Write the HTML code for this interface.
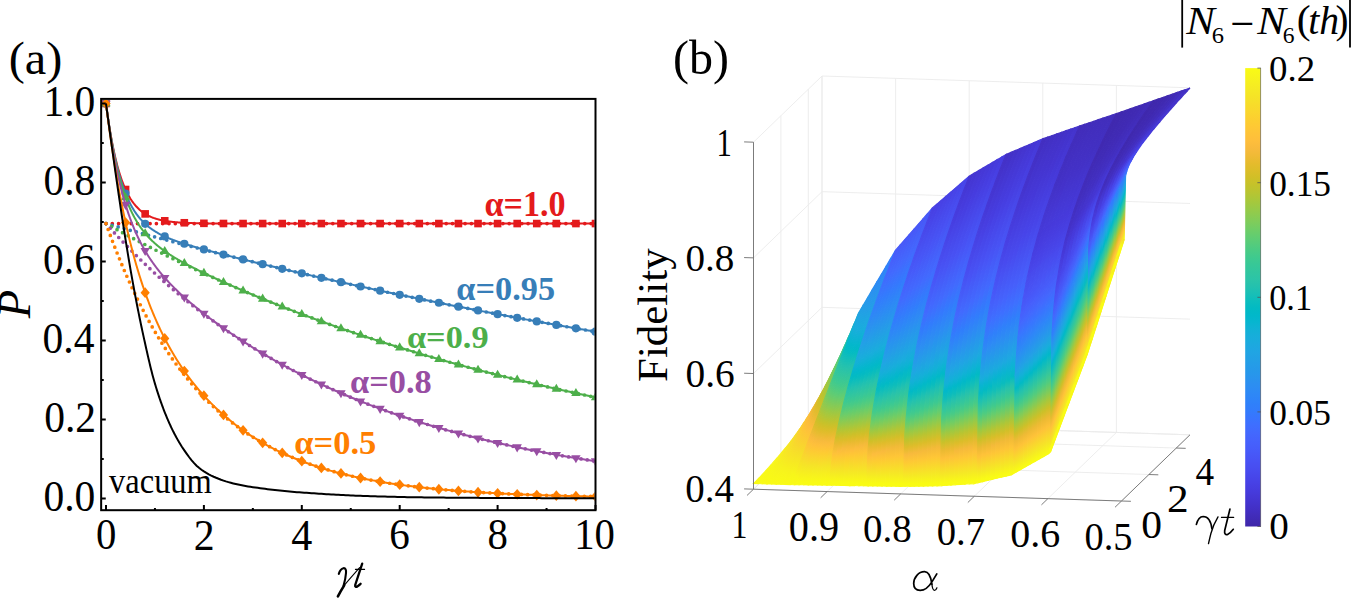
<!DOCTYPE html>
<html><head><meta charset="utf-8"><style>html,body{margin:0;padding:0;background:#fff;overflow:hidden}svg{display:block}</style></head>
<body><svg width="1351" height="599" viewBox="0 0 1351 599">
<rect width="1351" height="599" fill="#fff"/>
<defs><clipPath id='clipA'><rect x='102' y='99.9' width='492.6' height='409.3'/></clipPath></defs>
<g clip-path='url(#clipA)'>
<path d='M106.00,103.50 L106.49,107.22 L106.98,110.83 L107.47,114.33 L107.96,117.71 L108.45,120.99 L108.94,124.17 L109.43,127.26 L109.92,130.24 L110.41,133.14 L110.89,135.94 L111.38,138.66 L111.87,141.29 L112.36,143.84 L112.85,146.31 L113.34,148.71 L113.83,151.03 L114.32,153.28 L114.81,155.45 L115.30,157.57 L115.79,159.61 L116.28,161.59 L116.77,163.52 L117.26,165.38 L117.75,167.18 L118.24,168.93 L118.73,170.62 L119.22,172.26 L119.71,173.85 L120.20,175.40 L120.69,176.89 L121.17,178.34 L121.66,179.74 L122.15,181.10 L122.64,182.41 L123.13,183.69 L123.62,184.92 L124.11,186.12 L124.60,187.28 L125.09,188.41 L125.58,189.50 L126.07,190.55 L126.56,191.58 L127.05,192.57 L127.54,193.53 L128.03,194.46 L128.52,195.36 L129.01,196.24 L129.50,197.08 L129.99,197.90 L130.47,198.70 L130.96,199.47 L131.45,200.22 L131.94,200.94 L132.43,201.64 L132.92,202.32 L133.41,202.98 L133.90,203.62 L134.39,204.23 L134.88,204.83 L135.37,205.41 L135.86,205.98 L136.35,206.52 L136.84,207.05 L137.33,207.56 L137.82,208.06 L138.31,208.54 L138.80,209.00 L139.29,209.45 L139.78,209.89 L140.27,210.31 L140.75,210.72 L141.24,211.12 L141.73,211.51 L142.22,211.88 L142.71,212.24 L143.20,212.59 L143.69,212.93 L144.18,213.26 L144.67,213.58 L145.16,213.89 L145.65,214.19 L146.14,214.48 L146.63,214.76 L147.12,215.03 L147.61,215.30 L148.10,215.55 L148.59,215.80 L149.08,216.04 L149.57,216.27 L150.06,216.50 L150.54,216.72 L151.03,216.93 L151.52,217.14 L152.01,217.33 L152.50,217.53 L152.99,217.71 L153.48,217.90 L153.97,218.07 L154.46,218.24 L154.95,218.41 L155.44,218.56 L155.93,218.72 L156.42,218.87 L156.91,219.01 L157.40,219.15 L157.89,219.29 L158.38,219.42 L158.87,219.55 L159.36,219.68 L159.84,219.80 L160.33,219.91 L160.82,220.02 L161.31,220.13 L161.80,220.24 L162.29,220.34 L162.78,220.44 L163.27,220.54 L163.76,220.63 L164.25,220.72 L164.74,220.81 L165.23,220.89 L165.72,220.98 L166.21,221.06 L166.70,221.13 L167.19,221.21 L167.68,221.28 L168.17,221.35 L168.66,221.42 L169.15,221.49 L169.63,221.55 L170.12,221.61 L170.61,221.67 L171.10,221.73 L171.59,221.79 L172.08,221.84 L172.57,221.89 L173.06,221.95 L173.55,222.00 L174.04,222.04 L174.53,222.09 L175.02,222.14 L175.51,222.18 L176.00,222.22 L176.49,222.26 L176.98,222.30 L177.47,222.34 L177.96,222.38 L178.45,222.42 L178.94,222.45 L179.43,222.48 L181.87,222.64 L184.32,222.77 L186.77,222.89 L189.22,222.98 L191.66,223.07 L194.11,223.14 L196.56,223.20 L199.00,223.25 L201.45,223.29 L203.90,223.33 L206.35,223.36 L208.80,223.39 L211.24,223.41 L213.69,223.43 L216.14,223.45 L218.58,223.46 L221.03,223.48 L223.48,223.49 L225.93,223.50 L228.38,223.50 L230.82,223.51 L233.27,223.52 L235.72,223.52 L238.17,223.53 L240.61,223.53 L243.06,223.53 L245.51,223.53 L247.96,223.54 L250.40,223.54 L252.85,223.54 L255.30,223.54 L257.75,223.54 L260.19,223.54 L262.64,223.54 L265.09,223.55 L267.53,223.55 L269.98,223.55 L272.43,223.55 L274.88,223.55 L277.33,223.55 L279.77,223.55 L282.22,223.55 L284.67,223.55 L287.12,223.55 L289.56,223.55 L292.01,223.55 L294.46,223.55 L296.91,223.55 L299.35,223.55 L301.80,223.55 L304.25,223.55 L306.69,223.55 L309.14,223.55 L311.59,223.55 L314.04,223.55 L316.49,223.55 L318.93,223.55 L321.38,223.55 L323.83,223.55 L326.27,223.55 L328.72,223.55 L331.17,223.55 L333.62,223.55 L336.07,223.55 L338.51,223.55 L340.96,223.55 L343.41,223.55 L345.86,223.55 L348.30,223.55 L350.75,223.55 L353.20,223.55 L355.64,223.55 L358.09,223.55 L360.54,223.55 L362.99,223.55 L365.44,223.55 L367.88,223.55 L370.33,223.55 L372.78,223.55 L375.23,223.55 L377.67,223.55 L380.12,223.55 L382.57,223.55 L385.02,223.55 L387.46,223.55 L389.91,223.55 L392.36,223.55 L394.81,223.55 L397.25,223.55 L399.70,223.55 L402.15,223.55 L404.60,223.55 L407.04,223.55 L409.49,223.55 L411.94,223.55 L414.39,223.55 L416.83,223.55 L419.28,223.55 L421.73,223.55 L424.18,223.55 L426.62,223.55 L429.07,223.55 L431.52,223.55 L433.97,223.55 L436.41,223.55 L438.86,223.55 L441.31,223.55 L443.76,223.55 L446.20,223.55 L448.65,223.55 L451.10,223.55 L453.55,223.55 L455.99,223.55 L458.44,223.55 L460.89,223.55 L463.34,223.55 L465.78,223.55 L468.23,223.55 L470.68,223.55 L473.12,223.55 L475.57,223.55 L478.02,223.55 L480.47,223.55 L482.92,223.55 L485.36,223.55 L487.81,223.55 L490.26,223.55 L492.71,223.55 L495.15,223.55 L497.60,223.55 L500.05,223.55 L502.50,223.55 L504.94,223.55 L507.39,223.55 L509.84,223.55 L512.29,223.55 L514.73,223.55 L517.18,223.55 L519.63,223.55 L522.08,223.55 L524.52,223.55 L526.97,223.55 L529.42,223.55 L531.87,223.55 L534.31,223.55 L536.76,223.55 L539.21,223.55 L541.65,223.55 L544.10,223.55 L546.55,223.55 L549.00,223.55 L551.45,223.55 L553.89,223.55 L556.34,223.55 L558.79,223.55 L561.24,223.55 L563.68,223.55 L566.13,223.55 L568.58,223.55 L571.03,223.55 L573.47,223.55 L575.92,223.55 L578.37,223.55 L580.82,223.55 L583.26,223.55 L585.71,223.55 L588.16,223.55 L590.61,223.55 L593.05,223.55 L595.50,223.55' fill='none' stroke='#E41A1C' stroke-width='2' stroke-linejoin='round'/>
<path d='M106.00,223.55 L106.49,223.55 L106.98,223.55 L107.47,223.55 L107.96,223.55 L108.45,223.55 L108.94,223.55 L109.43,223.55 L109.92,223.55 L110.41,223.55 L110.89,223.55 L111.38,223.55 L111.87,223.55 L112.36,223.55 L112.85,223.55 L113.34,223.55 L113.83,223.55 L114.32,223.55 L114.81,223.55 L115.30,223.55 L115.79,223.55 L116.28,223.55 L116.77,223.55 L117.26,223.55 L117.75,223.55 L118.24,223.55 L118.73,223.55 L119.22,223.55 L119.71,223.55 L120.20,223.55 L120.69,223.55 L121.17,223.55 L121.66,223.55 L122.15,223.55 L122.64,223.55 L123.13,223.55 L123.62,223.55 L124.11,223.55 L124.60,223.55 L125.09,223.55 L125.58,223.55 L126.07,223.55 L126.56,223.55 L127.05,223.55 L127.54,223.55 L128.03,223.55 L128.52,223.55 L129.01,223.55 L129.50,223.55 L129.99,223.55 L130.47,223.55 L130.96,223.55 L131.45,223.55 L131.94,223.55 L132.43,223.55 L132.92,223.55 L133.41,223.55 L133.90,223.55 L134.39,223.55 L134.88,223.55 L135.37,223.55 L135.86,223.55 L136.35,223.55 L136.84,223.55 L137.33,223.55 L137.82,223.55 L138.31,223.55 L138.80,223.55 L139.29,223.55 L139.78,223.55 L140.27,223.55 L140.75,223.55 L141.24,223.55 L141.73,223.55 L142.22,223.55 L142.71,223.55 L143.20,223.55 L143.69,223.55 L144.18,223.55 L144.67,223.55 L145.16,223.55 L145.65,223.55 L146.14,223.55 L146.63,223.55 L147.12,223.55 L147.61,223.55 L148.10,223.55 L148.59,223.55 L149.08,223.55 L149.57,223.55 L150.06,223.55 L150.54,223.55 L151.03,223.55 L151.52,223.55 L152.01,223.55 L152.50,223.55 L152.99,223.55 L153.48,223.55 L153.97,223.55 L154.46,223.55 L154.95,223.55 L155.44,223.55 L155.93,223.55 L156.42,223.55 L156.91,223.55 L157.40,223.55 L157.89,223.55 L158.38,223.55 L158.87,223.55 L159.36,223.55 L159.84,223.55 L160.33,223.55 L160.82,223.55 L161.31,223.55 L161.80,223.55 L162.29,223.55 L162.78,223.55 L163.27,223.55 L163.76,223.55 L164.25,223.55 L164.74,223.55 L165.23,223.55 L165.72,223.55 L166.21,223.55 L166.70,223.55 L167.19,223.55 L167.68,223.55 L168.17,223.55 L168.66,223.55 L169.15,223.55 L169.63,223.55 L170.12,223.55 L170.61,223.55 L171.10,223.55 L171.59,223.55 L172.08,223.55 L172.57,223.55 L173.06,223.55 L173.55,223.55 L174.04,223.55 L174.53,223.55 L175.02,223.55 L175.51,223.55 L176.00,223.55 L176.49,223.55 L176.98,223.55 L177.47,223.55 L177.96,223.55 L178.45,223.55 L178.94,223.55 L179.43,223.55 L181.87,223.55 L184.32,223.55 L186.77,223.55 L189.22,223.55 L191.66,223.55 L194.11,223.55 L196.56,223.55 L199.00,223.55 L201.45,223.55 L203.90,223.55 L206.35,223.55 L208.80,223.55 L211.24,223.55 L213.69,223.55 L216.14,223.55 L218.58,223.55 L221.03,223.55 L223.48,223.55 L225.93,223.55 L228.38,223.55 L230.82,223.55 L233.27,223.55 L235.72,223.55 L238.17,223.55 L240.61,223.55 L243.06,223.55 L245.51,223.55 L247.96,223.55 L250.40,223.55 L252.85,223.55 L255.30,223.55 L257.75,223.55 L260.19,223.55 L262.64,223.55 L265.09,223.55 L267.53,223.55 L269.98,223.55 L272.43,223.55 L274.88,223.55 L277.33,223.55 L279.77,223.55 L282.22,223.55 L284.67,223.55 L287.12,223.55 L289.56,223.55 L292.01,223.55 L294.46,223.55 L296.91,223.55 L299.35,223.55 L301.80,223.55 L304.25,223.55 L306.69,223.55 L309.14,223.55 L311.59,223.55 L314.04,223.55 L316.49,223.55 L318.93,223.55 L321.38,223.55 L323.83,223.55 L326.27,223.55 L328.72,223.55 L331.17,223.55 L333.62,223.55 L336.07,223.55 L338.51,223.55 L340.96,223.55 L343.41,223.55 L345.86,223.55 L348.30,223.55 L350.75,223.55 L353.20,223.55 L355.64,223.55 L358.09,223.55 L360.54,223.55 L362.99,223.55 L365.44,223.55 L367.88,223.55 L370.33,223.55 L372.78,223.55 L375.23,223.55 L377.67,223.55 L380.12,223.55 L382.57,223.55 L385.02,223.55 L387.46,223.55 L389.91,223.55 L392.36,223.55 L394.81,223.55 L397.25,223.55 L399.70,223.55 L402.15,223.55 L404.60,223.55 L407.04,223.55 L409.49,223.55 L411.94,223.55 L414.39,223.55 L416.83,223.55 L419.28,223.55 L421.73,223.55 L424.18,223.55 L426.62,223.55 L429.07,223.55 L431.52,223.55 L433.97,223.55 L436.41,223.55 L438.86,223.55 L441.31,223.55 L443.76,223.55 L446.20,223.55 L448.65,223.55 L451.10,223.55 L453.55,223.55 L455.99,223.55 L458.44,223.55 L460.89,223.55 L463.34,223.55 L465.78,223.55 L468.23,223.55 L470.68,223.55 L473.12,223.55 L475.57,223.55 L478.02,223.55 L480.47,223.55 L482.92,223.55 L485.36,223.55 L487.81,223.55 L490.26,223.55 L492.71,223.55 L495.15,223.55 L497.60,223.55 L500.05,223.55 L502.50,223.55 L504.94,223.55 L507.39,223.55 L509.84,223.55 L512.29,223.55 L514.73,223.55 L517.18,223.55 L519.63,223.55 L522.08,223.55 L524.52,223.55 L526.97,223.55 L529.42,223.55 L531.87,223.55 L534.31,223.55 L536.76,223.55 L539.21,223.55 L541.65,223.55 L544.10,223.55 L546.55,223.55 L549.00,223.55 L551.45,223.55 L553.89,223.55 L556.34,223.55 L558.79,223.55 L561.24,223.55 L563.68,223.55 L566.13,223.55 L568.58,223.55 L571.03,223.55 L573.47,223.55 L575.92,223.55 L578.37,223.55 L580.82,223.55 L583.26,223.55 L585.71,223.55 L588.16,223.55 L590.61,223.55 L593.05,223.55 L595.50,223.55' fill='none' stroke='#E41A1C' stroke-width='3.7' stroke-linecap='round' stroke-dasharray='0 6.3'/>
<rect x='102.20' y='99.70' width='7.60' height='7.60' fill='#E41A1C'/>
<rect x='121.78' y='185.70' width='7.60' height='7.60' fill='#E41A1C'/>
<rect x='141.36' y='210.09' width='7.60' height='7.60' fill='#E41A1C'/>
<rect x='160.94' y='217.01' width='7.60' height='7.60' fill='#E41A1C'/>
<rect x='180.52' y='218.97' width='7.60' height='7.60' fill='#E41A1C'/>
<rect x='200.10' y='219.53' width='7.60' height='7.60' fill='#E41A1C'/>
<rect x='219.68' y='219.69' width='7.60' height='7.60' fill='#E41A1C'/>
<rect x='239.26' y='219.73' width='7.60' height='7.60' fill='#E41A1C'/>
<rect x='258.84' y='219.74' width='7.60' height='7.60' fill='#E41A1C'/>
<rect x='278.42' y='219.75' width='7.60' height='7.60' fill='#E41A1C'/>
<rect x='298.00' y='219.75' width='7.60' height='7.60' fill='#E41A1C'/>
<rect x='317.58' y='219.75' width='7.60' height='7.60' fill='#E41A1C'/>
<rect x='337.16' y='219.75' width='7.60' height='7.60' fill='#E41A1C'/>
<rect x='356.74' y='219.75' width='7.60' height='7.60' fill='#E41A1C'/>
<rect x='376.32' y='219.75' width='7.60' height='7.60' fill='#E41A1C'/>
<rect x='395.90' y='219.75' width='7.60' height='7.60' fill='#E41A1C'/>
<rect x='415.48' y='219.75' width='7.60' height='7.60' fill='#E41A1C'/>
<rect x='435.06' y='219.75' width='7.60' height='7.60' fill='#E41A1C'/>
<rect x='454.64' y='219.75' width='7.60' height='7.60' fill='#E41A1C'/>
<rect x='474.22' y='219.75' width='7.60' height='7.60' fill='#E41A1C'/>
<rect x='493.80' y='219.75' width='7.60' height='7.60' fill='#E41A1C'/>
<rect x='513.38' y='219.75' width='7.60' height='7.60' fill='#E41A1C'/>
<rect x='532.96' y='219.75' width='7.60' height='7.60' fill='#E41A1C'/>
<rect x='552.54' y='219.75' width='7.60' height='7.60' fill='#E41A1C'/>
<rect x='572.12' y='219.75' width='7.60' height='7.60' fill='#E41A1C'/>
<rect x='591.70' y='219.75' width='7.60' height='7.60' fill='#E41A1C'/>
<path d='M106.00,103.50 L106.49,107.24 L106.98,110.88 L107.47,114.41 L107.96,117.84 L108.45,121.17 L108.94,124.40 L109.43,127.54 L109.92,130.59 L110.41,133.55 L110.89,136.43 L111.38,139.22 L111.87,141.94 L112.36,144.58 L112.85,147.14 L113.34,149.63 L113.83,152.05 L114.32,154.40 L114.81,156.68 L115.30,158.90 L115.79,161.06 L116.28,163.15 L116.77,165.19 L117.26,167.17 L117.75,169.09 L118.24,170.96 L118.73,172.78 L119.22,174.55 L119.71,176.26 L120.20,177.94 L120.69,179.56 L121.17,181.14 L121.66,182.68 L122.15,184.17 L122.64,185.62 L123.13,187.04 L123.62,188.41 L124.11,189.75 L124.60,191.05 L125.09,192.32 L125.58,193.55 L126.07,194.75 L126.56,195.92 L127.05,197.05 L127.54,198.16 L128.03,199.24 L128.52,200.28 L129.01,201.30 L129.50,202.30 L129.99,203.27 L130.47,204.21 L130.96,205.13 L131.45,206.02 L131.94,206.90 L132.43,207.75 L132.92,208.57 L133.41,209.38 L133.90,210.17 L134.39,210.94 L134.88,211.69 L135.37,212.42 L135.86,213.13 L136.35,213.82 L136.84,214.50 L137.33,215.16 L137.82,215.80 L138.31,216.43 L138.80,217.05 L139.29,217.65 L139.78,218.24 L140.27,218.81 L140.75,219.37 L141.24,219.91 L141.73,220.45 L142.22,220.97 L142.71,221.48 L143.20,221.98 L143.69,222.46 L144.18,222.94 L144.67,223.41 L145.16,223.86 L145.65,224.31 L146.14,224.75 L146.63,225.17 L147.12,225.59 L147.61,226.00 L148.10,226.40 L148.59,226.80 L149.08,227.18 L149.57,227.56 L150.06,227.93 L150.54,228.29 L151.03,228.65 L151.52,229.00 L152.01,229.34 L152.50,229.68 L152.99,230.01 L153.48,230.33 L153.97,230.65 L154.46,230.96 L154.95,231.27 L155.44,231.57 L155.93,231.87 L156.42,232.16 L156.91,232.44 L157.40,232.73 L157.89,233.00 L158.38,233.28 L158.87,233.54 L159.36,233.81 L159.84,234.07 L160.33,234.32 L160.82,234.58 L161.31,234.82 L161.80,235.07 L162.29,235.31 L162.78,235.55 L163.27,235.78 L163.76,236.01 L164.25,236.24 L164.74,236.47 L165.23,236.69 L165.72,236.91 L166.21,237.12 L166.70,237.34 L167.19,237.55 L167.68,237.76 L168.17,237.96 L168.66,238.17 L169.15,238.37 L169.63,238.57 L170.12,238.77 L170.61,238.96 L171.10,239.15 L171.59,239.35 L172.08,239.53 L172.57,239.72 L173.06,239.91 L173.55,240.09 L174.04,240.27 L174.53,240.45 L175.02,240.63 L175.51,240.81 L176.00,240.98 L176.49,241.16 L176.98,241.33 L177.47,241.50 L177.96,241.67 L178.45,241.84 L178.94,242.01 L179.43,242.17 L181.87,242.98 L184.32,243.77 L186.77,244.53 L189.22,245.27 L191.66,246.00 L194.11,246.71 L196.56,247.41 L199.00,248.09 L201.45,248.77 L203.90,249.44 L206.35,250.09 L208.80,250.75 L211.24,251.39 L213.69,252.03 L216.14,252.67 L218.58,253.30 L221.03,253.93 L223.48,254.55 L225.93,255.17 L228.38,255.79 L230.82,256.40 L233.27,257.01 L235.72,257.62 L238.17,258.23 L240.61,258.83 L243.06,259.43 L245.51,260.03 L247.96,260.63 L250.40,261.23 L252.85,261.82 L255.30,262.41 L257.75,263.00 L260.19,263.59 L262.64,264.18 L265.09,264.77 L267.53,265.35 L269.98,265.93 L272.43,266.51 L274.88,267.09 L277.33,267.67 L279.77,268.25 L282.22,268.82 L284.67,269.40 L287.12,269.97 L289.56,270.54 L292.01,271.11 L294.46,271.68 L296.91,272.24 L299.35,272.81 L301.80,273.37 L304.25,273.93 L306.69,274.49 L309.14,275.05 L311.59,275.61 L314.04,276.17 L316.49,276.72 L318.93,277.28 L321.38,277.83 L323.83,278.38 L326.27,278.93 L328.72,279.48 L331.17,280.02 L333.62,280.57 L336.07,281.11 L338.51,281.65 L340.96,282.19 L343.41,282.73 L345.86,283.27 L348.30,283.81 L350.75,284.35 L353.20,284.88 L355.64,285.41 L358.09,285.95 L360.54,286.48 L362.99,287.01 L365.44,287.53 L367.88,288.06 L370.33,288.58 L372.78,289.11 L375.23,289.63 L377.67,290.15 L380.12,290.67 L382.57,291.19 L385.02,291.71 L387.46,292.22 L389.91,292.74 L392.36,293.25 L394.81,293.77 L397.25,294.28 L399.70,294.79 L402.15,295.29 L404.60,295.80 L407.04,296.31 L409.49,296.81 L411.94,297.32 L414.39,297.82 L416.83,298.32 L419.28,298.82 L421.73,299.32 L424.18,299.81 L426.62,300.31 L429.07,300.80 L431.52,301.30 L433.97,301.79 L436.41,302.28 L438.86,302.77 L441.31,303.26 L443.76,303.75 L446.20,304.23 L448.65,304.72 L451.10,305.20 L453.55,305.68 L455.99,306.16 L458.44,306.64 L460.89,307.12 L463.34,307.60 L465.78,308.08 L468.23,308.55 L470.68,309.03 L473.12,309.50 L475.57,309.97 L478.02,310.44 L480.47,310.91 L482.92,311.38 L485.36,311.84 L487.81,312.31 L490.26,312.78 L492.71,313.24 L495.15,313.70 L497.60,314.16 L500.05,314.62 L502.50,315.08 L504.94,315.54 L507.39,316.00 L509.84,316.45 L512.29,316.91 L514.73,317.36 L517.18,317.81 L519.63,318.26 L522.08,318.71 L524.52,319.16 L526.97,319.61 L529.42,320.05 L531.87,320.50 L534.31,320.94 L536.76,321.39 L539.21,321.83 L541.65,322.27 L544.10,322.71 L546.55,323.15 L549.00,323.59 L551.45,324.02 L553.89,324.46 L556.34,324.89 L558.79,325.32 L561.24,325.76 L563.68,326.19 L566.13,326.62 L568.58,327.05 L571.03,327.47 L573.47,327.90 L575.92,328.33 L578.37,328.75 L580.82,329.18 L583.26,329.60 L585.71,330.02 L588.16,330.44 L590.61,330.86 L593.05,331.28 L595.50,331.69' fill='none' stroke='#377EB8' stroke-width='2' stroke-linejoin='round'/>
<path d='M106.00,223.55 L106.49,223.69 L106.98,223.82 L107.47,223.96 L107.96,224.10 L108.45,224.24 L108.94,224.37 L109.43,224.51 L109.92,224.65 L110.41,224.78 L110.89,224.92 L111.38,225.06 L111.87,225.19 L112.36,225.33 L112.85,225.47 L113.34,225.60 L113.83,225.74 L114.32,225.88 L114.81,226.01 L115.30,226.15 L115.79,226.28 L116.28,226.42 L116.77,226.56 L117.26,226.69 L117.75,226.83 L118.24,226.96 L118.73,227.10 L119.22,227.24 L119.71,227.37 L120.20,227.51 L120.69,227.64 L121.17,227.78 L121.66,227.91 L122.15,228.05 L122.64,228.18 L123.13,228.32 L123.62,228.45 L124.11,228.59 L124.60,228.72 L125.09,228.86 L125.58,228.99 L126.07,229.13 L126.56,229.26 L127.05,229.40 L127.54,229.53 L128.03,229.66 L128.52,229.80 L129.01,229.93 L129.50,230.07 L129.99,230.20 L130.47,230.34 L130.96,230.47 L131.45,230.60 L131.94,230.74 L132.43,230.87 L132.92,231.01 L133.41,231.14 L133.90,231.27 L134.39,231.41 L134.88,231.54 L135.37,231.67 L135.86,231.81 L136.35,231.94 L136.84,232.07 L137.33,232.21 L137.82,232.34 L138.31,232.47 L138.80,232.60 L139.29,232.74 L139.78,232.87 L140.27,233.00 L140.75,233.14 L141.24,233.27 L141.73,233.40 L142.22,233.53 L142.71,233.67 L143.20,233.80 L143.69,233.93 L144.18,234.06 L144.67,234.19 L145.16,234.33 L145.65,234.46 L146.14,234.59 L146.63,234.72 L147.12,234.85 L147.61,234.99 L148.10,235.12 L148.59,235.25 L149.08,235.38 L149.57,235.51 L150.06,235.64 L150.54,235.78 L151.03,235.91 L151.52,236.04 L152.01,236.17 L152.50,236.30 L152.99,236.43 L153.48,236.56 L153.97,236.69 L154.46,236.82 L154.95,236.95 L155.44,237.08 L155.93,237.22 L156.42,237.35 L156.91,237.48 L157.40,237.61 L157.89,237.74 L158.38,237.87 L158.87,238.00 L159.36,238.13 L159.84,238.26 L160.33,238.39 L160.82,238.52 L161.31,238.65 L161.80,238.78 L162.29,238.91 L162.78,239.04 L163.27,239.17 L163.76,239.30 L164.25,239.43 L164.74,239.56 L165.23,239.69 L165.72,239.81 L166.21,239.94 L166.70,240.07 L167.19,240.20 L167.68,240.33 L168.17,240.46 L168.66,240.59 L169.15,240.72 L169.63,240.85 L170.12,240.98 L170.61,241.10 L171.10,241.23 L171.59,241.36 L172.08,241.49 L172.57,241.62 L173.06,241.75 L173.55,241.87 L174.04,242.00 L174.53,242.13 L175.02,242.26 L175.51,242.39 L176.00,242.52 L176.49,242.64 L176.98,242.77 L177.47,242.90 L177.96,243.03 L178.45,243.15 L178.94,243.28 L179.43,243.41 L181.87,244.05 L184.32,244.68 L186.77,245.31 L189.22,245.95 L191.66,246.58 L194.11,247.21 L196.56,247.83 L199.00,248.46 L201.45,249.08 L203.90,249.71 L206.35,250.33 L208.80,250.95 L211.24,251.56 L213.69,252.18 L216.14,252.79 L218.58,253.41 L221.03,254.02 L223.48,254.63 L225.93,255.24 L228.38,255.85 L230.82,256.45 L233.27,257.06 L235.72,257.66 L238.17,258.26 L240.61,258.86 L243.06,259.46 L245.51,260.05 L247.96,260.65 L250.40,261.24 L252.85,261.83 L255.30,262.42 L257.75,263.01 L260.19,263.60 L262.64,264.19 L265.09,264.77 L267.53,265.36 L269.98,265.94 L272.43,266.52 L274.88,267.10 L277.33,267.67 L279.77,268.25 L282.22,268.83 L284.67,269.40 L287.12,269.97 L289.56,270.54 L292.01,271.11 L294.46,271.68 L296.91,272.24 L299.35,272.81 L301.80,273.37 L304.25,273.93 L306.69,274.49 L309.14,275.05 L311.59,275.61 L314.04,276.17 L316.49,276.72 L318.93,277.28 L321.38,277.83 L323.83,278.38 L326.27,278.93 L328.72,279.48 L331.17,280.02 L333.62,280.57 L336.07,281.11 L338.51,281.65 L340.96,282.20 L343.41,282.73 L345.86,283.27 L348.30,283.81 L350.75,284.35 L353.20,284.88 L355.64,285.41 L358.09,285.95 L360.54,286.48 L362.99,287.01 L365.44,287.53 L367.88,288.06 L370.33,288.58 L372.78,289.11 L375.23,289.63 L377.67,290.15 L380.12,290.67 L382.57,291.19 L385.02,291.71 L387.46,292.22 L389.91,292.74 L392.36,293.25 L394.81,293.77 L397.25,294.28 L399.70,294.79 L402.15,295.29 L404.60,295.80 L407.04,296.31 L409.49,296.81 L411.94,297.32 L414.39,297.82 L416.83,298.32 L419.28,298.82 L421.73,299.32 L424.18,299.81 L426.62,300.31 L429.07,300.80 L431.52,301.30 L433.97,301.79 L436.41,302.28 L438.86,302.77 L441.31,303.26 L443.76,303.75 L446.20,304.23 L448.65,304.72 L451.10,305.20 L453.55,305.68 L455.99,306.16 L458.44,306.64 L460.89,307.12 L463.34,307.60 L465.78,308.08 L468.23,308.55 L470.68,309.03 L473.12,309.50 L475.57,309.97 L478.02,310.44 L480.47,310.91 L482.92,311.38 L485.36,311.84 L487.81,312.31 L490.26,312.78 L492.71,313.24 L495.15,313.70 L497.60,314.16 L500.05,314.62 L502.50,315.08 L504.94,315.54 L507.39,316.00 L509.84,316.45 L512.29,316.91 L514.73,317.36 L517.18,317.81 L519.63,318.26 L522.08,318.71 L524.52,319.16 L526.97,319.61 L529.42,320.05 L531.87,320.50 L534.31,320.94 L536.76,321.39 L539.21,321.83 L541.65,322.27 L544.10,322.71 L546.55,323.15 L549.00,323.59 L551.45,324.02 L553.89,324.46 L556.34,324.89 L558.79,325.32 L561.24,325.76 L563.68,326.19 L566.13,326.62 L568.58,327.05 L571.03,327.47 L573.47,327.90 L575.92,328.33 L578.37,328.75 L580.82,329.18 L583.26,329.60 L585.71,330.02 L588.16,330.44 L590.61,330.86 L593.05,331.28 L595.50,331.69' fill='none' stroke='#377EB8' stroke-width='3.7' stroke-linecap='round' stroke-dasharray='0 6.3'/>
<circle cx='106.00' cy='103.50' r='4.1' fill='#377EB8'/>
<circle cx='125.58' cy='193.55' r='4.1' fill='#377EB8'/>
<circle cx='145.16' cy='223.86' r='4.1' fill='#377EB8'/>
<circle cx='164.74' cy='236.47' r='4.1' fill='#377EB8'/>
<circle cx='184.32' cy='243.77' r='4.1' fill='#377EB8'/>
<circle cx='203.90' cy='249.44' r='4.1' fill='#377EB8'/>
<circle cx='223.48' cy='254.55' r='4.1' fill='#377EB8'/>
<circle cx='243.06' cy='259.43' r='4.1' fill='#377EB8'/>
<circle cx='262.64' cy='264.18' r='4.1' fill='#377EB8'/>
<circle cx='282.22' cy='268.82' r='4.1' fill='#377EB8'/>
<circle cx='301.80' cy='273.37' r='4.1' fill='#377EB8'/>
<circle cx='321.38' cy='277.83' r='4.1' fill='#377EB8'/>
<circle cx='340.96' cy='282.19' r='4.1' fill='#377EB8'/>
<circle cx='360.54' cy='286.48' r='4.1' fill='#377EB8'/>
<circle cx='380.12' cy='290.67' r='4.1' fill='#377EB8'/>
<circle cx='399.70' cy='294.79' r='4.1' fill='#377EB8'/>
<circle cx='419.28' cy='298.82' r='4.1' fill='#377EB8'/>
<circle cx='438.86' cy='302.77' r='4.1' fill='#377EB8'/>
<circle cx='458.44' cy='306.64' r='4.1' fill='#377EB8'/>
<circle cx='478.02' cy='310.44' r='4.1' fill='#377EB8'/>
<circle cx='497.60' cy='314.16' r='4.1' fill='#377EB8'/>
<circle cx='517.18' cy='317.81' r='4.1' fill='#377EB8'/>
<circle cx='536.76' cy='321.39' r='4.1' fill='#377EB8'/>
<circle cx='556.34' cy='324.89' r='4.1' fill='#377EB8'/>
<circle cx='575.92' cy='328.33' r='4.1' fill='#377EB8'/>
<circle cx='595.50' cy='331.69' r='4.1' fill='#377EB8'/>
<path d='M106.00,103.50 L106.49,107.26 L106.98,110.93 L107.47,114.49 L107.96,117.96 L108.45,121.33 L108.94,124.62 L109.43,127.82 L109.92,130.93 L110.41,133.96 L110.89,136.90 L111.38,139.77 L111.87,142.57 L112.36,145.29 L112.85,147.94 L113.34,150.52 L113.83,153.03 L114.32,155.48 L114.81,157.86 L115.30,160.18 L115.79,162.45 L116.28,164.65 L116.77,166.80 L117.26,168.89 L117.75,170.93 L118.24,172.91 L118.73,174.85 L119.22,176.74 L119.71,178.58 L120.20,180.38 L120.69,182.13 L121.17,183.83 L121.66,185.50 L122.15,187.12 L122.64,188.71 L123.13,190.25 L123.62,191.76 L124.11,193.23 L124.60,194.67 L125.09,196.07 L125.58,197.44 L126.07,198.77 L126.56,200.08 L127.05,201.35 L127.54,202.60 L128.03,203.81 L128.52,205.00 L129.01,206.16 L129.50,207.30 L129.99,208.41 L130.47,209.49 L130.96,210.55 L131.45,211.59 L131.94,212.60 L132.43,213.59 L132.92,214.56 L133.41,215.51 L133.90,216.44 L134.39,217.35 L134.88,218.24 L135.37,219.11 L135.86,219.96 L136.35,220.80 L136.84,221.61 L137.33,222.42 L137.82,223.20 L138.31,223.97 L138.80,224.73 L139.29,225.47 L139.78,226.19 L140.27,226.91 L140.75,227.61 L141.24,228.29 L141.73,228.96 L142.22,229.62 L142.71,230.27 L143.20,230.91 L143.69,231.53 L144.18,232.15 L144.67,232.75 L145.16,233.35 L145.65,233.93 L146.14,234.50 L146.63,235.07 L147.12,235.62 L147.61,236.17 L148.10,236.70 L148.59,237.23 L149.08,237.75 L149.57,238.26 L150.06,238.77 L150.54,239.26 L151.03,239.75 L151.52,240.23 L152.01,240.71 L152.50,241.18 L152.99,241.64 L153.48,242.09 L153.97,242.54 L154.46,242.98 L154.95,243.42 L155.44,243.85 L155.93,244.28 L156.42,244.70 L156.91,245.11 L157.40,245.52 L157.89,245.93 L158.38,246.33 L158.87,246.72 L159.36,247.12 L159.84,247.50 L160.33,247.88 L160.82,248.26 L161.31,248.64 L161.80,249.01 L162.29,249.37 L162.78,249.73 L163.27,250.09 L163.76,250.45 L164.25,250.80 L164.74,251.15 L165.23,251.49 L165.72,251.83 L166.21,252.17 L166.70,252.51 L167.19,252.84 L167.68,253.17 L168.17,253.50 L168.66,253.82 L169.15,254.14 L169.63,254.46 L170.12,254.78 L170.61,255.09 L171.10,255.40 L171.59,255.71 L172.08,256.02 L172.57,256.33 L173.06,256.63 L173.55,256.93 L174.04,257.23 L174.53,257.53 L175.02,257.82 L175.51,258.11 L176.00,258.41 L176.49,258.69 L176.98,258.98 L177.47,259.27 L177.96,259.55 L178.45,259.84 L178.94,260.12 L179.43,260.40 L181.87,261.77 L184.32,263.12 L186.77,264.43 L189.22,265.72 L191.66,266.99 L194.11,268.23 L196.56,269.46 L199.00,270.67 L201.45,271.86 L203.90,273.04 L206.35,274.21 L208.80,275.37 L211.24,276.51 L213.69,277.65 L216.14,278.77 L218.58,279.89 L221.03,280.99 L223.48,282.09 L225.93,283.19 L228.38,284.27 L230.82,285.35 L233.27,286.42 L235.72,287.48 L238.17,288.54 L240.61,289.60 L243.06,290.64 L245.51,291.68 L247.96,292.72 L250.40,293.75 L252.85,294.77 L255.30,295.79 L257.75,296.80 L260.19,297.81 L262.64,298.81 L265.09,299.80 L267.53,300.80 L269.98,301.78 L272.43,302.76 L274.88,303.74 L277.33,304.71 L279.77,305.68 L282.22,306.64 L284.67,307.60 L287.12,308.55 L289.56,309.50 L292.01,310.44 L294.46,311.38 L296.91,312.31 L299.35,313.24 L301.80,314.16 L304.25,315.08 L306.69,315.99 L309.14,316.90 L311.59,317.81 L314.04,318.71 L316.49,319.61 L318.93,320.50 L321.38,321.39 L323.83,322.27 L326.27,323.15 L328.72,324.02 L331.17,324.89 L333.62,325.76 L336.07,326.62 L338.51,327.47 L340.96,328.33 L343.41,329.18 L345.86,330.02 L348.30,330.86 L350.75,331.69 L353.20,332.53 L355.64,333.35 L358.09,334.18 L360.54,335.00 L362.99,335.81 L365.44,336.62 L367.88,337.43 L370.33,338.23 L372.78,339.03 L375.23,339.83 L377.67,340.62 L380.12,341.40 L382.57,342.19 L385.02,342.97 L387.46,343.74 L389.91,344.51 L392.36,345.28 L394.81,346.04 L397.25,346.80 L399.70,347.56 L402.15,348.31 L404.60,349.06 L407.04,349.80 L409.49,350.55 L411.94,351.28 L414.39,352.02 L416.83,352.75 L419.28,353.47 L421.73,354.20 L424.18,354.92 L426.62,355.63 L429.07,356.34 L431.52,357.05 L433.97,357.76 L436.41,358.46 L438.86,359.16 L441.31,359.85 L443.76,360.54 L446.20,361.23 L448.65,361.91 L451.10,362.59 L453.55,363.27 L455.99,363.95 L458.44,364.62 L460.89,365.28 L463.34,365.95 L465.78,366.61 L468.23,367.27 L470.68,367.92 L473.12,368.57 L475.57,369.22 L478.02,369.86 L480.47,370.50 L482.92,371.14 L485.36,371.78 L487.81,372.41 L490.26,373.04 L492.71,373.66 L495.15,374.28 L497.60,374.90 L500.05,375.52 L502.50,376.13 L504.94,376.74 L507.39,377.35 L509.84,377.95 L512.29,378.55 L514.73,379.15 L517.18,379.74 L519.63,380.34 L522.08,380.92 L524.52,381.51 L526.97,382.09 L529.42,382.67 L531.87,383.25 L534.31,383.83 L536.76,384.40 L539.21,384.97 L541.65,385.53 L544.10,386.09 L546.55,386.65 L549.00,387.21 L551.45,387.77 L553.89,388.32 L556.34,388.87 L558.79,389.41 L561.24,389.96 L563.68,390.50 L566.13,391.04 L568.58,391.57 L571.03,392.10 L573.47,392.63 L575.92,393.16 L578.37,393.69 L580.82,394.21 L583.26,394.73 L585.71,395.25 L588.16,395.76 L590.61,396.27 L593.05,396.78 L595.50,397.29' fill='none' stroke='#4DAF4A' stroke-width='2' stroke-linejoin='round'/>
<path d='M106.00,223.55 L106.49,223.82 L106.98,224.10 L107.47,224.37 L107.96,224.65 L108.45,224.92 L108.94,225.19 L109.43,225.47 L109.92,225.74 L110.41,226.01 L110.89,226.28 L111.38,226.56 L111.87,226.83 L112.36,227.10 L112.85,227.37 L113.34,227.64 L113.83,227.91 L114.32,228.18 L114.81,228.45 L115.30,228.72 L115.79,228.99 L116.28,229.26 L116.77,229.53 L117.26,229.80 L117.75,230.07 L118.24,230.34 L118.73,230.60 L119.22,230.87 L119.71,231.14 L120.20,231.41 L120.69,231.67 L121.17,231.94 L121.66,232.21 L122.15,232.47 L122.64,232.74 L123.13,233.00 L123.62,233.27 L124.11,233.53 L124.60,233.80 L125.09,234.06 L125.58,234.33 L126.07,234.59 L126.56,234.85 L127.05,235.12 L127.54,235.38 L128.03,235.64 L128.52,235.91 L129.01,236.17 L129.50,236.43 L129.99,236.69 L130.47,236.95 L130.96,237.22 L131.45,237.48 L131.94,237.74 L132.43,238.00 L132.92,238.26 L133.41,238.52 L133.90,238.78 L134.39,239.04 L134.88,239.30 L135.37,239.56 L135.86,239.81 L136.35,240.07 L136.84,240.33 L137.33,240.59 L137.82,240.85 L138.31,241.10 L138.80,241.36 L139.29,241.62 L139.78,241.87 L140.27,242.13 L140.75,242.39 L141.24,242.64 L141.73,242.90 L142.22,243.15 L142.71,243.41 L143.20,243.66 L143.69,243.92 L144.18,244.17 L144.67,244.43 L145.16,244.68 L145.65,244.93 L146.14,245.19 L146.63,245.44 L147.12,245.69 L147.61,245.95 L148.10,246.20 L148.59,246.45 L149.08,246.70 L149.57,246.95 L150.06,247.21 L150.54,247.46 L151.03,247.71 L151.52,247.96 L152.01,248.21 L152.50,248.46 L152.99,248.71 L153.48,248.96 L153.97,249.21 L154.46,249.46 L154.95,249.71 L155.44,249.95 L155.93,250.20 L156.42,250.45 L156.91,250.70 L157.40,250.95 L157.89,251.19 L158.38,251.44 L158.87,251.69 L159.36,251.93 L159.84,252.18 L160.33,252.43 L160.82,252.67 L161.31,252.92 L161.80,253.16 L162.29,253.41 L162.78,253.65 L163.27,253.90 L163.76,254.14 L164.25,254.39 L164.74,254.63 L165.23,254.87 L165.72,255.12 L166.21,255.36 L166.70,255.60 L167.19,255.85 L167.68,256.09 L168.17,256.33 L168.66,256.57 L169.15,256.81 L169.63,257.06 L170.12,257.30 L170.61,257.54 L171.10,257.78 L171.59,258.02 L172.08,258.26 L172.57,258.50 L173.06,258.74 L173.55,258.98 L174.04,259.22 L174.53,259.46 L175.02,259.70 L175.51,259.93 L176.00,260.17 L176.49,260.41 L176.98,260.65 L177.47,260.89 L177.96,261.12 L178.45,261.36 L178.94,261.60 L179.43,261.83 L181.87,263.01 L184.32,264.19 L186.77,265.36 L189.22,266.52 L191.66,267.67 L194.11,268.83 L196.56,269.97 L199.00,271.11 L201.45,272.24 L203.90,273.37 L206.35,274.49 L208.80,275.61 L211.24,276.72 L213.69,277.83 L216.14,278.93 L218.58,280.02 L221.03,281.11 L223.48,282.20 L225.93,283.27 L228.38,284.35 L230.82,285.41 L233.27,286.48 L235.72,287.53 L238.17,288.58 L240.61,289.63 L243.06,290.67 L245.51,291.71 L247.96,292.74 L250.40,293.77 L252.85,294.79 L255.30,295.80 L257.75,296.81 L260.19,297.82 L262.64,298.82 L265.09,299.81 L267.53,300.80 L269.98,301.79 L272.43,302.77 L274.88,303.75 L277.33,304.72 L279.77,305.68 L282.22,306.64 L284.67,307.60 L287.12,308.55 L289.56,309.50 L292.01,310.44 L294.46,311.38 L296.91,312.31 L299.35,313.24 L301.80,314.16 L304.25,315.08 L306.69,316.00 L309.14,316.91 L311.59,317.81 L314.04,318.71 L316.49,319.61 L318.93,320.50 L321.38,321.39 L323.83,322.27 L326.27,323.15 L328.72,324.02 L331.17,324.89 L333.62,325.76 L336.07,326.62 L338.51,327.47 L340.96,328.33 L343.41,329.18 L345.86,330.02 L348.30,330.86 L350.75,331.69 L353.20,332.53 L355.64,333.35 L358.09,334.18 L360.54,335.00 L362.99,335.81 L365.44,336.62 L367.88,337.43 L370.33,338.23 L372.78,339.03 L375.23,339.83 L377.67,340.62 L380.12,341.40 L382.57,342.19 L385.02,342.97 L387.46,343.74 L389.91,344.51 L392.36,345.28 L394.81,346.04 L397.25,346.80 L399.70,347.56 L402.15,348.31 L404.60,349.06 L407.04,349.80 L409.49,350.55 L411.94,351.28 L414.39,352.02 L416.83,352.75 L419.28,353.47 L421.73,354.20 L424.18,354.92 L426.62,355.63 L429.07,356.34 L431.52,357.05 L433.97,357.76 L436.41,358.46 L438.86,359.16 L441.31,359.85 L443.76,360.54 L446.20,361.23 L448.65,361.91 L451.10,362.59 L453.55,363.27 L455.99,363.95 L458.44,364.62 L460.89,365.28 L463.34,365.95 L465.78,366.61 L468.23,367.27 L470.68,367.92 L473.12,368.57 L475.57,369.22 L478.02,369.86 L480.47,370.50 L482.92,371.14 L485.36,371.78 L487.81,372.41 L490.26,373.04 L492.71,373.66 L495.15,374.28 L497.60,374.90 L500.05,375.52 L502.50,376.13 L504.94,376.74 L507.39,377.35 L509.84,377.95 L512.29,378.55 L514.73,379.15 L517.18,379.74 L519.63,380.34 L522.08,380.92 L524.52,381.51 L526.97,382.09 L529.42,382.67 L531.87,383.25 L534.31,383.83 L536.76,384.40 L539.21,384.97 L541.65,385.53 L544.10,386.09 L546.55,386.65 L549.00,387.21 L551.45,387.77 L553.89,388.32 L556.34,388.87 L558.79,389.41 L561.24,389.96 L563.68,390.50 L566.13,391.04 L568.58,391.57 L571.03,392.10 L573.47,392.63 L575.92,393.16 L578.37,393.69 L580.82,394.21 L583.26,394.73 L585.71,395.25 L588.16,395.76 L590.61,396.27 L593.05,396.78 L595.50,397.29' fill='none' stroke='#4DAF4A' stroke-width='3.7' stroke-linecap='round' stroke-dasharray='0 6.3'/>
<polygon points='106.00,98.30 110.68,106.36 101.32,106.36' fill='#4DAF4A'/>
<polygon points='125.58,192.24 130.26,200.30 120.90,200.30' fill='#4DAF4A'/>
<polygon points='145.16,228.15 149.84,236.21 140.48,236.21' fill='#4DAF4A'/>
<polygon points='164.74,245.95 169.42,254.01 160.06,254.01' fill='#4DAF4A'/>
<polygon points='184.32,257.92 189.00,265.98 179.64,265.98' fill='#4DAF4A'/>
<polygon points='203.90,267.84 208.58,275.90 199.22,275.90' fill='#4DAF4A'/>
<polygon points='223.48,276.89 228.16,284.95 218.80,284.95' fill='#4DAF4A'/>
<polygon points='243.06,285.44 247.74,293.50 238.38,293.50' fill='#4DAF4A'/>
<polygon points='262.64,293.61 267.32,301.67 257.96,301.67' fill='#4DAF4A'/>
<polygon points='282.22,301.44 286.90,309.50 277.54,309.50' fill='#4DAF4A'/>
<polygon points='301.80,308.96 306.48,317.02 297.12,317.02' fill='#4DAF4A'/>
<polygon points='321.38,316.19 326.06,324.25 316.70,324.25' fill='#4DAF4A'/>
<polygon points='340.96,323.13 345.64,331.19 336.28,331.19' fill='#4DAF4A'/>
<polygon points='360.54,329.80 365.22,337.86 355.86,337.86' fill='#4DAF4A'/>
<polygon points='380.12,336.20 384.80,344.26 375.44,344.26' fill='#4DAF4A'/>
<polygon points='399.70,342.36 404.38,350.42 395.02,350.42' fill='#4DAF4A'/>
<polygon points='419.28,348.27 423.96,356.33 414.60,356.33' fill='#4DAF4A'/>
<polygon points='438.86,353.96 443.54,362.02 434.18,362.02' fill='#4DAF4A'/>
<polygon points='458.44,359.42 463.12,367.48 453.76,367.48' fill='#4DAF4A'/>
<polygon points='478.02,364.66 482.70,372.72 473.34,372.72' fill='#4DAF4A'/>
<polygon points='497.60,369.70 502.28,377.76 492.92,377.76' fill='#4DAF4A'/>
<polygon points='517.18,374.54 521.86,382.60 512.50,382.60' fill='#4DAF4A'/>
<polygon points='536.76,379.20 541.44,387.26 532.08,387.26' fill='#4DAF4A'/>
<polygon points='556.34,383.67 561.02,391.73 551.66,391.73' fill='#4DAF4A'/>
<polygon points='575.92,387.96 580.60,396.02 571.24,396.02' fill='#4DAF4A'/>
<polygon points='595.50,392.09 600.18,400.15 590.82,400.15' fill='#4DAF4A'/>
<path d='M106.00,103.50 L106.49,107.31 L106.98,111.02 L107.47,114.65 L107.96,118.20 L108.45,121.66 L108.94,125.04 L109.43,128.34 L109.92,131.57 L110.41,134.72 L110.89,137.81 L111.38,140.82 L111.87,143.76 L112.36,146.64 L112.85,149.45 L113.34,152.20 L113.83,154.89 L114.32,157.52 L114.81,160.09 L115.30,162.60 L115.79,165.06 L116.28,167.47 L116.77,169.82 L117.26,172.13 L117.75,174.38 L118.24,176.59 L118.73,178.75 L119.22,180.86 L119.71,182.93 L120.20,184.96 L120.69,186.95 L121.17,188.89 L121.66,190.79 L122.15,192.66 L122.64,194.49 L123.13,196.28 L123.62,198.04 L124.11,199.76 L124.60,201.44 L125.09,203.10 L125.58,204.72 L126.07,206.31 L126.56,207.87 L127.05,209.40 L127.54,210.90 L128.03,212.38 L128.52,213.82 L129.01,215.24 L129.50,216.64 L129.99,218.01 L130.47,219.35 L130.96,220.67 L131.45,221.97 L131.94,223.24 L132.43,224.50 L132.92,225.73 L133.41,226.94 L133.90,228.12 L134.39,229.29 L134.88,230.44 L135.37,231.57 L135.86,232.69 L136.35,233.78 L136.84,234.86 L137.33,235.92 L137.82,236.96 L138.31,237.99 L138.80,239.00 L139.29,240.00 L139.78,240.98 L140.27,241.94 L140.75,242.90 L141.24,243.84 L141.73,244.76 L142.22,245.67 L142.71,246.57 L143.20,247.46 L143.69,248.33 L144.18,249.20 L144.67,250.05 L145.16,250.89 L145.65,251.71 L146.14,252.53 L146.63,253.34 L147.12,254.14 L147.61,254.93 L148.10,255.70 L148.59,256.47 L149.08,257.23 L149.57,257.98 L150.06,258.72 L150.54,259.45 L151.03,260.18 L151.52,260.90 L152.01,261.60 L152.50,262.30 L152.99,263.00 L153.48,263.68 L153.97,264.36 L154.46,265.03 L154.95,265.70 L155.44,266.35 L155.93,267.01 L156.42,267.65 L156.91,268.29 L157.40,268.92 L157.89,269.55 L158.38,270.17 L158.87,270.78 L159.36,271.39 L159.84,272.00 L160.33,272.60 L160.82,273.19 L161.31,273.78 L161.80,274.36 L162.29,274.94 L162.78,275.52 L163.27,276.09 L163.76,276.65 L164.25,277.21 L164.74,277.77 L165.23,278.32 L165.72,278.87 L166.21,279.41 L166.70,279.95 L167.19,280.49 L167.68,281.02 L168.17,281.55 L168.66,282.07 L169.15,282.59 L169.63,283.11 L170.12,283.63 L170.61,284.14 L171.10,284.65 L171.59,285.15 L172.08,285.65 L172.57,286.15 L173.06,286.65 L173.55,287.14 L174.04,287.63 L174.53,288.12 L175.02,288.60 L175.51,289.08 L176.00,289.56 L176.49,290.04 L176.98,290.51 L177.47,290.98 L177.96,291.45 L178.45,291.92 L178.94,292.38 L179.43,292.85 L181.87,295.12 L184.32,297.34 L186.77,299.52 L189.22,301.65 L191.66,303.74 L194.11,305.79 L196.56,307.81 L199.00,309.79 L201.45,311.75 L203.90,313.67 L206.35,315.57 L208.80,317.44 L211.24,319.28 L213.69,321.10 L216.14,322.90 L218.58,324.68 L221.03,326.43 L223.48,328.16 L225.93,329.88 L228.38,331.57 L230.82,333.25 L233.27,334.90 L235.72,336.54 L238.17,338.16 L240.61,339.76 L243.06,341.35 L245.51,342.92 L247.96,344.47 L250.40,346.01 L252.85,347.53 L255.30,349.03 L257.75,350.52 L260.19,352.00 L262.64,353.46 L265.09,354.90 L267.53,356.33 L269.98,357.74 L272.43,359.15 L274.88,360.53 L277.33,361.91 L279.77,363.26 L282.22,364.61 L284.67,365.94 L287.12,367.26 L289.56,368.57 L292.01,369.86 L294.46,371.14 L296.91,372.40 L299.35,373.66 L301.80,374.90 L304.25,376.13 L306.69,377.35 L309.14,378.55 L311.59,379.74 L314.04,380.92 L316.49,382.09 L318.93,383.25 L321.38,384.40 L323.83,385.53 L326.27,386.65 L328.72,387.77 L331.17,388.87 L333.62,389.96 L336.07,391.04 L338.51,392.10 L340.96,393.16 L343.41,394.21 L345.86,395.25 L348.30,396.27 L350.75,397.29 L353.20,398.29 L355.64,399.29 L358.09,400.28 L360.54,401.25 L362.99,402.22 L365.44,403.18 L367.88,404.12 L370.33,405.06 L372.78,405.99 L375.23,406.91 L377.67,407.82 L380.12,408.72 L382.57,409.61 L385.02,410.50 L387.46,411.37 L389.91,412.24 L392.36,413.10 L394.81,413.94 L397.25,414.78 L399.70,415.62 L402.15,416.44 L404.60,417.26 L407.04,418.06 L409.49,418.86 L411.94,419.65 L414.39,420.44 L416.83,421.21 L419.28,421.98 L421.73,422.74 L424.18,423.49 L426.62,424.24 L429.07,424.98 L431.52,425.71 L433.97,426.43 L436.41,427.15 L438.86,427.86 L441.31,428.56 L443.76,429.25 L446.20,429.94 L448.65,430.62 L451.10,431.30 L453.55,431.96 L455.99,432.63 L458.44,433.28 L460.89,433.93 L463.34,434.57 L465.78,435.20 L468.23,435.83 L470.68,436.46 L473.12,437.07 L475.57,437.68 L478.02,438.29 L480.47,438.89 L482.92,439.48 L485.36,440.06 L487.81,440.64 L490.26,441.22 L492.71,441.79 L495.15,442.35 L497.60,442.91 L500.05,443.46 L502.50,444.01 L504.94,444.55 L507.39,445.08 L509.84,445.62 L512.29,446.14 L514.73,446.66 L517.18,447.18 L519.63,447.68 L522.08,448.19 L524.52,448.69 L526.97,449.18 L529.42,449.67 L531.87,450.16 L534.31,450.64 L536.76,451.11 L539.21,451.58 L541.65,452.05 L544.10,452.51 L546.55,452.97 L549.00,453.42 L551.45,453.87 L553.89,454.31 L556.34,454.75 L558.79,455.18 L561.24,455.61 L563.68,456.04 L566.13,456.46 L568.58,456.88 L571.03,457.29 L573.47,457.70 L575.92,458.11 L578.37,458.51 L580.82,458.90 L583.26,459.30 L585.71,459.69 L588.16,460.07 L590.61,460.45 L593.05,460.83 L595.50,461.20' fill='none' stroke='#984EA3' stroke-width='2' stroke-linejoin='round'/>
<path d='M106.00,223.55 L106.49,224.10 L106.98,224.65 L107.47,225.19 L107.96,225.74 L108.45,226.28 L108.94,226.83 L109.43,227.37 L109.92,227.91 L110.41,228.45 L110.89,228.99 L111.38,229.53 L111.87,230.07 L112.36,230.60 L112.85,231.14 L113.34,231.67 L113.83,232.21 L114.32,232.74 L114.81,233.27 L115.30,233.80 L115.79,234.33 L116.28,234.85 L116.77,235.38 L117.26,235.91 L117.75,236.43 L118.24,236.95 L118.73,237.48 L119.22,238.00 L119.71,238.52 L120.20,239.04 L120.69,239.56 L121.17,240.07 L121.66,240.59 L122.15,241.10 L122.64,241.62 L123.13,242.13 L123.62,242.64 L124.11,243.15 L124.60,243.66 L125.09,244.17 L125.58,244.68 L126.07,245.19 L126.56,245.69 L127.05,246.20 L127.54,246.70 L128.03,247.21 L128.52,247.71 L129.01,248.21 L129.50,248.71 L129.99,249.21 L130.47,249.71 L130.96,250.20 L131.45,250.70 L131.94,251.19 L132.43,251.69 L132.92,252.18 L133.41,252.67 L133.90,253.16 L134.39,253.65 L134.88,254.14 L135.37,254.63 L135.86,255.12 L136.35,255.60 L136.84,256.09 L137.33,256.57 L137.82,257.06 L138.31,257.54 L138.80,258.02 L139.29,258.50 L139.78,258.98 L140.27,259.46 L140.75,259.93 L141.24,260.41 L141.73,260.89 L142.22,261.36 L142.71,261.83 L143.20,262.31 L143.69,262.78 L144.18,263.25 L144.67,263.72 L145.16,264.19 L145.65,264.66 L146.14,265.12 L146.63,265.59 L147.12,266.05 L147.61,266.52 L148.10,266.98 L148.59,267.44 L149.08,267.91 L149.57,268.37 L150.06,268.83 L150.54,269.28 L151.03,269.74 L151.52,270.20 L152.01,270.65 L152.50,271.11 L152.99,271.56 L153.48,272.02 L153.97,272.47 L154.46,272.92 L154.95,273.37 L155.44,273.82 L155.93,274.27 L156.42,274.72 L156.91,275.16 L157.40,275.61 L157.89,276.06 L158.38,276.50 L158.87,276.94 L159.36,277.39 L159.84,277.83 L160.33,278.27 L160.82,278.71 L161.31,279.15 L161.80,279.58 L162.29,280.02 L162.78,280.46 L163.27,280.89 L163.76,281.33 L164.25,281.76 L164.74,282.20 L165.23,282.63 L165.72,283.06 L166.21,283.49 L166.70,283.92 L167.19,284.35 L167.68,284.77 L168.17,285.20 L168.66,285.63 L169.15,286.05 L169.63,286.48 L170.12,286.90 L170.61,287.32 L171.10,287.74 L171.59,288.16 L172.08,288.58 L172.57,289.00 L173.06,289.42 L173.55,289.84 L174.04,290.26 L174.53,290.67 L175.02,291.09 L175.51,291.50 L176.00,291.92 L176.49,292.33 L176.98,292.74 L177.47,293.15 L177.96,293.56 L178.45,293.97 L178.94,294.38 L179.43,294.79 L181.87,296.81 L184.32,298.82 L186.77,300.80 L189.22,302.77 L191.66,304.72 L194.11,306.64 L196.56,308.55 L199.00,310.44 L201.45,312.31 L203.90,314.16 L206.35,316.00 L208.80,317.81 L211.24,319.61 L213.69,321.39 L216.14,323.15 L218.58,324.89 L221.03,326.62 L223.48,328.33 L225.93,330.02 L228.38,331.69 L230.82,333.35 L233.27,335.00 L235.72,336.62 L238.17,338.23 L240.61,339.83 L243.06,341.40 L245.51,342.97 L247.96,344.51 L250.40,346.04 L252.85,347.56 L255.30,349.06 L257.75,350.55 L260.19,352.02 L262.64,353.47 L265.09,354.92 L267.53,356.34 L269.98,357.76 L272.43,359.16 L274.88,360.54 L277.33,361.91 L279.77,363.27 L282.22,364.62 L284.67,365.95 L287.12,367.27 L289.56,368.57 L292.01,369.86 L294.46,371.14 L296.91,372.41 L299.35,373.66 L301.80,374.90 L304.25,376.13 L306.69,377.35 L309.14,378.55 L311.59,379.74 L314.04,380.92 L316.49,382.09 L318.93,383.25 L321.38,384.40 L323.83,385.53 L326.27,386.65 L328.72,387.77 L331.17,388.87 L333.62,389.96 L336.07,391.04 L338.51,392.10 L340.96,393.16 L343.41,394.21 L345.86,395.25 L348.30,396.27 L350.75,397.29 L353.20,398.29 L355.64,399.29 L358.09,400.28 L360.54,401.25 L362.99,402.22 L365.44,403.18 L367.88,404.12 L370.33,405.06 L372.78,405.99 L375.23,406.91 L377.67,407.82 L380.12,408.72 L382.57,409.61 L385.02,410.50 L387.46,411.37 L389.91,412.24 L392.36,413.10 L394.81,413.94 L397.25,414.78 L399.70,415.62 L402.15,416.44 L404.60,417.26 L407.04,418.06 L409.49,418.86 L411.94,419.65 L414.39,420.44 L416.83,421.21 L419.28,421.98 L421.73,422.74 L424.18,423.49 L426.62,424.24 L429.07,424.98 L431.52,425.71 L433.97,426.43 L436.41,427.15 L438.86,427.86 L441.31,428.56 L443.76,429.25 L446.20,429.94 L448.65,430.62 L451.10,431.30 L453.55,431.96 L455.99,432.63 L458.44,433.28 L460.89,433.93 L463.34,434.57 L465.78,435.20 L468.23,435.83 L470.68,436.46 L473.12,437.07 L475.57,437.68 L478.02,438.29 L480.47,438.89 L482.92,439.48 L485.36,440.06 L487.81,440.64 L490.26,441.22 L492.71,441.79 L495.15,442.35 L497.60,442.91 L500.05,443.46 L502.50,444.01 L504.94,444.55 L507.39,445.08 L509.84,445.62 L512.29,446.14 L514.73,446.66 L517.18,447.18 L519.63,447.68 L522.08,448.19 L524.52,448.69 L526.97,449.18 L529.42,449.67 L531.87,450.16 L534.31,450.64 L536.76,451.11 L539.21,451.58 L541.65,452.05 L544.10,452.51 L546.55,452.97 L549.00,453.42 L551.45,453.87 L553.89,454.31 L556.34,454.75 L558.79,455.18 L561.24,455.61 L563.68,456.04 L566.13,456.46 L568.58,456.88 L571.03,457.29 L573.47,457.70 L575.92,458.11 L578.37,458.51 L580.82,458.90 L583.26,459.30 L585.71,459.69 L588.16,460.07 L590.61,460.45 L593.05,460.83 L595.50,461.20' fill='none' stroke='#984EA3' stroke-width='3.7' stroke-linecap='round' stroke-dasharray='0 6.3'/>
<polygon points='106.00,108.70 110.68,100.64 101.32,100.64' fill='#984EA3'/>
<polygon points='125.58,209.92 130.26,201.86 120.90,201.86' fill='#984EA3'/>
<polygon points='145.16,256.09 149.84,248.03 140.48,248.03' fill='#984EA3'/>
<polygon points='164.74,282.97 169.42,274.91 160.06,274.91' fill='#984EA3'/>
<polygon points='184.32,302.54 189.00,294.48 179.64,294.48' fill='#984EA3'/>
<polygon points='203.90,318.87 208.58,310.81 199.22,310.81' fill='#984EA3'/>
<polygon points='223.48,333.36 228.16,325.30 218.80,325.30' fill='#984EA3'/>
<polygon points='243.06,346.55 247.74,338.49 238.38,338.49' fill='#984EA3'/>
<polygon points='262.64,358.66 267.32,350.60 257.96,350.60' fill='#984EA3'/>
<polygon points='282.22,369.81 286.90,361.75 277.54,361.75' fill='#984EA3'/>
<polygon points='301.80,380.10 306.48,372.04 297.12,372.04' fill='#984EA3'/>
<polygon points='321.38,389.60 326.06,381.54 316.70,381.54' fill='#984EA3'/>
<polygon points='340.96,398.36 345.64,390.30 336.28,390.30' fill='#984EA3'/>
<polygon points='360.54,406.45 365.22,398.39 355.86,398.39' fill='#984EA3'/>
<polygon points='380.12,413.92 384.80,405.86 375.44,405.86' fill='#984EA3'/>
<polygon points='399.70,420.82 404.38,412.76 395.02,412.76' fill='#984EA3'/>
<polygon points='419.28,427.18 423.96,419.12 414.60,419.12' fill='#984EA3'/>
<polygon points='438.86,433.06 443.54,425.00 434.18,425.00' fill='#984EA3'/>
<polygon points='458.44,438.48 463.12,430.42 453.76,430.42' fill='#984EA3'/>
<polygon points='478.02,443.49 482.70,435.43 473.34,435.43' fill='#984EA3'/>
<polygon points='497.60,448.11 502.28,440.05 492.92,440.05' fill='#984EA3'/>
<polygon points='517.18,452.38 521.86,444.32 512.50,444.32' fill='#984EA3'/>
<polygon points='536.76,456.31 541.44,448.25 532.08,448.25' fill='#984EA3'/>
<polygon points='556.34,459.95 561.02,451.89 551.66,451.89' fill='#984EA3'/>
<polygon points='575.92,463.31 580.60,455.25 571.24,455.25' fill='#984EA3'/>
<polygon points='595.50,466.40 600.18,458.34 590.82,458.34' fill='#984EA3'/>
<path d='M106.00,103.50 L106.49,107.42 L106.98,111.29 L107.47,115.09 L107.96,118.84 L108.45,122.52 L108.94,126.15 L109.43,129.73 L109.92,133.25 L110.41,136.71 L110.89,140.13 L111.38,143.49 L111.87,146.81 L112.36,150.07 L112.85,153.29 L113.34,156.45 L113.83,159.57 L114.32,162.65 L114.81,165.68 L115.30,168.67 L115.79,171.61 L116.28,174.51 L116.77,177.37 L117.26,180.19 L117.75,182.97 L118.24,185.71 L118.73,188.41 L119.22,191.08 L119.71,193.70 L120.20,196.29 L120.69,198.85 L121.17,201.37 L121.66,203.85 L122.15,206.30 L122.64,208.72 L123.13,211.11 L123.62,213.46 L124.11,215.79 L124.60,218.08 L125.09,220.34 L125.58,222.57 L126.07,224.77 L126.56,226.95 L127.05,229.09 L127.54,231.21 L128.03,233.30 L128.52,235.37 L129.01,237.41 L129.50,239.42 L129.99,241.41 L130.47,243.37 L130.96,245.31 L131.45,247.23 L131.94,249.12 L132.43,250.99 L132.92,252.83 L133.41,254.66 L133.90,256.46 L134.39,258.24 L134.88,260.00 L135.37,261.74 L135.86,263.46 L136.35,265.16 L136.84,266.84 L137.33,268.49 L137.82,270.14 L138.31,271.76 L138.80,273.36 L139.29,274.95 L139.78,276.51 L140.27,278.06 L140.75,279.60 L141.24,281.11 L141.73,282.61 L142.22,284.09 L142.71,285.56 L143.20,287.01 L143.69,288.45 L144.18,289.87 L144.67,291.27 L145.16,292.67 L145.65,294.04 L146.14,295.40 L146.63,296.75 L147.12,298.09 L147.61,299.41 L148.10,300.71 L148.59,302.01 L149.08,303.29 L149.57,304.55 L150.06,305.81 L150.54,307.05 L151.03,308.28 L151.52,309.50 L152.01,310.71 L152.50,311.90 L152.99,313.09 L153.48,314.26 L153.97,315.42 L154.46,316.57 L154.95,317.71 L155.44,318.84 L155.93,319.96 L156.42,321.07 L156.91,322.16 L157.40,323.25 L157.89,324.33 L158.38,325.40 L158.87,326.46 L159.36,327.51 L159.84,328.55 L160.33,329.58 L160.82,330.60 L161.31,331.61 L161.80,332.62 L162.29,333.61 L162.78,334.60 L163.27,335.58 L163.76,336.55 L164.25,337.51 L164.74,338.46 L165.23,339.41 L165.72,340.35 L166.21,341.28 L166.70,342.20 L167.19,343.11 L167.68,344.02 L168.17,344.92 L168.66,345.81 L169.15,346.70 L169.63,347.58 L170.12,348.45 L170.61,349.32 L171.10,350.17 L171.59,351.02 L172.08,351.87 L172.57,352.71 L173.06,353.54 L173.55,354.36 L174.04,355.18 L174.53,356.00 L175.02,356.80 L175.51,357.60 L176.00,358.40 L176.49,359.19 L176.98,359.97 L177.47,360.75 L177.96,361.52 L178.45,362.28 L178.94,363.04 L179.43,363.80 L181.87,367.49 L184.32,371.05 L186.77,374.49 L189.22,377.82 L191.66,381.04 L194.11,384.15 L196.56,387.16 L199.00,390.08 L201.45,392.91 L203.90,395.66 L206.35,398.32 L208.80,400.91 L211.24,403.41 L213.69,405.85 L216.14,408.22 L218.58,410.52 L221.03,412.75 L223.48,414.93 L225.93,417.04 L228.38,419.10 L230.82,421.10 L233.27,423.05 L235.72,424.94 L238.17,426.79 L240.61,428.58 L243.06,430.33 L245.51,432.03 L247.96,433.69 L250.40,435.31 L252.85,436.88 L255.30,438.42 L257.75,439.91 L260.19,441.37 L262.64,442.79 L265.09,444.17 L267.53,445.52 L269.98,446.83 L272.43,448.11 L274.88,449.36 L277.33,450.57 L279.77,451.76 L282.22,452.92 L284.67,454.04 L287.12,455.14 L289.56,456.21 L292.01,457.26 L294.46,458.28 L296.91,459.27 L299.35,460.24 L301.80,461.18 L304.25,462.10 L306.69,463.00 L309.14,463.87 L311.59,464.73 L314.04,465.56 L316.49,466.37 L318.93,467.16 L321.38,467.94 L323.83,468.69 L326.27,469.42 L328.72,470.14 L331.17,470.84 L333.62,471.52 L336.07,472.18 L338.51,472.83 L340.96,473.46 L343.41,474.08 L345.86,474.68 L348.30,475.26 L350.75,475.84 L353.20,476.39 L355.64,476.94 L358.09,477.47 L360.54,477.98 L362.99,478.49 L365.44,478.98 L367.88,479.46 L370.33,479.93 L372.78,480.38 L375.23,480.83 L377.67,481.26 L380.12,481.69 L382.57,482.10 L385.02,482.50 L387.46,482.89 L389.91,483.28 L392.36,483.65 L394.81,484.01 L397.25,484.37 L399.70,484.72 L402.15,485.05 L404.60,485.38 L407.04,485.70 L409.49,486.02 L411.94,486.32 L414.39,486.62 L416.83,486.91 L419.28,487.20 L421.73,487.47 L424.18,487.74 L426.62,488.01 L429.07,488.26 L431.52,488.51 L433.97,488.76 L436.41,489.00 L438.86,489.23 L441.31,489.45 L443.76,489.67 L446.20,489.89 L448.65,490.10 L451.10,490.31 L453.55,490.50 L455.99,490.70 L458.44,490.89 L460.89,491.08 L463.34,491.26 L465.78,491.43 L468.23,491.60 L470.68,491.77 L473.12,491.94 L475.57,492.10 L478.02,492.25 L480.47,492.40 L482.92,492.55 L485.36,492.70 L487.81,492.84 L490.26,492.97 L492.71,493.11 L495.15,493.24 L497.60,493.37 L500.05,493.49 L502.50,493.61 L504.94,493.73 L507.39,493.84 L509.84,493.96 L512.29,494.07 L514.73,494.17 L517.18,494.28 L519.63,494.38 L522.08,494.48 L524.52,494.58 L526.97,494.67 L529.42,494.76 L531.87,494.85 L534.31,494.94 L536.76,495.03 L539.21,495.11 L541.65,495.19 L544.10,495.27 L546.55,495.35 L549.00,495.42 L551.45,495.50 L553.89,495.57 L556.34,495.64 L558.79,495.71 L561.24,495.77 L563.68,495.84 L566.13,495.90 L568.58,495.96 L571.03,496.02 L573.47,496.08 L575.92,496.14 L578.37,496.19 L580.82,496.25 L583.26,496.30 L585.71,496.35 L588.16,496.40 L590.61,496.45 L593.05,496.50 L595.50,496.55' fill='none' stroke='#FF7F00' stroke-width='2' stroke-linejoin='round'/>
<path d='M106.00,223.55 L106.49,224.92 L106.98,226.28 L107.47,227.64 L107.96,228.99 L108.45,230.34 L108.94,231.67 L109.43,233.00 L109.92,234.33 L110.41,235.64 L110.89,236.95 L111.38,238.26 L111.87,239.56 L112.36,240.85 L112.85,242.13 L113.34,243.41 L113.83,244.68 L114.32,245.95 L114.81,247.21 L115.30,248.46 L115.79,249.71 L116.28,250.95 L116.77,252.18 L117.26,253.41 L117.75,254.63 L118.24,255.85 L118.73,257.06 L119.22,258.26 L119.71,259.46 L120.20,260.65 L120.69,261.83 L121.17,263.01 L121.66,264.19 L122.15,265.36 L122.64,266.52 L123.13,267.67 L123.62,268.83 L124.11,269.97 L124.60,271.11 L125.09,272.24 L125.58,273.37 L126.07,274.49 L126.56,275.61 L127.05,276.72 L127.54,277.83 L128.03,278.93 L128.52,280.02 L129.01,281.11 L129.50,282.20 L129.99,283.27 L130.47,284.35 L130.96,285.41 L131.45,286.48 L131.94,287.53 L132.43,288.58 L132.92,289.63 L133.41,290.67 L133.90,291.71 L134.39,292.74 L134.88,293.77 L135.37,294.79 L135.86,295.80 L136.35,296.81 L136.84,297.82 L137.33,298.82 L137.82,299.81 L138.31,300.80 L138.80,301.79 L139.29,302.77 L139.78,303.75 L140.27,304.72 L140.75,305.68 L141.24,306.64 L141.73,307.60 L142.22,308.55 L142.71,309.50 L143.20,310.44 L143.69,311.38 L144.18,312.31 L144.67,313.24 L145.16,314.16 L145.65,315.08 L146.14,316.00 L146.63,316.91 L147.12,317.81 L147.61,318.71 L148.10,319.61 L148.59,320.50 L149.08,321.39 L149.57,322.27 L150.06,323.15 L150.54,324.02 L151.03,324.89 L151.52,325.76 L152.01,326.62 L152.50,327.47 L152.99,328.33 L153.48,329.18 L153.97,330.02 L154.46,330.86 L154.95,331.69 L155.44,332.53 L155.93,333.35 L156.42,334.18 L156.91,335.00 L157.40,335.81 L157.89,336.62 L158.38,337.43 L158.87,338.23 L159.36,339.03 L159.84,339.83 L160.33,340.62 L160.82,341.40 L161.31,342.19 L161.80,342.97 L162.29,343.74 L162.78,344.51 L163.27,345.28 L163.76,346.04 L164.25,346.80 L164.74,347.56 L165.23,348.31 L165.72,349.06 L166.21,349.80 L166.70,350.55 L167.19,351.28 L167.68,352.02 L168.17,352.75 L168.66,353.47 L169.15,354.20 L169.63,354.92 L170.12,355.63 L170.61,356.34 L171.10,357.05 L171.59,357.76 L172.08,358.46 L172.57,359.16 L173.06,359.85 L173.55,360.54 L174.04,361.23 L174.53,361.91 L175.02,362.59 L175.51,363.27 L176.00,363.95 L176.49,364.62 L176.98,365.28 L177.47,365.95 L177.96,366.61 L178.45,367.27 L178.94,367.92 L179.43,368.57 L181.87,371.78 L184.32,374.90 L186.77,377.95 L189.22,380.92 L191.66,383.83 L194.11,386.65 L196.56,389.41 L199.00,392.10 L201.45,394.73 L203.90,397.29 L206.35,399.78 L208.80,402.22 L211.24,404.59 L213.69,406.91 L216.14,409.17 L218.58,411.37 L221.03,413.52 L223.48,415.62 L225.93,417.66 L228.38,419.65 L230.82,421.60 L233.27,423.49 L235.72,425.34 L238.17,427.15 L240.61,428.91 L243.06,430.62 L245.51,432.30 L247.96,433.93 L250.40,435.52 L252.85,437.07 L255.30,438.59 L257.75,440.06 L260.19,441.50 L262.64,442.91 L265.09,444.28 L267.53,445.62 L269.98,446.92 L272.43,448.19 L274.88,449.43 L277.33,450.64 L279.77,451.82 L282.22,452.97 L284.67,454.09 L287.12,455.18 L289.56,456.25 L292.01,457.29 L294.46,458.31 L296.91,459.30 L299.35,460.26 L301.80,461.20 L304.25,462.12 L306.69,463.02 L309.14,463.89 L311.59,464.74 L314.04,465.57 L316.49,466.38 L318.93,467.17 L321.38,467.95 L323.83,468.70 L326.27,469.43 L328.72,470.15 L331.17,470.84 L333.62,471.52 L336.07,472.19 L338.51,472.83 L340.96,473.47 L343.41,474.08 L345.86,474.68 L348.30,475.27 L350.75,475.84 L353.20,476.40 L355.64,476.94 L358.09,477.47 L360.54,477.99 L362.99,478.49 L365.44,478.98 L367.88,479.46 L370.33,479.93 L372.78,480.38 L375.23,480.83 L377.67,481.26 L380.12,481.69 L382.57,482.10 L385.02,482.50 L387.46,482.89 L389.91,483.28 L392.36,483.65 L394.81,484.01 L397.25,484.37 L399.70,484.72 L402.15,485.05 L404.60,485.38 L407.04,485.70 L409.49,486.02 L411.94,486.32 L414.39,486.62 L416.83,486.91 L419.28,487.20 L421.73,487.47 L424.18,487.74 L426.62,488.01 L429.07,488.26 L431.52,488.51 L433.97,488.76 L436.41,489.00 L438.86,489.23 L441.31,489.45 L443.76,489.67 L446.20,489.89 L448.65,490.10 L451.10,490.31 L453.55,490.51 L455.99,490.70 L458.44,490.89 L460.89,491.08 L463.34,491.26 L465.78,491.43 L468.23,491.60 L470.68,491.77 L473.12,491.94 L475.57,492.10 L478.02,492.25 L480.47,492.40 L482.92,492.55 L485.36,492.70 L487.81,492.84 L490.26,492.97 L492.71,493.11 L495.15,493.24 L497.60,493.37 L500.05,493.49 L502.50,493.61 L504.94,493.73 L507.39,493.84 L509.84,493.96 L512.29,494.07 L514.73,494.17 L517.18,494.28 L519.63,494.38 L522.08,494.48 L524.52,494.58 L526.97,494.67 L529.42,494.76 L531.87,494.85 L534.31,494.94 L536.76,495.03 L539.21,495.11 L541.65,495.19 L544.10,495.27 L546.55,495.35 L549.00,495.42 L551.45,495.50 L553.89,495.57 L556.34,495.64 L558.79,495.71 L561.24,495.77 L563.68,495.84 L566.13,495.90 L568.58,495.96 L571.03,496.02 L573.47,496.08 L575.92,496.14 L578.37,496.19 L580.82,496.25 L583.26,496.30 L585.71,496.35 L588.16,496.40 L590.61,496.45 L593.05,496.50 L595.50,496.55' fill='none' stroke='#FF7F00' stroke-width='3.7' stroke-linecap='round' stroke-dasharray='0 6.3'/>
<polygon points='106.00,98.10 110.60,103.50 106.00,108.90 101.40,103.50' fill='#FF7F00'/>
<polygon points='125.58,217.17 130.18,222.57 125.58,227.97 120.98,222.57' fill='#FF7F00'/>
<polygon points='145.16,287.27 149.76,292.67 145.16,298.07 140.56,292.67' fill='#FF7F00'/>
<polygon points='164.74,333.06 169.34,338.46 164.74,343.86 160.14,338.46' fill='#FF7F00'/>
<polygon points='184.32,365.65 188.92,371.05 184.32,376.45 179.72,371.05' fill='#FF7F00'/>
<polygon points='203.90,390.26 208.50,395.66 203.90,401.06 199.30,395.66' fill='#FF7F00'/>
<polygon points='223.48,409.53 228.08,414.93 223.48,420.33 218.88,414.93' fill='#FF7F00'/>
<polygon points='243.06,424.93 247.66,430.33 243.06,435.73 238.46,430.33' fill='#FF7F00'/>
<polygon points='262.64,437.39 267.24,442.79 262.64,448.19 258.04,442.79' fill='#FF7F00'/>
<polygon points='282.22,447.52 286.82,452.92 282.22,458.32 277.62,452.92' fill='#FF7F00'/>
<polygon points='301.80,455.78 306.40,461.18 301.80,466.58 297.20,461.18' fill='#FF7F00'/>
<polygon points='321.38,462.54 325.98,467.94 321.38,473.34 316.78,467.94' fill='#FF7F00'/>
<polygon points='340.96,468.06 345.56,473.46 340.96,478.86 336.36,473.46' fill='#FF7F00'/>
<polygon points='360.54,472.58 365.14,477.98 360.54,483.38 355.94,477.98' fill='#FF7F00'/>
<polygon points='380.12,476.29 384.72,481.69 380.12,487.09 375.52,481.69' fill='#FF7F00'/>
<polygon points='399.70,479.32 404.30,484.72 399.70,490.12 395.10,484.72' fill='#FF7F00'/>
<polygon points='419.28,481.80 423.88,487.20 419.28,492.60 414.68,487.20' fill='#FF7F00'/>
<polygon points='438.86,483.83 443.46,489.23 438.86,494.63 434.26,489.23' fill='#FF7F00'/>
<polygon points='458.44,485.49 463.04,490.89 458.44,496.29 453.84,490.89' fill='#FF7F00'/>
<polygon points='478.02,486.85 482.62,492.25 478.02,497.65 473.42,492.25' fill='#FF7F00'/>
<polygon points='497.60,487.97 502.20,493.37 497.60,498.77 493.00,493.37' fill='#FF7F00'/>
<polygon points='517.18,488.88 521.78,494.28 517.18,499.68 512.58,494.28' fill='#FF7F00'/>
<polygon points='536.76,489.63 541.36,495.03 536.76,500.43 532.16,495.03' fill='#FF7F00'/>
<polygon points='556.34,490.24 560.94,495.64 556.34,501.04 551.74,495.64' fill='#FF7F00'/>
<polygon points='575.92,490.74 580.52,496.14 575.92,501.54 571.32,496.14' fill='#FF7F00'/>
<polygon points='595.50,491.15 600.10,496.55 595.50,501.95 590.90,496.55' fill='#FF7F00'/>
<path d='M106.00,103.50 L106.49,107.14 L106.98,110.78 L107.47,114.41 L107.96,118.03 L108.45,121.65 L108.94,125.25 L109.43,128.85 L109.92,132.44 L110.41,136.02 L110.89,139.58 L111.38,143.14 L111.87,146.68 L112.36,150.21 L112.85,153.72 L113.34,157.22 L113.83,160.71 L114.32,164.18 L114.81,167.64 L115.30,171.08 L115.79,174.50 L116.28,177.91 L116.77,181.29 L117.26,184.67 L117.75,188.04 L118.24,191.40 L118.73,194.74 L119.22,198.08 L119.71,201.40 L120.20,204.70 L120.69,207.99 L121.17,211.26 L121.66,214.52 L122.15,217.75 L122.64,220.97 L123.13,224.17 L123.62,227.35 L124.11,230.50 L124.60,233.64 L125.09,236.75 L125.58,239.84 L126.07,242.90 L126.56,245.94 L127.05,248.96 L127.54,251.94 L128.03,254.91 L128.52,257.84 L129.01,260.75 L129.50,263.63 L129.99,266.49 L130.47,269.32 L130.96,272.13 L131.45,274.91 L131.94,277.67 L132.43,280.40 L132.92,283.11 L133.41,285.80 L133.90,288.46 L134.39,291.10 L134.88,293.72 L135.37,296.32 L135.86,298.89 L136.35,301.44 L136.84,303.97 L137.33,306.47 L137.82,308.96 L138.31,311.42 L138.80,313.86 L139.29,316.28 L139.78,318.68 L140.27,321.06 L140.75,323.41 L141.24,325.75 L141.73,328.07 L142.22,330.36 L142.71,332.64 L143.20,334.90 L143.69,337.13 L144.18,339.35 L144.67,341.57 L145.16,343.78 L145.65,345.99 L146.14,348.19 L146.63,350.38 L147.12,352.56 L147.61,354.72 L148.10,356.86 L148.59,358.98 L149.08,361.07 L149.57,363.14 L150.06,365.17 L150.54,367.18 L151.03,369.16 L151.52,371.10 L152.01,373.01 L152.50,374.88 L152.99,376.71 L153.48,378.50 L153.97,380.25 L154.46,381.97 L154.95,383.65 L155.44,385.30 L155.93,386.92 L156.42,388.52 L156.91,390.09 L157.40,391.63 L157.89,393.15 L158.38,394.65 L158.87,396.12 L159.36,397.57 L159.84,399.00 L160.33,400.41 L160.82,401.80 L161.31,403.18 L161.80,404.53 L162.29,405.87 L162.78,407.19 L163.27,408.49 L163.76,409.78 L164.25,411.05 L164.74,412.30 L165.23,413.53 L165.72,414.74 L166.21,415.94 L166.70,417.12 L167.19,418.29 L167.68,419.44 L168.17,420.57 L168.66,421.69 L169.15,422.79 L169.63,423.87 L170.12,424.95 L170.61,426.00 L171.10,427.05 L171.59,428.08 L172.08,429.09 L172.57,430.09 L173.06,431.08 L173.55,432.05 L174.04,433.01 L174.53,433.96 L175.02,434.89 L175.51,435.81 L176.00,436.72 L176.49,437.61 L176.98,438.50 L177.47,439.37 L177.96,440.22 L178.45,441.07 L178.94,441.90 L179.43,442.73 L181.87,446.68 L184.32,450.37 L186.77,453.89 L189.22,457.25 L191.66,460.36 L194.11,463.19 L196.56,465.68 L199.00,467.84 L201.45,469.70 L203.90,471.38 L206.35,472.90 L208.80,474.29 L211.24,475.56 L213.69,476.72 L216.14,477.79 L218.58,478.79 L221.03,479.72 L223.48,480.58 L225.93,481.38 L228.38,482.12 L230.82,482.80 L233.27,483.44 L235.72,484.03 L238.17,484.58 L240.61,485.08 L243.06,485.55 L245.51,485.98 L247.96,486.39 L250.40,486.78 L252.85,487.15 L255.30,487.51 L257.75,487.86 L260.19,488.20 L262.64,488.54 L265.09,488.86 L267.53,489.17 L269.98,489.48 L272.43,489.77 L274.88,490.05 L277.33,490.32 L279.77,490.58 L282.22,490.84 L284.67,491.08 L287.12,491.31 L289.56,491.53 L292.01,491.75 L294.46,491.95 L296.91,492.14 L299.35,492.33 L301.80,492.51 L304.25,492.68 L306.69,492.85 L309.14,493.02 L311.59,493.18 L314.04,493.34 L316.49,493.50 L318.93,493.66 L321.38,493.82 L323.83,493.97 L326.27,494.13 L328.72,494.27 L331.17,494.42 L333.62,494.56 L336.07,494.70 L338.51,494.83 L340.96,494.96 L343.41,495.09 L345.86,495.21 L348.30,495.32 L350.75,495.43 L353.20,495.53 L355.64,495.64 L358.09,495.74 L360.54,495.83 L362.99,495.92 L365.44,496.01 L367.88,496.10 L370.33,496.18 L372.78,496.26 L375.23,496.34 L377.67,496.41 L380.12,496.48 L382.57,496.55 L385.02,496.62 L387.46,496.69 L389.91,496.75 L392.36,496.82 L394.81,496.87 L397.25,496.93 L399.70,496.98 L402.15,497.03 L404.60,497.08 L407.04,497.13 L409.49,497.17 L411.94,497.21 L414.39,497.25 L416.83,497.29 L419.28,497.32 L421.73,497.35 L424.18,497.39 L426.62,497.42 L429.07,497.45 L431.52,497.48 L433.97,497.50 L436.41,497.53 L438.86,497.56 L441.31,497.58 L443.76,497.60 L446.20,497.63 L448.65,497.65 L451.10,497.67 L453.55,497.69 L455.99,497.71 L458.44,497.73 L460.89,497.75 L463.34,497.77 L465.78,497.78 L468.23,497.80 L470.68,497.82 L473.12,497.83 L475.57,497.85 L478.02,497.86 L480.47,497.88 L482.92,497.89 L485.36,497.90 L487.81,497.92 L490.26,497.93 L492.71,497.94 L495.15,497.95 L497.60,497.97 L500.05,497.98 L502.50,497.99 L504.94,498.00 L507.39,498.01 L509.84,498.02 L512.29,498.03 L514.73,498.04 L517.18,498.05 L519.63,498.06 L522.08,498.07 L524.52,498.07 L526.97,498.08 L529.42,498.09 L531.87,498.10 L534.31,498.11 L536.76,498.11 L539.21,498.12 L541.65,498.13 L544.10,498.13 L546.55,498.14 L549.00,498.15 L551.45,498.15 L553.89,498.16 L556.34,498.17 L558.79,498.17 L561.24,498.18 L563.68,498.18 L566.13,498.19 L568.58,498.19 L571.03,498.20 L573.47,498.20 L575.92,498.21 L578.37,498.21 L580.82,498.22 L583.26,498.22 L585.71,498.23 L588.16,498.23 L590.61,498.23 L593.05,498.24 L595.50,498.24' fill='none' stroke='#000' stroke-width='2'/>
</g>
<rect x='101.15' y='98.9' width='494.35' height='411.3' fill='none' stroke='#000' stroke-width='2'/>
<path d='M101.15,498.40H105.75 M101.15,458.91H103.75 M101.15,419.42H105.75 M101.15,379.93H103.75 M101.15,340.44H105.75 M101.15,300.95H103.75 M101.15,261.46H105.75 M101.15,221.97H103.75 M101.15,182.48H105.75 M101.15,142.99H103.75 M101.15,103.50H105.75 M106.00,510.2V505.00 M154.95,510.2V508.00 M203.90,510.2V505.00 M252.85,510.2V508.00 M301.80,510.2V505.00 M350.75,510.2V508.00 M399.70,510.2V505.00 M448.65,510.2V508.00 M497.60,510.2V505.00 M546.55,510.2V508.00 M595.50,510.2V505.00' stroke='#000' stroke-width='2' fill='none'/>
<line x1='822.00' y1='423.00' x2='822.00' y2='76.00' stroke='#ebebeb' stroke-width='0.9'/>
<line x1='895.60' y1='425.36' x2='895.60' y2='78.36' stroke='#ebebeb' stroke-width='0.9'/>
<line x1='969.20' y1='427.72' x2='969.20' y2='80.72' stroke='#ebebeb' stroke-width='0.9'/>
<line x1='1042.80' y1='430.08' x2='1042.80' y2='83.08' stroke='#ebebeb' stroke-width='0.9'/>
<line x1='1116.40' y1='432.44' x2='1116.40' y2='85.44' stroke='#ebebeb' stroke-width='0.9'/>
<line x1='822.00' y1='423.00' x2='1190.00' y2='434.80' stroke='#ebebeb' stroke-width='0.9'/>
<line x1='822.00' y1='307.33' x2='1190.00' y2='319.13' stroke='#ebebeb' stroke-width='0.9'/>
<line x1='822.00' y1='191.67' x2='1190.00' y2='203.47' stroke='#ebebeb' stroke-width='0.9'/>
<line x1='822.00' y1='76.00' x2='1190.00' y2='87.80' stroke='#ebebeb' stroke-width='0.9'/>
<line x1='753.50' y1='489.20' x2='753.50' y2='142.20' stroke='#ebebeb' stroke-width='0.9'/>
<line x1='780.90' y1='462.72' x2='780.90' y2='115.72' stroke='#ebebeb' stroke-width='0.9'/>
<line x1='808.30' y1='436.24' x2='808.30' y2='89.24' stroke='#ebebeb' stroke-width='0.9'/>
<line x1='822.00' y1='423.00' x2='822.00' y2='76.00' stroke='#ebebeb' stroke-width='0.9'/>
<line x1='753.50' y1='489.20' x2='822.00' y2='423.00' stroke='#ebebeb' stroke-width='0.9'/>
<line x1='753.50' y1='373.53' x2='822.00' y2='307.33' stroke='#ebebeb' stroke-width='0.9'/>
<line x1='753.50' y1='257.87' x2='822.00' y2='191.67' stroke='#ebebeb' stroke-width='0.9'/>
<line x1='753.50' y1='142.20' x2='822.00' y2='76.00' stroke='#ebebeb' stroke-width='0.9'/>
<line x1='753.50' y1='489.20' x2='822.00' y2='423.00' stroke='#ebebeb' stroke-width='0.9'/>
<line x1='827.10' y1='491.56' x2='895.60' y2='425.36' stroke='#ebebeb' stroke-width='0.9'/>
<line x1='900.70' y1='493.92' x2='969.20' y2='427.72' stroke='#ebebeb' stroke-width='0.9'/>
<line x1='974.30' y1='496.28' x2='1042.80' y2='430.08' stroke='#ebebeb' stroke-width='0.9'/>
<line x1='1047.90' y1='498.64' x2='1116.40' y2='432.44' stroke='#ebebeb' stroke-width='0.9'/>
<line x1='1121.50' y1='501.00' x2='1190.00' y2='434.80' stroke='#ebebeb' stroke-width='0.9'/>
<line x1='753.50' y1='489.20' x2='1121.50' y2='501.00' stroke='#ebebeb' stroke-width='0.9'/>
<line x1='780.90' y1='462.72' x2='1148.90' y2='474.52' stroke='#ebebeb' stroke-width='0.9'/>
<line x1='808.30' y1='436.24' x2='1176.30' y2='448.04' stroke='#ebebeb' stroke-width='0.9'/>
<line x1='822.00' y1='423.00' x2='1190.00' y2='434.80' stroke='#ebebeb' stroke-width='0.9'/>
<defs><linearGradient id='s0' gradientUnits='userSpaceOnUse' x1='755.8' y1='483.5' x2='755.8' y2='396.0'><stop offset='0.0000' stop-color='#f9fb15'/><stop offset='0.2338' stop-color='#f8f719'/><stop offset='0.6573' stop-color='#f5e526'/><stop offset='1.0000' stop-color='#fdce31'/></linearGradient><linearGradient id='s1' gradientUnits='userSpaceOnUse' x1='760.4' y1='483.6' x2='760.4' y2='384.9'><stop offset='0.0000' stop-color='#f9fb15'/><stop offset='0.1989' stop-color='#f7f41c'/><stop offset='0.5595' stop-color='#f7db2b'/><stop offset='0.8089' stop-color='#fec537'/><stop offset='0.9147' stop-color='#fcbc3d'/><stop offset='0.9786' stop-color='#f6ba3b'/><stop offset='1.0000' stop-color='#f3ba38'/></linearGradient><linearGradient id='s2' gradientUnits='userSpaceOnUse' x1='765.0' y1='483.8' x2='765.0' y2='373.8'><stop offset='0.0000' stop-color='#f9fb15'/><stop offset='0.1226' stop-color='#f7f61a'/><stop offset='0.4219' stop-color='#f7db2b'/><stop offset='0.6257' stop-color='#fec437'/><stop offset='0.7081' stop-color='#fcbc3d'/><stop offset='0.7702' stop-color='#f3ba39'/><stop offset='0.8951' stop-color='#ddbd29'/><stop offset='0.9790' stop-color='#cbc129'/><stop offset='1.0000' stop-color='#c6c22a'/></linearGradient><linearGradient id='s3' gradientUnits='userSpaceOnUse' x1='769.6' y1='483.9' x2='769.6' y2='362.6'><stop offset='0.0000' stop-color='#f9fb15'/><stop offset='0.1435' stop-color='#f6f21e'/><stop offset='0.3247' stop-color='#f7dd2a'/><stop offset='0.5070' stop-color='#fec437'/><stop offset='0.5885' stop-color='#fabb3d'/><stop offset='0.7113' stop-color='#e2bc2b'/><stop offset='0.7934' stop-color='#cec028'/><stop offset='0.8759' stop-color='#b7c532'/><stop offset='1.0000' stop-color='#90ca4d'/></linearGradient><linearGradient id='s4' gradientUnits='userSpaceOnUse' x1='774.2' y1='484.1' x2='774.2' y2='351.5'><stop offset='0.0000' stop-color='#f9fb15'/><stop offset='0.1035' stop-color='#f7f41c'/><stop offset='0.2869' stop-color='#f7db2b'/><stop offset='0.4088' stop-color='#fec735'/><stop offset='0.4900' stop-color='#fcbc3d'/><stop offset='0.5307' stop-color='#f4ba3a'/><stop offset='0.6121' stop-color='#e0bc2a'/><stop offset='0.6935' stop-color='#c8c129'/><stop offset='0.7955' stop-color='#a6c83d'/><stop offset='0.9795' stop-color='#63cd70'/><stop offset='1.0000' stop-color='#5ccc75'/></linearGradient><linearGradient id='s5' gradientUnits='userSpaceOnUse' x1='778.8' y1='484.2' x2='778.8' y2='340.4'><stop offset='0.0000' stop-color='#f9fb15'/><stop offset='0.0829' stop-color='#f7f51b'/><stop offset='0.2482' stop-color='#f7db2b'/><stop offset='0.3911' stop-color='#fec239'/><stop offset='0.4318' stop-color='#fbbc3d'/><stop offset='0.4725' stop-color='#f2ba38'/><stop offset='0.5538' stop-color='#dabd28'/><stop offset='0.6147' stop-color='#c6c22a'/><stop offset='0.7161' stop-color='#9ec942'/><stop offset='0.8581' stop-color='#64cd6f'/><stop offset='0.9594' stop-color='#41ca8c'/><stop offset='1.0000' stop-color='#38c896'/></linearGradient><linearGradient id='s6' gradientUnits='userSpaceOnUse' x1='783.4' y1='484.4' x2='783.4' y2='329.3'><stop offset='0.0000' stop-color='#f9fb15'/><stop offset='0.0828' stop-color='#f7f31c'/><stop offset='0.2084' stop-color='#f6de29'/><stop offset='0.3320' stop-color='#fec537'/><stop offset='0.3729' stop-color='#fdbd3d'/><stop offset='0.4138' stop-color='#f4ba3a'/><stop offset='0.4952' stop-color='#dabd28'/><stop offset='0.5358' stop-color='#cbc029'/><stop offset='0.5764' stop-color='#bbc430'/><stop offset='0.6372' stop-color='#a0c841'/><stop offset='0.7786' stop-color='#60cd72'/><stop offset='0.8592' stop-color='#42ca8c'/><stop offset='1.0000' stop-color='#25c2ad'/></linearGradient><linearGradient id='s7' gradientUnits='userSpaceOnUse' x1='788.0' y1='484.5' x2='788.0' y2='318.1'><stop offset='0.0000' stop-color='#f9fb15'/><stop offset='0.0610' stop-color='#f7f61a'/><stop offset='0.1887' stop-color='#f6de29'/><stop offset='0.3132' stop-color='#fec239'/><stop offset='0.3338' stop-color='#febe3c'/><stop offset='0.3543' stop-color='#fabb3d'/><stop offset='0.3953' stop-color='#eeba34'/><stop offset='0.4566' stop-color='#d8be28'/><stop offset='0.4770' stop-color='#d0c027'/><stop offset='0.5379' stop-color='#b4c533'/><stop offset='0.6794' stop-color='#6ecd67'/><stop offset='0.7799' stop-color='#43ca8b'/><stop offset='0.8401' stop-color='#34c79c'/><stop offset='0.9201' stop-color='#23c1af'/><stop offset='1.0000' stop-color='#07bcbf'/></linearGradient><linearGradient id='s8' gradientUnits='userSpaceOnUse' x1='792.6' y1='484.6' x2='792.6' y2='308.7'><stop offset='0.0000' stop-color='#f9fb15'/><stop offset='0.0427' stop-color='#f8f719'/><stop offset='0.1339' stop-color='#f6e028'/><stop offset='0.2197' stop-color='#fec735'/><stop offset='0.2617' stop-color='#fcbc3d'/><stop offset='0.2825' stop-color='#f5ba3a'/><stop offset='0.3445' stop-color='#d8be28'/><stop offset='0.3650' stop-color='#cdc028'/><stop offset='0.4058' stop-color='#b5c533'/><stop offset='0.4667' stop-color='#8ecb4e'/><stop offset='0.5471' stop-color='#5bcc77'/><stop offset='0.6070' stop-color='#3dc990'/><stop offset='0.6864' stop-color='#28c3ab'/><stop offset='0.7654' stop-color='#06bcc0'/><stop offset='0.8047' stop-color='#01b8ca'/><stop offset='0.8831' stop-color='#16afd9'/><stop offset='1.0000' stop-color='#249ee6'/></linearGradient><linearGradient id='s9' gradientUnits='userSpaceOnUse' x1='797.2' y1='484.7' x2='797.2' y2='300.9'><stop offset='0.0000' stop-color='#f9fb15'/><stop offset='0.0144' stop-color='#f9fb15'/><stop offset='0.1022' stop-color='#f5e626'/><stop offset='0.2160' stop-color='#fec339'/><stop offset='0.2376' stop-color='#fdbd3d'/><stop offset='0.2590' stop-color='#f6ba3b'/><stop offset='0.3011' stop-color='#e2bc2b'/><stop offset='0.3425' stop-color='#cbc029'/><stop offset='0.3834' stop-color='#b2c635'/><stop offset='0.5036' stop-color='#61cd72'/><stop offset='0.5626' stop-color='#40ca8d'/><stop offset='0.6596' stop-color='#24c1ae'/><stop offset='0.7363' stop-color='#02bbc3'/><stop offset='0.7744' stop-color='#03b7cc'/><stop offset='0.8502' stop-color='#18addb'/><stop offset='1.0000' stop-color='#2798ea'/></linearGradient><linearGradient id='s10' gradientUnits='userSpaceOnUse' x1='801.8' y1='484.8' x2='801.8' y2='293.1'><stop offset='0.0000' stop-color='#f9fb15'/><stop offset='0.0138' stop-color='#f9fb15'/><stop offset='0.0870' stop-color='#f5e825'/><stop offset='0.1869' stop-color='#fec735'/><stop offset='0.2098' stop-color='#fec03b'/><stop offset='0.2322' stop-color='#f9bb3d'/><stop offset='0.2971' stop-color='#d9bd28'/><stop offset='0.3182' stop-color='#cdc028'/><stop offset='0.3596' stop-color='#b2c635'/><stop offset='0.4799' stop-color='#5ecc74'/><stop offset='0.5383' stop-color='#3eca8f'/><stop offset='0.6338' stop-color='#21c1b1'/><stop offset='0.6901' stop-color='#06bcc0'/><stop offset='0.7088' stop-color='#01bac5'/><stop offset='0.7273' stop-color='#01b8ca'/><stop offset='0.8194' stop-color='#1aacdd'/><stop offset='1.0000' stop-color='#2b92ee'/></linearGradient><linearGradient id='s11' gradientUnits='userSpaceOnUse' x1='806.4' y1='484.9' x2='806.4' y2='285.2'><stop offset='0.0000' stop-color='#f9fb15'/><stop offset='0.0133' stop-color='#f9fb15'/><stop offset='0.0961' stop-color='#f5e427'/><stop offset='0.1765' stop-color='#fec735'/><stop offset='0.2007' stop-color='#febf3b'/><stop offset='0.2242' stop-color='#f7ba3c'/><stop offset='0.2693' stop-color='#e0bc2a'/><stop offset='0.2912' stop-color='#d3bf27'/><stop offset='0.3127' stop-color='#c5c22a'/><stop offset='0.3754' stop-color='#98ca47'/><stop offset='0.4556' stop-color='#5ecc74'/><stop offset='0.5139' stop-color='#3dc990'/><stop offset='0.5898' stop-color='#26c2ac'/><stop offset='0.6640' stop-color='#04bbc2'/><stop offset='0.7005' stop-color='#02b7cb'/><stop offset='0.7726' stop-color='#18aedb'/><stop offset='0.8962' stop-color='#259be8'/><stop offset='1.0000' stop-color='#2d8cf3'/></linearGradient><linearGradient id='s12' gradientUnits='userSpaceOnUse' x1='811.0' y1='484.9' x2='811.0' y2='277.4'><stop offset='0.0000' stop-color='#f9fb15'/><stop offset='0.0128' stop-color='#f9fb15'/><stop offset='0.0697' stop-color='#f5eb23'/><stop offset='0.1044' stop-color='#f6df29'/><stop offset='0.1624' stop-color='#fec934'/><stop offset='0.1885' stop-color='#fec03b'/><stop offset='0.2135' stop-color='#f7ba3c'/><stop offset='0.2607' stop-color='#ddbd29'/><stop offset='0.2834' stop-color='#cfc028'/><stop offset='0.3055' stop-color='#bfc32d'/><stop offset='0.3484' stop-color='#9fc941'/><stop offset='0.4303' stop-color='#61cd72'/><stop offset='0.4891' stop-color='#3eca8f'/><stop offset='0.5649' stop-color='#26c2ac'/><stop offset='0.6384' stop-color='#03bbc2'/><stop offset='0.6744' stop-color='#03b7cc'/><stop offset='0.7453' stop-color='#18addb'/><stop offset='0.8830' stop-color='#2798ea'/><stop offset='1.0000' stop-color='#2e87f7'/></linearGradient><linearGradient id='s13' gradientUnits='userSpaceOnUse' x1='815.6' y1='485.0' x2='815.6' y2='269.6'><stop offset='0.0000' stop-color='#f9fb15'/><stop offset='0.0123' stop-color='#f9fb15'/><stop offset='0.0752' stop-color='#f5e825'/><stop offset='0.1439' stop-color='#fdce31'/><stop offset='0.1728' stop-color='#fec339'/><stop offset='0.1997' stop-color='#f9bb3d'/><stop offset='0.2253' stop-color='#ecba32'/><stop offset='0.2498' stop-color='#ddbd29'/><stop offset='0.2734' stop-color='#cdc028'/><stop offset='0.3187' stop-color='#abc739'/><stop offset='0.4236' stop-color='#59cc78'/><stop offset='0.4633' stop-color='#41ca8c'/><stop offset='0.5397' stop-color='#28c2ab'/><stop offset='0.6131' stop-color='#04bbc2'/><stop offset='0.6310' stop-color='#01b9c7'/><stop offset='0.6666' stop-color='#08b5d0'/><stop offset='0.7189' stop-color='#18addb'/><stop offset='0.8540' stop-color='#2798ea'/><stop offset='1.0000' stop-color='#2f82f9'/></linearGradient><linearGradient id='s14' gradientUnits='userSpaceOnUse' x1='820.2' y1='485.1' x2='820.2' y2='261.8'><stop offset='0.0000' stop-color='#f9fb15'/><stop offset='0.0119' stop-color='#f9fb15'/><stop offset='0.0803' stop-color='#f5e626'/><stop offset='0.1525' stop-color='#fec834'/><stop offset='0.1824' stop-color='#fdbd3d'/><stop offset='0.2101' stop-color='#f0ba36'/><stop offset='0.2363' stop-color='#e0bc2b'/><stop offset='0.2612' stop-color='#cfc028'/><stop offset='0.2853' stop-color='#bdc32e'/><stop offset='0.3310' stop-color='#98c947'/><stop offset='0.3953' stop-color='#63cd70'/><stop offset='0.4361' stop-color='#47cb87'/><stop offset='0.4755' stop-color='#35c799'/><stop offset='0.5326' stop-color='#23c1af'/><stop offset='0.5877' stop-color='#06bcc0'/><stop offset='0.6057' stop-color='#01b9c6'/><stop offset='0.6235' stop-color='#02b7cb'/><stop offset='0.7102' stop-color='#1babde'/><stop offset='0.9065' stop-color='#2d8cf3'/><stop offset='1.0000' stop-color='#317efb'/></linearGradient><linearGradient id='s15' gradientUnits='userSpaceOnUse' x1='824.8' y1='485.2' x2='824.8' y2='254.0'><stop offset='0.0000' stop-color='#f9fb15'/><stop offset='0.0115' stop-color='#f9fb15'/><stop offset='0.0850' stop-color='#f5e327'/><stop offset='0.1605' stop-color='#fec338'/><stop offset='0.1913' stop-color='#f8ba3d'/><stop offset='0.2198' stop-color='#e7bb2e'/><stop offset='0.2465' stop-color='#d5be28'/><stop offset='0.2719' stop-color='#c1c32c'/><stop offset='0.3197' stop-color='#99c946'/><stop offset='0.3860' stop-color='#61cd71'/><stop offset='0.4477' stop-color='#3ac993'/><stop offset='0.5250' stop-color='#1fc0b2'/><stop offset='0.5619' stop-color='#09bdbe'/><stop offset='0.5800' stop-color='#02bac3'/><stop offset='0.5980' stop-color='#01b8c9'/><stop offset='0.6847' stop-color='#1aacdd'/><stop offset='0.7838' stop-color='#259ce7'/><stop offset='0.9248' stop-color='#2e86f8'/><stop offset='1.0000' stop-color='#337bfd'/></linearGradient><linearGradient id='s16' gradientUnits='userSpaceOnUse' x1='829.4' y1='485.2' x2='829.4' y2='247.5'><stop offset='0.0000' stop-color='#f9fb15'/><stop offset='0.0111' stop-color='#f9fb15'/><stop offset='0.0508' stop-color='#f5ea24'/><stop offset='0.1117' stop-color='#fdcc32'/><stop offset='0.1330' stop-color='#fec239'/><stop offset='0.1684' stop-color='#ecba33'/><stop offset='0.2000' stop-color='#d1bf27'/><stop offset='0.2289' stop-color='#b4c533'/><stop offset='0.2817' stop-color='#7acc5e'/><stop offset='0.3298' stop-color='#4acb84'/><stop offset='0.3526' stop-color='#3bc993'/><stop offset='0.3962' stop-color='#28c3aa'/><stop offset='0.4376' stop-color='#0bbdbc'/><stop offset='0.4576' stop-color='#02bac4'/><stop offset='0.4773' stop-color='#03b7cc'/><stop offset='0.5156' stop-color='#14b0d8'/><stop offset='0.5887' stop-color='#23a1e5'/><stop offset='0.7083' stop-color='#2d88f6'/><stop offset='0.7890' stop-color='#3579fd'/><stop offset='0.9118' stop-color='#4564fd'/><stop offset='1.0000' stop-color='#4759f8'/></linearGradient><linearGradient id='s17' gradientUnits='userSpaceOnUse' x1='834.0' y1='485.3' x2='834.0' y2='242.2'><stop offset='0.0000' stop-color='#f9fb15'/><stop offset='0.0109' stop-color='#f9fb15'/><stop offset='0.0537' stop-color='#f5e825'/><stop offset='0.1184' stop-color='#fec834'/><stop offset='0.1404' stop-color='#fdbd3d'/><stop offset='0.1765' stop-color='#e4bb2c'/><stop offset='0.2085' stop-color='#c7c12a'/><stop offset='0.2377' stop-color='#a7c73c'/><stop offset='0.2908' stop-color='#6ccd69'/><stop offset='0.3389' stop-color='#40ca8d'/><stop offset='0.4051' stop-color='#20c1b1'/><stop offset='0.4463' stop-color='#03bbc2'/><stop offset='0.4662' stop-color='#01b8ca'/><stop offset='0.5236' stop-color='#19addc'/><stop offset='0.6643' stop-color='#2c8ff0'/><stop offset='0.7617' stop-color='#327cfc'/><stop offset='0.8692' stop-color='#4269fe'/><stop offset='1.0000' stop-color='#4758f8'/></linearGradient><linearGradient id='s18' gradientUnits='userSpaceOnUse' x1='838.6' y1='485.4' x2='838.6' y2='236.9'><stop offset='0.0000' stop-color='#f9fb15'/><stop offset='0.0107' stop-color='#f9fb15'/><stop offset='0.0412' stop-color='#f5ed21'/><stop offset='0.0717' stop-color='#f6df29'/><stop offset='0.1248' stop-color='#fec437'/><stop offset='0.1474' stop-color='#f9bb3d'/><stop offset='0.1842' stop-color='#dcbd29'/><stop offset='0.2166' stop-color='#bcc42f'/><stop offset='0.2995' stop-color='#60cd72'/><stop offset='0.3241' stop-color='#49cb85'/><stop offset='0.3477' stop-color='#39c895'/><stop offset='0.3923' stop-color='#26c2ad'/><stop offset='0.4343' stop-color='#07bcbf'/><stop offset='0.4545' stop-color='#01b9c7'/><stop offset='0.4743' stop-color='#06b6ce'/><stop offset='0.5126' stop-color='#17aeda'/><stop offset='0.5852' stop-color='#249fe6'/><stop offset='0.7029' stop-color='#2e86f7'/><stop offset='0.7661' stop-color='#337afd'/><stop offset='0.8570' stop-color='#426afe'/><stop offset='1.0000' stop-color='#4757f7'/></linearGradient><linearGradient id='s19' gradientUnits='userSpaceOnUse' x1='843.2' y1='485.5' x2='843.2' y2='231.7'><stop offset='0.0000' stop-color='#f9fb15'/><stop offset='0.0104' stop-color='#f9fb15'/><stop offset='0.0429' stop-color='#f5ec22'/><stop offset='0.1078' stop-color='#fdcd31'/><stop offset='0.1310' stop-color='#fec13a'/><stop offset='0.1542' stop-color='#f4ba39'/><stop offset='0.1729' stop-color='#e5bb2d'/><stop offset='0.1916' stop-color='#d4bf27'/><stop offset='0.2244' stop-color='#b1c635'/><stop offset='0.2818' stop-color='#6fcd65'/><stop offset='0.3325' stop-color='#40ca8d'/><stop offset='0.3787' stop-color='#2bc3a8'/><stop offset='0.4006' stop-color='#1ec0b2'/><stop offset='0.4218' stop-color='#0dbdbb'/><stop offset='0.4424' stop-color='#02bac4'/><stop offset='0.4625' stop-color='#03b7cb'/><stop offset='0.5201' stop-color='#1aacdd'/><stop offset='0.6595' stop-color='#2c8ef1'/><stop offset='0.7550' stop-color='#327bfc'/><stop offset='0.8597' stop-color='#4369fe'/><stop offset='1.0000' stop-color='#4756f7'/></linearGradient><linearGradient id='s20' gradientUnits='userSpaceOnUse' x1='847.8' y1='485.5' x2='847.8' y2='226.4'><stop offset='0.0000' stop-color='#f9fb15'/><stop offset='0.0102' stop-color='#f9fb15'/><stop offset='0.0445' stop-color='#f5eb23'/><stop offset='0.0788' stop-color='#f7db2b'/><stop offset='0.1131' stop-color='#feca33'/><stop offset='0.1369' stop-color='#febd3c'/><stop offset='0.1606' stop-color='#eeba34'/><stop offset='0.1797' stop-color='#debc2a'/><stop offset='0.1987' stop-color='#ccc028'/><stop offset='0.2319' stop-color='#a7c73c'/><stop offset='0.2897' stop-color='#65cd6e'/><stop offset='0.3158' stop-color='#4ccb83'/><stop offset='0.3405' stop-color='#3ac994'/><stop offset='0.3867' stop-color='#26c2ad'/><stop offset='0.4296' stop-color='#07bcc0'/><stop offset='0.4501' stop-color='#01b9c8'/><stop offset='0.4701' stop-color='#07b5cf'/><stop offset='0.5086' stop-color='#18aedb'/><stop offset='0.5984' stop-color='#269ae8'/><stop offset='0.6973' stop-color='#2e86f7'/><stop offset='0.7593' stop-color='#347afd'/><stop offset='0.8479' stop-color='#426afe'/><stop offset='1.0000' stop-color='#4756f7'/></linearGradient><linearGradient id='s21' gradientUnits='userSpaceOnUse' x1='852.4' y1='485.6' x2='852.4' y2='221.1'><stop offset='0.0000' stop-color='#f9fb15'/><stop offset='0.0100' stop-color='#f9fb15'/><stop offset='0.0461' stop-color='#f5ea23'/><stop offset='0.1182' stop-color='#fec735'/><stop offset='0.1425' stop-color='#fbbc3d'/><stop offset='0.1668' stop-color='#e9bb2f'/><stop offset='0.1862' stop-color='#d8be28'/><stop offset='0.2055' stop-color='#c4c22b'/><stop offset='0.2391' stop-color='#9ec942'/><stop offset='0.2973' stop-color='#5dcc75'/><stop offset='0.3235' stop-color='#45cb89'/><stop offset='0.3482' stop-color='#36c799'/><stop offset='0.3943' stop-color='#20c1b1'/><stop offset='0.4161' stop-color='#0ebebb'/><stop offset='0.4371' stop-color='#02bac4'/><stop offset='0.4576' stop-color='#03b7cb'/><stop offset='0.5156' stop-color='#1aacdd'/><stop offset='0.5874' stop-color='#259ce7'/><stop offset='0.6865' stop-color='#2d87f6'/><stop offset='0.7634' stop-color='#3578fd'/><stop offset='0.8647' stop-color='#4367fd'/><stop offset='1.0000' stop-color='#4756f6'/></linearGradient><linearGradient id='s22' gradientUnits='userSpaceOnUse' x1='857.0' y1='485.7' x2='857.0' y2='215.8'><stop offset='0.0000' stop-color='#f9fb15'/><stop offset='0.0098' stop-color='#f9fb15'/><stop offset='0.0476' stop-color='#f5e924'/><stop offset='0.1231' stop-color='#fec437'/><stop offset='0.1479' stop-color='#f8ba3d'/><stop offset='0.1728' stop-color='#e4bb2c'/><stop offset='0.1924' stop-color='#d1bf27'/><stop offset='0.2121' stop-color='#bcc42f'/><stop offset='0.2765' stop-color='#72cd64'/><stop offset='0.3046' stop-color='#55cc7c'/><stop offset='0.3308' stop-color='#3eca8f'/><stop offset='0.3791' stop-color='#28c3aa'/><stop offset='0.4234' stop-color='#09bcbe'/><stop offset='0.4444' stop-color='#01b9c7'/><stop offset='0.4647' stop-color='#06b5ce'/><stop offset='0.5036' stop-color='#17aeda'/><stop offset='0.5763' stop-color='#249ee6'/><stop offset='0.6758' stop-color='#2d89f5'/><stop offset='0.7525' stop-color='#337afd'/><stop offset='0.8532' stop-color='#4369fe'/><stop offset='1.0000' stop-color='#4756f6'/></linearGradient><linearGradient id='s23' gradientUnits='userSpaceOnUse' x1='861.6' y1='485.8' x2='861.6' y2='210.6'><stop offset='0.0000' stop-color='#f9fb15'/><stop offset='0.0096' stop-color='#f9fb15'/><stop offset='0.0490' stop-color='#f5e825'/><stop offset='0.1278' stop-color='#fec239'/><stop offset='0.1531' stop-color='#f4ba39'/><stop offset='0.1785' stop-color='#dfbc2a'/><stop offset='0.1984' stop-color='#cbc029'/><stop offset='0.2184' stop-color='#b6c533'/><stop offset='0.2834' stop-color='#6acd6a'/><stop offset='0.3116' stop-color='#4ecc81'/><stop offset='0.3379' stop-color='#3ac993'/><stop offset='0.3862' stop-color='#25c2ae'/><stop offset='0.4304' stop-color='#04bbc1'/><stop offset='0.4513' stop-color='#01b8ca'/><stop offset='0.5103' stop-color='#19addc'/><stop offset='0.5823' stop-color='#259de7'/><stop offset='0.6808' stop-color='#2d88f6'/><stop offset='0.7565' stop-color='#347afd'/><stop offset='0.8694' stop-color='#4466fd'/><stop offset='1.0000' stop-color='#4756f6'/></linearGradient><linearGradient id='s24' gradientUnits='userSpaceOnUse' x1='866.2' y1='485.8' x2='866.2' y2='205.9'><stop offset='0.0000' stop-color='#f9fb15'/><stop offset='0.0095' stop-color='#f9fb15'/><stop offset='0.0403' stop-color='#f5e924'/><stop offset='0.1019' stop-color='#fec239'/><stop offset='0.1327' stop-color='#eeba34'/><stop offset='0.1584' stop-color='#d1bf27'/><stop offset='0.1842' stop-color='#aec637'/><stop offset='0.2246' stop-color='#72cd63'/><stop offset='0.2591' stop-color='#47cb87'/><stop offset='0.2900' stop-color='#31c6a0'/><stop offset='0.3183' stop-color='#1fc0b2'/><stop offset='0.3446' stop-color='#06bcc0'/><stop offset='0.3694' stop-color='#04b6cd'/><stop offset='0.3929' stop-color='#12b1d7'/><stop offset='0.4370' stop-color='#20a5e3'/><stop offset='0.5349' stop-color='#2d8af4'/><stop offset='0.5879' stop-color='#317dfc'/><stop offset='0.6697' stop-color='#4269fe'/><stop offset='0.8169' stop-color='#4852f4'/><stop offset='1.0000' stop-color='#473fe2'/></linearGradient><linearGradient id='s25' gradientUnits='userSpaceOnUse' x1='870.8' y1='485.9' x2='870.8' y2='202.0'><stop offset='0.0000' stop-color='#f9fb15'/><stop offset='0.0093' stop-color='#f9fb15'/><stop offset='0.0350' stop-color='#f5ec22'/><stop offset='0.0607' stop-color='#f7dc2a'/><stop offset='0.0864' stop-color='#fdcc32'/><stop offset='0.1121' stop-color='#fdbd3d'/><stop offset='0.1377' stop-color='#e9bb30'/><stop offset='0.1639' stop-color='#cbc129'/><stop offset='0.1901' stop-color='#a6c73c'/><stop offset='0.2307' stop-color='#6bcd69'/><stop offset='0.2655' stop-color='#41ca8c'/><stop offset='0.2964' stop-color='#2ec5a4'/><stop offset='0.3248' stop-color='#1abfb5'/><stop offset='0.3511' stop-color='#02bbc3'/><stop offset='0.3758' stop-color='#06b5cf'/><stop offset='0.3993' stop-color='#15afd8'/><stop offset='0.4431' stop-color='#21a3e3'/><stop offset='0.5404' stop-color='#2d89f5'/><stop offset='0.5929' stop-color='#327cfc'/><stop offset='0.6583' stop-color='#406cfe'/><stop offset='0.7634' stop-color='#475af9'/><stop offset='0.9630' stop-color='#4742e6'/><stop offset='1.0000' stop-color='#473fe3'/></linearGradient><linearGradient id='s26' gradientUnits='userSpaceOnUse' x1='875.4' y1='486.0' x2='875.4' y2='198.0'><stop offset='0.0000' stop-color='#f9fb15'/><stop offset='0.0092' stop-color='#f9fb15'/><stop offset='0.0359' stop-color='#f5eb23'/><stop offset='0.0893' stop-color='#feca33'/><stop offset='0.1160' stop-color='#fbbc3d'/><stop offset='0.1427' stop-color='#e5bb2c'/><stop offset='0.1692' stop-color='#c5c22a'/><stop offset='0.1957' stop-color='#a0c941'/><stop offset='0.2367' stop-color='#64cd6f'/><stop offset='0.2716' stop-color='#3dc990'/><stop offset='0.3027' stop-color='#2cc4a7'/><stop offset='0.3573' stop-color='#01bac6'/><stop offset='0.3820' stop-color='#09b4d1'/><stop offset='0.4054' stop-color='#17aeda'/><stop offset='0.4697' stop-color='#259ce7'/><stop offset='0.5457' stop-color='#2d88f6'/><stop offset='0.6145' stop-color='#3677fe'/><stop offset='0.6781' stop-color='#4269fe'/><stop offset='0.7806' stop-color='#4758f8'/><stop offset='0.9758' stop-color='#4742e6'/><stop offset='1.0000' stop-color='#4740e3'/></linearGradient><linearGradient id='s27' gradientUnits='userSpaceOnUse' x1='880.0' y1='486.1' x2='880.0' y2='194.0'><stop offset='0.0000' stop-color='#f9fb15'/><stop offset='0.0091' stop-color='#f9fb15'/><stop offset='0.0368' stop-color='#f5eb23'/><stop offset='0.0921' stop-color='#fec834'/><stop offset='0.1198' stop-color='#f9ba3d'/><stop offset='0.1475' stop-color='#e0bc2a'/><stop offset='0.1743' stop-color='#c0c32d'/><stop offset='0.2219' stop-color='#7ccc5c'/><stop offset='0.2601' stop-color='#4acb84'/><stop offset='0.2776' stop-color='#3ac994'/><stop offset='0.3087' stop-color='#29c3a9'/><stop offset='0.3371' stop-color='#10beba'/><stop offset='0.3634' stop-color='#01b9c8'/><stop offset='0.4114' stop-color='#18addb'/><stop offset='0.4754' stop-color='#259ce7'/><stop offset='0.5509' stop-color='#2d88f6'/><stop offset='0.6026' stop-color='#337bfc'/><stop offset='0.6821' stop-color='#4269fe'/><stop offset='0.8242' stop-color='#4853f4'/><stop offset='1.0000' stop-color='#4740e4'/></linearGradient><linearGradient id='s28' gradientUnits='userSpaceOnUse' x1='884.6' y1='486.1' x2='884.6' y2='190.1'><stop offset='0.0000' stop-color='#f9fb15'/><stop offset='0.0089' stop-color='#f9fb15'/><stop offset='0.0376' stop-color='#f5ea23'/><stop offset='0.0949' stop-color='#fec735'/><stop offset='0.1235' stop-color='#f6ba3c'/><stop offset='0.1522' stop-color='#dcbd29'/><stop offset='0.1793' stop-color='#bbc430'/><stop offset='0.2274' stop-color='#76cc61'/><stop offset='0.2658' stop-color='#46cb88'/><stop offset='0.2834' stop-color='#37c897'/><stop offset='0.3147' stop-color='#27c2ac'/><stop offset='0.3431' stop-color='#0cbdbc'/><stop offset='0.3693' stop-color='#01b8c9'/><stop offset='0.4172' stop-color='#19addc'/><stop offset='0.4809' stop-color='#259be8'/><stop offset='0.5560' stop-color='#2d88f6'/><stop offset='0.6073' stop-color='#337bfc'/><stop offset='0.6860' stop-color='#4269fe'/><stop offset='0.7998' stop-color='#4757f7'/><stop offset='1.0000' stop-color='#4741e5'/></linearGradient><linearGradient id='s29' gradientUnits='userSpaceOnUse' x1='889.2' y1='486.2' x2='889.2' y2='186.1'><stop offset='0.0000' stop-color='#f9fb15'/><stop offset='0.0088' stop-color='#f9fb15'/><stop offset='0.0384' stop-color='#f5ea24'/><stop offset='0.0976' stop-color='#fec636'/><stop offset='0.1271' stop-color='#f4ba39'/><stop offset='0.1567' stop-color='#d8be28'/><stop offset='0.1842' stop-color='#b6c532'/><stop offset='0.2327' stop-color='#71cd64'/><stop offset='0.2537' stop-color='#56cc7b'/><stop offset='0.2714' stop-color='#43ca8b'/><stop offset='0.2891' stop-color='#36c799'/><stop offset='0.3204' stop-color='#25c2ae'/><stop offset='0.3488' stop-color='#0abdbe'/><stop offset='0.3751' stop-color='#02b7ca'/><stop offset='0.4229' stop-color='#1aacdd'/><stop offset='0.5248' stop-color='#2b91ef'/><stop offset='0.5952' stop-color='#307ffb'/><stop offset='0.6898' stop-color='#426afe'/><stop offset='0.8418' stop-color='#4852f4'/><stop offset='1.0000' stop-color='#4742e6'/></linearGradient><linearGradient id='s30' gradientUnits='userSpaceOnUse' x1='893.8' y1='486.3' x2='893.8' y2='182.1'><stop offset='0.0000' stop-color='#f9fb15'/><stop offset='0.0087' stop-color='#f9fb15'/><stop offset='0.0392' stop-color='#f5e924'/><stop offset='0.1002' stop-color='#fec537'/><stop offset='0.1306' stop-color='#f2ba38'/><stop offset='0.1611' stop-color='#d5be28'/><stop offset='0.1890' stop-color='#b2c535'/><stop offset='0.2379' stop-color='#6dcd68'/><stop offset='0.2591' stop-color='#52cc7e'/><stop offset='0.2768' stop-color='#40ca8d'/><stop offset='0.3260' stop-color='#23c1af'/><stop offset='0.3544' stop-color='#08bcbf'/><stop offset='0.3807' stop-color='#03b7cb'/><stop offset='0.4052' stop-color='#11b1d6'/><stop offset='0.4504' stop-color='#1fa6e2'/><stop offset='0.5480' stop-color='#2d8cf3'/><stop offset='0.6162' stop-color='#327cfc'/><stop offset='0.6935' stop-color='#426afe'/><stop offset='0.8565' stop-color='#4852f4'/><stop offset='1.0000' stop-color='#4743e7'/></linearGradient><linearGradient id='s31' gradientUnits='userSpaceOnUse' x1='898.4' y1='486.4' x2='898.4' y2='178.1'><stop offset='0.0000' stop-color='#f9fb15'/><stop offset='0.0086' stop-color='#f9fb15'/><stop offset='0.0400' stop-color='#f5e924'/><stop offset='0.1027' stop-color='#fec438'/><stop offset='0.1341' stop-color='#f0ba36'/><stop offset='0.1654' stop-color='#d2bf27'/><stop offset='0.1936' stop-color='#afc637'/><stop offset='0.2430' stop-color='#6acd6a'/><stop offset='0.2643' stop-color='#50cc80'/><stop offset='0.3000' stop-color='#33c69d'/><stop offset='0.3314' stop-color='#21c1b0'/><stop offset='0.3599' stop-color='#07bcc0'/><stop offset='0.3862' stop-color='#03b7cc'/><stop offset='0.4107' stop-color='#12b1d6'/><stop offset='0.4557' stop-color='#1fa5e2'/><stop offset='0.5528' stop-color='#2d8cf3'/><stop offset='0.6205' stop-color='#327cfc'/><stop offset='0.7116' stop-color='#4368fe'/><stop offset='0.9073' stop-color='#484df0'/><stop offset='1.0000' stop-color='#4744e8'/></linearGradient><linearGradient id='s32' gradientUnits='userSpaceOnUse' x1='903.0' y1='486.4' x2='903.0' y2='174.8'><stop offset='0.0000' stop-color='#f9fb15'/><stop offset='0.0085' stop-color='#f9fb15'/><stop offset='0.0315' stop-color='#f5eb23'/><stop offset='0.0776' stop-color='#fec934'/><stop offset='0.1007' stop-color='#f9bb3d'/><stop offset='0.1237' stop-color='#e1bc2b'/><stop offset='0.1468' stop-color='#c2c22c'/><stop offset='0.1698' stop-color='#9ec942'/><stop offset='0.2077' stop-color='#5fcd73'/><stop offset='0.2266' stop-color='#44cb8a'/><stop offset='0.2694' stop-color='#23c1af'/><stop offset='0.2873' stop-color='#0fbebb'/><stop offset='0.3052' stop-color='#01b9c6'/><stop offset='0.3367' stop-color='#13b0d7'/><stop offset='0.3651' stop-color='#1ea7e1'/><stop offset='0.4388' stop-color='#2c8ff1'/><stop offset='0.5015' stop-color='#327bfc'/><stop offset='0.5573' stop-color='#416bfe'/><stop offset='0.6709' stop-color='#4854f6'/><stop offset='0.8600' stop-color='#463de0'/><stop offset='1.0000' stop-color='#4434cf'/></linearGradient><linearGradient id='s33' gradientUnits='userSpaceOnUse' x1='907.6' y1='486.3' x2='907.6' y2='172.1'><stop offset='0.0000' stop-color='#f9fb15'/><stop offset='0.0084' stop-color='#f9fb15'/><stop offset='0.0321' stop-color='#f5ea23'/><stop offset='0.0795' stop-color='#fec835'/><stop offset='0.1032' stop-color='#f8ba3d'/><stop offset='0.1269' stop-color='#dfbc2a'/><stop offset='0.1505' stop-color='#bfc32d'/><stop offset='0.1742' stop-color='#9ac945'/><stop offset='0.2124' stop-color='#5ccc76'/><stop offset='0.2314' stop-color='#42ca8c'/><stop offset='0.2744' stop-color='#22c1b0'/><stop offset='0.2923' stop-color='#0dbdbc'/><stop offset='0.3103' stop-color='#01b9c7'/><stop offset='0.3417' stop-color='#13b0d7'/><stop offset='0.3702' stop-color='#1ea7e1'/><stop offset='0.4436' stop-color='#2c8ff1'/><stop offset='0.5060' stop-color='#327cfc'/><stop offset='0.5788' stop-color='#4368fe'/><stop offset='0.7177' stop-color='#484ff2'/><stop offset='0.8976' stop-color='#463bdd'/><stop offset='1.0000' stop-color='#4435d1'/></linearGradient><linearGradient id='s34' gradientUnits='userSpaceOnUse' x1='912.2' y1='486.2' x2='912.2' y2='169.4'><stop offset='0.0000' stop-color='#f9fb15'/><stop offset='0.0084' stop-color='#f9fb15'/><stop offset='0.0327' stop-color='#f5ea23'/><stop offset='0.0813' stop-color='#fec735'/><stop offset='0.1056' stop-color='#f7ba3c'/><stop offset='0.1299' stop-color='#ddbd29'/><stop offset='0.1543' stop-color='#bdc32f'/><stop offset='0.1786' stop-color='#97ca48'/><stop offset='0.2170' stop-color='#5acc78'/><stop offset='0.2362' stop-color='#3fca8e'/><stop offset='0.2793' stop-color='#20c1b1'/><stop offset='0.2973' stop-color='#0bbdbc'/><stop offset='0.3152' stop-color='#01b9c8'/><stop offset='0.3467' stop-color='#14b0d8'/><stop offset='0.4012' stop-color='#249ee6'/><stop offset='0.4700' stop-color='#2d89f5'/><stop offset='0.5104' stop-color='#317dfc'/><stop offset='0.5655' stop-color='#406dfe'/><stop offset='0.6921' stop-color='#4854f5'/><stop offset='0.8750' stop-color='#463ee1'/><stop offset='1.0000' stop-color='#4536d3'/></linearGradient><linearGradient id='s35' gradientUnits='userSpaceOnUse' x1='916.8' y1='486.2' x2='916.8' y2='166.7'><stop offset='0.0000' stop-color='#f9fb15'/><stop offset='0.0083' stop-color='#f9fb15'/><stop offset='0.0332' stop-color='#f5ea24'/><stop offset='0.0831' stop-color='#fec736'/><stop offset='0.1080' stop-color='#f6ba3b'/><stop offset='0.1330' stop-color='#dcbd29'/><stop offset='0.1579' stop-color='#bac430'/><stop offset='0.1829' stop-color='#94ca4a'/><stop offset='0.2215' stop-color='#57cc7a'/><stop offset='0.2409' stop-color='#3eca8f'/><stop offset='0.2841' stop-color='#1fc1b1'/><stop offset='0.3021' stop-color='#0bbdbd'/><stop offset='0.3201' stop-color='#01b9c8'/><stop offset='0.3516' stop-color='#13b0d8'/><stop offset='0.3800' stop-color='#1ea7e1'/><stop offset='0.4530' stop-color='#2c90f0'/><stop offset='0.5148' stop-color='#317efb'/><stop offset='0.5867' stop-color='#426afe'/><stop offset='0.7234' stop-color='#4851f3'/><stop offset='0.9228' stop-color='#463bde'/><stop offset='1.0000' stop-color='#4537d5'/></linearGradient><linearGradient id='s36' gradientUnits='userSpaceOnUse' x1='921.4' y1='486.1' x2='921.4' y2='164.0'><stop offset='0.0000' stop-color='#f9fb15'/><stop offset='0.0082' stop-color='#f9fb15'/><stop offset='0.0338' stop-color='#f5ea24'/><stop offset='0.0849' stop-color='#fec636'/><stop offset='0.1104' stop-color='#f5ba3a'/><stop offset='0.1360' stop-color='#dabd28'/><stop offset='0.1615' stop-color='#b9c431'/><stop offset='0.2065' stop-color='#72cd63'/><stop offset='0.2455' stop-color='#3dca90'/><stop offset='0.2672' stop-color='#30c5a2'/><stop offset='0.2889' stop-color='#1fc0b2'/><stop offset='0.3069' stop-color='#0abdbd'/><stop offset='0.3249' stop-color='#01b9c8'/><stop offset='0.3564' stop-color='#13b0d7'/><stop offset='0.3847' stop-color='#1ea7e1'/><stop offset='0.4790' stop-color='#2d8af4'/><stop offset='0.5378' stop-color='#3479fd'/><stop offset='0.5905' stop-color='#416cfe'/><stop offset='0.7262' stop-color='#4852f4'/><stop offset='0.9236' stop-color='#463ddf'/><stop offset='1.0000' stop-color='#4538d7'/></linearGradient><linearGradient id='s37' gradientUnits='userSpaceOnUse' x1='926.0' y1='486.0' x2='926.0' y2='161.3'><stop offset='0.0000' stop-color='#f9fb15'/><stop offset='0.0082' stop-color='#f9fb15'/><stop offset='0.0343' stop-color='#f5ea24'/><stop offset='0.0866' stop-color='#fec636'/><stop offset='0.1128' stop-color='#f4ba3a'/><stop offset='0.1389' stop-color='#d9bd28'/><stop offset='0.1651' stop-color='#b7c532'/><stop offset='0.1912' stop-color='#8fca4d'/><stop offset='0.2206' stop-color='#62cd70'/><stop offset='0.2500' stop-color='#3dc990'/><stop offset='0.2936' stop-color='#1fc0b2'/><stop offset='0.3116' stop-color='#0abdbd'/><stop offset='0.3297' stop-color='#01b9c8'/><stop offset='0.3612' stop-color='#13b0d7'/><stop offset='0.4154' stop-color='#23a0e5'/><stop offset='0.4834' stop-color='#2d8bf4'/><stop offset='0.5419' stop-color='#337bfd'/><stop offset='0.6107' stop-color='#4269fe'/><stop offset='0.7424' stop-color='#4852f4'/><stop offset='0.9465' stop-color='#463cdf'/><stop offset='1.0000' stop-color='#4539d9'/></linearGradient><linearGradient id='s38' gradientUnits='userSpaceOnUse' x1='930.6' y1='486.0' x2='930.6' y2='158.5'><stop offset='0.0000' stop-color='#f9fb15'/><stop offset='0.0081' stop-color='#f9fb15'/><stop offset='0.0348' stop-color='#f5ea24'/><stop offset='0.0883' stop-color='#fec636'/><stop offset='0.1151' stop-color='#f4ba39'/><stop offset='0.1418' stop-color='#d8be28'/><stop offset='0.1686' stop-color='#b6c532'/><stop offset='0.1953' stop-color='#8ecb4f'/><stop offset='0.2249' stop-color='#61cd71'/><stop offset='0.2545' stop-color='#3dc991'/><stop offset='0.2982' stop-color='#1fc0b2'/><stop offset='0.3343' stop-color='#01b9c7'/><stop offset='0.3658' stop-color='#12b1d6'/><stop offset='0.3941' stop-color='#1da9e0'/><stop offset='0.4878' stop-color='#2d8cf3'/><stop offset='0.5460' stop-color='#327cfc'/><stop offset='0.6143' stop-color='#416bfe'/><stop offset='0.7179' stop-color='#4758f8'/><stop offset='0.9142' stop-color='#4740e4'/><stop offset='1.0000' stop-color='#463adb'/></linearGradient><linearGradient id='s39' gradientUnits='userSpaceOnUse' x1='935.2' y1='485.9' x2='935.2' y2='155.8'><stop offset='0.0000' stop-color='#f9fb15'/><stop offset='0.0080' stop-color='#f9fb15'/><stop offset='0.0353' stop-color='#f5ea24'/><stop offset='0.0900' stop-color='#fec536'/><stop offset='0.1173' stop-color='#f4ba39'/><stop offset='0.1447' stop-color='#d8be28'/><stop offset='0.1720' stop-color='#b5c533'/><stop offset='0.1993' stop-color='#8dcb4f'/><stop offset='0.2291' stop-color='#61cd72'/><stop offset='0.2589' stop-color='#3dc991'/><stop offset='0.3027' stop-color='#20c1b1'/><stop offset='0.3389' stop-color='#01b9c6'/><stop offset='0.3704' stop-color='#11b1d6'/><stop offset='0.3986' stop-color='#1ca9df'/><stop offset='0.4920' stop-color='#2c8ef2'/><stop offset='0.5500' stop-color='#317efb'/><stop offset='0.6178' stop-color='#406dfe'/><stop offset='0.7207' stop-color='#4759f9'/><stop offset='0.9476' stop-color='#473fe3'/><stop offset='1.0000' stop-color='#463bde'/></linearGradient><linearGradient id='s40' gradientUnits='userSpaceOnUse' x1='939.8' y1='485.7' x2='939.8' y2='153.5'><stop offset='0.0000' stop-color='#f9fb15'/><stop offset='0.0080' stop-color='#f9fb15'/><stop offset='0.0324' stop-color='#f5e825'/><stop offset='0.0813' stop-color='#fec13a'/><stop offset='0.1058' stop-color='#ebba32'/><stop offset='0.1302' stop-color='#cac129'/><stop offset='0.1547' stop-color='#a2c840'/><stop offset='0.1791' stop-color='#75cc61'/><stop offset='0.2036' stop-color='#4bcb83'/><stop offset='0.2235' stop-color='#36c899'/><stop offset='0.2435' stop-color='#28c3ab'/><stop offset='0.2635' stop-color='#0ebdbb'/><stop offset='0.2854' stop-color='#01b8ca'/><stop offset='0.3074' stop-color='#13b1d7'/><stop offset='0.3436' stop-color='#21a3e3'/><stop offset='0.4033' stop-color='#2d8df2'/><stop offset='0.4529' stop-color='#327cfc'/><stop offset='0.5164' stop-color='#4368fe'/><stop offset='0.6522' stop-color='#484cf0'/><stop offset='0.8367' stop-color='#4538d7'/><stop offset='1.0000' stop-color='#4330c5'/></linearGradient><linearGradient id='s41' gradientUnits='userSpaceOnUse' x1='944.4' y1='485.4' x2='944.4' y2='151.5'><stop offset='0.0000' stop-color='#f9fb15'/><stop offset='0.0079' stop-color='#f9fb15'/><stop offset='0.0330' stop-color='#f5e825'/><stop offset='0.0830' stop-color='#fec13a'/><stop offset='0.1080' stop-color='#ebba31'/><stop offset='0.1331' stop-color='#c9c129'/><stop offset='0.1581' stop-color='#a0c841'/><stop offset='0.1831' stop-color='#73cd63'/><stop offset='0.2082' stop-color='#49cb85'/><stop offset='0.2282' stop-color='#35c79a'/><stop offset='0.2482' stop-color='#27c2ab'/><stop offset='0.2683' stop-color='#0ebdbb'/><stop offset='0.2903' stop-color='#01b8ca'/><stop offset='0.3123' stop-color='#12b1d7'/><stop offset='0.3485' stop-color='#21a4e3'/><stop offset='0.4336' stop-color='#2e85f8'/><stop offset='0.4574' stop-color='#317dfc'/><stop offset='0.5206' stop-color='#426afe'/><stop offset='0.6248' stop-color='#4853f5'/><stop offset='0.7779' stop-color='#473ee1'/><stop offset='0.9695' stop-color='#4332ca'/><stop offset='1.0000' stop-color='#4331c7'/></linearGradient><linearGradient id='s42' gradientUnits='userSpaceOnUse' x1='949.0' y1='485.1' x2='949.0' y2='149.6'><stop offset='0.0000' stop-color='#f9fb15'/><stop offset='0.0079' stop-color='#f9fb15'/><stop offset='0.0335' stop-color='#f5e825'/><stop offset='0.0847' stop-color='#fec13a'/><stop offset='0.1103' stop-color='#eaba31'/><stop offset='0.1359' stop-color='#c9c129'/><stop offset='0.1615' stop-color='#9fc941'/><stop offset='0.1871' stop-color='#71cd64'/><stop offset='0.2127' stop-color='#48cb86'/><stop offset='0.2328' stop-color='#35c79a'/><stop offset='0.2529' stop-color='#27c2ac'/><stop offset='0.2730' stop-color='#0dbdbb'/><stop offset='0.2951' stop-color='#01b8c9'/><stop offset='0.3171' stop-color='#12b1d6'/><stop offset='0.3533' stop-color='#20a4e3'/><stop offset='0.4126' stop-color='#2c8ff1'/><stop offset='0.4619' stop-color='#307efb'/><stop offset='0.5247' stop-color='#416bfe'/><stop offset='0.6437' stop-color='#4852f4'/><stop offset='0.8045' stop-color='#463de0'/><stop offset='1.0000' stop-color='#4332c9'/></linearGradient><linearGradient id='s43' gradientUnits='userSpaceOnUse' x1='953.6' y1='484.8' x2='953.6' y2='147.6'><stop offset='0.0000' stop-color='#f9fb15'/><stop offset='0.0079' stop-color='#f9fb15'/><stop offset='0.0311' stop-color='#f5ea23'/><stop offset='0.0776' stop-color='#fec736'/><stop offset='0.1009' stop-color='#f6ba3b'/><stop offset='0.1241' stop-color='#dcbd29'/><stop offset='0.1474' stop-color='#bbc430'/><stop offset='0.1706' stop-color='#95ca4a'/><stop offset='0.1939' stop-color='#6ccd69'/><stop offset='0.2171' stop-color='#48cb87'/><stop offset='0.2374' stop-color='#35c79b'/><stop offset='0.2576' stop-color='#27c2ac'/><stop offset='0.2778' stop-color='#0ebdbb'/><stop offset='0.2998' stop-color='#01b8c9'/><stop offset='0.3219' stop-color='#11b1d6'/><stop offset='0.3581' stop-color='#20a5e3'/><stop offset='0.4173' stop-color='#2c90f0'/><stop offset='0.4663' stop-color='#3080fa'/><stop offset='0.5476' stop-color='#4368fe'/><stop offset='0.6763' stop-color='#484ff2'/><stop offset='0.8182' stop-color='#463ee1'/><stop offset='1.0000' stop-color='#4433cc'/></linearGradient><linearGradient id='s44' gradientUnits='userSpaceOnUse' x1='958.2' y1='484.6' x2='958.2' y2='145.6'><stop offset='0.0000' stop-color='#f9fb15'/><stop offset='0.0078' stop-color='#f9fb15'/><stop offset='0.0316' stop-color='#f5ea24'/><stop offset='0.0791' stop-color='#fec736'/><stop offset='0.1028' stop-color='#f6ba3b'/><stop offset='0.1266' stop-color='#dcbd29'/><stop offset='0.1503' stop-color='#bbc430'/><stop offset='0.1741' stop-color='#94ca4a'/><stop offset='0.1978' stop-color='#6bcd69'/><stop offset='0.2216' stop-color='#47cb87'/><stop offset='0.2419' stop-color='#35c79b'/><stop offset='0.2622' stop-color='#27c2ab'/><stop offset='0.2824' stop-color='#0fbebb'/><stop offset='0.3045' stop-color='#01b8c8'/><stop offset='0.3266' stop-color='#10b2d5'/><stop offset='0.3628' stop-color='#1fa5e2'/><stop offset='0.4218' stop-color='#2b91ef'/><stop offset='0.4926' stop-color='#337bfd'/><stop offset='0.5516' stop-color='#426afe'/><stop offset='0.6650' stop-color='#4853f5'/><stop offset='0.8430' stop-color='#463de0'/><stop offset='1.0000' stop-color='#4434ce'/></linearGradient><linearGradient id='s45' gradientUnits='userSpaceOnUse' x1='962.8' y1='484.3' x2='962.8' y2='143.7'><stop offset='0.0000' stop-color='#f9fb15'/><stop offset='0.0078' stop-color='#f9fb15'/><stop offset='0.0320' stop-color='#f5ea24'/><stop offset='0.0805' stop-color='#fec736'/><stop offset='0.1047' stop-color='#f6ba3b'/><stop offset='0.1290' stop-color='#dcbd29'/><stop offset='0.1532' stop-color='#bbc430'/><stop offset='0.1775' stop-color='#94ca4a'/><stop offset='0.2017' stop-color='#6bcd69'/><stop offset='0.2260' stop-color='#47cb87'/><stop offset='0.2463' stop-color='#35c79a'/><stop offset='0.2667' stop-color='#28c2ab'/><stop offset='0.2871' stop-color='#10beba'/><stop offset='0.3092' stop-color='#01b9c8'/><stop offset='0.3313' stop-color='#0eb2d4'/><stop offset='0.3674' stop-color='#1fa6e1'/><stop offset='0.4517' stop-color='#2d8af4'/><stop offset='0.4969' stop-color='#327cfc'/><stop offset='0.5555' stop-color='#416cfe'/><stop offset='0.6534' stop-color='#4757f7'/><stop offset='0.8218' stop-color='#4741e5'/><stop offset='1.0000' stop-color='#4435d1'/></linearGradient><linearGradient id='s46' gradientUnits='userSpaceOnUse' x1='967.4' y1='484.0' x2='967.4' y2='141.7'><stop offset='0.0000' stop-color='#f9fb15'/><stop offset='0.0077' stop-color='#f9fb15'/><stop offset='0.0325' stop-color='#f5ea24'/><stop offset='0.0819' stop-color='#fec736'/><stop offset='0.1067' stop-color='#f6ba3b'/><stop offset='0.1314' stop-color='#dcbd29'/><stop offset='0.1561' stop-color='#bbc430'/><stop offset='0.1808' stop-color='#94ca4a'/><stop offset='0.2056' stop-color='#6bcd69'/><stop offset='0.2303' stop-color='#47cb87'/><stop offset='0.2610' stop-color='#2fc5a2'/><stop offset='0.2917' stop-color='#12beb9'/><stop offset='0.3138' stop-color='#01b9c7'/><stop offset='0.3360' stop-color='#0cb3d3'/><stop offset='0.3721' stop-color='#1ea7e1'/><stop offset='0.4561' stop-color='#2d8cf3'/><stop offset='0.5011' stop-color='#307efb'/><stop offset='0.5771' stop-color='#4269fe'/><stop offset='0.6992' stop-color='#4852f4'/><stop offset='0.9106' stop-color='#463bdd'/><stop offset='1.0000' stop-color='#4536d4'/></linearGradient><linearGradient id='s47' gradientUnits='userSpaceOnUse' x1='972.0' y1='483.7' x2='972.0' y2='139.8'><stop offset='0.0000' stop-color='#f9fb15'/><stop offset='0.0077' stop-color='#f9fb15'/><stop offset='0.0361' stop-color='#f5e825'/><stop offset='0.0928' stop-color='#fec13a'/><stop offset='0.1212' stop-color='#eaba31'/><stop offset='0.1495' stop-color='#c8c129'/><stop offset='0.1779' stop-color='#9fc942'/><stop offset='0.2062' stop-color='#71cd64'/><stop offset='0.2346' stop-color='#48cb86'/><stop offset='0.2654' stop-color='#30c5a2'/><stop offset='0.3184' stop-color='#01bac5'/><stop offset='0.3406' stop-color='#0ab4d2'/><stop offset='0.3766' stop-color='#1da9e0'/><stop offset='0.4604' stop-color='#2c8ef2'/><stop offset='0.5256' stop-color='#337bfd'/><stop offset='0.5977' stop-color='#4368fd'/><stop offset='0.7154' stop-color='#4853f4'/><stop offset='0.8801' stop-color='#4740e3'/><stop offset='1.0000' stop-color='#4538d7'/></linearGradient><linearGradient id='s48' gradientUnits='userSpaceOnUse' x1='976.6' y1='483.0' x2='976.6' y2='138.0'><stop offset='0.0000' stop-color='#f9fb15'/><stop offset='0.0077' stop-color='#f9fb15'/><stop offset='0.0309' stop-color='#f5e924'/><stop offset='0.0774' stop-color='#fec239'/><stop offset='0.1006' stop-color='#edba34'/><stop offset='0.1238' stop-color='#cec028'/><stop offset='0.1470' stop-color='#a6c73c'/><stop offset='0.1703' stop-color='#7acc5d'/><stop offset='0.1935' stop-color='#51cc7f'/><stop offset='0.2167' stop-color='#34c79b'/><stop offset='0.2399' stop-color='#1dc0b3'/><stop offset='0.2605' stop-color='#04bbc2'/><stop offset='0.2811' stop-color='#07b5d0'/><stop offset='0.3017' stop-color='#19addc'/><stop offset='0.3820' stop-color='#2d8cf3'/><stop offset='0.4130' stop-color='#2f81fa'/><stop offset='0.4655' stop-color='#3f6eff'/><stop offset='0.5494' stop-color='#4758f8'/><stop offset='0.6916' stop-color='#4741e5'/><stop offset='0.8602' stop-color='#4433cd'/><stop offset='1.0000' stop-color='#422ec0'/></linearGradient><linearGradient id='s49' gradientUnits='userSpaceOnUse' x1='981.2' y1='481.9' x2='981.2' y2='136.4'><stop offset='0.0000' stop-color='#f9fb15'/><stop offset='0.0077' stop-color='#f9fb15'/><stop offset='0.0315' stop-color='#f5e825'/><stop offset='0.0793' stop-color='#fec239'/><stop offset='0.1031' stop-color='#ecba33'/><stop offset='0.1270' stop-color='#ccc028'/><stop offset='0.1509' stop-color='#a4c83e'/><stop offset='0.1986' stop-color='#4ecc81'/><stop offset='0.2225' stop-color='#33c69e'/><stop offset='0.2463' stop-color='#1ac0b5'/><stop offset='0.2669' stop-color='#02bac3'/><stop offset='0.2876' stop-color='#09b4d1'/><stop offset='0.3082' stop-color='#1aacdd'/><stop offset='0.3883' stop-color='#2d8df3'/><stop offset='0.4191' stop-color='#2f81fa'/><stop offset='0.4713' stop-color='#3e6fff'/><stop offset='0.5154' stop-color='#4562fc'/><stop offset='0.6378' stop-color='#484aee'/><stop offset='0.7953' stop-color='#4538d8'/><stop offset='1.0000' stop-color='#422fc2'/></linearGradient><linearGradient id='s50' gradientUnits='userSpaceOnUse' x1='985.8' y1='480.9' x2='985.8' y2='134.8'><stop offset='0.0000' stop-color='#f9fb15'/><stop offset='0.0077' stop-color='#f9fb15'/><stop offset='0.0322' stop-color='#f5e825'/><stop offset='0.0812' stop-color='#fec13a'/><stop offset='0.1057' stop-color='#ebba32'/><stop offset='0.1302' stop-color='#cac129'/><stop offset='0.1547' stop-color='#a1c840'/><stop offset='0.1792' stop-color='#74cc62'/><stop offset='0.2037' stop-color='#4bcb84'/><stop offset='0.2282' stop-color='#31c6a0'/><stop offset='0.2527' stop-color='#16bfb7'/><stop offset='0.2733' stop-color='#01bac5'/><stop offset='0.3146' stop-color='#1aabdd'/><stop offset='0.3946' stop-color='#2d8cf3'/><stop offset='0.4252' stop-color='#2f81fa'/><stop offset='0.4770' stop-color='#3e6fff'/><stop offset='0.5208' stop-color='#4563fc'/><stop offset='0.6420' stop-color='#484bee'/><stop offset='0.7978' stop-color='#4639da'/><stop offset='1.0000' stop-color='#4230c3'/></linearGradient><linearGradient id='s51' gradientUnits='userSpaceOnUse' x1='990.4' y1='479.8' x2='990.4' y2='133.2'><stop offset='0.0000' stop-color='#f9fb15'/><stop offset='0.0076' stop-color='#f9fb15'/><stop offset='0.0305' stop-color='#f5ea24'/><stop offset='0.0762' stop-color='#fec636'/><stop offset='0.0991' stop-color='#f4ba3a'/><stop offset='0.1219' stop-color='#d9be28'/><stop offset='0.1448' stop-color='#b6c532'/><stop offset='0.1905' stop-color='#65cd6e'/><stop offset='0.2133' stop-color='#41ca8c'/><stop offset='0.2362' stop-color='#2ec4a5'/><stop offset='0.2590' stop-color='#11beb9'/><stop offset='0.2901' stop-color='#05b6ce'/><stop offset='0.3211' stop-color='#1baade'/><stop offset='0.3652' stop-color='#2699e9'/><stop offset='0.4008' stop-color='#2d8cf3'/><stop offset='0.4313' stop-color='#2f81fa'/><stop offset='0.4828' stop-color='#3e6fff'/><stop offset='0.5262' stop-color='#4563fd'/><stop offset='0.6609' stop-color='#4849ed'/><stop offset='0.8225' stop-color='#4538d8'/><stop offset='1.0000' stop-color='#4330c5'/></linearGradient><linearGradient id='s52' gradientUnits='userSpaceOnUse' x1='995.0' y1='478.7' x2='995.0' y2='131.6'><stop offset='0.0000' stop-color='#f9fb15'/><stop offset='0.0076' stop-color='#f9fb15'/><stop offset='0.0311' stop-color='#f5ea24'/><stop offset='0.0779' stop-color='#fec537'/><stop offset='0.1013' stop-color='#f3ba39'/><stop offset='0.1248' stop-color='#d7be28'/><stop offset='0.1482' stop-color='#b4c534'/><stop offset='0.1951' stop-color='#61cd71'/><stop offset='0.2185' stop-color='#3eca8f'/><stop offset='0.2419' stop-color='#2cc4a7'/><stop offset='0.2654' stop-color='#0dbdbc'/><stop offset='0.2964' stop-color='#07b5d0'/><stop offset='0.3275' stop-color='#1ca9df'/><stop offset='0.4070' stop-color='#2d8bf3'/><stop offset='0.4373' stop-color='#2f81fa'/><stop offset='0.4885' stop-color='#3e6fff'/><stop offset='0.5511' stop-color='#465ffb'/><stop offset='0.7060' stop-color='#4744e9'/><stop offset='0.9070' stop-color='#4434cf'/><stop offset='1.0000' stop-color='#4331c6'/></linearGradient><linearGradient id='s53' gradientUnits='userSpaceOnUse' x1='999.6' y1='477.6' x2='999.6' y2='130.0'><stop offset='0.0000' stop-color='#f9fb15'/><stop offset='0.0076' stop-color='#f9fb15'/><stop offset='0.0316' stop-color='#f5e924'/><stop offset='0.0796' stop-color='#fec537'/><stop offset='0.1036' stop-color='#f2ba38'/><stop offset='0.1276' stop-color='#d5be28'/><stop offset='0.1516' stop-color='#b1c635'/><stop offset='0.1996' stop-color='#5ecd74'/><stop offset='0.2237' stop-color='#3cc991'/><stop offset='0.2477' stop-color='#2ac3a9'/><stop offset='0.2717' stop-color='#09bcbe'/><stop offset='0.3028' stop-color='#0ab4d1'/><stop offset='0.3339' stop-color='#1da8e0'/><stop offset='0.4132' stop-color='#2d8bf4'/><stop offset='0.4434' stop-color='#2f80fa'/><stop offset='0.4942' stop-color='#3e6fff'/><stop offset='0.5563' stop-color='#465ffb'/><stop offset='0.7096' stop-color='#4745e9'/><stop offset='0.8984' stop-color='#4535d2'/><stop offset='1.0000' stop-color='#4331c8'/></linearGradient><linearGradient id='s54' gradientUnits='userSpaceOnUse' x1='1004.2' y1='476.5' x2='1004.2' y2='128.4'><stop offset='0.0000' stop-color='#f9fb15'/><stop offset='0.0076' stop-color='#f9fb15'/><stop offset='0.0322' stop-color='#f5e924'/><stop offset='0.0813' stop-color='#fec437'/><stop offset='0.1059' stop-color='#f1ba37'/><stop offset='0.1305' stop-color='#d4bf28'/><stop offset='0.1551' stop-color='#afc637'/><stop offset='0.2042' stop-color='#5ccc76'/><stop offset='0.2288' stop-color='#3ac993'/><stop offset='0.2534' stop-color='#28c2ab'/><stop offset='0.2779' stop-color='#06bcc0'/><stop offset='0.3091' stop-color='#0cb3d3'/><stop offset='0.3403' stop-color='#1ea8e1'/><stop offset='0.4194' stop-color='#2d8bf4'/><stop offset='0.4494' stop-color='#2f80fa'/><stop offset='0.4999' stop-color='#3e70ff'/><stop offset='0.5796' stop-color='#475cfa'/><stop offset='0.7383' stop-color='#4743e7'/><stop offset='0.9188' stop-color='#4435d2'/><stop offset='1.0000' stop-color='#4332ca'/></linearGradient><linearGradient id='s55' gradientUnits='userSpaceOnUse' x1='1008.8' y1='475.4' x2='1008.8' y2='126.8'><stop offset='0.0000' stop-color='#f9fb15'/><stop offset='0.0076' stop-color='#f9fb15'/><stop offset='0.0327' stop-color='#f5e924'/><stop offset='0.0830' stop-color='#fec438'/><stop offset='0.1082' stop-color='#f0ba36'/><stop offset='0.1333' stop-color='#d3bf27'/><stop offset='0.1585' stop-color='#aec637'/><stop offset='0.1836' stop-color='#83cc57'/><stop offset='0.2088' stop-color='#5acc78'/><stop offset='0.2339' stop-color='#39c895'/><stop offset='0.2591' stop-color='#26c2ac'/><stop offset='0.2842' stop-color='#04bbc1'/><stop offset='0.3154' stop-color='#0db3d4'/><stop offset='0.3467' stop-color='#1ea7e1'/><stop offset='0.4255' stop-color='#2d8bf4'/><stop offset='0.4554' stop-color='#2f81fa'/><stop offset='0.5055' stop-color='#3d70ff'/><stop offset='0.5667' stop-color='#4661fc'/><stop offset='0.6907' stop-color='#484bee'/><stop offset='0.8519' stop-color='#463adb'/><stop offset='1.0000' stop-color='#4433cc'/></linearGradient><linearGradient id='s56' gradientUnits='userSpaceOnUse' x1='1013.4' y1='473.6' x2='1013.4' y2='125.2'><stop offset='0.0000' stop-color='#f9fb15'/><stop offset='0.0076' stop-color='#f9fb15'/><stop offset='0.0294' stop-color='#f5e924'/><stop offset='0.0731' stop-color='#fec338'/><stop offset='0.0950' stop-color='#f0ba36'/><stop offset='0.1168' stop-color='#d2bf27'/><stop offset='0.1386' stop-color='#acc738'/><stop offset='0.1605' stop-color='#82cc58'/><stop offset='0.1823' stop-color='#58cc79'/><stop offset='0.2041' stop-color='#38c896'/><stop offset='0.2260' stop-color='#25c2ae'/><stop offset='0.2478' stop-color='#03bbc3'/><stop offset='0.2697' stop-color='#10b2d5'/><stop offset='0.2915' stop-color='#1fa5e2'/><stop offset='0.3539' stop-color='#2d89f5'/><stop offset='0.3757' stop-color='#2f80fa'/><stop offset='0.3975' stop-color='#3777fe'/><stop offset='0.4323' stop-color='#4269fe'/><stop offset='0.5117' stop-color='#4854f5'/><stop offset='0.6531' stop-color='#463cde'/><stop offset='0.8437' stop-color='#4230c4'/><stop offset='1.0000' stop-color='#412cb9'/></linearGradient><linearGradient id='c56_2' gradientUnits='userSpaceOnUse' x1='1016.1' y1='471.0' x2='974.1' y2='396.6'><stop offset='0.000' stop-color='#f9fb15'/><stop offset='0.077' stop-color='#f5e924'/><stop offset='0.231' stop-color='#fec338'/><stop offset='0.308' stop-color='#f0ba36'/><stop offset='0.385' stop-color='#d2bf27'/><stop offset='0.462' stop-color='#acc738'/><stop offset='0.538' stop-color='#82cc58'/><stop offset='0.615' stop-color='#58cc79'/><stop offset='0.692' stop-color='#38c896'/><stop offset='0.769' stop-color='#25c2ae'/><stop offset='0.846' stop-color='#03bbc3'/><stop offset='0.923' stop-color='#10b2d5'/><stop offset='1.000' stop-color='#1fa5e2'/></linearGradient><linearGradient id='c56_3' gradientUnits='userSpaceOnUse' x1='1017.5' y1='372.1' x2='1007.5' y2='363.2'><stop offset='0.000' stop-color='#1fa5e2'/><stop offset='1.000' stop-color='#2d89f5'/></linearGradient><linearGradient id='c56_4' gradientUnits='userSpaceOnUse' x1='1018.9' y1='350.3' x2='1012.1' y2='344.1'><stop offset='0.000' stop-color='#2d89f5'/><stop offset='0.500' stop-color='#2f80fa'/><stop offset='1.000' stop-color='#3777fe'/></linearGradient><linearGradient id='c56_5' gradientUnits='userSpaceOnUse' x1='1020.2' y1='335.1' x2='1014.9' y2='330.1'><stop offset='0.000' stop-color='#3777fe'/><stop offset='1.000' stop-color='#4269fe'/></linearGradient><linearGradient id='c56_6' gradientUnits='userSpaceOnUse' x1='1021.6' y1='323.0' x2='1017.2' y2='318.7'><stop offset='0.000' stop-color='#4269fe'/><stop offset='1.000' stop-color='#4660fc'/></linearGradient><linearGradient id='c56_7' gradientUnits='userSpaceOnUse' x1='1023.0' y1='312.7' x2='1019.1' y2='308.8'><stop offset='0.000' stop-color='#4660fc'/><stop offset='1.000' stop-color='#4759f8'/></linearGradient><linearGradient id='c56_8' gradientUnits='userSpaceOnUse' x1='1024.4' y1='303.6' x2='1020.9' y2='300.0'><stop offset='0.000' stop-color='#4759f8'/><stop offset='1.000' stop-color='#4854f5'/></linearGradient><linearGradient id='c56_12' gradientUnits='userSpaceOnUse' x1='1029.8' y1='274.3' x2='1020.8' y2='264.0'><stop offset='0.000' stop-color='#4848ec'/><stop offset='1.000' stop-color='#463ee1'/></linearGradient><linearGradient id='c56_16' gradientUnits='userSpaceOnUse' x1='1035.3' y1='251.2' x2='1027.9' y2='241.9'><stop offset='0.000' stop-color='#463ee1'/><stop offset='1.000' stop-color='#4538d8'/></linearGradient><linearGradient id='s57' gradientUnits='userSpaceOnUse' x1='1018.0' y1='471.0' x2='1018.0' y2='123.7'><stop offset='0.0000' stop-color='#f9fb15'/><stop offset='0.0076' stop-color='#f9fb15'/><stop offset='0.0301' stop-color='#f5e924'/><stop offset='0.0751' stop-color='#fec338'/><stop offset='0.0975' stop-color='#efba35'/><stop offset='0.1200' stop-color='#d0bf27'/><stop offset='0.1425' stop-color='#aac73a'/><stop offset='0.1650' stop-color='#7fcc5a'/><stop offset='0.1875' stop-color='#56cc7b'/><stop offset='0.2099' stop-color='#36c898'/><stop offset='0.2324' stop-color='#23c1af'/><stop offset='0.2549' stop-color='#02bac4'/><stop offset='0.2774' stop-color='#13b1d7'/><stop offset='0.2999' stop-color='#20a4e3'/><stop offset='0.3620' stop-color='#2d88f6'/><stop offset='0.4053' stop-color='#3776fe'/><stop offset='0.4398' stop-color='#4269fe'/><stop offset='0.5183' stop-color='#4854f5'/><stop offset='0.6433' stop-color='#473ee2'/><stop offset='0.8255' stop-color='#4331c7'/><stop offset='1.0000' stop-color='#412cba'/></linearGradient><linearGradient id='c57_2' gradientUnits='userSpaceOnUse' x1='1020.7' y1='468.4' x2='977.6' y2='392.0'><stop offset='0.000' stop-color='#f9fb15'/><stop offset='0.077' stop-color='#f5e924'/><stop offset='0.231' stop-color='#fec338'/><stop offset='0.308' stop-color='#efba35'/><stop offset='0.385' stop-color='#d0bf27'/><stop offset='0.462' stop-color='#aac73a'/><stop offset='0.538' stop-color='#7fcc5a'/><stop offset='0.615' stop-color='#56cc7b'/><stop offset='0.692' stop-color='#36c898'/><stop offset='0.769' stop-color='#23c1af'/><stop offset='0.846' stop-color='#02bac4'/><stop offset='0.923' stop-color='#13b1d7'/><stop offset='1.000' stop-color='#20a4e3'/></linearGradient><linearGradient id='c57_3' gradientUnits='userSpaceOnUse' x1='1022.1' y1='366.9' x2='1012.2' y2='358.1'><stop offset='0.000' stop-color='#20a4e3'/><stop offset='1.000' stop-color='#2d88f6'/></linearGradient><linearGradient id='c57_4' gradientUnits='userSpaceOnUse' x1='1023.5' y1='345.3' x2='1016.7' y2='339.1'><stop offset='0.000' stop-color='#2d88f6'/><stop offset='1.000' stop-color='#3776fe'/></linearGradient><linearGradient id='c57_5' gradientUnits='userSpaceOnUse' x1='1024.8' y1='330.2' x2='1019.6' y2='325.3'><stop offset='0.000' stop-color='#3776fe'/><stop offset='1.000' stop-color='#4269fe'/></linearGradient><linearGradient id='c57_6' gradientUnits='userSpaceOnUse' x1='1026.2' y1='318.2' x2='1021.8' y2='314.0'><stop offset='0.000' stop-color='#4269fe'/><stop offset='1.000' stop-color='#4660fc'/></linearGradient><linearGradient id='c57_7' gradientUnits='userSpaceOnUse' x1='1027.6' y1='308.1' x2='1023.8' y2='304.3'><stop offset='0.000' stop-color='#4660fc'/><stop offset='1.000' stop-color='#4759f9'/></linearGradient><linearGradient id='c57_8' gradientUnits='userSpaceOnUse' x1='1029.0' y1='299.1' x2='1025.6' y2='295.6'><stop offset='0.000' stop-color='#4759f9'/><stop offset='1.000' stop-color='#4854f5'/></linearGradient><linearGradient id='c57_12' gradientUnits='userSpaceOnUse' x1='1034.4' y1='270.2' x2='1025.6' y2='260.2'><stop offset='0.000' stop-color='#4848ec'/><stop offset='1.000' stop-color='#473ee2'/></linearGradient><linearGradient id='c57_16' gradientUnits='userSpaceOnUse' x1='1039.9' y1='247.6' x2='1032.6' y2='238.4'><stop offset='0.000' stop-color='#473ee2'/><stop offset='1.000' stop-color='#4539d9'/></linearGradient><linearGradient id='s58' gradientUnits='userSpaceOnUse' x1='1022.6' y1='468.4' x2='1022.6' y2='122.1'><stop offset='0.0000' stop-color='#f9fb15'/><stop offset='0.0076' stop-color='#f9fb15'/><stop offset='0.0308' stop-color='#f5e924'/><stop offset='0.0770' stop-color='#fec338'/><stop offset='0.1001' stop-color='#eeba35'/><stop offset='0.1233' stop-color='#cfc028'/><stop offset='0.1464' stop-color='#a9c73b'/><stop offset='0.1695' stop-color='#7ecc5b'/><stop offset='0.1926' stop-color='#54cc7d'/><stop offset='0.2158' stop-color='#36c799'/><stop offset='0.2389' stop-color='#21c1b1'/><stop offset='0.2620' stop-color='#01bac5'/><stop offset='0.2851' stop-color='#14b0d8'/><stop offset='0.3083' stop-color='#21a3e3'/><stop offset='0.3701' stop-color='#2d88f6'/><stop offset='0.4131' stop-color='#3876fe'/><stop offset='0.4474' stop-color='#4269fe'/><stop offset='0.5250' stop-color='#4854f5'/><stop offset='0.6483' stop-color='#473fe2'/><stop offset='0.8072' stop-color='#4432cb'/><stop offset='0.9834' stop-color='#412dbb'/><stop offset='1.0000' stop-color='#412cba'/></linearGradient><linearGradient id='c58_2' gradientUnits='userSpaceOnUse' x1='1025.3' y1='465.8' x2='981.1' y2='387.4'><stop offset='0.000' stop-color='#f9fb15'/><stop offset='0.077' stop-color='#f5e924'/><stop offset='0.231' stop-color='#fec338'/><stop offset='0.308' stop-color='#eeba35'/><stop offset='0.385' stop-color='#cfc028'/><stop offset='0.462' stop-color='#a9c73b'/><stop offset='0.538' stop-color='#7ecc5b'/><stop offset='0.615' stop-color='#54cc7d'/><stop offset='0.692' stop-color='#36c799'/><stop offset='0.769' stop-color='#21c1b1'/><stop offset='0.846' stop-color='#01bac5'/><stop offset='0.923' stop-color='#14b0d8'/><stop offset='1.000' stop-color='#21a3e3'/></linearGradient><linearGradient id='c58_3' gradientUnits='userSpaceOnUse' x1='1026.7' y1='361.7' x2='1016.8' y2='352.9'><stop offset='0.000' stop-color='#21a3e3'/><stop offset='1.000' stop-color='#2d88f6'/></linearGradient><linearGradient id='c58_4' gradientUnits='userSpaceOnUse' x1='1028.1' y1='340.2' x2='1021.4' y2='334.2'><stop offset='0.000' stop-color='#2d88f6'/><stop offset='1.000' stop-color='#3876fe'/></linearGradient><linearGradient id='c58_5' gradientUnits='userSpaceOnUse' x1='1029.5' y1='325.4' x2='1024.3' y2='320.5'><stop offset='0.000' stop-color='#3876fe'/><stop offset='1.000' stop-color='#4269fe'/></linearGradient><linearGradient id='c58_6' gradientUnits='userSpaceOnUse' x1='1030.8' y1='313.5' x2='1026.5' y2='309.3'><stop offset='0.000' stop-color='#4269fe'/><stop offset='1.000' stop-color='#4660fc'/></linearGradient><linearGradient id='c58_7' gradientUnits='userSpaceOnUse' x1='1032.2' y1='303.4' x2='1028.5' y2='299.7'><stop offset='0.000' stop-color='#4660fc'/><stop offset='1.000' stop-color='#4759f9'/></linearGradient><linearGradient id='c58_8' gradientUnits='userSpaceOnUse' x1='1033.6' y1='294.6' x2='1030.2' y2='291.2'><stop offset='0.000' stop-color='#4759f9'/><stop offset='1.000' stop-color='#4854f5'/></linearGradient><linearGradient id='c58_12' gradientUnits='userSpaceOnUse' x1='1039.0' y1='266.2' x2='1030.4' y2='256.3'><stop offset='0.000' stop-color='#4848ec'/><stop offset='1.000' stop-color='#473fe2'/></linearGradient><linearGradient id='c58_16' gradientUnits='userSpaceOnUse' x1='1044.5' y1='243.9' x2='1037.4' y2='235.0'><stop offset='0.000' stop-color='#473fe2'/><stop offset='1.000' stop-color='#4639d9'/></linearGradient><linearGradient id='s59' gradientUnits='userSpaceOnUse' x1='1027.2' y1='465.8' x2='1027.2' y2='120.6'><stop offset='0.0000' stop-color='#f9fb15'/><stop offset='0.0077' stop-color='#f9fb15'/><stop offset='0.0314' stop-color='#f5e924'/><stop offset='0.0790' stop-color='#fec339'/><stop offset='0.1028' stop-color='#eeba34'/><stop offset='0.1265' stop-color='#cfc028'/><stop offset='0.1503' stop-color='#a8c73b'/><stop offset='0.1741' stop-color='#7ccc5c'/><stop offset='0.1979' stop-color='#52cc7e'/><stop offset='0.2216' stop-color='#35c79a'/><stop offset='0.2454' stop-color='#1fc0b2'/><stop offset='0.2692' stop-color='#01b9c6'/><stop offset='0.2929' stop-color='#15afd9'/><stop offset='0.3167' stop-color='#22a2e4'/><stop offset='0.3784' stop-color='#2e87f7'/><stop offset='0.4210' stop-color='#3875fe'/><stop offset='0.4550' stop-color='#4269fe'/><stop offset='0.5317' stop-color='#4854f5'/><stop offset='0.6676' stop-color='#463de0'/><stop offset='0.8502' stop-color='#4331c7'/><stop offset='1.0000' stop-color='#412dbb'/></linearGradient><linearGradient id='c59_2' gradientUnits='userSpaceOnUse' x1='1029.9' y1='463.2' x2='984.6' y2='382.9'><stop offset='0.000' stop-color='#f9fb15'/><stop offset='0.077' stop-color='#f5e924'/><stop offset='0.231' stop-color='#fec339'/><stop offset='0.308' stop-color='#eeba34'/><stop offset='0.385' stop-color='#cfc028'/><stop offset='0.462' stop-color='#a8c73b'/><stop offset='0.538' stop-color='#7ccc5c'/><stop offset='0.615' stop-color='#52cc7e'/><stop offset='0.692' stop-color='#35c79a'/><stop offset='0.769' stop-color='#1fc0b2'/><stop offset='0.846' stop-color='#01b9c6'/><stop offset='0.923' stop-color='#15afd9'/><stop offset='1.000' stop-color='#22a2e4'/></linearGradient><linearGradient id='c59_3' gradientUnits='userSpaceOnUse' x1='1031.3' y1='356.5' x2='1021.5' y2='347.8'><stop offset='0.000' stop-color='#22a2e4'/><stop offset='1.000' stop-color='#2e87f7'/></linearGradient><linearGradient id='c59_4' gradientUnits='userSpaceOnUse' x1='1032.7' y1='335.2' x2='1026.1' y2='329.2'><stop offset='0.000' stop-color='#2e87f7'/><stop offset='1.000' stop-color='#3875fe'/></linearGradient><linearGradient id='c59_5' gradientUnits='userSpaceOnUse' x1='1034.1' y1='320.5' x2='1028.9' y2='315.6'><stop offset='0.000' stop-color='#3875fe'/><stop offset='1.000' stop-color='#4269fe'/></linearGradient><linearGradient id='c59_6' gradientUnits='userSpaceOnUse' x1='1035.4' y1='308.7' x2='1031.2' y2='304.6'><stop offset='0.000' stop-color='#4269fe'/><stop offset='1.000' stop-color='#4660fc'/></linearGradient><linearGradient id='c59_7' gradientUnits='userSpaceOnUse' x1='1036.8' y1='298.8' x2='1033.1' y2='295.2'><stop offset='0.000' stop-color='#4660fc'/><stop offset='1.000' stop-color='#4759f9'/></linearGradient><linearGradient id='c59_8' gradientUnits='userSpaceOnUse' x1='1038.2' y1='290.1' x2='1034.9' y2='286.8'><stop offset='0.000' stop-color='#4759f9'/><stop offset='1.000' stop-color='#4854f5'/></linearGradient><linearGradient id='c59_12' gradientUnits='userSpaceOnUse' x1='1043.6' y1='262.2' x2='1035.2' y2='252.5'><stop offset='0.000' stop-color='#4849ed'/><stop offset='1.000' stop-color='#473fe2'/></linearGradient><linearGradient id='c59_16' gradientUnits='userSpaceOnUse' x1='1049.1' y1='240.2' x2='1042.1' y2='231.5'><stop offset='0.000' stop-color='#473fe2'/><stop offset='1.000' stop-color='#4639da'/></linearGradient><linearGradient id='s60' gradientUnits='userSpaceOnUse' x1='1031.8' y1='463.2' x2='1031.8' y2='119.0'><stop offset='0.0000' stop-color='#f9fb15'/><stop offset='0.0077' stop-color='#f9fb15'/><stop offset='0.0321' stop-color='#f5e924'/><stop offset='0.0810' stop-color='#fec239'/><stop offset='0.1054' stop-color='#edba34'/><stop offset='0.1298' stop-color='#cec028'/><stop offset='0.1542' stop-color='#a7c73c'/><stop offset='0.1787' stop-color='#7bcc5d'/><stop offset='0.2031' stop-color='#51cc7f'/><stop offset='0.2275' stop-color='#34c79b'/><stop offset='0.2519' stop-color='#1ec0b2'/><stop offset='0.2764' stop-color='#01b9c7'/><stop offset='0.3008' stop-color='#16afda'/><stop offset='0.3252' stop-color='#22a1e4'/><stop offset='0.3866' stop-color='#2e87f7'/><stop offset='0.4290' stop-color='#3975fe'/><stop offset='0.4626' stop-color='#4369fe'/><stop offset='0.5384' stop-color='#4854f5'/><stop offset='0.6725' stop-color='#463de0'/><stop offset='0.8523' stop-color='#4331c7'/><stop offset='1.0000' stop-color='#412dbb'/></linearGradient><linearGradient id='c60_2' gradientUnits='userSpaceOnUse' x1='1034.5' y1='460.6' x2='988.1' y2='378.3'><stop offset='0.000' stop-color='#f9fb15'/><stop offset='0.077' stop-color='#f5e924'/><stop offset='0.231' stop-color='#fec239'/><stop offset='0.308' stop-color='#edba34'/><stop offset='0.385' stop-color='#cec028'/><stop offset='0.462' stop-color='#a7c73c'/><stop offset='0.538' stop-color='#7bcc5d'/><stop offset='0.615' stop-color='#51cc7f'/><stop offset='0.692' stop-color='#34c79b'/><stop offset='0.769' stop-color='#1ec0b2'/><stop offset='0.846' stop-color='#01b9c7'/><stop offset='0.923' stop-color='#16afda'/><stop offset='1.000' stop-color='#22a1e4'/></linearGradient><linearGradient id='c60_3' gradientUnits='userSpaceOnUse' x1='1035.9' y1='351.3' x2='1026.2' y2='342.7'><stop offset='0.000' stop-color='#22a1e4'/><stop offset='1.000' stop-color='#2e87f7'/></linearGradient><linearGradient id='c60_4' gradientUnits='userSpaceOnUse' x1='1037.3' y1='330.1' x2='1030.8' y2='324.2'><stop offset='0.000' stop-color='#2e87f7'/><stop offset='1.000' stop-color='#3975fe'/></linearGradient><linearGradient id='c60_5' gradientUnits='userSpaceOnUse' x1='1038.7' y1='315.6' x2='1033.6' y2='310.8'><stop offset='0.000' stop-color='#3975fe'/><stop offset='1.000' stop-color='#4369fe'/></linearGradient><linearGradient id='c60_6' gradientUnits='userSpaceOnUse' x1='1040.0' y1='304.0' x2='1035.8' y2='299.9'><stop offset='0.000' stop-color='#4369fe'/><stop offset='1.000' stop-color='#4660fb'/></linearGradient><linearGradient id='c60_7' gradientUnits='userSpaceOnUse' x1='1041.4' y1='294.2' x2='1037.8' y2='290.6'><stop offset='0.000' stop-color='#4660fb'/><stop offset='1.000' stop-color='#4759f8'/></linearGradient><linearGradient id='c60_12' gradientUnits='userSpaceOnUse' x1='1048.2' y1='258.1' x2='1039.9' y2='248.7'><stop offset='0.000' stop-color='#4849ec'/><stop offset='1.000' stop-color='#473fe2'/></linearGradient><linearGradient id='c60_16' gradientUnits='userSpaceOnUse' x1='1053.7' y1='236.6' x2='1046.9' y2='228.0'><stop offset='0.000' stop-color='#473fe2'/><stop offset='1.000' stop-color='#4639da'/></linearGradient><linearGradient id='s61' gradientUnits='userSpaceOnUse' x1='1036.4' y1='460.6' x2='1036.4' y2='117.5'><stop offset='0.0000' stop-color='#f9fb15'/><stop offset='0.0077' stop-color='#f9fb15'/><stop offset='0.0328' stop-color='#f5e924'/><stop offset='0.0830' stop-color='#fec239'/><stop offset='0.1080' stop-color='#edba33'/><stop offset='0.1331' stop-color='#cdc028'/><stop offset='0.1582' stop-color='#a6c83d'/><stop offset='0.2084' stop-color='#50cc80'/><stop offset='0.2335' stop-color='#34c79c'/><stop offset='0.2836' stop-color='#01b8c8'/><stop offset='0.3087' stop-color='#17aeda'/><stop offset='0.3338' stop-color='#23a1e4'/><stop offset='0.3949' stop-color='#2e86f7'/><stop offset='0.4370' stop-color='#3974fe'/><stop offset='0.4703' stop-color='#4368fe'/><stop offset='0.5655' stop-color='#484ff2'/><stop offset='0.6907' stop-color='#463cde'/><stop offset='0.8545' stop-color='#4331c7'/><stop offset='1.0000' stop-color='#412dbb'/></linearGradient><linearGradient id='c61_2' gradientUnits='userSpaceOnUse' x1='1039.1' y1='458.0' x2='991.5' y2='373.7'><stop offset='0.000' stop-color='#f9fb15'/><stop offset='0.077' stop-color='#f5e924'/><stop offset='0.231' stop-color='#fec239'/><stop offset='0.308' stop-color='#edba33'/><stop offset='0.385' stop-color='#cdc028'/><stop offset='0.462' stop-color='#a6c83d'/><stop offset='0.615' stop-color='#50cc80'/><stop offset='0.692' stop-color='#34c79c'/><stop offset='0.846' stop-color='#01b8c8'/><stop offset='0.923' stop-color='#17aeda'/><stop offset='1.000' stop-color='#23a1e4'/></linearGradient><linearGradient id='c61_3' gradientUnits='userSpaceOnUse' x1='1040.5' y1='346.1' x2='1030.9' y2='337.5'><stop offset='0.000' stop-color='#23a1e4'/><stop offset='1.000' stop-color='#2e86f7'/></linearGradient><linearGradient id='c61_4' gradientUnits='userSpaceOnUse' x1='1041.9' y1='325.1' x2='1035.4' y2='319.2'><stop offset='0.000' stop-color='#2e86f7'/><stop offset='1.000' stop-color='#3974fe'/></linearGradient><linearGradient id='c61_5' gradientUnits='userSpaceOnUse' x1='1043.2' y1='310.7' x2='1038.3' y2='306.0'><stop offset='0.000' stop-color='#3974fe'/><stop offset='1.000' stop-color='#4368fe'/></linearGradient><linearGradient id='c61_6' gradientUnits='userSpaceOnUse' x1='1044.6' y1='299.2' x2='1040.5' y2='295.3'><stop offset='0.000' stop-color='#4368fe'/><stop offset='1.000' stop-color='#4660fb'/></linearGradient><linearGradient id='c61_7' gradientUnits='userSpaceOnUse' x1='1046.0' y1='289.6' x2='1042.4' y2='286.1'><stop offset='0.000' stop-color='#4660fb'/><stop offset='1.000' stop-color='#4759f8'/></linearGradient><linearGradient id='c61_12' gradientUnits='userSpaceOnUse' x1='1052.8' y1='254.1' x2='1044.7' y2='244.9'><stop offset='0.000' stop-color='#4848ec'/><stop offset='1.000' stop-color='#473fe2'/></linearGradient><linearGradient id='c61_16' gradientUnits='userSpaceOnUse' x1='1058.3' y1='232.9' x2='1051.7' y2='224.6'><stop offset='0.000' stop-color='#473fe2'/><stop offset='1.000' stop-color='#4639da'/></linearGradient><linearGradient id='s62' gradientUnits='userSpaceOnUse' x1='1041.0' y1='458.0' x2='1041.0' y2='115.9'><stop offset='0.0000' stop-color='#f9fb15'/><stop offset='0.0077' stop-color='#f9fb15'/><stop offset='0.0335' stop-color='#f5e825'/><stop offset='0.0850' stop-color='#fec239'/><stop offset='0.1107' stop-color='#edba33'/><stop offset='0.1365' stop-color='#cdc028'/><stop offset='0.1622' stop-color='#a5c83d'/><stop offset='0.2137' stop-color='#4fcc80'/><stop offset='0.2394' stop-color='#33c69d'/><stop offset='0.2909' stop-color='#01b8c9'/><stop offset='0.3167' stop-color='#18aedb'/><stop offset='0.3424' stop-color='#23a0e5'/><stop offset='0.4033' stop-color='#2e85f8'/><stop offset='0.4450' stop-color='#3a74fe'/><stop offset='0.4780' stop-color='#4368fd'/><stop offset='0.5906' stop-color='#484bef'/><stop offset='0.7324' stop-color='#4538d8'/><stop offset='0.8929' stop-color='#4230c3'/><stop offset='1.0000' stop-color='#412dbb'/></linearGradient><linearGradient id='c62_2' gradientUnits='userSpaceOnUse' x1='1043.7' y1='455.4' x2='995.0' y2='369.2'><stop offset='0.000' stop-color='#f9fb15'/><stop offset='0.077' stop-color='#f5e825'/><stop offset='0.231' stop-color='#fec239'/><stop offset='0.308' stop-color='#edba33'/><stop offset='0.385' stop-color='#cdc028'/><stop offset='0.462' stop-color='#a5c83d'/><stop offset='0.615' stop-color='#4fcc80'/><stop offset='0.692' stop-color='#33c69d'/><stop offset='0.846' stop-color='#01b8c9'/><stop offset='0.923' stop-color='#18aedb'/><stop offset='1.000' stop-color='#23a0e5'/></linearGradient><linearGradient id='c62_3' gradientUnits='userSpaceOnUse' x1='1045.1' y1='340.9' x2='1035.5' y2='332.4'><stop offset='0.000' stop-color='#23a0e5'/><stop offset='1.000' stop-color='#2e85f8'/></linearGradient><linearGradient id='c62_4' gradientUnits='userSpaceOnUse' x1='1046.5' y1='320.1' x2='1040.1' y2='314.3'><stop offset='0.000' stop-color='#2e85f8'/><stop offset='1.000' stop-color='#3a74fe'/></linearGradient><linearGradient id='c62_5' gradientUnits='userSpaceOnUse' x1='1047.8' y1='305.8' x2='1042.9' y2='301.2'><stop offset='0.000' stop-color='#3a74fe'/><stop offset='1.000' stop-color='#4368fd'/></linearGradient><linearGradient id='c62_6' gradientUnits='userSpaceOnUse' x1='1049.2' y1='294.5' x2='1045.2' y2='290.6'><stop offset='0.000' stop-color='#4368fd'/><stop offset='1.000' stop-color='#465ffb'/></linearGradient><linearGradient id='c62_7' gradientUnits='userSpaceOnUse' x1='1050.6' y1='285.0' x2='1047.1' y2='281.5'><stop offset='0.000' stop-color='#465ffb'/><stop offset='1.000' stop-color='#4759f8'/></linearGradient><linearGradient id='c62_12' gradientUnits='userSpaceOnUse' x1='1057.4' y1='250.0' x2='1049.5' y2='241.0'><stop offset='0.000' stop-color='#4848ec'/><stop offset='1.000' stop-color='#473fe2'/></linearGradient><linearGradient id='c62_16' gradientUnits='userSpaceOnUse' x1='1062.9' y1='229.2' x2='1056.4' y2='221.1'><stop offset='0.000' stop-color='#473fe2'/><stop offset='1.000' stop-color='#4639da'/></linearGradient><linearGradient id='s63' gradientUnits='userSpaceOnUse' x1='1045.6' y1='455.4' x2='1045.6' y2='114.4'><stop offset='0.0000' stop-color='#f9fb15'/><stop offset='0.0078' stop-color='#f9fb15'/><stop offset='0.0342' stop-color='#f5e825'/><stop offset='0.0870' stop-color='#fec239'/><stop offset='0.1134' stop-color='#ecba33'/><stop offset='0.1398' stop-color='#ccc028'/><stop offset='0.1662' stop-color='#a4c83e'/><stop offset='0.1926' stop-color='#77cc60'/><stop offset='0.2190' stop-color='#4ecc81'/><stop offset='0.2454' stop-color='#33c69e'/><stop offset='0.2982' stop-color='#01b8ca'/><stop offset='0.3247' stop-color='#19addc'/><stop offset='0.3511' stop-color='#239fe5'/><stop offset='0.4117' stop-color='#2e85f8'/><stop offset='0.4531' stop-color='#3a73fe'/><stop offset='0.4858' stop-color='#4367fd'/><stop offset='0.5787' stop-color='#484ff2'/><stop offset='0.7127' stop-color='#463adc'/><stop offset='0.8946' stop-color='#4230c3'/><stop offset='1.0000' stop-color='#412dbb'/></linearGradient><linearGradient id='c63_2' gradientUnits='userSpaceOnUse' x1='1048.3' y1='452.8' x2='998.5' y2='364.6'><stop offset='0.000' stop-color='#f9fb15'/><stop offset='0.077' stop-color='#f5e825'/><stop offset='0.231' stop-color='#fec239'/><stop offset='0.308' stop-color='#ecba33'/><stop offset='0.385' stop-color='#ccc028'/><stop offset='0.462' stop-color='#a4c83e'/><stop offset='0.538' stop-color='#77cc60'/><stop offset='0.615' stop-color='#4ecc81'/><stop offset='0.692' stop-color='#33c69e'/><stop offset='0.846' stop-color='#01b8ca'/><stop offset='0.923' stop-color='#19addc'/><stop offset='1.000' stop-color='#239fe5'/></linearGradient><linearGradient id='c63_3' gradientUnits='userSpaceOnUse' x1='1049.7' y1='335.7' x2='1040.2' y2='327.3'><stop offset='0.000' stop-color='#239fe5'/><stop offset='1.000' stop-color='#2e85f8'/></linearGradient><linearGradient id='c63_4' gradientUnits='userSpaceOnUse' x1='1051.1' y1='315.0' x2='1044.8' y2='309.3'><stop offset='0.000' stop-color='#2e85f8'/><stop offset='1.000' stop-color='#3a73fe'/></linearGradient><linearGradient id='c63_5' gradientUnits='userSpaceOnUse' x1='1052.5' y1='300.9' x2='1047.6' y2='296.3'><stop offset='0.000' stop-color='#3a73fe'/><stop offset='1.000' stop-color='#4367fd'/></linearGradient><linearGradient id='c63_6' gradientUnits='userSpaceOnUse' x1='1053.8' y1='289.8' x2='1049.8' y2='285.9'><stop offset='0.000' stop-color='#4367fd'/><stop offset='1.000' stop-color='#465ffb'/></linearGradient><linearGradient id='c63_7' gradientUnits='userSpaceOnUse' x1='1055.2' y1='280.4' x2='1051.8' y2='277.0'><stop offset='0.000' stop-color='#465ffb'/><stop offset='1.000' stop-color='#4758f8'/></linearGradient><linearGradient id='c63_12' gradientUnits='userSpaceOnUse' x1='1062.0' y1='246.0' x2='1054.3' y2='237.2'><stop offset='0.000' stop-color='#4848ec'/><stop offset='1.000' stop-color='#473fe2'/></linearGradient><linearGradient id='c63_16' gradientUnits='userSpaceOnUse' x1='1067.5' y1='225.6' x2='1061.2' y2='217.6'><stop offset='0.000' stop-color='#473fe2'/><stop offset='1.000' stop-color='#4639da'/></linearGradient><linearGradient id='s64' gradientUnits='userSpaceOnUse' x1='1050.2' y1='448.0' x2='1050.2' y2='112.8'><stop offset='0.0000' stop-color='#f9fb15'/><stop offset='0.0079' stop-color='#f9fb15'/><stop offset='0.0313' stop-color='#f5e825'/><stop offset='0.0781' stop-color='#fec13a'/><stop offset='0.1015' stop-color='#ebba32'/><stop offset='0.1249' stop-color='#cac129'/><stop offset='0.1483' stop-color='#a1c840'/><stop offset='0.1717' stop-color='#74cc62'/><stop offset='0.1951' stop-color='#4bcb84'/><stop offset='0.2185' stop-color='#31c6a0'/><stop offset='0.2419' stop-color='#16bfb7'/><stop offset='0.2654' stop-color='#03b7cc'/><stop offset='0.2888' stop-color='#1aacdd'/><stop offset='0.3356' stop-color='#2c8ef1'/><stop offset='0.3590' stop-color='#317dfc'/><stop offset='0.3890' stop-color='#3f6eff'/><stop offset='0.4190' stop-color='#4660fc'/><stop offset='0.4921' stop-color='#4849ed'/><stop offset='0.5838' stop-color='#4538d8'/><stop offset='0.7035' stop-color='#422fc1'/><stop offset='0.8869' stop-color='#4029b2'/><stop offset='1.0000' stop-color='#3f28ae'/></linearGradient><linearGradient id='c64_2' gradientUnits='userSpaceOnUse' x1='1052.9' y1='445.4' x2='1015.3' y2='431.2'><stop offset='0.000' stop-color='#f9fb15'/><stop offset='0.067' stop-color='#f5e825'/><stop offset='0.200' stop-color='#fec13a'/><stop offset='0.267' stop-color='#ebba32'/><stop offset='0.333' stop-color='#cac129'/><stop offset='0.400' stop-color='#a1c840'/><stop offset='0.467' stop-color='#74cc62'/><stop offset='0.533' stop-color='#4bcb84'/><stop offset='0.600' stop-color='#31c6a0'/><stop offset='0.667' stop-color='#16bfb7'/><stop offset='0.733' stop-color='#03b7cc'/><stop offset='0.800' stop-color='#1aacdd'/><stop offset='0.933' stop-color='#2c8ef1'/><stop offset='1.000' stop-color='#317dfc'/></linearGradient><linearGradient id='c64_3' gradientUnits='userSpaceOnUse' x1='1054.3' y1='327.7' x2='1048.2' y2='325.1'><stop offset='0.000' stop-color='#317dfc'/><stop offset='0.500' stop-color='#3f6eff'/><stop offset='1.000' stop-color='#4660fc'/></linearGradient><linearGradient id='c64_4' gradientUnits='userSpaceOnUse' x1='1055.7' y1='307.5' x2='1051.6' y2='305.6'><stop offset='0.000' stop-color='#4660fc'/><stop offset='1.000' stop-color='#4852f4'/></linearGradient><linearGradient id='c64_5' gradientUnits='userSpaceOnUse' x1='1057.0' y1='293.8' x2='1053.8' y2='292.2'><stop offset='0.000' stop-color='#4852f4'/><stop offset='1.000' stop-color='#4849ed'/></linearGradient><linearGradient id='c64_6' gradientUnits='userSpaceOnUse' x1='1058.4' y1='283.0' x2='1055.7' y2='281.6'><stop offset='0.000' stop-color='#4849ed'/><stop offset='1.000' stop-color='#4743e7'/></linearGradient><linearGradient id='c64_12' gradientUnits='userSpaceOnUse' x1='1066.6' y1='240.6' x2='1061.1' y2='236.8'><stop offset='0.000' stop-color='#4435d0'/><stop offset='1.000' stop-color='#4330c5'/></linearGradient><linearGradient id='s65' gradientUnits='userSpaceOnUse' x1='1054.8' y1='435.8' x2='1054.8' y2='111.2'><stop offset='0.0000' stop-color='#f9fb15'/><stop offset='0.0082' stop-color='#f9fb15'/><stop offset='0.0320' stop-color='#f5e825'/><stop offset='0.0798' stop-color='#fec239'/><stop offset='0.1037' stop-color='#ecba33'/><stop offset='0.1276' stop-color='#ccc028'/><stop offset='0.1515' stop-color='#a4c83e'/><stop offset='0.1992' stop-color='#4ecc81'/><stop offset='0.2231' stop-color='#33c69d'/><stop offset='0.2709' stop-color='#01b8c9'/><stop offset='0.2948' stop-color='#18addb'/><stop offset='0.3426' stop-color='#2b91ef'/><stop offset='0.3664' stop-color='#3080fa'/><stop offset='0.3960' stop-color='#3c71ff'/><stop offset='0.4255' stop-color='#4563fd'/><stop offset='0.5240' stop-color='#4745e9'/><stop offset='0.6373' stop-color='#4434d0'/><stop offset='0.7520' stop-color='#412ebe'/><stop offset='0.9374' stop-color='#3f29b1'/><stop offset='1.0000' stop-color='#3f28af'/></linearGradient><linearGradient id='c65_2' gradientUnits='userSpaceOnUse' x1='1057.5' y1='433.1' x2='1020.4' y2='419.1'><stop offset='0.000' stop-color='#f9fb15'/><stop offset='0.067' stop-color='#f5e825'/><stop offset='0.200' stop-color='#fec239'/><stop offset='0.267' stop-color='#ecba33'/><stop offset='0.333' stop-color='#ccc028'/><stop offset='0.400' stop-color='#a4c83e'/><stop offset='0.533' stop-color='#4ecc81'/><stop offset='0.600' stop-color='#33c69d'/><stop offset='0.733' stop-color='#01b8c9'/><stop offset='0.800' stop-color='#18addb'/><stop offset='0.933' stop-color='#2b91ef'/><stop offset='1.000' stop-color='#3080fa'/></linearGradient><linearGradient id='c65_3' gradientUnits='userSpaceOnUse' x1='1058.9' y1='316.8' x2='1053.2' y2='314.4'><stop offset='0.000' stop-color='#3080fa'/><stop offset='0.500' stop-color='#3c71ff'/><stop offset='1.000' stop-color='#4563fd'/></linearGradient><linearGradient id='c65_4' gradientUnits='userSpaceOnUse' x1='1060.3' y1='297.7' x2='1056.4' y2='295.9'><stop offset='0.000' stop-color='#4563fd'/><stop offset='1.000' stop-color='#4755f6'/></linearGradient><linearGradient id='c65_5' gradientUnits='userSpaceOnUse' x1='1061.7' y1='284.6' x2='1058.6' y2='283.1'><stop offset='0.000' stop-color='#4755f6'/><stop offset='1.000' stop-color='#484cef'/></linearGradient><linearGradient id='c65_6' gradientUnits='userSpaceOnUse' x1='1063.0' y1='274.4' x2='1060.5' y2='273.0'><stop offset='0.000' stop-color='#484cef'/><stop offset='1.000' stop-color='#4745e9'/></linearGradient><linearGradient id='c65_12' gradientUnits='userSpaceOnUse' x1='1071.2' y1='234.0' x2='1066.1' y2='230.5'><stop offset='0.000' stop-color='#4536d3'/><stop offset='1.000' stop-color='#4331c8'/></linearGradient><linearGradient id='s66' gradientUnits='userSpaceOnUse' x1='1059.4' y1='423.6' x2='1059.4' y2='109.6'><stop offset='0.0000' stop-color='#f9fb15'/><stop offset='0.0084' stop-color='#f9fb15'/><stop offset='0.0328' stop-color='#f5e924'/><stop offset='0.0816' stop-color='#fec239'/><stop offset='0.1060' stop-color='#eeba34'/><stop offset='0.1304' stop-color='#cec028'/><stop offset='0.1548' stop-color='#a7c73c'/><stop offset='0.1792' stop-color='#7bcc5d'/><stop offset='0.2036' stop-color='#51cc7e'/><stop offset='0.2280' stop-color='#34c79b'/><stop offset='0.2524' stop-color='#1ec0b2'/><stop offset='0.2768' stop-color='#01b9c7'/><stop offset='0.3012' stop-color='#16afd9'/><stop offset='0.3500' stop-color='#2a93ee'/><stop offset='0.3744' stop-color='#2f83f9'/><stop offset='0.4034' stop-color='#3974fe'/><stop offset='0.4324' stop-color='#4466fd'/><stop offset='0.5029' stop-color='#484ef1'/><stop offset='0.5912' stop-color='#463bdd'/><stop offset='0.7195' stop-color='#4230c4'/><stop offset='0.8613' stop-color='#402bb6'/><stop offset='1.0000' stop-color='#3f29b0'/></linearGradient><linearGradient id='c66_2' gradientUnits='userSpaceOnUse' x1='1062.1' y1='420.9' x2='1025.4' y2='407.1'><stop offset='0.000' stop-color='#f9fb15'/><stop offset='0.067' stop-color='#f5e924'/><stop offset='0.200' stop-color='#fec239'/><stop offset='0.267' stop-color='#eeba34'/><stop offset='0.333' stop-color='#cec028'/><stop offset='0.400' stop-color='#a7c73c'/><stop offset='0.467' stop-color='#7bcc5d'/><stop offset='0.533' stop-color='#51cc7e'/><stop offset='0.600' stop-color='#34c79b'/><stop offset='0.667' stop-color='#1ec0b2'/><stop offset='0.733' stop-color='#01b9c7'/><stop offset='0.800' stop-color='#16afd9'/><stop offset='0.867' stop-color='#22a1e4'/><stop offset='1.000' stop-color='#2f83f9'/></linearGradient><linearGradient id='c66_3' gradientUnits='userSpaceOnUse' x1='1063.5' y1='306.0' x2='1058.1' y2='303.7'><stop offset='0.000' stop-color='#2f83f9'/><stop offset='0.500' stop-color='#3974fe'/><stop offset='1.000' stop-color='#4466fd'/></linearGradient><linearGradient id='c66_4' gradientUnits='userSpaceOnUse' x1='1064.9' y1='287.8' x2='1061.3' y2='286.1'><stop offset='0.000' stop-color='#4466fd'/><stop offset='1.000' stop-color='#4757f7'/></linearGradient><linearGradient id='c66_5' gradientUnits='userSpaceOnUse' x1='1066.2' y1='275.4' x2='1063.5' y2='274.0'><stop offset='0.000' stop-color='#4757f7'/><stop offset='1.000' stop-color='#484ef1'/></linearGradient><linearGradient id='c66_6' gradientUnits='userSpaceOnUse' x1='1067.6' y1='265.7' x2='1065.3' y2='264.5'><stop offset='0.000' stop-color='#484ef1'/><stop offset='1.000' stop-color='#4747eb'/></linearGradient><linearGradient id='c66_12' gradientUnits='userSpaceOnUse' x1='1075.8' y1='227.4' x2='1071.1' y2='224.1'><stop offset='0.000' stop-color='#4537d6'/><stop offset='1.000' stop-color='#4332ca'/></linearGradient><linearGradient id='s67' gradientUnits='userSpaceOnUse' x1='1064.0' y1='411.4' x2='1064.0' y2='108.0'><stop offset='0.0000' stop-color='#f9fb15'/><stop offset='0.0087' stop-color='#f9fb15'/><stop offset='0.0337' stop-color='#f5e924'/><stop offset='0.0836' stop-color='#fec338'/><stop offset='0.1085' stop-color='#efba35'/><stop offset='0.1335' stop-color='#d0c028'/><stop offset='0.1584' stop-color='#a9c73a'/><stop offset='0.1834' stop-color='#7ecc5b'/><stop offset='0.2083' stop-color='#54cc7c'/><stop offset='0.2333' stop-color='#36c799'/><stop offset='0.2582' stop-color='#21c1b0'/><stop offset='0.2832' stop-color='#01bac5'/><stop offset='0.3081' stop-color='#14b0d8'/><stop offset='0.3331' stop-color='#21a3e3'/><stop offset='0.3830' stop-color='#2e85f8'/><stop offset='0.4114' stop-color='#3777fe'/><stop offset='0.4398' stop-color='#4368fe'/><stop offset='0.5088' stop-color='#4850f2'/><stop offset='0.6124' stop-color='#463adb'/><stop offset='0.7442' stop-color='#422fc2'/><stop offset='0.9132' stop-color='#402ab4'/><stop offset='1.0000' stop-color='#3f29b1'/></linearGradient><linearGradient id='c67_2' gradientUnits='userSpaceOnUse' x1='1066.7' y1='408.7' x2='1030.5' y2='395.1'><stop offset='0.000' stop-color='#f9fb15'/><stop offset='0.067' stop-color='#f5e924'/><stop offset='0.200' stop-color='#fec338'/><stop offset='0.267' stop-color='#efba35'/><stop offset='0.333' stop-color='#d0c028'/><stop offset='0.400' stop-color='#a9c73a'/><stop offset='0.467' stop-color='#7ecc5b'/><stop offset='0.533' stop-color='#54cc7c'/><stop offset='0.600' stop-color='#36c799'/><stop offset='0.667' stop-color='#21c1b0'/><stop offset='0.733' stop-color='#01bac5'/><stop offset='0.800' stop-color='#14b0d8'/><stop offset='0.867' stop-color='#21a3e3'/><stop offset='1.000' stop-color='#2e85f8'/></linearGradient><linearGradient id='c67_3' gradientUnits='userSpaceOnUse' x1='1068.1' y1='295.2' x2='1063.1' y2='293.0'><stop offset='0.000' stop-color='#2e85f8'/><stop offset='0.500' stop-color='#3777fe'/><stop offset='1.000' stop-color='#4368fe'/></linearGradient><linearGradient id='c67_4' gradientUnits='userSpaceOnUse' x1='1069.5' y1='277.9' x2='1066.1' y2='276.4'><stop offset='0.000' stop-color='#4368fe'/><stop offset='1.000' stop-color='#4759f8'/></linearGradient><linearGradient id='c67_5' gradientUnits='userSpaceOnUse' x1='1070.8' y1='266.2' x2='1068.3' y2='264.9'><stop offset='0.000' stop-color='#4759f8'/><stop offset='1.000' stop-color='#4850f2'/></linearGradient><linearGradient id='c67_6' gradientUnits='userSpaceOnUse' x1='1072.2' y1='257.0' x2='1070.1' y2='255.9'><stop offset='0.000' stop-color='#4850f2'/><stop offset='1.000' stop-color='#4849ed'/></linearGradient><linearGradient id='c67_12' gradientUnits='userSpaceOnUse' x1='1080.4' y1='220.7' x2='1076.2' y2='217.7'><stop offset='0.000' stop-color='#4538d8'/><stop offset='1.000' stop-color='#4433cc'/></linearGradient><linearGradient id='s68' gradientUnits='userSpaceOnUse' x1='1068.6' y1='399.1' x2='1068.6' y2='106.4'><stop offset='0.0000' stop-color='#f9fb15'/><stop offset='0.0090' stop-color='#f9fb15'/><stop offset='0.0346' stop-color='#f5e924'/><stop offset='0.0857' stop-color='#fec338'/><stop offset='0.1112' stop-color='#efba35'/><stop offset='0.1367' stop-color='#d1bf27'/><stop offset='0.1623' stop-color='#abc739'/><stop offset='0.1878' stop-color='#80cc59'/><stop offset='0.2133' stop-color='#56cc7a'/><stop offset='0.2389' stop-color='#37c897'/><stop offset='0.2644' stop-color='#23c1af'/><stop offset='0.2900' stop-color='#02bac4'/><stop offset='0.3155' stop-color='#12b1d6'/><stop offset='0.3410' stop-color='#20a4e3'/><stop offset='0.3921' stop-color='#2e87f7'/><stop offset='0.4199' stop-color='#3579fd'/><stop offset='0.4478' stop-color='#426afe'/><stop offset='0.5151' stop-color='#4851f4'/><stop offset='0.6165' stop-color='#463bdd'/><stop offset='0.7460' stop-color='#4230c4'/><stop offset='0.9135' stop-color='#402ab5'/><stop offset='1.0000' stop-color='#3f29b2'/></linearGradient><linearGradient id='c68_2' gradientUnits='userSpaceOnUse' x1='1071.3' y1='396.5' x2='1035.6' y2='383.0'><stop offset='0.000' stop-color='#f9fb15'/><stop offset='0.067' stop-color='#f5e924'/><stop offset='0.200' stop-color='#fec338'/><stop offset='0.267' stop-color='#efba35'/><stop offset='0.333' stop-color='#d1bf27'/><stop offset='0.400' stop-color='#abc739'/><stop offset='0.467' stop-color='#80cc59'/><stop offset='0.533' stop-color='#56cc7a'/><stop offset='0.600' stop-color='#37c897'/><stop offset='0.667' stop-color='#23c1af'/><stop offset='0.733' stop-color='#02bac4'/><stop offset='0.800' stop-color='#12b1d6'/><stop offset='0.867' stop-color='#20a4e3'/><stop offset='1.000' stop-color='#2e87f7'/></linearGradient><linearGradient id='c68_3' gradientUnits='userSpaceOnUse' x1='1072.7' y1='284.4' x2='1068.0' y2='282.4'><stop offset='0.000' stop-color='#2e87f7'/><stop offset='0.500' stop-color='#3579fd'/><stop offset='1.000' stop-color='#426afe'/></linearGradient><linearGradient id='c68_4' gradientUnits='userSpaceOnUse' x1='1074.1' y1='268.1' x2='1071.0' y2='266.6'><stop offset='0.000' stop-color='#426afe'/><stop offset='1.000' stop-color='#475bf9'/></linearGradient><linearGradient id='c68_5' gradientUnits='userSpaceOnUse' x1='1075.4' y1='257.0' x2='1073.1' y2='255.8'><stop offset='0.000' stop-color='#475bf9'/><stop offset='1.000' stop-color='#4851f4'/></linearGradient><linearGradient id='c68_6' gradientUnits='userSpaceOnUse' x1='1076.8' y1='248.3' x2='1074.9' y2='247.3'><stop offset='0.000' stop-color='#4851f4'/><stop offset='1.000' stop-color='#484bee'/></linearGradient><linearGradient id='c68_12' gradientUnits='userSpaceOnUse' x1='1085.0' y1='214.1' x2='1081.2' y2='211.4'><stop offset='0.000' stop-color='#4639da'/><stop offset='1.000' stop-color='#4434ce'/></linearGradient><linearGradient id='s69' gradientUnits='userSpaceOnUse' x1='1073.2' y1='386.9' x2='1073.2' y2='104.8'><stop offset='0.0000' stop-color='#f9fb15'/><stop offset='0.0094' stop-color='#f9fb15'/><stop offset='0.0356' stop-color='#f5e924'/><stop offset='0.0879' stop-color='#fec438'/><stop offset='0.1141' stop-color='#f0ba36'/><stop offset='0.1402' stop-color='#d2bf27'/><stop offset='0.1664' stop-color='#adc638'/><stop offset='0.1926' stop-color='#82cc58'/><stop offset='0.2188' stop-color='#58cc79'/><stop offset='0.2449' stop-color='#38c896'/><stop offset='0.2711' stop-color='#25c2ad'/><stop offset='0.2973' stop-color='#03bbc2'/><stop offset='0.3234' stop-color='#10b2d5'/><stop offset='0.3496' stop-color='#1fa6e2'/><stop offset='0.4020' stop-color='#2d88f6'/><stop offset='0.4291' stop-color='#337bfd'/><stop offset='0.4563' stop-color='#416cfe'/><stop offset='0.4931' stop-color='#475dfa'/><stop offset='0.5677' stop-color='#4747eb'/><stop offset='0.6645' stop-color='#4537d6'/><stop offset='0.7891' stop-color='#422fc1'/><stop offset='0.9617' stop-color='#402ab4'/><stop offset='1.0000' stop-color='#402ab3'/></linearGradient><linearGradient id='c69_2' gradientUnits='userSpaceOnUse' x1='1075.9' y1='384.3' x2='1040.6' y2='371.0'><stop offset='0.000' stop-color='#f9fb15'/><stop offset='0.067' stop-color='#f5e924'/><stop offset='0.200' stop-color='#fec438'/><stop offset='0.267' stop-color='#f0ba36'/><stop offset='0.333' stop-color='#d2bf27'/><stop offset='0.400' stop-color='#adc638'/><stop offset='0.467' stop-color='#82cc58'/><stop offset='0.533' stop-color='#58cc79'/><stop offset='0.600' stop-color='#38c896'/><stop offset='0.667' stop-color='#25c2ad'/><stop offset='0.733' stop-color='#03bbc2'/><stop offset='0.800' stop-color='#10b2d5'/><stop offset='0.867' stop-color='#1fa6e2'/><stop offset='1.000' stop-color='#2d88f6'/></linearGradient><linearGradient id='c69_3' gradientUnits='userSpaceOnUse' x1='1077.3' y1='273.5' x2='1073.0' y2='271.7'><stop offset='0.000' stop-color='#2d88f6'/><stop offset='0.500' stop-color='#337bfd'/><stop offset='1.000' stop-color='#416cfe'/></linearGradient><linearGradient id='c69_4' gradientUnits='userSpaceOnUse' x1='1078.7' y1='258.2' x2='1075.8' y2='256.9'><stop offset='0.000' stop-color='#416cfe'/><stop offset='1.000' stop-color='#475dfa'/></linearGradient><linearGradient id='c69_5' gradientUnits='userSpaceOnUse' x1='1080.0' y1='247.8' x2='1077.9' y2='246.7'><stop offset='0.000' stop-color='#475dfa'/><stop offset='1.000' stop-color='#4853f5'/></linearGradient><linearGradient id='c69_6' gradientUnits='userSpaceOnUse' x1='1081.4' y1='239.7' x2='1079.6' y2='238.7'><stop offset='0.000' stop-color='#4853f5'/><stop offset='1.000' stop-color='#484cf0'/></linearGradient><linearGradient id='c69_12' gradientUnits='userSpaceOnUse' x1='1089.6' y1='207.4' x2='1086.2' y2='205.0'><stop offset='0.000' stop-color='#463adc'/><stop offset='1.000' stop-color='#4435d0'/></linearGradient><linearGradient id='s70' gradientUnits='userSpaceOnUse' x1='1077.8' y1='374.7' x2='1077.8' y2='103.2'><stop offset='0.0000' stop-color='#f9fb15'/><stop offset='0.0098' stop-color='#f9fb15'/><stop offset='0.0366' stop-color='#f5e924'/><stop offset='0.0903' stop-color='#fec438'/><stop offset='0.1172' stop-color='#f1ba37'/><stop offset='0.1440' stop-color='#d3bf27'/><stop offset='0.1709' stop-color='#aec637'/><stop offset='0.1977' stop-color='#84cc56'/><stop offset='0.2246' stop-color='#5acc77'/><stop offset='0.2514' stop-color='#39c994'/><stop offset='0.2783' stop-color='#27c2ac'/><stop offset='0.3052' stop-color='#05bbc1'/><stop offset='0.3320' stop-color='#0eb3d4'/><stop offset='0.3589' stop-color='#1ea7e1'/><stop offset='0.4390' stop-color='#327cfc'/><stop offset='0.4655' stop-color='#3f6efe'/><stop offset='0.5012' stop-color='#465ffb'/><stop offset='0.5738' stop-color='#4849ed'/><stop offset='0.6683' stop-color='#4538d8'/><stop offset='0.8190' stop-color='#422fc0'/><stop offset='1.0000' stop-color='#402ab4'/></linearGradient><linearGradient id='c70_2' gradientUnits='userSpaceOnUse' x1='1080.5' y1='372.1' x2='1045.7' y2='358.9'><stop offset='0.000' stop-color='#f9fb15'/><stop offset='0.067' stop-color='#f5e924'/><stop offset='0.200' stop-color='#fec438'/><stop offset='0.267' stop-color='#f1ba37'/><stop offset='0.333' stop-color='#d3bf27'/><stop offset='0.400' stop-color='#aec637'/><stop offset='0.467' stop-color='#84cc56'/><stop offset='0.533' stop-color='#5acc77'/><stop offset='0.600' stop-color='#39c994'/><stop offset='0.667' stop-color='#27c2ac'/><stop offset='0.733' stop-color='#05bbc1'/><stop offset='0.800' stop-color='#0eb3d4'/><stop offset='0.867' stop-color='#1ea7e1'/><stop offset='1.000' stop-color='#2d8af5'/></linearGradient><linearGradient id='c70_3' gradientUnits='userSpaceOnUse' x1='1081.9' y1='262.7' x2='1077.9' y2='261.0'><stop offset='0.000' stop-color='#2d8af5'/><stop offset='0.500' stop-color='#327cfc'/><stop offset='1.000' stop-color='#3f6efe'/></linearGradient><linearGradient id='c70_4' gradientUnits='userSpaceOnUse' x1='1083.3' y1='248.3' x2='1080.7' y2='247.1'><stop offset='0.000' stop-color='#3f6efe'/><stop offset='1.000' stop-color='#465ffb'/></linearGradient><linearGradient id='c70_5' gradientUnits='userSpaceOnUse' x1='1084.7' y1='238.6' x2='1082.7' y2='237.6'><stop offset='0.000' stop-color='#465ffb'/><stop offset='1.000' stop-color='#4755f6'/></linearGradient><linearGradient id='c70_6' gradientUnits='userSpaceOnUse' x1='1086.0' y1='231.0' x2='1084.4' y2='230.1'><stop offset='0.000' stop-color='#4755f6'/><stop offset='1.000' stop-color='#484ef1'/></linearGradient><linearGradient id='c70_12' gradientUnits='userSpaceOnUse' x1='1094.2' y1='200.8' x2='1091.2' y2='198.7'><stop offset='0.000' stop-color='#463cde'/><stop offset='1.000' stop-color='#4536d3'/></linearGradient><linearGradient id='s71' gradientUnits='userSpaceOnUse' x1='1082.4' y1='362.5' x2='1082.4' y2='101.6'><stop offset='0.0000' stop-color='#f9fb15'/><stop offset='0.0101' stop-color='#f9fb15'/><stop offset='0.0377' stop-color='#f5e924'/><stop offset='0.0929' stop-color='#fec437'/><stop offset='0.1205' stop-color='#f1ba37'/><stop offset='0.1481' stop-color='#d4bf28'/><stop offset='0.1757' stop-color='#afc636'/><stop offset='0.2309' stop-color='#5ccc76'/><stop offset='0.2585' stop-color='#3ac993'/><stop offset='0.2861' stop-color='#28c2ab'/><stop offset='0.3137' stop-color='#07bcc0'/><stop offset='0.3413' stop-color='#0cb3d3'/><stop offset='0.3689' stop-color='#1ea7e1'/><stop offset='0.4240' stop-color='#2d8bf4'/><stop offset='0.4498' stop-color='#317efb'/><stop offset='0.4755' stop-color='#3e70ff'/><stop offset='0.5101' stop-color='#4661fc'/><stop offset='0.5804' stop-color='#484bef'/><stop offset='0.6723' stop-color='#463adc'/><stop offset='0.7922' stop-color='#4331c7'/><stop offset='0.9463' stop-color='#412cb9'/><stop offset='1.0000' stop-color='#402bb7'/></linearGradient><linearGradient id='c71_2' gradientUnits='userSpaceOnUse' x1='1085.1' y1='359.9' x2='1050.7' y2='346.9'><stop offset='0.000' stop-color='#f9fb15'/><stop offset='0.067' stop-color='#f5e924'/><stop offset='0.200' stop-color='#fec437'/><stop offset='0.267' stop-color='#f1ba37'/><stop offset='0.333' stop-color='#d4bf28'/><stop offset='0.400' stop-color='#afc636'/><stop offset='0.533' stop-color='#5ccc76'/><stop offset='0.600' stop-color='#3ac993'/><stop offset='0.667' stop-color='#28c2ab'/><stop offset='0.733' stop-color='#07bcc0'/><stop offset='0.800' stop-color='#0cb3d3'/><stop offset='0.867' stop-color='#1ea7e1'/><stop offset='1.000' stop-color='#2d8bf4'/></linearGradient><linearGradient id='c71_3' gradientUnits='userSpaceOnUse' x1='1086.5' y1='251.9' x2='1082.8' y2='250.3'><stop offset='0.000' stop-color='#2d8bf4'/><stop offset='0.500' stop-color='#317efb'/><stop offset='1.000' stop-color='#3e70ff'/></linearGradient><linearGradient id='c71_4' gradientUnits='userSpaceOnUse' x1='1087.9' y1='238.4' x2='1085.5' y2='237.4'><stop offset='0.000' stop-color='#3e70ff'/><stop offset='1.000' stop-color='#4661fc'/></linearGradient><linearGradient id='c71_5' gradientUnits='userSpaceOnUse' x1='1089.2' y1='229.4' x2='1087.5' y2='228.5'><stop offset='0.000' stop-color='#4661fc'/><stop offset='1.000' stop-color='#4757f7'/></linearGradient><linearGradient id='c71_6' gradientUnits='userSpaceOnUse' x1='1090.6' y1='222.3' x2='1089.2' y2='221.6'><stop offset='0.000' stop-color='#4757f7'/><stop offset='1.000' stop-color='#4850f3'/></linearGradient><linearGradient id='c71_12' gradientUnits='userSpaceOnUse' x1='1098.8' y1='194.1' x2='1096.2' y2='192.3'><stop offset='0.000' stop-color='#463ee1'/><stop offset='1.000' stop-color='#4538d7'/></linearGradient><linearGradient id='s72' gradientUnits='userSpaceOnUse' x1='1087.0' y1='349.2' x2='1087.0' y2='100.0'><stop offset='0.0000' stop-color='#f9fb15'/><stop offset='0.0106' stop-color='#f9fb15'/><stop offset='0.0353' stop-color='#f5e924'/><stop offset='0.0846' stop-color='#fec239'/><stop offset='0.1093' stop-color='#edba33'/><stop offset='0.1340' stop-color='#cec028'/><stop offset='0.1587' stop-color='#a6c83c'/><stop offset='0.2080' stop-color='#51cc7f'/><stop offset='0.2327' stop-color='#34c79c'/><stop offset='0.2574' stop-color='#1dc0b3'/><stop offset='0.2820' stop-color='#01b9c8'/><stop offset='0.3067' stop-color='#17aeda'/><stop offset='0.3560' stop-color='#2b92ee'/><stop offset='0.3807' stop-color='#2f82fa'/><stop offset='0.4054' stop-color='#3e6fff'/><stop offset='0.4301' stop-color='#465dfa'/><stop offset='0.4801' stop-color='#4849ed'/><stop offset='0.5626' stop-color='#4535d2'/><stop offset='0.6595' stop-color='#412dbc'/><stop offset='0.8008' stop-color='#3f29b0'/><stop offset='1.0000' stop-color='#3e27ab'/></linearGradient><linearGradient id='c72_2' gradientUnits='userSpaceOnUse' x1='1089.7' y1='346.6' x2='1060.5' y2='337.2'><stop offset='0.000' stop-color='#f9fb15'/><stop offset='0.059' stop-color='#f5e924'/><stop offset='0.176' stop-color='#fec239'/><stop offset='0.235' stop-color='#edba33'/><stop offset='0.294' stop-color='#cec028'/><stop offset='0.353' stop-color='#a6c83c'/><stop offset='0.412' stop-color='#7acc5d'/><stop offset='0.471' stop-color='#51cc7f'/><stop offset='0.529' stop-color='#34c79c'/><stop offset='0.588' stop-color='#1dc0b3'/><stop offset='0.647' stop-color='#01b9c8'/><stop offset='0.706' stop-color='#17aeda'/><stop offset='0.765' stop-color='#23a1e4'/><stop offset='0.882' stop-color='#2f82fa'/><stop offset='0.941' stop-color='#3e6fff'/><stop offset='1.000' stop-color='#465dfa'/></linearGradient><linearGradient id='c72_3' gradientUnits='userSpaceOnUse' x1='1091.1' y1='242.0' x2='1087.1' y2='239.9'><stop offset='0.000' stop-color='#465dfa'/><stop offset='1.000' stop-color='#4849ed'/></linearGradient><linearGradient id='c72_4' gradientUnits='userSpaceOnUse' x1='1092.5' y1='229.6' x2='1089.8' y2='228.0'><stop offset='0.000' stop-color='#4849ed'/><stop offset='1.000' stop-color='#473fe2'/></linearGradient><linearGradient id='c72_5' gradientUnits='userSpaceOnUse' x1='1093.8' y1='221.2' x2='1091.8' y2='219.9'><stop offset='0.000' stop-color='#473fe2'/><stop offset='1.000' stop-color='#4639d9'/></linearGradient><linearGradient id='s73' gradientUnits='userSpaceOnUse' x1='1091.6' y1='334.9' x2='1091.6' y2='98.4'><stop offset='0.0000' stop-color='#f9fb15'/><stop offset='0.0112' stop-color='#f9fb15'/><stop offset='0.0358' stop-color='#f5e924'/><stop offset='0.0851' stop-color='#fec338'/><stop offset='0.1097' stop-color='#f0ba36'/><stop offset='0.1343' stop-color='#d2bf27'/><stop offset='0.1590' stop-color='#acc738'/><stop offset='0.1836' stop-color='#81cc58'/><stop offset='0.2082' stop-color='#58cc79'/><stop offset='0.2329' stop-color='#38c896'/><stop offset='0.2575' stop-color='#24c2ae'/><stop offset='0.2821' stop-color='#02bbc3'/><stop offset='0.3067' stop-color='#11b1d6'/><stop offset='0.3314' stop-color='#1fa5e2'/><stop offset='0.3806' stop-color='#2d87f6'/><stop offset='0.4053' stop-color='#3876fe'/><stop offset='0.4299' stop-color='#4564fd'/><stop offset='0.4785' stop-color='#484ef1'/><stop offset='0.5373' stop-color='#463ddf'/><stop offset='0.6417' stop-color='#4230c3'/><stop offset='0.7477' stop-color='#402bb6'/><stop offset='0.9765' stop-color='#3f28ad'/><stop offset='1.0000' stop-color='#3e28ac'/></linearGradient><linearGradient id='c73_2' gradientUnits='userSpaceOnUse' x1='1094.3' y1='332.3' x2='1066.7' y2='323.4'><stop offset='0.000' stop-color='#f9fb15'/><stop offset='0.059' stop-color='#f5e924'/><stop offset='0.176' stop-color='#fec338'/><stop offset='0.235' stop-color='#f0ba36'/><stop offset='0.294' stop-color='#d2bf27'/><stop offset='0.353' stop-color='#acc738'/><stop offset='0.412' stop-color='#81cc58'/><stop offset='0.471' stop-color='#58cc79'/><stop offset='0.529' stop-color='#38c896'/><stop offset='0.588' stop-color='#24c2ae'/><stop offset='0.647' stop-color='#02bbc3'/><stop offset='0.706' stop-color='#11b1d6'/><stop offset='0.765' stop-color='#1fa5e2'/><stop offset='0.882' stop-color='#2d87f6'/><stop offset='0.941' stop-color='#3876fe'/><stop offset='1.000' stop-color='#4564fd'/></linearGradient><linearGradient id='c73_3' gradientUnits='userSpaceOnUse' x1='1095.7' y1='233.2' x2='1092.1' y2='231.3'><stop offset='0.000' stop-color='#4564fd'/><stop offset='1.000' stop-color='#484ef1'/></linearGradient><linearGradient id='c73_4' gradientUnits='userSpaceOnUse' x1='1097.1' y1='221.7' x2='1094.7' y2='220.3'><stop offset='0.000' stop-color='#484ef1'/><stop offset='1.000' stop-color='#4743e8'/></linearGradient><linearGradient id='c73_5' gradientUnits='userSpaceOnUse' x1='1098.5' y1='214.0' x2='1096.6' y2='212.8'><stop offset='0.000' stop-color='#4743e8'/><stop offset='1.000' stop-color='#463ddf'/></linearGradient><linearGradient id='s74' gradientUnits='userSpaceOnUse' x1='1096.2' y1='320.6' x2='1096.2' y2='96.8'><stop offset='0.0000' stop-color='#f9fb15'/><stop offset='0.0118' stop-color='#f9fb15'/><stop offset='0.0379' stop-color='#f5e825'/><stop offset='0.0902' stop-color='#fec139'/><stop offset='0.1163' stop-color='#ecba32'/><stop offset='0.1424' stop-color='#cbc129'/><stop offset='0.1685' stop-color='#a2c83f'/><stop offset='0.1946' stop-color='#75cc61'/><stop offset='0.2208' stop-color='#4ccb83'/><stop offset='0.2469' stop-color='#32c69f'/><stop offset='0.2730' stop-color='#18bfb6'/><stop offset='0.2991' stop-color='#02b7cb'/><stop offset='0.3252' stop-color='#19acdc'/><stop offset='0.3775' stop-color='#2c8ff1'/><stop offset='0.4036' stop-color='#317efb'/><stop offset='0.4297' stop-color='#416bfe'/><stop offset='0.4768' stop-color='#4854f5'/><stop offset='0.5557' stop-color='#463cdf'/><stop offset='0.6506' stop-color='#4331c7'/><stop offset='0.7535' stop-color='#412cb9'/><stop offset='0.9433' stop-color='#3f28af'/><stop offset='1.0000' stop-color='#3f28ae'/></linearGradient><linearGradient id='c74_2' gradientUnits='userSpaceOnUse' x1='1098.9' y1='318.0' x2='1072.9' y2='309.6'><stop offset='0.000' stop-color='#f9fb15'/><stop offset='0.062' stop-color='#f5e825'/><stop offset='0.187' stop-color='#fec139'/><stop offset='0.250' stop-color='#ecba32'/><stop offset='0.313' stop-color='#cbc129'/><stop offset='0.375' stop-color='#a2c83f'/><stop offset='0.437' stop-color='#75cc61'/><stop offset='0.500' stop-color='#4ccb83'/><stop offset='0.563' stop-color='#32c69f'/><stop offset='0.687' stop-color='#02b7cb'/><stop offset='0.750' stop-color='#19acdc'/><stop offset='0.875' stop-color='#2c8ff1'/><stop offset='0.938' stop-color='#317efb'/><stop offset='1.000' stop-color='#416bfe'/></linearGradient><linearGradient id='c74_3' gradientUnits='userSpaceOnUse' x1='1100.3' y1='224.4' x2='1097.1' y2='222.7'><stop offset='0.000' stop-color='#416bfe'/><stop offset='1.000' stop-color='#4854f5'/></linearGradient><linearGradient id='c74_4' gradientUnits='userSpaceOnUse' x1='1101.7' y1='213.9' x2='1099.6' y2='212.7'><stop offset='0.000' stop-color='#4854f5'/><stop offset='1.000' stop-color='#4849ed'/></linearGradient><linearGradient id='c74_5' gradientUnits='userSpaceOnUse' x1='1103.0' y1='206.7' x2='1101.5' y2='205.7'><stop offset='0.000' stop-color='#4849ed'/><stop offset='1.000' stop-color='#4741e5'/></linearGradient><linearGradient id='s75' gradientUnits='userSpaceOnUse' x1='1100.8' y1='306.3' x2='1100.8' y2='95.2'><stop offset='0.0000' stop-color='#f9fb15'/><stop offset='0.0125' stop-color='#f9fb15'/><stop offset='0.0386' stop-color='#f5e924'/><stop offset='0.0907' stop-color='#fec339'/><stop offset='0.1168' stop-color='#eeba34'/><stop offset='0.1428' stop-color='#cfc028'/><stop offset='0.1689' stop-color='#a8c73b'/><stop offset='0.1950' stop-color='#7dcc5c'/><stop offset='0.2210' stop-color='#53cc7d'/><stop offset='0.2471' stop-color='#35c79a'/><stop offset='0.2731' stop-color='#20c1b1'/><stop offset='0.2992' stop-color='#01b9c6'/><stop offset='0.3252' stop-color='#15afd8'/><stop offset='0.3513' stop-color='#22a2e4'/><stop offset='0.4034' stop-color='#2e84f9'/><stop offset='0.4295' stop-color='#3c71ff'/><stop offset='0.4522' stop-color='#4465fd'/><stop offset='0.5059' stop-color='#484ef1'/><stop offset='0.5874' stop-color='#463adb'/><stop offset='0.6942' stop-color='#4230c4'/><stop offset='0.8360' stop-color='#402bb6'/><stop offset='1.0000' stop-color='#3f29b0'/></linearGradient><linearGradient id='c75_2' gradientUnits='userSpaceOnUse' x1='1103.5' y1='303.7' x2='1079.1' y2='295.8'><stop offset='0.000' stop-color='#f9fb15'/><stop offset='0.063' stop-color='#f5e924'/><stop offset='0.187' stop-color='#fec339'/><stop offset='0.250' stop-color='#eeba34'/><stop offset='0.313' stop-color='#cfc028'/><stop offset='0.375' stop-color='#a8c73b'/><stop offset='0.437' stop-color='#7dcc5c'/><stop offset='0.500' stop-color='#53cc7d'/><stop offset='0.563' stop-color='#35c79a'/><stop offset='0.625' stop-color='#20c1b1'/><stop offset='0.687' stop-color='#01b9c6'/><stop offset='0.750' stop-color='#15afd8'/><stop offset='0.813' stop-color='#22a2e4'/><stop offset='0.937' stop-color='#2e84f9'/><stop offset='1.000' stop-color='#3c71ff'/></linearGradient><linearGradient id='c75_3' gradientUnits='userSpaceOnUse' x1='1104.9' y1='215.6' x2='1102.0' y2='214.1'><stop offset='0.000' stop-color='#3c71ff'/><stop offset='0.500' stop-color='#4465fd'/><stop offset='1.000' stop-color='#475af9'/></linearGradient><linearGradient id='c75_4' gradientUnits='userSpaceOnUse' x1='1106.3' y1='206.0' x2='1104.4' y2='205.0'><stop offset='0.000' stop-color='#475af9'/><stop offset='1.000' stop-color='#484ef1'/></linearGradient><linearGradient id='c75_5' gradientUnits='userSpaceOnUse' x1='1107.6' y1='199.5' x2='1106.3' y2='198.6'><stop offset='0.000' stop-color='#484ef1'/><stop offset='1.000' stop-color='#4746ea'/></linearGradient><linearGradient id='c75_6' gradientUnits='userSpaceOnUse' x1='1109.0' y1='194.3' x2='1107.9' y2='193.5'><stop offset='0.000' stop-color='#4746ea'/><stop offset='1.000' stop-color='#4741e5'/></linearGradient><linearGradient id='s76' gradientUnits='userSpaceOnUse' x1='1105.4' y1='292.0' x2='1105.4' y2='93.6'><stop offset='0.0000' stop-color='#f9fb15'/><stop offset='0.0133' stop-color='#f9fb15'/><stop offset='0.0393' stop-color='#f5e924'/><stop offset='0.0913' stop-color='#fec438'/><stop offset='0.1173' stop-color='#f0ba36'/><stop offset='0.1433' stop-color='#d2bf27'/><stop offset='0.1693' stop-color='#adc638'/><stop offset='0.1953' stop-color='#83cc57'/><stop offset='0.2213' stop-color='#59cc78'/><stop offset='0.2473' stop-color='#39c895'/><stop offset='0.2733' stop-color='#26c2ad'/><stop offset='0.2993' stop-color='#04bbc2'/><stop offset='0.3253' stop-color='#0fb2d4'/><stop offset='0.3513' stop-color='#1fa6e2'/><stop offset='0.4292' stop-color='#3678fe'/><stop offset='0.4510' stop-color='#416bfe'/><stop offset='0.4728' stop-color='#465ffb'/><stop offset='0.5471' stop-color='#4746ea'/><stop offset='0.6261' stop-color='#4537d7'/><stop offset='0.7217' stop-color='#4330c5'/><stop offset='0.8688' stop-color='#412cb8'/><stop offset='1.0000' stop-color='#402ab3'/></linearGradient><linearGradient id='c76_2' gradientUnits='userSpaceOnUse' x1='1108.1' y1='289.3' x2='1085.3' y2='282.0'><stop offset='0.000' stop-color='#f9fb15'/><stop offset='0.063' stop-color='#f5e924'/><stop offset='0.187' stop-color='#fec438'/><stop offset='0.250' stop-color='#f0ba36'/><stop offset='0.312' stop-color='#d2bf27'/><stop offset='0.375' stop-color='#adc638'/><stop offset='0.438' stop-color='#83cc57'/><stop offset='0.500' stop-color='#59cc78'/><stop offset='0.562' stop-color='#39c895'/><stop offset='0.625' stop-color='#26c2ad'/><stop offset='0.688' stop-color='#04bbc2'/><stop offset='0.750' stop-color='#0fb2d4'/><stop offset='0.813' stop-color='#1fa6e2'/><stop offset='1.000' stop-color='#3678fe'/></linearGradient><linearGradient id='c76_3' gradientUnits='userSpaceOnUse' x1='1109.5' y1='206.8' x2='1107.0' y2='205.5'><stop offset='0.000' stop-color='#3678fe'/><stop offset='0.500' stop-color='#416bfe'/><stop offset='1.000' stop-color='#465ffb'/></linearGradient><linearGradient id='c76_4' gradientUnits='userSpaceOnUse' x1='1110.9' y1='198.2' x2='1109.3' y2='197.3'><stop offset='0.000' stop-color='#465ffb'/><stop offset='1.000' stop-color='#4853f5'/></linearGradient><linearGradient id='c76_5' gradientUnits='userSpaceOnUse' x1='1112.2' y1='192.3' x2='1111.1' y2='191.5'><stop offset='0.000' stop-color='#4853f5'/><stop offset='1.000' stop-color='#484bef'/></linearGradient><linearGradient id='c76_6' gradientUnits='userSpaceOnUse' x1='1113.6' y1='187.5' x2='1112.7' y2='186.9'><stop offset='0.000' stop-color='#484bef'/><stop offset='1.000' stop-color='#4746ea'/></linearGradient><linearGradient id='c76_12' gradientUnits='userSpaceOnUse' x1='1121.8' y1='167.8' x2='1119.9' y2='166.0'><stop offset='0.000' stop-color='#4537d7'/><stop offset='1.000' stop-color='#4433cc'/></linearGradient><linearGradient id='s77' gradientUnits='userSpaceOnUse' x1='1110.0' y1='277.7' x2='1110.0' y2='92.0'><stop offset='0.0000' stop-color='#f9fb15'/><stop offset='0.0143' stop-color='#f9fb15'/><stop offset='0.0419' stop-color='#f5e825'/><stop offset='0.0972' stop-color='#fec13a'/><stop offset='0.1248' stop-color='#ebba32'/><stop offset='0.1525' stop-color='#cac129'/><stop offset='0.1801' stop-color='#a2c840'/><stop offset='0.2078' stop-color='#74cc62'/><stop offset='0.2354' stop-color='#4bcb84'/><stop offset='0.2631' stop-color='#31c6a0'/><stop offset='0.2907' stop-color='#16bfb7'/><stop offset='0.3184' stop-color='#03b7cc'/><stop offset='0.3460' stop-color='#1aacdd'/><stop offset='0.4013' stop-color='#2c8ef1'/><stop offset='0.4290' stop-color='#317dfc'/><stop offset='0.4497' stop-color='#3d71ff'/><stop offset='0.4704' stop-color='#4465fd'/><stop offset='0.5220' stop-color='#4851f3'/><stop offset='0.6057' stop-color='#463de0'/><stop offset='0.7365' stop-color='#4332c9'/><stop offset='0.8835' stop-color='#412dbc'/><stop offset='1.0000' stop-color='#402bb7'/></linearGradient><linearGradient id='c77_2' gradientUnits='userSpaceOnUse' x1='1112.7' y1='275.0' x2='1091.5' y2='268.2'><stop offset='0.000' stop-color='#f9fb15'/><stop offset='0.067' stop-color='#f5e825'/><stop offset='0.200' stop-color='#fec13a'/><stop offset='0.267' stop-color='#ebba32'/><stop offset='0.333' stop-color='#cac129'/><stop offset='0.400' stop-color='#a2c840'/><stop offset='0.467' stop-color='#74cc62'/><stop offset='0.533' stop-color='#4bcb84'/><stop offset='0.600' stop-color='#31c6a0'/><stop offset='0.667' stop-color='#16bfb7'/><stop offset='0.733' stop-color='#03b7cc'/><stop offset='0.800' stop-color='#1aacdd'/><stop offset='0.933' stop-color='#2c8ef1'/><stop offset='1.000' stop-color='#317dfc'/></linearGradient><linearGradient id='c77_3' gradientUnits='userSpaceOnUse' x1='1114.1' y1='198.0' x2='1112.0' y2='196.9'><stop offset='0.000' stop-color='#317dfc'/><stop offset='0.500' stop-color='#3d71ff'/><stop offset='1.000' stop-color='#4465fd'/></linearGradient><linearGradient id='c77_4' gradientUnits='userSpaceOnUse' x1='1115.5' y1='190.3' x2='1114.2' y2='189.6'><stop offset='0.000' stop-color='#4465fd'/><stop offset='1.000' stop-color='#4758f8'/></linearGradient><linearGradient id='c77_5' gradientUnits='userSpaceOnUse' x1='1116.8' y1='185.0' x2='1115.9' y2='184.4'><stop offset='0.000' stop-color='#4758f8'/><stop offset='1.000' stop-color='#4851f3'/></linearGradient><linearGradient id='c77_6' gradientUnits='userSpaceOnUse' x1='1118.2' y1='180.7' x2='1117.4' y2='180.2'><stop offset='0.000' stop-color='#4851f3'/><stop offset='1.000' stop-color='#484bee'/></linearGradient><linearGradient id='c77_12' gradientUnits='userSpaceOnUse' x1='1126.4' y1='162.6' x2='1124.8' y2='161.2'><stop offset='0.000' stop-color='#463bdd'/><stop offset='1.000' stop-color='#4536d3'/></linearGradient><linearGradient id='s78' gradientUnits='userSpaceOnUse' x1='1114.6' y1='263.4' x2='1114.6' y2='90.4'><stop offset='0.0000' stop-color='#f9fb15'/><stop offset='0.0153' stop-color='#f9fb15'/><stop offset='0.0429' stop-color='#f5e825'/><stop offset='0.0980' stop-color='#fec239'/><stop offset='0.1255' stop-color='#edba33'/><stop offset='0.1531' stop-color='#cdc028'/><stop offset='0.1806' stop-color='#a5c83d'/><stop offset='0.2358' stop-color='#4fcc80'/><stop offset='0.2633' stop-color='#33c79d'/><stop offset='0.3184' stop-color='#01b8c9'/><stop offset='0.3460' stop-color='#18aedb'/><stop offset='0.4011' stop-color='#2b91ef'/><stop offset='0.4286' stop-color='#2f81fa'/><stop offset='0.4676' stop-color='#4269fe'/><stop offset='0.5168' stop-color='#4756f6'/><stop offset='0.5841' stop-color='#4745e9'/><stop offset='0.6736' stop-color='#4539d9'/><stop offset='0.8214' stop-color='#4331c7'/><stop offset='1.0000' stop-color='#412dbc'/></linearGradient><linearGradient id='c78_2' gradientUnits='userSpaceOnUse' x1='1117.3' y1='260.7' x2='1097.7' y2='254.4'><stop offset='0.000' stop-color='#f9fb15'/><stop offset='0.067' stop-color='#f5e825'/><stop offset='0.200' stop-color='#fec239'/><stop offset='0.267' stop-color='#edba33'/><stop offset='0.333' stop-color='#cdc028'/><stop offset='0.400' stop-color='#a5c83d'/><stop offset='0.533' stop-color='#4fcc80'/><stop offset='0.600' stop-color='#33c79d'/><stop offset='0.733' stop-color='#01b8c9'/><stop offset='0.800' stop-color='#18aedb'/><stop offset='0.933' stop-color='#2b91ef'/><stop offset='1.000' stop-color='#2f81fa'/></linearGradient><linearGradient id='c78_3' gradientUnits='userSpaceOnUse' x1='1118.7' y1='189.2' x2='1117.0' y2='188.3'><stop offset='0.000' stop-color='#2f81fa'/><stop offset='0.500' stop-color='#3875fe'/><stop offset='1.000' stop-color='#4269fe'/></linearGradient><linearGradient id='c78_4' gradientUnits='userSpaceOnUse' x1='1120.1' y1='182.5' x2='1119.1' y2='181.9'><stop offset='0.000' stop-color='#4269fe'/><stop offset='1.000' stop-color='#465dfb'/></linearGradient><linearGradient id='c78_5' gradientUnits='userSpaceOnUse' x1='1121.4' y1='177.8' x2='1120.7' y2='177.3'><stop offset='0.000' stop-color='#465dfb'/><stop offset='1.000' stop-color='#4756f6'/></linearGradient><linearGradient id='c78_6' gradientUnits='userSpaceOnUse' x1='1122.8' y1='174.0' x2='1122.2' y2='173.6'><stop offset='0.000' stop-color='#4756f6'/><stop offset='1.000' stop-color='#4850f2'/></linearGradient><linearGradient id='c78_12' gradientUnits='userSpaceOnUse' x1='1131.0' y1='157.5' x2='1129.8' y2='156.4'><stop offset='0.000' stop-color='#4740e4'/><stop offset='1.000' stop-color='#463adb'/></linearGradient><linearGradient id='s79' gradientUnits='userSpaceOnUse' x1='1119.2' y1='249.1' x2='1119.2' y2='88.8'><stop offset='0.0000' stop-color='#f9fb15'/><stop offset='0.0165' stop-color='#f9fb15'/><stop offset='0.0440' stop-color='#f5e924'/><stop offset='0.0989' stop-color='#fec239'/><stop offset='0.1263' stop-color='#eeba34'/><stop offset='0.1538' stop-color='#cec028'/><stop offset='0.1812' stop-color='#a7c73c'/><stop offset='0.2087' stop-color='#7ccc5c'/><stop offset='0.2361' stop-color='#52cc7e'/><stop offset='0.2636' stop-color='#35c79b'/><stop offset='0.2910' stop-color='#1ec0b2'/><stop offset='0.3185' stop-color='#01b9c7'/><stop offset='0.3459' stop-color='#15afd9'/><stop offset='0.3734' stop-color='#22a2e4'/><stop offset='0.4283' stop-color='#2e83f9'/><stop offset='0.4644' stop-color='#3f6dfe'/><stop offset='0.5107' stop-color='#475af9'/><stop offset='0.5897' stop-color='#4747ec'/><stop offset='0.7316' stop-color='#4538d8'/><stop offset='0.9428' stop-color='#4331c7'/><stop offset='1.0000' stop-color='#4230c4'/></linearGradient><linearGradient id='c79_2' gradientUnits='userSpaceOnUse' x1='1121.9' y1='246.4' x2='1104.0' y2='240.6'><stop offset='0.000' stop-color='#f9fb15'/><stop offset='0.067' stop-color='#f5e924'/><stop offset='0.200' stop-color='#fec239'/><stop offset='0.267' stop-color='#eeba34'/><stop offset='0.333' stop-color='#cec028'/><stop offset='0.400' stop-color='#a7c73c'/><stop offset='0.467' stop-color='#7ccc5c'/><stop offset='0.533' stop-color='#52cc7e'/><stop offset='0.600' stop-color='#35c79b'/><stop offset='0.667' stop-color='#1ec0b2'/><stop offset='0.733' stop-color='#01b9c7'/><stop offset='0.800' stop-color='#15afd9'/><stop offset='0.867' stop-color='#22a2e4'/><stop offset='1.000' stop-color='#2e83f9'/></linearGradient><linearGradient id='c79_3' gradientUnits='userSpaceOnUse' x1='1123.3' y1='180.4' x2='1122.0' y2='179.7'><stop offset='0.000' stop-color='#2e83f9'/><stop offset='1.000' stop-color='#3f6dfe'/></linearGradient><linearGradient id='c79_4' gradientUnits='userSpaceOnUse' x1='1124.7' y1='174.6' x2='1123.9' y2='174.2'><stop offset='0.000' stop-color='#3f6dfe'/><stop offset='1.000' stop-color='#4562fc'/></linearGradient><linearGradient id='c79_5' gradientUnits='userSpaceOnUse' x1='1126.0' y1='170.5' x2='1125.5' y2='170.2'><stop offset='0.000' stop-color='#4562fc'/><stop offset='1.000' stop-color='#475af9'/></linearGradient><linearGradient id='c79_6' gradientUnits='userSpaceOnUse' x1='1127.4' y1='167.2' x2='1127.0' y2='166.9'><stop offset='0.000' stop-color='#475af9'/><stop offset='1.000' stop-color='#4755f6'/></linearGradient><linearGradient id='c79_12' gradientUnits='userSpaceOnUse' x1='1135.6' y1='152.4' x2='1134.7' y2='151.6'><stop offset='0.000' stop-color='#4745e9'/><stop offset='1.000' stop-color='#473fe2'/></linearGradient></defs>
<g stroke-width='1.1'>
<path fill='url(#s0)' stroke='url(#s0)' d='M753.5 483.4 754.9 482.1 756.2 480.8 757.6 479.4 759.0 478.0 760.4 476.6 761.7 475.1 763.1 473.6 764.5 472.1 765.8 470.6 767.2 469.1 768.6 467.6 769.9 466.0 771.3 464.5 772.7 462.9 774.0 461.4 775.4 459.8 776.8 458.2 778.2 456.6 779.5 455.0 780.9 453.4 782.3 451.7 783.6 450.1 785.0 448.4 786.4 446.8 787.8 445.1 789.1 443.5 790.5 441.8 791.9 440.1 793.2 438.4 794.6 436.7 796.0 435.0 797.3 433.3 798.7 431.6 800.1 429.9 801.5 428.2 802.8 426.4 804.2 424.7 805.6 423.0 806.9 421.2 808.3 419.5 809.7 417.7 811.0 415.9 812.4 414.2 813.8 412.4 815.1 410.6 816.5 408.8 817.9 407.0 819.3 405.2 820.6 403.4 822.0 401.6 826.6 390.5 825.2 392.5 823.9 394.5 822.5 396.5 821.1 398.5 819.8 400.5 818.4 402.5 817.0 404.5 815.6 406.4 814.3 408.4 812.9 410.4 811.5 412.4 810.2 414.3 808.8 416.3 807.4 418.2 806.1 420.2 804.7 422.1 803.3 424.0 801.9 426.0 800.6 427.9 799.2 429.8 797.8 431.7 796.5 433.7 795.1 435.6 793.7 437.5 792.4 439.4 791.0 441.2 789.6 443.1 788.2 445.0 786.9 446.9 785.5 448.7 784.1 450.6 782.8 452.4 781.4 454.3 780.0 456.1 778.6 458.0 777.3 459.8 775.9 461.6 774.5 463.4 773.2 465.2 771.8 467.0 770.4 468.8 769.1 470.5 767.7 472.3 766.3 474.0 764.9 475.8 763.6 477.5 762.2 479.2 760.8 480.9 759.5 482.2 758.1 483.6Z'/>
<path fill='url(#s1)' stroke='url(#s1)' d='M758.1 483.6 759.5 482.2 760.8 480.9 762.2 479.2 763.6 477.5 764.9 475.8 766.3 474.0 767.7 472.3 769.1 470.5 770.4 468.8 771.8 467.0 773.2 465.2 774.5 463.4 775.9 461.6 777.3 459.8 778.6 458.0 780.0 456.1 781.4 454.3 782.8 452.4 784.1 450.6 785.5 448.7 786.9 446.9 788.2 445.0 789.6 443.1 791.0 441.2 792.4 439.4 793.7 437.5 795.1 435.6 796.5 433.7 797.8 431.7 799.2 429.8 800.6 427.9 801.9 426.0 803.3 424.0 804.7 422.1 806.1 420.2 807.4 418.2 808.8 416.3 810.2 414.3 811.5 412.4 812.9 410.4 814.3 408.4 815.6 406.4 817.0 404.5 818.4 402.5 819.8 400.5 821.1 398.5 822.5 396.5 823.9 394.5 825.2 392.5 826.6 390.5 831.2 379.3 829.8 381.6 828.5 383.8 827.1 386.0 825.7 388.2 824.3 390.4 823.0 392.6 821.6 394.8 820.2 396.9 818.9 399.1 817.5 401.3 816.1 403.5 814.8 405.7 813.4 407.8 812.0 410.0 810.7 412.2 809.3 414.3 807.9 416.5 806.5 418.6 805.2 420.8 803.8 422.9 802.4 425.1 801.1 427.2 799.7 429.3 798.3 431.5 797.0 433.6 795.6 435.7 794.2 437.8 792.8 439.9 791.5 442.0 790.1 444.1 788.7 446.2 787.4 448.3 786.0 450.4 784.6 452.5 783.2 454.6 781.9 456.6 780.5 458.7 779.1 460.7 777.8 462.8 776.4 464.9 775.0 466.9 773.7 468.9 772.3 471.0 770.9 473.0 769.6 475.0 768.2 477.0 766.8 479.0 765.4 481.1 764.1 482.4 762.7 483.7Z'/>
<path fill='url(#s2)' stroke='url(#s2)' d='M762.7 483.7 764.1 482.4 765.4 481.1 766.8 479.0 768.2 477.0 769.6 475.0 770.9 473.0 772.3 471.0 773.7 468.9 775.0 466.9 776.4 464.9 777.8 462.8 779.1 460.7 780.5 458.7 781.9 456.6 783.2 454.6 784.6 452.5 786.0 450.4 787.4 448.3 788.7 446.2 790.1 444.1 791.5 442.0 792.8 439.9 794.2 437.8 795.6 435.7 797.0 433.6 798.3 431.5 799.7 429.3 801.1 427.2 802.4 425.1 803.8 422.9 805.2 420.8 806.5 418.6 807.9 416.5 809.3 414.3 810.7 412.2 812.0 410.0 813.4 407.8 814.8 405.7 816.1 403.5 817.5 401.3 818.9 399.1 820.2 396.9 821.6 394.8 823.0 392.6 824.3 390.4 825.7 388.2 827.1 386.0 828.5 383.8 829.8 381.6 831.2 379.3 835.8 368.2 834.4 370.6 833.1 373.0 831.7 375.4 830.3 377.9 829.0 380.3 827.6 382.7 826.2 385.1 824.8 387.5 823.5 389.8 822.1 392.2 820.7 394.6 819.4 397.0 818.0 399.4 816.6 401.8 815.2 404.2 813.9 406.5 812.5 408.9 811.1 411.3 809.8 413.6 808.4 416.0 807.0 418.4 805.7 420.7 804.3 423.1 802.9 425.4 801.5 427.8 800.2 430.1 798.8 432.5 797.4 434.8 796.1 437.2 794.7 439.5 793.3 441.8 792.0 444.2 790.6 446.5 789.2 448.8 787.8 451.1 786.5 453.5 785.1 455.8 783.7 458.1 782.4 460.4 781.0 462.7 779.6 465.0 778.3 467.3 776.9 469.6 775.5 471.9 774.1 474.2 772.8 476.5 771.4 478.9 770.0 481.2 768.7 482.5 767.3 483.9Z'/>
<path fill='url(#s3)' stroke='url(#s3)' d='M767.3 483.9 768.7 482.5 770.0 481.2 771.4 478.9 772.8 476.5 774.1 474.2 775.5 471.9 776.9 469.6 778.3 467.3 779.6 465.0 781.0 462.7 782.4 460.4 783.7 458.1 785.1 455.8 786.5 453.5 787.8 451.1 789.2 448.8 790.6 446.5 792.0 444.2 793.3 441.8 794.7 439.5 796.1 437.2 797.4 434.8 798.8 432.5 800.2 430.1 801.5 427.8 802.9 425.4 804.3 423.1 805.7 420.7 807.0 418.4 808.4 416.0 809.8 413.6 811.1 411.3 812.5 408.9 813.9 406.5 815.2 404.2 816.6 401.8 818.0 399.4 819.4 397.0 820.7 394.6 822.1 392.2 823.5 389.8 824.8 387.5 826.2 385.1 827.6 382.7 829.0 380.3 830.3 377.9 831.7 375.4 833.1 373.0 834.4 370.6 835.8 368.2 840.4 357.1 839.0 359.7 837.7 362.3 836.3 364.9 834.9 367.5 833.5 370.1 832.2 372.7 830.8 375.4 829.4 378.0 828.1 380.6 826.7 383.2 825.3 385.8 824.0 388.4 822.6 391.0 821.2 393.6 819.9 396.1 818.5 398.7 817.1 401.3 815.7 403.9 814.4 406.5 813.0 409.1 811.6 411.7 810.3 414.3 808.9 416.8 807.5 419.4 806.1 422.0 804.8 424.6 803.4 427.2 802.0 429.7 800.7 432.3 799.3 434.9 797.9 437.5 796.6 440.0 795.2 442.6 793.8 445.2 792.4 447.7 791.1 450.3 789.7 452.9 788.3 455.5 787.0 458.0 785.6 460.6 784.2 463.2 782.9 465.7 781.5 468.3 780.1 470.9 778.8 473.5 777.4 476.1 776.0 478.7 774.6 481.4 773.3 482.7 771.9 484.0Z'/>
<path fill='url(#s4)' stroke='url(#s4)' d='M771.9 484.0 773.3 482.7 774.6 481.4 776.0 478.7 777.4 476.1 778.8 473.5 780.1 470.9 781.5 468.3 782.9 465.7 784.2 463.2 785.6 460.6 787.0 458.0 788.3 455.5 789.7 452.9 791.1 450.3 792.4 447.7 793.8 445.2 795.2 442.6 796.6 440.0 797.9 437.5 799.3 434.9 800.7 432.3 802.0 429.7 803.4 427.2 804.8 424.6 806.1 422.0 807.5 419.4 808.9 416.8 810.3 414.3 811.6 411.7 813.0 409.1 814.4 406.5 815.7 403.9 817.1 401.3 818.5 398.7 819.9 396.1 821.2 393.6 822.6 391.0 824.0 388.4 825.3 385.8 826.7 383.2 828.1 380.6 829.4 378.0 830.8 375.4 832.2 372.7 833.5 370.1 834.9 367.5 836.3 364.9 837.7 362.3 839.0 359.7 840.4 357.1 845.0 346.0 843.6 348.8 842.3 351.6 840.9 354.4 839.5 357.2 838.1 360.0 836.8 362.8 835.4 365.7 834.0 368.5 832.7 371.3 831.3 374.1 829.9 376.9 828.6 379.7 827.2 382.5 825.8 385.3 824.5 388.1 823.1 390.9 821.7 393.8 820.3 396.6 819.0 399.4 817.6 402.2 816.2 405.0 814.9 407.8 813.5 410.6 812.1 413.4 810.8 416.2 809.4 419.0 808.0 421.8 806.6 424.7 805.3 427.5 803.9 430.3 802.5 433.1 801.2 435.9 799.8 438.7 798.4 441.5 797.0 444.3 795.7 447.2 794.3 450.0 792.9 452.8 791.6 455.6 790.2 458.5 788.8 461.3 787.5 464.1 786.1 467.0 784.7 469.8 783.4 472.7 782.0 475.6 780.6 478.5 779.2 481.5 777.9 482.8 776.5 484.2Z'/>
<path fill='url(#s5)' stroke='url(#s5)' d='M776.5 484.2 777.9 482.8 779.2 481.5 780.6 478.5 782.0 475.6 783.4 472.7 784.7 469.8 786.1 467.0 787.5 464.1 788.8 461.3 790.2 458.5 791.6 455.6 792.9 452.8 794.3 450.0 795.7 447.2 797.0 444.3 798.4 441.5 799.8 438.7 801.2 435.9 802.5 433.1 803.9 430.3 805.3 427.5 806.6 424.7 808.0 421.8 809.4 419.0 810.8 416.2 812.1 413.4 813.5 410.6 814.9 407.8 816.2 405.0 817.6 402.2 819.0 399.4 820.3 396.6 821.7 393.8 823.1 390.9 824.5 388.1 825.8 385.3 827.2 382.5 828.6 379.7 829.9 376.9 831.3 374.1 832.7 371.3 834.0 368.5 835.4 365.7 836.8 362.8 838.1 360.0 839.5 357.2 840.9 354.4 842.3 351.6 843.6 348.8 845.0 346.0 849.6 334.8 848.2 337.8 846.9 340.9 845.5 343.9 844.1 346.9 842.8 349.9 841.4 352.9 840.0 356.0 838.6 359.0 837.3 362.0 835.9 365.0 834.5 368.0 833.2 371.1 831.8 374.1 830.4 377.1 829.0 380.1 827.7 383.2 826.3 386.2 824.9 389.2 823.6 392.2 822.2 395.3 820.8 398.3 819.5 401.3 818.1 404.4 816.7 407.4 815.3 410.4 814.0 413.5 812.6 416.5 811.2 419.6 809.9 422.6 808.5 425.7 807.1 428.7 805.8 431.8 804.4 434.8 803.0 437.9 801.6 440.9 800.3 444.0 798.9 447.1 797.5 450.2 796.2 453.2 794.8 456.3 793.4 459.4 792.1 462.5 790.7 465.6 789.3 468.8 787.9 471.9 786.6 475.1 785.2 478.3 783.8 481.7 782.5 483.0 781.1 484.3Z'/>
<path fill='url(#s6)' stroke='url(#s6)' d='M781.1 484.3 782.5 483.0 783.8 481.7 785.2 478.3 786.6 475.1 787.9 471.9 789.3 468.8 790.7 465.6 792.1 462.5 793.4 459.4 794.8 456.3 796.2 453.2 797.5 450.2 798.9 447.1 800.3 444.0 801.6 440.9 803.0 437.9 804.4 434.8 805.8 431.8 807.1 428.7 808.5 425.7 809.9 422.6 811.2 419.6 812.6 416.5 814.0 413.5 815.3 410.4 816.7 407.4 818.1 404.4 819.5 401.3 820.8 398.3 822.2 395.3 823.6 392.2 824.9 389.2 826.3 386.2 827.7 383.2 829.0 380.1 830.4 377.1 831.8 374.1 833.2 371.1 834.5 368.0 835.9 365.0 837.3 362.0 838.6 359.0 840.0 356.0 841.4 352.9 842.8 349.9 844.1 346.9 845.5 343.9 846.9 340.9 848.2 337.8 849.6 334.8 854.2 323.7 852.8 326.9 851.5 330.1 850.1 333.4 848.7 336.6 847.3 339.8 846.0 343.0 844.6 346.2 843.2 349.5 841.9 352.7 840.5 355.9 839.1 359.2 837.8 362.4 836.4 365.6 835.0 368.9 833.6 372.1 832.3 375.4 830.9 378.6 829.5 381.9 828.2 385.1 826.8 388.4 825.4 391.6 824.1 394.9 822.7 398.1 821.3 401.4 819.9 404.7 818.6 407.9 817.2 411.2 815.8 414.5 814.5 417.8 813.1 421.0 811.7 424.3 810.4 427.6 809.0 430.9 807.6 434.2 806.2 437.5 804.9 440.9 803.5 444.2 802.1 447.5 800.8 450.8 799.4 454.2 798.0 457.6 796.7 460.9 795.3 464.3 793.9 467.7 792.6 471.2 791.2 474.6 789.8 478.1 788.4 481.8 787.1 483.1 785.7 484.4Z'/>
<path fill='url(#s7)' stroke='url(#s7)' d='M785.7 484.4 787.1 483.1 788.4 481.8 789.8 478.1 791.2 474.6 792.6 471.2 793.9 467.7 795.3 464.3 796.7 460.9 798.0 457.6 799.4 454.2 800.8 450.8 802.1 447.5 803.5 444.2 804.9 440.9 806.2 437.5 807.6 434.2 809.0 430.9 810.4 427.6 811.7 424.3 813.1 421.0 814.5 417.8 815.8 414.5 817.2 411.2 818.6 407.9 819.9 404.7 821.3 401.4 822.7 398.1 824.1 394.9 825.4 391.6 826.8 388.4 828.2 385.1 829.5 381.9 830.9 378.6 832.3 375.4 833.6 372.1 835.0 368.9 836.4 365.6 837.8 362.4 839.1 359.2 840.5 355.9 841.9 352.7 843.2 349.5 844.6 346.2 846.0 343.0 847.3 339.8 848.7 336.6 850.1 333.4 851.5 330.1 852.8 326.9 854.2 323.7 858.8 312.6 857.4 316.0 856.1 319.4 854.7 322.8 853.3 326.3 851.9 329.7 850.6 333.1 849.2 336.5 847.8 340.0 846.5 343.4 845.1 346.9 843.7 350.3 842.4 353.8 841.0 357.2 839.6 360.7 838.2 364.1 836.9 367.6 835.5 371.0 834.1 374.5 832.8 378.0 831.4 381.5 830.0 384.9 828.7 388.4 827.3 391.9 825.9 395.4 824.5 398.9 823.2 402.4 821.8 405.9 820.4 409.4 819.1 412.9 817.7 416.4 816.3 420.0 815.0 423.5 813.6 427.0 812.2 430.6 810.8 434.1 809.5 437.7 808.1 441.3 806.7 444.9 805.4 448.5 804.0 452.1 802.6 455.7 801.3 459.3 799.9 463.0 798.5 466.7 797.1 470.4 795.8 474.1 794.4 477.9 793.0 481.9 791.7 483.3 790.3 484.6Z'/>
<path fill='url(#s8)' stroke='url(#s8)' d='M790.3 484.6 791.7 483.3 793.0 481.9 794.4 477.9 795.8 474.1 797.1 470.4 798.5 466.7 799.9 463.0 801.3 459.3 802.6 455.7 804.0 452.1 805.4 448.5 806.7 444.9 808.1 441.3 809.5 437.7 810.8 434.1 812.2 430.6 813.6 427.0 815.0 423.5 816.3 420.0 817.7 416.4 819.1 412.9 820.4 409.4 821.8 405.9 823.2 402.4 824.5 398.9 825.9 395.4 827.3 391.9 828.7 388.4 830.0 384.9 831.4 381.5 832.8 378.0 834.1 374.5 835.5 371.0 836.9 367.6 838.2 364.1 839.6 360.7 841.0 357.2 842.4 353.8 843.7 350.3 845.1 346.9 846.5 343.4 847.8 340.0 849.2 336.5 850.6 333.1 851.9 329.7 853.3 326.3 854.7 322.8 856.1 319.4 857.4 316.0 858.8 312.6 863.4 304.8 862.0 308.2 860.7 311.6 859.3 315.0 857.9 318.5 856.5 321.9 855.2 325.4 853.8 328.8 852.4 332.3 851.1 335.7 849.7 339.2 848.3 342.7 847.0 346.1 845.6 349.6 844.2 353.1 842.9 356.6 841.5 360.1 840.1 363.6 838.7 367.1 837.4 370.6 836.0 374.2 834.6 377.7 833.3 381.3 831.9 384.8 830.5 388.4 829.1 392.0 827.8 395.5 826.4 399.1 825.0 402.7 823.7 406.4 822.3 410.0 820.9 413.6 819.6 417.3 818.2 421.0 816.8 424.7 815.4 428.4 814.1 432.1 812.7 435.9 811.3 439.7 810.0 443.5 808.6 447.3 807.2 451.2 805.9 455.2 804.5 459.2 803.1 463.2 801.8 467.4 800.4 471.7 799.0 476.3 797.6 482.0 796.3 483.3 794.9 484.7Z'/>
<path fill='url(#s9)' stroke='url(#s9)' d='M794.9 484.7 796.3 483.3 797.6 482.0 799.0 476.3 800.4 471.7 801.8 467.4 803.1 463.2 804.5 459.2 805.9 455.2 807.2 451.2 808.6 447.3 810.0 443.5 811.3 439.7 812.7 435.9 814.1 432.1 815.4 428.4 816.8 424.7 818.2 421.0 819.6 417.3 820.9 413.6 822.3 410.0 823.7 406.4 825.0 402.7 826.4 399.1 827.8 395.5 829.1 392.0 830.5 388.4 831.9 384.8 833.3 381.3 834.6 377.7 836.0 374.2 837.4 370.6 838.7 367.1 840.1 363.6 841.5 360.1 842.9 356.6 844.2 353.1 845.6 349.6 847.0 346.1 848.3 342.7 849.7 339.2 851.1 335.7 852.4 332.3 853.8 328.8 855.2 325.4 856.5 321.9 857.9 318.5 859.3 315.0 860.7 311.6 862.0 308.2 863.4 304.8 868.0 297.0 866.6 300.4 865.3 303.8 863.9 307.2 862.5 310.7 861.1 314.1 859.8 317.6 858.4 321.1 857.0 324.5 855.7 328.0 854.3 331.5 852.9 335.0 851.6 338.5 850.2 342.0 848.8 345.6 847.5 349.1 846.1 352.6 844.7 356.2 843.3 359.7 842.0 363.3 840.6 366.9 839.2 370.5 837.9 374.1 836.5 377.7 835.1 381.4 833.7 385.0 832.4 388.7 831.0 392.4 829.6 396.1 828.3 399.8 826.9 403.6 825.5 407.3 824.2 411.1 822.8 414.9 821.4 418.8 820.0 422.7 818.7 426.6 817.3 430.5 815.9 434.5 814.6 438.5 813.2 442.6 811.8 446.8 810.5 451.0 809.1 455.4 807.7 459.8 806.3 464.4 805.0 469.3 803.6 474.6 802.2 482.1 800.9 483.4 799.5 484.7Z'/>
<path fill='url(#s10)' stroke='url(#s10)' d='M799.5 484.7 800.9 483.4 802.2 482.1 803.6 474.6 805.0 469.3 806.3 464.4 807.7 459.8 809.1 455.4 810.5 451.0 811.8 446.8 813.2 442.6 814.6 438.5 815.9 434.5 817.3 430.5 818.7 426.6 820.0 422.7 821.4 418.8 822.8 414.9 824.2 411.1 825.5 407.3 826.9 403.6 828.3 399.8 829.6 396.1 831.0 392.4 832.4 388.7 833.7 385.0 835.1 381.4 836.5 377.7 837.9 374.1 839.2 370.5 840.6 366.9 842.0 363.3 843.3 359.7 844.7 356.2 846.1 352.6 847.5 349.1 848.8 345.6 850.2 342.0 851.6 338.5 852.9 335.0 854.3 331.5 855.7 328.0 857.0 324.5 858.4 321.1 859.8 317.6 861.1 314.1 862.5 310.7 863.9 307.2 865.3 303.8 866.6 300.4 868.0 297.0 872.6 289.1 871.2 292.6 869.9 296.0 868.5 299.5 867.1 302.9 865.8 306.4 864.4 309.8 863.0 313.3 861.6 316.8 860.3 320.3 858.9 323.8 857.5 327.4 856.2 330.9 854.8 334.4 853.4 338.0 852.0 341.6 850.7 345.2 849.3 348.8 847.9 352.4 846.6 356.0 845.2 359.6 843.8 363.3 842.5 367.0 841.1 370.7 839.7 374.4 838.4 378.1 837.0 381.9 835.6 385.6 834.2 389.4 832.9 393.3 831.5 397.1 830.1 401.0 828.8 404.9 827.4 408.9 826.0 412.9 824.6 416.9 823.3 421.0 821.9 425.1 820.5 429.3 819.2 433.6 817.8 437.9 816.4 442.3 815.1 446.9 813.7 451.5 812.3 456.4 811.0 461.5 809.6 466.9 808.2 473.0 806.8 482.2 805.5 483.5 804.1 484.8Z'/>
<path fill='url(#s11)' stroke='url(#s11)' d='M804.1 484.8 805.5 483.5 806.8 482.2 808.2 473.0 809.6 466.9 811.0 461.5 812.3 456.4 813.7 451.5 815.1 446.9 816.4 442.3 817.8 437.9 819.2 433.6 820.5 429.3 821.9 425.1 823.3 421.0 824.6 416.9 826.0 412.9 827.4 408.9 828.8 404.9 830.1 401.0 831.5 397.1 832.9 393.3 834.2 389.4 835.6 385.6 837.0 381.9 838.4 378.1 839.7 374.4 841.1 370.7 842.5 367.0 843.8 363.3 845.2 359.6 846.6 356.0 847.9 352.4 849.3 348.8 850.7 345.2 852.0 341.6 853.4 338.0 854.8 334.4 856.2 330.9 857.5 327.4 858.9 323.8 860.3 320.3 861.6 316.8 863.0 313.3 864.4 309.8 865.8 306.4 867.1 302.9 868.5 299.5 869.9 296.0 871.2 292.6 872.6 289.1 877.2 281.3 875.8 284.8 874.5 288.2 873.1 291.7 871.7 295.1 870.3 298.6 869.0 302.1 867.6 305.6 866.2 309.1 864.9 312.6 863.5 316.2 862.1 319.7 860.8 323.3 859.4 326.8 858.0 330.4 856.7 334.1 855.3 337.7 853.9 341.3 852.5 345.0 851.2 348.7 849.8 352.4 848.4 356.1 847.1 359.8 845.7 363.6 844.3 367.4 843.0 371.2 841.6 375.0 840.2 378.9 838.8 382.8 837.5 386.7 836.1 390.7 834.7 394.7 833.4 398.8 832.0 402.8 830.6 407.0 829.2 411.2 827.9 415.4 826.5 419.7 825.1 424.1 823.8 428.6 822.4 433.2 821.0 437.9 819.7 442.7 818.3 447.7 816.9 452.9 815.5 458.5 814.2 464.5 812.8 471.3 811.4 482.2 810.1 483.6 808.7 484.9Z'/>
<path fill='url(#s12)' stroke='url(#s12)' d='M808.7 484.9 810.1 483.6 811.4 482.2 812.8 471.3 814.2 464.5 815.5 458.5 816.9 452.9 818.3 447.7 819.7 442.7 821.0 437.9 822.4 433.2 823.8 428.6 825.1 424.1 826.5 419.7 827.9 415.4 829.2 411.2 830.6 407.0 832.0 402.8 833.4 398.8 834.7 394.7 836.1 390.7 837.5 386.7 838.8 382.8 840.2 378.9 841.6 375.0 843.0 371.2 844.3 367.4 845.7 363.6 847.1 359.8 848.4 356.1 849.8 352.4 851.2 348.7 852.5 345.0 853.9 341.3 855.3 337.7 856.7 334.1 858.0 330.4 859.4 326.8 860.8 323.3 862.1 319.7 863.5 316.2 864.9 312.6 866.2 309.1 867.6 305.6 869.0 302.1 870.3 298.6 871.7 295.1 873.1 291.7 874.5 288.2 875.8 284.8 877.2 281.3 881.8 273.5 880.4 277.0 879.1 280.4 877.7 283.9 876.3 287.4 875.0 290.8 873.6 294.3 872.2 297.9 870.8 301.4 869.5 304.9 868.1 308.5 866.7 312.1 865.4 315.7 864.0 319.3 862.6 322.9 861.2 326.5 859.9 330.2 858.5 333.9 857.1 337.6 855.8 341.3 854.4 345.1 853.0 348.9 851.7 352.7 850.3 356.5 848.9 360.4 847.5 364.3 846.2 368.2 844.8 372.2 843.4 376.1 842.1 380.2 840.7 384.3 839.3 388.4 838.0 392.6 836.6 396.8 835.2 401.1 833.8 405.4 832.5 409.9 831.1 414.4 829.7 419.0 828.4 423.7 827.0 428.5 825.6 433.4 824.3 438.6 822.9 443.9 821.5 449.5 820.1 455.5 818.8 462.1 817.4 469.7 816.0 482.3 814.7 483.6 813.3 485.0Z'/>
<path fill='url(#s13)' stroke='url(#s13)' d='M813.3 485.0 814.7 483.6 816.0 482.3 817.4 469.7 818.8 462.1 820.1 455.5 821.5 449.5 822.9 443.9 824.3 438.6 825.6 433.4 827.0 428.5 828.4 423.7 829.7 419.0 831.1 414.4 832.5 409.9 833.8 405.4 835.2 401.1 836.6 396.8 838.0 392.6 839.3 388.4 840.7 384.3 842.1 380.2 843.4 376.1 844.8 372.2 846.2 368.2 847.5 364.3 848.9 360.4 850.3 356.5 851.7 352.7 853.0 348.9 854.4 345.1 855.8 341.3 857.1 337.6 858.5 333.9 859.9 330.2 861.2 326.5 862.6 322.9 864.0 319.3 865.4 315.7 866.7 312.1 868.1 308.5 869.5 304.9 870.8 301.4 872.2 297.9 873.6 294.3 875.0 290.8 876.3 287.4 877.7 283.9 879.1 280.4 880.4 277.0 881.8 273.5 886.4 265.7 885.0 269.2 883.7 272.6 882.3 276.1 880.9 279.6 879.5 283.1 878.2 286.6 876.8 290.1 875.4 293.7 874.1 297.2 872.7 300.8 871.3 304.4 870.0 308.0 868.6 311.7 867.2 315.3 865.9 319.0 864.5 322.7 863.1 326.5 861.7 330.2 860.4 334.0 859.0 337.8 857.6 341.7 856.3 345.5 854.9 349.4 853.5 353.4 852.2 357.3 850.8 361.4 849.4 365.4 848.0 369.5 846.7 373.6 845.3 377.8 843.9 382.1 842.6 386.4 841.2 390.7 839.8 395.2 838.4 399.7 837.1 404.3 835.7 409.0 834.3 413.8 833.0 418.7 831.6 423.8 830.2 429.0 828.9 434.4 827.5 440.1 826.1 446.1 824.8 452.5 823.4 459.6 822.0 468.0 820.6 482.4 819.3 483.7 817.9 485.0Z'/>
<path fill='url(#s14)' stroke='url(#s14)' d='M817.9 485.0 819.3 483.7 820.6 482.4 822.0 468.0 823.4 459.6 824.8 452.5 826.1 446.1 827.5 440.1 828.9 434.4 830.2 429.0 831.6 423.8 833.0 418.7 834.3 413.8 835.7 409.0 837.1 404.3 838.4 399.7 839.8 395.2 841.2 390.7 842.6 386.4 843.9 382.1 845.3 377.8 846.7 373.6 848.0 369.5 849.4 365.4 850.8 361.4 852.2 357.3 853.5 353.4 854.9 349.4 856.3 345.5 857.6 341.7 859.0 337.8 860.4 334.0 861.7 330.2 863.1 326.5 864.5 322.7 865.9 319.0 867.2 315.3 868.6 311.7 870.0 308.0 871.3 304.4 872.7 300.8 874.1 297.2 875.4 293.7 876.8 290.1 878.2 286.6 879.5 283.1 880.9 279.6 882.3 276.1 883.7 272.6 885.0 269.2 886.4 265.7 891.0 257.9 889.6 261.4 888.3 264.8 886.9 268.3 885.5 271.8 884.1 275.3 882.8 278.8 881.4 282.4 880.0 285.9 878.7 289.5 877.3 293.1 875.9 296.8 874.6 300.4 873.2 304.1 871.8 307.8 870.5 311.5 869.1 315.3 867.7 319.0 866.3 322.8 865.0 326.7 863.6 330.5 862.2 334.4 860.9 338.4 859.5 342.4 858.1 346.4 856.8 350.4 855.4 354.5 854.0 358.7 852.6 362.9 851.3 367.1 849.9 371.4 848.5 375.8 847.2 380.2 845.8 384.7 844.4 389.3 843.0 394.0 841.7 398.7 840.3 403.6 838.9 408.6 837.6 413.7 836.2 419.0 834.8 424.5 833.5 430.3 832.1 436.3 830.7 442.7 829.4 449.6 828.0 457.2 826.6 466.3 825.2 482.5 823.9 483.8 822.5 485.1Z'/>
<path fill='url(#s15)' stroke='url(#s15)' d='M822.5 485.1 823.9 483.8 825.2 482.5 826.6 466.3 828.0 457.2 829.4 449.6 830.7 442.7 832.1 436.3 833.5 430.3 834.8 424.5 836.2 419.0 837.6 413.7 838.9 408.6 840.3 403.6 841.7 398.7 843.0 394.0 844.4 389.3 845.8 384.7 847.2 380.2 848.5 375.8 849.9 371.4 851.3 367.1 852.6 362.9 854.0 358.7 855.4 354.5 856.8 350.4 858.1 346.4 859.5 342.4 860.9 338.4 862.2 334.4 863.6 330.5 865.0 326.7 866.3 322.8 867.7 319.0 869.1 315.3 870.5 311.5 871.8 307.8 873.2 304.1 874.6 300.4 875.9 296.8 877.3 293.1 878.7 289.5 880.0 285.9 881.4 282.4 882.8 278.8 884.1 275.3 885.5 271.8 886.9 268.3 888.3 264.8 889.6 261.4 891.0 257.9 895.6 250.1 894.2 253.6 892.9 257.0 891.5 260.5 890.1 264.0 888.8 267.5 887.4 271.1 886.0 274.6 884.6 278.2 883.3 281.8 881.9 285.5 880.5 289.1 879.2 292.8 877.8 296.5 876.4 300.2 875.1 304.0 873.7 307.8 872.3 311.6 870.9 315.5 869.6 319.3 868.2 323.3 866.8 327.2 865.5 331.2 864.1 335.3 862.7 339.4 861.4 343.5 860.0 347.7 858.6 351.9 857.2 356.2 855.9 360.6 854.5 365.0 853.1 369.5 851.8 374.0 850.4 378.7 849.0 383.4 847.6 388.2 846.3 393.2 844.9 398.2 843.5 403.4 842.2 408.8 840.8 414.3 839.4 420.1 838.1 426.1 836.7 432.5 835.3 439.2 834.0 446.6 832.6 454.8 831.2 464.7 829.8 482.6 828.5 483.9 827.1 485.2Z'/>
<path fill='url(#s16)' stroke='url(#s16)' d='M827.1 485.2 828.5 483.9 829.8 482.6 831.2 464.7 832.6 454.8 834.0 446.6 835.3 439.2 836.7 432.5 838.1 426.1 839.4 420.1 840.8 414.3 842.2 408.8 843.5 403.4 844.9 398.2 846.3 393.2 847.6 388.2 849.0 383.4 850.4 378.7 851.8 374.0 853.1 369.5 854.5 365.0 855.9 360.6 857.2 356.2 858.6 351.9 860.0 347.7 861.4 343.5 862.7 339.4 864.1 335.3 865.5 331.2 866.8 327.2 868.2 323.3 869.6 319.3 870.9 315.5 872.3 311.6 873.7 307.8 875.1 304.0 876.4 300.2 877.8 296.5 879.2 292.8 880.5 289.1 881.9 285.5 883.3 281.8 884.6 278.2 886.0 274.6 887.4 271.1 888.8 267.5 890.1 264.0 891.5 260.5 892.9 257.0 894.2 253.6 895.6 250.1 900.2 244.9 898.8 248.3 897.5 251.8 896.1 255.3 894.7 258.8 893.4 262.3 892.0 265.8 890.6 269.4 889.2 273.0 887.9 276.6 886.5 280.3 885.1 283.9 883.8 287.6 882.4 291.3 881.0 295.1 879.7 298.9 878.3 302.7 876.9 306.5 875.5 310.4 874.2 314.3 872.8 318.3 871.4 322.3 870.1 326.3 868.7 330.4 867.3 334.5 865.9 338.6 864.6 342.9 863.2 347.1 861.8 351.5 860.5 355.9 859.1 360.3 857.7 364.9 856.4 369.5 855.0 374.2 853.6 379.0 852.2 383.9 850.9 388.9 849.5 394.1 848.1 399.4 846.8 404.9 845.4 410.5 844.0 416.4 842.7 422.6 841.3 429.2 839.9 436.2 838.6 443.8 837.2 452.4 835.8 462.8 834.4 482.6 833.1 483.9 831.7 485.3Z'/>
<path fill='url(#s17)' stroke='url(#s17)' d='M831.7 485.3 833.1 483.9 834.4 482.6 835.8 462.8 837.2 452.4 838.6 443.8 839.9 436.2 841.3 429.2 842.7 422.6 844.0 416.4 845.4 410.5 846.8 404.9 848.1 399.4 849.5 394.1 850.9 388.9 852.2 383.9 853.6 379.0 855.0 374.2 856.4 369.5 857.7 364.9 859.1 360.3 860.5 355.9 861.8 351.5 863.2 347.1 864.6 342.9 865.9 338.6 867.3 334.5 868.7 330.4 870.1 326.3 871.4 322.3 872.8 318.3 874.2 314.3 875.5 310.4 876.9 306.5 878.3 302.7 879.7 298.9 881.0 295.1 882.4 291.3 883.8 287.6 885.1 283.9 886.5 280.3 887.9 276.6 889.2 273.0 890.6 269.4 892.0 265.8 893.4 262.3 894.7 258.8 896.1 255.3 897.5 251.8 898.8 248.3 900.2 244.9 904.8 239.6 903.4 243.0 902.1 246.5 900.7 250.0 899.3 253.5 898.0 257.0 896.6 260.6 895.2 264.2 893.8 267.8 892.5 271.4 891.1 275.1 889.7 278.7 888.4 282.5 887.0 286.2 885.6 290.0 884.2 293.8 882.9 297.6 881.5 301.5 880.1 305.4 878.8 309.3 877.4 313.3 876.0 317.3 874.7 321.3 873.3 325.4 871.9 329.6 870.6 333.8 869.2 338.1 867.8 342.4 866.4 346.8 865.1 351.2 863.7 355.7 862.3 360.3 861.0 365.0 859.6 369.8 858.2 374.6 856.8 379.6 855.5 384.7 854.1 390.0 852.7 395.4 851.4 401.0 850.0 406.8 848.6 412.8 847.3 419.2 845.9 425.9 844.5 433.1 843.2 441.0 841.8 450.0 840.4 460.9 839.0 482.7 837.7 484.0 836.3 485.3Z'/>
<path fill='url(#s18)' stroke='url(#s18)' d='M836.3 485.3 837.7 484.0 839.0 482.7 840.4 460.9 841.8 450.0 843.2 441.0 844.5 433.1 845.9 425.9 847.3 419.2 848.6 412.8 850.0 406.8 851.4 401.0 852.7 395.4 854.1 390.0 855.5 384.7 856.8 379.6 858.2 374.6 859.6 369.8 861.0 365.0 862.3 360.3 863.7 355.7 865.1 351.2 866.4 346.8 867.8 342.4 869.2 338.1 870.6 333.8 871.9 329.6 873.3 325.4 874.7 321.3 876.0 317.3 877.4 313.3 878.8 309.3 880.1 305.4 881.5 301.5 882.9 297.6 884.2 293.8 885.6 290.0 887.0 286.2 888.4 282.5 889.7 278.7 891.1 275.1 892.5 271.4 893.8 267.8 895.2 264.2 896.6 260.6 898.0 257.0 899.3 253.5 900.7 250.0 902.1 246.5 903.4 243.0 904.8 239.6 909.4 234.3 908.0 237.8 906.7 241.2 905.3 244.7 903.9 248.3 902.5 251.8 901.2 255.4 899.8 259.0 898.4 262.6 897.1 266.2 895.7 269.9 894.3 273.6 893.0 277.3 891.6 281.0 890.2 284.8 888.9 288.6 887.5 292.5 886.1 296.4 884.7 300.3 883.4 304.3 882.0 308.3 880.6 312.3 879.3 316.4 877.9 320.5 876.5 324.7 875.1 329.0 873.8 333.3 872.4 337.6 871.0 342.0 869.7 346.5 868.3 351.1 866.9 355.8 865.6 360.5 864.2 365.3 862.8 370.3 861.5 375.3 860.1 380.5 858.7 385.9 857.3 391.4 856.0 397.1 854.6 403.0 853.2 409.2 851.9 415.7 850.5 422.6 849.1 430.0 847.8 438.2 846.4 447.5 845.0 459.0 843.6 482.8 842.3 484.1 840.9 485.4Z'/>
<path fill='url(#s19)' stroke='url(#s19)' d='M840.9 485.4 842.3 484.1 843.6 482.8 845.0 459.0 846.4 447.5 847.8 438.2 849.1 430.0 850.5 422.6 851.9 415.7 853.2 409.2 854.6 403.0 856.0 397.1 857.3 391.4 858.7 385.9 860.1 380.5 861.5 375.3 862.8 370.3 864.2 365.3 865.6 360.5 866.9 355.8 868.3 351.1 869.7 346.5 871.0 342.0 872.4 337.6 873.8 333.3 875.1 329.0 876.5 324.7 877.9 320.5 879.3 316.4 880.6 312.3 882.0 308.3 883.4 304.3 884.7 300.3 886.1 296.4 887.5 292.5 888.9 288.6 890.2 284.8 891.6 281.0 893.0 277.3 894.3 273.6 895.7 269.9 897.1 266.2 898.4 262.6 899.8 259.0 901.2 255.4 902.5 251.8 903.9 248.3 905.3 244.7 906.7 241.2 908.0 237.8 909.4 234.3 914.0 229.0 912.6 232.5 911.3 236.0 909.9 239.5 908.5 243.0 907.1 246.6 905.8 250.1 904.4 253.7 903.0 257.4 901.7 261.0 900.3 264.7 898.9 268.4 897.6 272.1 896.2 275.9 894.8 279.7 893.5 283.5 892.1 287.4 890.7 291.3 889.3 295.2 888.0 299.2 886.6 303.3 885.2 307.3 883.9 311.4 882.5 315.6 881.1 319.8 879.8 324.1 878.4 328.5 877.0 332.9 875.6 337.3 874.3 341.9 872.9 346.5 871.5 351.2 870.2 356.0 868.8 360.9 867.4 365.9 866.0 371.0 864.7 376.3 863.3 381.7 861.9 387.3 860.6 393.1 859.2 399.2 857.8 405.5 856.5 412.2 855.1 419.3 853.7 427.0 852.4 435.4 851.0 445.1 849.6 457.2 848.2 482.9 846.9 484.2 845.5 485.5Z'/>
<path fill='url(#s20)' stroke='url(#s20)' d='M845.5 485.5 846.9 484.2 848.2 482.9 849.6 457.2 851.0 445.1 852.4 435.4 853.7 427.0 855.1 419.3 856.5 412.2 857.8 405.5 859.2 399.2 860.6 393.1 861.9 387.3 863.3 381.7 864.7 376.3 866.0 371.0 867.4 365.9 868.8 360.9 870.2 356.0 871.5 351.2 872.9 346.5 874.3 341.9 875.6 337.3 877.0 332.9 878.4 328.5 879.8 324.1 881.1 319.8 882.5 315.6 883.9 311.4 885.2 307.3 886.6 303.3 888.0 299.2 889.3 295.2 890.7 291.3 892.1 287.4 893.5 283.5 894.8 279.7 896.2 275.9 897.6 272.1 898.9 268.4 900.3 264.7 901.7 261.0 903.0 257.4 904.4 253.7 905.8 250.1 907.1 246.6 908.5 243.0 909.9 239.5 911.3 236.0 912.6 232.5 914.0 229.0 918.6 223.8 917.2 227.2 915.9 230.7 914.5 234.2 913.1 237.8 911.8 241.3 910.4 244.9 909.0 248.5 907.6 252.1 906.3 255.8 904.9 259.5 903.5 263.2 902.2 267.0 900.8 270.7 899.4 274.6 898.0 278.4 896.7 282.3 895.3 286.2 893.9 290.2 892.6 294.2 891.2 298.3 889.8 302.4 888.5 306.5 887.1 310.7 885.7 315.0 884.4 319.3 883.0 323.6 881.6 328.1 880.2 332.6 878.9 337.2 877.5 341.9 876.1 346.6 874.8 351.5 873.4 356.4 872.0 361.5 870.6 366.7 869.3 372.1 867.9 377.6 866.5 383.3 865.2 389.2 863.8 395.4 862.4 401.9 861.1 408.7 859.7 416.0 858.3 423.9 857.0 432.6 855.6 442.7 854.2 455.3 852.8 482.9 851.5 484.3 850.1 485.6Z'/>
<path fill='url(#s21)' stroke='url(#s21)' d='M850.1 485.6 851.5 484.3 852.8 482.9 854.2 455.3 855.6 442.7 857.0 432.6 858.3 423.9 859.7 416.0 861.1 408.7 862.4 401.9 863.8 395.4 865.2 389.2 866.5 383.3 867.9 377.6 869.3 372.1 870.6 366.7 872.0 361.5 873.4 356.4 874.8 351.5 876.1 346.6 877.5 341.9 878.9 337.2 880.2 332.6 881.6 328.1 883.0 323.6 884.4 319.3 885.7 315.0 887.1 310.7 888.5 306.5 889.8 302.4 891.2 298.3 892.6 294.2 893.9 290.2 895.3 286.2 896.7 282.3 898.0 278.4 899.4 274.6 900.8 270.7 902.2 267.0 903.5 263.2 904.9 259.5 906.3 255.8 907.6 252.1 909.0 248.5 910.4 244.9 911.8 241.3 913.1 237.8 914.5 234.2 915.9 230.7 917.2 227.2 918.6 223.8 923.2 218.5 921.8 222.0 920.5 225.4 919.1 229.0 917.7 232.5 916.3 236.1 915.0 239.7 913.6 243.3 912.2 246.9 910.9 250.6 909.5 254.3 908.1 258.0 906.8 261.8 905.4 265.6 904.0 269.4 902.7 273.3 901.3 277.2 899.9 281.2 898.5 285.1 897.2 289.2 895.8 293.3 894.4 297.4 893.1 301.6 891.7 305.8 890.3 310.1 888.9 314.4 887.6 318.8 886.2 323.3 884.8 327.9 883.5 332.5 882.1 337.2 880.7 342.1 879.4 347.0 878.0 352.0 876.6 357.2 875.2 362.4 873.9 367.9 872.5 373.5 871.1 379.3 869.8 385.3 868.4 391.6 867.0 398.2 865.7 405.2 864.3 412.7 862.9 420.8 861.5 429.9 860.2 440.3 858.8 453.4 857.4 483.0 856.1 484.3 854.7 485.6Z'/>
<path fill='url(#s22)' stroke='url(#s22)' d='M854.7 485.6 856.1 484.3 857.4 483.0 858.8 453.4 860.2 440.3 861.5 429.9 862.9 420.8 864.3 412.7 865.7 405.2 867.0 398.2 868.4 391.6 869.8 385.3 871.1 379.3 872.5 373.5 873.9 367.9 875.2 362.4 876.6 357.2 878.0 352.0 879.4 347.0 880.7 342.1 882.1 337.2 883.5 332.5 884.8 327.9 886.2 323.3 887.6 318.8 888.9 314.4 890.3 310.1 891.7 305.8 893.1 301.6 894.4 297.4 895.8 293.3 897.2 289.2 898.5 285.1 899.9 281.2 901.3 277.2 902.7 273.3 904.0 269.4 905.4 265.6 906.8 261.8 908.1 258.0 909.5 254.3 910.9 250.6 912.2 246.9 913.6 243.3 915.0 239.7 916.3 236.1 917.7 232.5 919.1 229.0 920.5 225.4 921.8 222.0 923.2 218.5 927.8 213.2 926.4 216.7 925.1 220.2 923.7 223.7 922.3 227.3 920.9 230.8 919.6 234.4 918.2 238.1 916.8 241.7 915.5 245.4 914.1 249.1 912.7 252.9 911.4 256.6 910.0 260.5 908.6 264.3 907.2 268.2 905.9 272.1 904.5 276.1 903.1 280.1 901.8 284.1 900.4 288.3 899.0 292.4 897.7 296.6 896.3 300.9 894.9 305.2 893.6 309.6 892.2 314.0 890.8 318.6 889.4 323.2 888.1 327.8 886.7 332.6 885.3 337.5 884.0 342.5 882.6 347.6 881.2 352.8 879.8 358.1 878.5 363.7 877.1 369.4 875.7 375.3 874.4 381.4 873.0 387.8 871.6 394.6 870.3 401.8 868.9 409.4 867.5 417.8 866.1 427.1 864.8 437.9 863.4 451.5 862.0 483.1 860.7 484.4 859.3 485.7Z'/>
<path fill='url(#s23)' stroke='url(#s23)' d='M859.3 485.7 860.7 484.4 862.0 483.1 863.4 451.5 864.8 437.9 866.1 427.1 867.5 417.8 868.9 409.4 870.3 401.8 871.6 394.6 873.0 387.8 874.4 381.4 875.7 375.3 877.1 369.4 878.5 363.7 879.8 358.1 881.2 352.8 882.6 347.6 884.0 342.5 885.3 337.5 886.7 332.6 888.1 327.8 889.4 323.2 890.8 318.6 892.2 314.0 893.6 309.6 894.9 305.2 896.3 300.9 897.7 296.6 899.0 292.4 900.4 288.3 901.8 284.1 903.1 280.1 904.5 276.1 905.9 272.1 907.2 268.2 908.6 264.3 910.0 260.5 911.4 256.6 912.7 252.9 914.1 249.1 915.5 245.4 916.8 241.7 918.2 238.1 919.6 234.4 920.9 230.8 922.3 227.3 923.7 223.7 925.1 220.2 926.4 216.7 927.8 213.2 932.4 207.9 931.0 211.4 929.7 214.9 928.3 218.4 926.9 222.0 925.5 225.6 924.2 229.2 922.8 232.8 921.4 236.5 920.1 240.2 918.7 243.9 917.3 247.7 916.0 251.5 914.6 255.3 913.2 259.2 911.9 263.1 910.5 267.0 909.1 271.0 907.7 275.0 906.4 279.1 905.0 283.3 903.6 287.4 902.3 291.7 900.9 296.0 899.5 300.3 898.1 304.7 896.8 309.2 895.4 313.8 894.0 318.4 892.7 323.2 891.3 328.0 889.9 332.9 888.6 338.0 887.2 343.1 885.8 348.4 884.4 353.9 883.1 359.5 881.7 365.3 880.3 371.3 879.0 377.5 877.6 384.1 876.2 391.0 874.9 398.3 873.5 406.1 872.1 414.7 870.8 424.3 869.4 435.4 868.0 449.7 866.6 483.2 865.3 484.5 863.9 485.8Z'/>
<path fill='url(#s24)' stroke='url(#s24)' d='M863.9 485.8 865.3 484.5 866.6 483.2 868.0 449.7 869.4 435.4 870.8 424.3 872.1 414.7 873.5 406.1 874.9 398.3 876.2 391.0 877.6 384.1 879.0 377.5 880.3 371.3 881.7 365.3 883.1 359.5 884.4 353.9 885.8 348.4 887.2 343.1 888.6 338.0 889.9 332.9 891.3 328.0 892.7 323.2 894.0 318.4 895.4 313.8 896.8 309.2 898.1 304.7 899.5 300.3 900.9 296.0 902.3 291.7 903.6 287.4 905.0 283.3 906.4 279.1 907.7 275.0 909.1 271.0 910.5 267.0 911.9 263.1 913.2 259.2 914.6 255.3 916.0 251.5 917.3 247.7 918.7 243.9 920.1 240.2 921.4 236.5 922.8 232.8 924.2 229.2 925.5 225.6 926.9 222.0 928.3 218.4 929.7 214.9 931.0 211.4 932.4 207.9 937.0 204.0 935.6 207.4 934.3 210.9 932.9 214.5 931.5 218.0 930.1 221.6 928.8 225.2 927.4 228.9 926.0 232.5 924.7 236.2 923.3 240.0 921.9 243.7 920.6 247.5 919.2 251.3 917.8 255.2 916.5 259.1 915.1 263.1 913.7 267.1 912.3 271.1 911.0 275.2 909.6 279.4 908.2 283.5 906.9 287.8 905.5 292.1 904.1 296.5 902.8 300.9 901.4 305.4 900.0 310.0 898.6 314.7 897.3 319.4 895.9 324.3 894.5 329.2 893.2 334.3 891.8 339.5 890.4 344.8 889.0 350.3 887.7 356.0 886.3 361.8 884.9 367.9 883.6 374.2 882.2 380.8 880.8 387.8 879.5 395.2 878.1 403.2 876.7 411.9 875.4 421.7 874.0 433.1 872.6 447.8 871.2 483.2 869.9 484.6 868.5 485.9Z'/>
<path fill='url(#s25)' stroke='url(#s25)' d='M868.5 485.9 869.9 484.6 871.2 483.2 872.6 447.8 874.0 433.1 875.4 421.7 876.7 411.9 878.1 403.2 879.5 395.2 880.8 387.8 882.2 380.8 883.6 374.2 884.9 367.9 886.3 361.8 887.7 356.0 889.0 350.3 890.4 344.8 891.8 339.5 893.2 334.3 894.5 329.2 895.9 324.3 897.3 319.4 898.6 314.7 900.0 310.0 901.4 305.4 902.8 300.9 904.1 296.5 905.5 292.1 906.9 287.8 908.2 283.5 909.6 279.4 911.0 275.2 912.3 271.1 913.7 267.1 915.1 263.1 916.5 259.1 917.8 255.2 919.2 251.3 920.6 247.5 921.9 243.7 923.3 240.0 924.7 236.2 926.0 232.5 927.4 228.9 928.8 225.2 930.1 221.6 931.5 218.0 932.9 214.5 934.3 210.9 935.6 207.4 937.0 204.0 941.6 200.0 940.2 203.5 938.9 207.0 937.5 210.5 936.1 214.1 934.7 217.6 933.4 221.2 932.0 224.9 930.6 228.6 929.3 232.3 927.9 236.0 926.5 239.8 925.2 243.6 923.8 247.4 922.4 251.3 921.1 255.2 919.7 259.2 918.3 263.2 916.9 267.2 915.6 271.3 914.2 275.5 912.8 279.7 911.5 283.9 910.1 288.2 908.7 292.6 907.3 297.1 906.0 301.6 904.6 306.2 903.2 310.9 901.9 315.7 900.5 320.6 899.1 325.5 897.8 330.6 896.4 335.9 895.0 341.2 893.6 346.8 892.3 352.5 890.9 358.4 889.5 364.5 888.2 370.9 886.8 377.6 885.4 384.7 884.1 392.2 882.7 400.3 881.3 409.2 880.0 419.1 878.6 430.8 877.2 445.8 875.8 483.3 874.5 484.6 873.1 486.0Z'/>
<path fill='url(#s26)' stroke='url(#s26)' d='M873.1 486.0 874.5 484.6 875.8 483.3 877.2 445.8 878.6 430.8 880.0 419.1 881.3 409.2 882.7 400.3 884.1 392.2 885.4 384.7 886.8 377.6 888.2 370.9 889.5 364.5 890.9 358.4 892.3 352.5 893.6 346.8 895.0 341.2 896.4 335.9 897.8 330.6 899.1 325.5 900.5 320.6 901.9 315.7 903.2 310.9 904.6 306.2 906.0 301.6 907.3 297.1 908.7 292.6 910.1 288.2 911.5 283.9 912.8 279.7 914.2 275.5 915.6 271.3 916.9 267.2 918.3 263.2 919.7 259.2 921.1 255.2 922.4 251.3 923.8 247.4 925.2 243.6 926.5 239.8 927.9 236.0 929.3 232.3 930.6 228.6 932.0 224.9 933.4 221.2 934.7 217.6 936.1 214.1 937.5 210.5 938.9 207.0 940.2 203.5 941.6 200.0 946.2 196.0 944.8 199.5 943.5 203.0 942.1 206.5 940.7 210.1 939.4 213.7 938.0 217.3 936.6 220.9 935.2 224.6 933.9 228.3 932.5 232.0 931.1 235.8 929.8 239.6 928.4 243.4 927.0 247.3 925.7 251.3 924.3 255.2 922.9 259.2 921.5 263.3 920.2 267.4 918.8 271.6 917.4 275.8 916.1 280.0 914.7 284.4 913.3 288.8 912.0 293.3 910.6 297.8 909.2 302.4 907.8 307.1 906.5 311.9 905.1 316.8 903.7 321.9 902.4 327.0 901.0 332.3 899.6 337.7 898.2 343.2 896.9 349.0 895.5 354.9 894.1 361.1 892.8 367.6 891.4 374.4 890.0 381.5 888.7 389.1 887.3 397.4 885.9 406.4 884.5 416.5 883.2 428.5 881.8 443.9 880.4 483.4 879.1 484.7 877.7 486.0Z'/>
<path fill='url(#s27)' stroke='url(#s27)' d='M877.7 486.0 879.1 484.7 880.4 483.4 881.8 443.9 883.2 428.5 884.5 416.5 885.9 406.4 887.3 397.4 888.7 389.1 890.0 381.5 891.4 374.4 892.8 367.6 894.1 361.1 895.5 354.9 896.9 349.0 898.2 343.2 899.6 337.7 901.0 332.3 902.4 327.0 903.7 321.9 905.1 316.8 906.5 311.9 907.8 307.1 909.2 302.4 910.6 297.8 912.0 293.3 913.3 288.8 914.7 284.4 916.1 280.0 917.4 275.8 918.8 271.6 920.2 267.4 921.5 263.3 922.9 259.2 924.3 255.2 925.7 251.3 927.0 247.3 928.4 243.4 929.8 239.6 931.1 235.8 932.5 232.0 933.9 228.3 935.2 224.6 936.6 220.9 938.0 217.3 939.4 213.7 940.7 210.1 942.1 206.5 943.5 203.0 944.8 199.5 946.2 196.0 950.8 192.0 949.4 195.5 948.1 199.0 946.7 202.5 945.3 206.1 944.0 209.7 942.6 213.3 941.2 216.9 939.8 220.6 938.5 224.3 937.1 228.1 935.7 231.8 934.4 235.6 933.0 239.5 931.6 243.4 930.2 247.3 928.9 251.3 927.5 255.3 926.1 259.4 924.8 263.5 923.4 267.7 922.0 271.9 920.7 276.2 919.3 280.5 917.9 284.9 916.5 289.4 915.2 294.0 913.8 298.6 912.4 303.4 911.1 308.2 909.7 313.1 908.3 318.2 907.0 323.3 905.6 328.6 904.2 334.1 902.8 339.7 901.5 345.5 900.1 351.5 898.7 357.7 897.4 364.3 896.0 371.1 894.6 378.4 893.3 386.1 891.9 394.4 890.5 403.6 889.2 413.9 887.8 426.1 886.4 442.0 885.0 483.5 883.7 484.8 882.3 486.1Z'/>
<path fill='url(#s28)' stroke='url(#s28)' d='M882.3 486.1 883.7 484.8 885.0 483.5 886.4 442.0 887.8 426.1 889.2 413.9 890.5 403.6 891.9 394.4 893.3 386.1 894.6 378.4 896.0 371.1 897.4 364.3 898.7 357.7 900.1 351.5 901.5 345.5 902.8 339.7 904.2 334.1 905.6 328.6 907.0 323.3 908.3 318.2 909.7 313.1 911.1 308.2 912.4 303.4 913.8 298.6 915.2 294.0 916.5 289.4 917.9 284.9 919.3 280.5 920.7 276.2 922.0 271.9 923.4 267.7 924.8 263.5 926.1 259.4 927.5 255.3 928.9 251.3 930.2 247.3 931.6 243.4 933.0 239.5 934.4 235.6 935.7 231.8 937.1 228.1 938.5 224.3 939.8 220.6 941.2 216.9 942.6 213.3 944.0 209.7 945.3 206.1 946.7 202.5 948.1 199.0 949.4 195.5 950.8 192.0 955.4 188.1 954.0 191.5 952.7 195.0 951.3 198.6 949.9 202.1 948.5 205.7 947.2 209.3 945.8 213.0 944.4 216.6 943.1 220.3 941.7 224.1 940.3 227.9 939.0 231.7 937.6 235.5 936.2 239.4 934.9 243.4 933.5 247.3 932.1 251.4 930.7 255.5 929.4 259.6 928.0 263.8 926.6 268.0 925.3 272.3 923.9 276.7 922.5 281.1 921.1 285.6 919.8 290.2 918.4 294.8 917.0 299.6 915.7 304.5 914.3 309.4 912.9 314.5 911.6 319.7 910.2 325.0 908.8 330.5 907.5 336.2 906.1 342.0 904.7 348.1 903.3 354.4 902.0 361.0 900.6 367.9 899.2 375.2 897.9 383.0 896.5 391.5 895.1 400.8 893.8 411.4 892.4 423.8 891.0 440.1 889.6 483.5 888.3 484.9 886.9 486.2Z'/>
<path fill='url(#s29)' stroke='url(#s29)' d='M886.9 486.2 888.3 484.9 889.6 483.5 891.0 440.1 892.4 423.8 893.8 411.4 895.1 400.8 896.5 391.5 897.9 383.0 899.2 375.2 900.6 367.9 902.0 361.0 903.3 354.4 904.7 348.1 906.1 342.0 907.5 336.2 908.8 330.5 910.2 325.0 911.6 319.7 912.9 314.5 914.3 309.4 915.7 304.5 917.0 299.6 918.4 294.8 919.8 290.2 921.1 285.6 922.5 281.1 923.9 276.7 925.3 272.3 926.6 268.0 928.0 263.8 929.4 259.6 930.7 255.5 932.1 251.4 933.5 247.3 934.9 243.4 936.2 239.4 937.6 235.5 939.0 231.7 940.3 227.9 941.7 224.1 943.1 220.3 944.4 216.6 945.8 213.0 947.2 209.3 948.5 205.7 949.9 202.1 951.3 198.6 952.7 195.0 954.0 191.5 955.4 188.1 960.0 184.1 958.6 187.6 957.3 191.1 955.9 194.6 954.5 198.1 953.2 201.7 951.8 205.3 950.4 209.0 949.0 212.7 947.7 216.4 946.3 220.1 944.9 223.9 943.6 227.7 942.2 231.6 940.8 235.5 939.5 239.4 938.1 243.4 936.7 247.4 935.3 251.5 934.0 255.7 932.6 259.9 931.2 264.1 929.9 268.4 928.5 272.8 927.1 277.3 925.8 281.8 924.4 286.4 923.0 291.1 921.6 295.8 920.3 300.7 918.9 305.7 917.5 310.8 916.2 316.0 914.8 321.4 913.4 326.9 912.0 332.6 910.7 338.5 909.3 344.6 907.9 351.0 906.6 357.6 905.2 364.6 903.8 372.1 902.5 380.0 901.1 388.6 899.7 398.1 898.4 408.8 897.0 421.5 895.6 438.2 894.2 483.6 892.9 484.9 891.5 486.3Z'/>
<path fill='url(#s30)' stroke='url(#s30)' d='M891.5 486.3 892.9 484.9 894.2 483.6 895.6 438.2 897.0 421.5 898.4 408.8 899.7 398.1 901.1 388.6 902.5 380.0 903.8 372.1 905.2 364.6 906.6 357.6 907.9 351.0 909.3 344.6 910.7 338.5 912.0 332.6 913.4 326.9 914.8 321.4 916.2 316.0 917.5 310.8 918.9 305.7 920.3 300.7 921.6 295.8 923.0 291.1 924.4 286.4 925.8 281.8 927.1 277.3 928.5 272.8 929.9 268.4 931.2 264.1 932.6 259.9 934.0 255.7 935.3 251.5 936.7 247.4 938.1 243.4 939.5 239.4 940.8 235.5 942.2 231.6 943.6 227.7 944.9 223.9 946.3 220.1 947.7 216.4 949.0 212.7 950.4 209.0 951.8 205.3 953.2 201.7 954.5 198.1 955.9 194.6 957.3 191.1 958.6 187.6 960.0 184.1 964.6 180.1 963.2 183.6 961.9 187.1 960.5 190.6 959.1 194.2 957.8 197.8 956.4 201.4 955.0 205.0 953.6 208.7 952.3 212.4 950.9 216.2 949.5 219.9 948.2 223.8 946.8 227.6 945.4 231.5 944.1 235.5 942.7 239.5 941.3 243.5 939.9 247.6 938.6 251.8 937.2 256.0 935.8 260.2 934.5 264.6 933.1 268.9 931.7 273.4 930.4 277.9 929.0 282.6 927.6 287.3 926.2 292.1 924.9 297.0 923.5 302.0 922.1 307.1 920.8 312.4 919.4 317.8 918.0 323.3 916.6 329.1 915.3 335.0 913.9 341.2 912.5 347.6 911.2 354.3 909.8 361.4 908.4 368.9 907.1 377.0 905.7 385.7 904.3 395.3 903.0 406.2 901.6 419.2 900.2 436.3 898.8 483.7 897.5 485.0 896.1 486.3Z'/>
<path fill='url(#s31)' stroke='url(#s31)' d='M896.1 486.3 897.5 485.0 898.8 483.7 900.2 436.3 901.6 419.2 903.0 406.2 904.3 395.3 905.7 385.7 907.1 377.0 908.4 368.9 909.8 361.4 911.2 354.3 912.5 347.6 913.9 341.2 915.3 335.0 916.6 329.1 918.0 323.3 919.4 317.8 920.8 312.4 922.1 307.1 923.5 302.0 924.9 297.0 926.2 292.1 927.6 287.3 929.0 282.6 930.4 277.9 931.7 273.4 933.1 268.9 934.5 264.6 935.8 260.2 937.2 256.0 938.6 251.8 939.9 247.6 941.3 243.5 942.7 239.5 944.1 235.5 945.4 231.5 946.8 227.6 948.2 223.8 949.5 219.9 950.9 216.2 952.3 212.4 953.6 208.7 955.0 205.0 956.4 201.4 957.8 197.8 959.1 194.2 960.5 190.6 961.9 187.1 963.2 183.6 964.6 180.1 969.2 176.1 967.8 179.6 966.5 183.1 965.1 186.6 963.7 190.2 962.4 193.8 961.0 197.4 959.6 201.0 958.2 204.7 956.9 208.4 955.5 212.2 954.1 216.0 952.8 219.8 951.4 223.7 950.0 227.6 948.7 231.5 947.3 235.5 945.9 239.6 944.5 243.7 943.2 247.9 941.8 252.1 940.4 256.3 939.1 260.7 937.7 265.1 936.3 269.6 935.0 274.1 933.6 278.8 932.2 283.5 930.8 288.3 929.5 293.2 928.1 298.3 926.7 303.4 925.4 308.7 924.0 314.2 922.6 319.8 921.2 325.5 919.9 331.5 918.5 337.7 917.1 344.2 915.8 351.0 914.4 358.2 913.0 365.8 911.7 373.9 910.3 382.7 908.9 392.5 907.6 403.6 906.2 416.9 904.8 434.4 903.4 483.8 902.1 485.1 900.7 486.4Z'/>
<path fill='url(#s32)' stroke='url(#s32)' d='M900.7 486.4 902.1 485.1 903.4 483.8 904.8 434.4 906.2 416.9 907.6 403.6 908.9 392.5 910.3 382.7 911.7 373.9 913.0 365.8 914.4 358.2 915.8 351.0 917.1 344.2 918.5 337.7 919.9 331.5 921.2 325.5 922.6 319.8 924.0 314.2 925.4 308.7 926.7 303.4 928.1 298.3 929.5 293.2 930.8 288.3 932.2 283.5 933.6 278.8 935.0 274.1 936.3 269.6 937.7 265.1 939.1 260.7 940.4 256.3 941.8 252.1 943.2 247.9 944.5 243.7 945.9 239.6 947.3 235.5 948.7 231.5 950.0 227.6 951.4 223.7 952.8 219.8 954.1 216.0 955.5 212.2 956.9 208.4 958.2 204.7 959.6 201.0 961.0 197.4 962.4 193.8 963.7 190.2 965.1 186.6 966.5 183.1 967.8 179.6 969.2 176.1 973.8 173.4 972.4 176.9 971.1 180.4 969.7 183.9 968.3 187.5 966.9 191.0 965.6 194.6 964.2 198.3 962.8 201.9 961.5 205.7 960.1 209.4 958.7 213.2 957.4 217.0 956.0 220.9 954.6 224.8 953.3 228.7 951.9 232.7 950.5 236.7 949.1 240.8 947.8 245.0 946.4 249.2 945.0 253.5 943.7 257.8 942.3 262.2 940.9 266.7 939.6 271.2 938.2 275.9 936.8 280.6 935.4 285.4 934.1 290.4 932.7 295.4 931.3 300.6 930.0 305.9 928.6 311.3 927.2 316.9 925.9 322.7 924.5 328.7 923.1 335.0 921.7 341.5 920.4 348.3 919.0 355.5 917.6 363.1 916.3 371.3 914.9 380.2 913.5 390.0 912.2 401.3 910.8 414.7 909.4 432.5 908.0 483.7 906.7 485.0 905.3 486.3Z'/>
<path fill='url(#s33)' stroke='url(#s33)' d='M905.3 486.3 906.7 485.0 908.0 483.7 909.4 432.5 910.8 414.7 912.2 401.3 913.5 390.0 914.9 380.2 916.3 371.3 917.6 363.1 919.0 355.5 920.4 348.3 921.7 341.5 923.1 335.0 924.5 328.7 925.9 322.7 927.2 316.9 928.6 311.3 930.0 305.9 931.3 300.6 932.7 295.4 934.1 290.4 935.4 285.4 936.8 280.6 938.2 275.9 939.6 271.2 940.9 266.7 942.3 262.2 943.7 257.8 945.0 253.5 946.4 249.2 947.8 245.0 949.1 240.8 950.5 236.7 951.9 232.7 953.3 228.7 954.6 224.8 956.0 220.9 957.4 217.0 958.7 213.2 960.1 209.4 961.5 205.7 962.8 201.9 964.2 198.3 965.6 194.6 966.9 191.0 968.3 187.5 969.7 183.9 971.1 180.4 972.4 176.9 973.8 173.4 978.4 170.7 977.0 174.2 975.7 177.7 974.3 181.2 972.9 184.7 971.6 188.3 970.2 191.9 968.8 195.5 967.4 199.2 966.1 202.9 964.7 206.6 963.3 210.4 962.0 214.2 960.6 218.0 959.2 221.9 957.9 225.9 956.5 229.9 955.1 233.9 953.7 238.0 952.4 242.1 951.0 246.3 949.6 250.6 948.3 254.9 946.9 259.3 945.5 263.8 944.2 268.4 942.8 273.0 941.4 277.7 940.0 282.6 938.7 287.5 937.3 292.5 935.9 297.7 934.6 303.0 933.2 308.5 931.8 314.1 930.5 319.9 929.1 325.9 927.7 332.2 926.3 338.7 925.0 345.5 923.6 352.8 922.2 360.4 920.9 368.7 919.5 377.6 918.1 387.6 916.8 398.9 915.4 412.5 914.0 430.6 912.6 483.6 911.3 484.9 909.9 486.3Z'/>
<path fill='url(#s34)' stroke='url(#s34)' d='M909.9 486.3 911.3 484.9 912.6 483.6 914.0 430.6 915.4 412.5 916.8 398.9 918.1 387.6 919.5 377.6 920.9 368.7 922.2 360.4 923.6 352.8 925.0 345.5 926.3 338.7 927.7 332.2 929.1 325.9 930.5 319.9 931.8 314.1 933.2 308.5 934.6 303.0 935.9 297.7 937.3 292.5 938.7 287.5 940.0 282.6 941.4 277.7 942.8 273.0 944.2 268.4 945.5 263.8 946.9 259.3 948.3 254.9 949.6 250.6 951.0 246.3 952.4 242.1 953.7 238.0 955.1 233.9 956.5 229.9 957.9 225.9 959.2 221.9 960.6 218.0 962.0 214.2 963.3 210.4 964.7 206.6 966.1 202.9 967.4 199.2 968.8 195.5 970.2 191.9 971.6 188.3 972.9 184.7 974.3 181.2 975.7 177.7 977.0 174.2 978.4 170.7 983.0 168.0 981.6 171.5 980.3 174.9 978.9 178.4 977.5 182.0 976.1 185.5 974.8 189.1 973.4 192.7 972.0 196.4 970.7 200.1 969.3 203.8 967.9 207.6 966.6 211.4 965.2 215.2 963.8 219.1 962.5 223.0 961.1 227.0 959.7 231.1 958.3 235.1 957.0 239.3 955.6 243.5 954.2 247.7 952.9 252.1 951.5 256.5 950.1 260.9 948.8 265.5 947.4 270.1 946.0 274.9 944.6 279.7 943.3 284.6 941.9 289.7 940.5 294.8 939.2 300.2 937.8 305.6 936.4 311.2 935.0 317.1 933.7 323.1 932.3 329.4 930.9 335.9 929.6 342.8 928.2 350.1 926.8 357.8 925.5 366.1 924.1 375.1 922.7 385.1 921.4 396.6 920.0 410.3 918.6 428.7 917.2 483.5 915.9 484.9 914.5 486.2Z'/>
<path fill='url(#s35)' stroke='url(#s35)' d='M914.5 486.2 915.9 484.9 917.2 483.5 918.6 428.7 920.0 410.3 921.4 396.6 922.7 385.1 924.1 375.1 925.5 366.1 926.8 357.8 928.2 350.1 929.6 342.8 930.9 335.9 932.3 329.4 933.7 323.1 935.0 317.1 936.4 311.2 937.8 305.6 939.2 300.2 940.5 294.8 941.9 289.7 943.3 284.6 944.6 279.7 946.0 274.9 947.4 270.1 948.8 265.5 950.1 260.9 951.5 256.5 952.9 252.1 954.2 247.7 955.6 243.5 957.0 239.3 958.3 235.1 959.7 231.1 961.1 227.0 962.5 223.0 963.8 219.1 965.2 215.2 966.6 211.4 967.9 207.6 969.3 203.8 970.7 200.1 972.0 196.4 973.4 192.7 974.8 189.1 976.1 185.5 977.5 182.0 978.9 178.4 980.3 174.9 981.6 171.5 983.0 168.0 987.6 165.3 986.2 168.7 984.9 172.2 983.5 175.7 982.1 179.2 980.8 182.8 979.4 186.3 978.0 190.0 976.6 193.6 975.3 197.3 973.9 201.0 972.5 204.8 971.2 208.6 969.8 212.4 968.4 216.3 967.1 220.2 965.7 224.2 964.3 228.2 962.9 232.3 961.6 236.4 960.2 240.6 958.8 244.9 957.5 249.2 956.1 253.6 954.7 258.1 953.4 262.6 952.0 267.3 950.6 272.0 949.2 276.8 947.9 281.7 946.5 286.8 945.1 292.0 943.8 297.3 942.4 302.8 941.0 308.4 939.6 314.2 938.3 320.3 936.9 326.6 935.5 333.2 934.2 340.1 932.8 347.4 931.4 355.1 930.1 363.5 928.7 372.5 927.3 382.6 926.0 394.2 924.6 408.1 923.2 426.8 921.8 483.5 920.5 484.8 919.1 486.1Z'/>
<path fill='url(#s36)' stroke='url(#s36)' d='M919.1 486.1 920.5 484.8 921.8 483.5 923.2 426.8 924.6 408.1 926.0 394.2 927.3 382.6 928.7 372.5 930.1 363.5 931.4 355.1 932.8 347.4 934.2 340.1 935.5 333.2 936.9 326.6 938.3 320.3 939.6 314.2 941.0 308.4 942.4 302.8 943.8 297.3 945.1 292.0 946.5 286.8 947.9 281.7 949.2 276.8 950.6 272.0 952.0 267.3 953.4 262.6 954.7 258.1 956.1 253.6 957.5 249.2 958.8 244.9 960.2 240.6 961.6 236.4 962.9 232.3 964.3 228.2 965.7 224.2 967.1 220.2 968.4 216.3 969.8 212.4 971.2 208.6 972.5 204.8 973.9 201.0 975.3 197.3 976.6 193.6 978.0 190.0 979.4 186.3 980.8 182.8 982.1 179.2 983.5 175.7 984.9 172.2 986.2 168.7 987.6 165.3 992.2 162.6 990.8 166.0 989.5 169.5 988.1 173.0 986.7 176.5 985.4 180.0 984.0 183.6 982.6 187.2 981.2 190.8 979.9 194.5 978.5 198.2 977.1 202.0 975.8 205.7 974.4 209.6 973.0 213.5 971.7 217.4 970.3 221.3 968.9 225.4 967.5 229.4 966.2 233.6 964.8 237.8 963.4 242.0 962.1 246.3 960.7 250.7 959.3 255.2 958.0 259.7 956.6 264.4 955.2 269.1 953.8 273.9 952.5 278.9 951.1 283.9 949.7 289.1 948.4 294.4 947.0 299.9 945.6 305.6 944.2 311.4 942.9 317.5 941.5 323.8 940.1 330.4 938.8 337.3 937.4 344.7 936.0 352.5 934.7 360.8 933.3 370.0 931.9 380.2 930.5 391.9 929.2 405.9 927.8 424.9 926.4 483.4 925.1 484.7 923.7 486.1Z'/>
<path fill='url(#s37)' stroke='url(#s37)' d='M923.7 486.1 925.1 484.7 926.4 483.4 927.8 424.9 929.2 405.9 930.5 391.9 931.9 380.2 933.3 370.0 934.7 360.8 936.0 352.5 937.4 344.7 938.8 337.3 940.1 330.4 941.5 323.8 942.9 317.5 944.2 311.4 945.6 305.6 947.0 299.9 948.4 294.4 949.7 289.1 951.1 283.9 952.5 278.9 953.8 273.9 955.2 269.1 956.6 264.4 958.0 259.7 959.3 255.2 960.7 250.7 962.1 246.3 963.4 242.0 964.8 237.8 966.2 233.6 967.5 229.4 968.9 225.4 970.3 221.3 971.7 217.4 973.0 213.5 974.4 209.6 975.8 205.7 977.1 202.0 978.5 198.2 979.9 194.5 981.2 190.8 982.6 187.2 984.0 183.6 985.4 180.0 986.7 176.5 988.1 173.0 989.5 169.5 990.8 166.0 992.2 162.6 996.8 159.9 995.4 163.3 994.1 166.8 992.7 170.2 991.3 173.7 989.9 177.3 988.6 180.8 987.2 184.4 985.8 188.0 984.5 191.7 983.1 195.4 981.7 199.2 980.4 202.9 979.0 206.8 977.6 210.6 976.3 214.5 974.9 218.5 973.5 222.5 972.1 226.6 970.8 230.7 969.4 234.9 968.0 239.2 966.7 243.5 965.3 247.9 963.9 252.3 962.5 256.9 961.2 261.5 959.8 266.2 958.4 271.1 957.1 276.0 955.7 281.1 954.3 286.3 953.0 291.6 951.6 297.1 950.2 302.7 948.8 308.6 947.5 314.7 946.1 321.0 944.7 327.6 943.4 334.6 942.0 341.9 940.6 349.8 939.3 358.2 937.9 367.5 936.5 377.7 935.2 389.5 933.8 403.7 932.4 423.0 931.0 483.3 929.7 484.7 928.3 486.0Z'/>
<path fill='url(#s38)' stroke='url(#s38)' d='M928.3 486.0 929.7 484.7 931.0 483.3 932.4 423.0 933.8 403.7 935.2 389.5 936.5 377.7 937.9 367.5 939.3 358.2 940.6 349.8 942.0 341.9 943.4 334.6 944.7 327.6 946.1 321.0 947.5 314.7 948.8 308.6 950.2 302.7 951.6 297.1 953.0 291.6 954.3 286.3 955.7 281.1 957.1 276.0 958.4 271.1 959.8 266.2 961.2 261.5 962.5 256.9 963.9 252.3 965.3 247.9 966.7 243.5 968.0 239.2 969.4 234.9 970.8 230.7 972.1 226.6 973.5 222.5 974.9 218.5 976.3 214.5 977.6 210.6 979.0 206.8 980.4 202.9 981.7 199.2 983.1 195.4 984.5 191.7 985.8 188.0 987.2 184.4 988.6 180.8 989.9 177.3 991.3 173.7 992.7 170.2 994.1 166.8 995.4 163.3 996.8 159.9 1001.4 157.2 1000.0 160.6 998.7 164.0 997.3 167.5 995.9 171.0 994.6 174.5 993.2 178.1 991.8 181.6 990.4 185.3 989.1 188.9 987.7 192.6 986.3 196.3 985.0 200.1 983.6 203.9 982.2 207.8 980.9 211.7 979.5 215.7 978.1 219.7 976.7 223.7 975.4 227.9 974.0 232.0 972.6 236.3 971.3 240.6 969.9 245.0 968.5 249.5 967.1 254.0 965.8 258.6 964.4 263.4 963.0 268.2 961.7 273.1 960.3 278.2 958.9 283.4 957.6 288.7 956.2 294.2 954.8 299.9 953.4 305.8 952.1 311.9 950.7 318.2 949.3 324.9 948.0 331.9 946.6 339.2 945.2 347.1 943.9 355.6 942.5 364.9 941.1 375.3 939.8 387.1 938.4 401.5 937.0 421.1 935.6 483.3 934.3 484.6 932.9 485.9Z'/>
<path fill='url(#s39)' stroke='url(#s39)' d='M932.9 485.9 934.3 484.6 935.6 483.3 937.0 421.1 938.4 401.5 939.8 387.1 941.1 375.3 942.5 364.9 943.9 355.6 945.2 347.1 946.6 339.2 948.0 331.9 949.3 324.9 950.7 318.2 952.1 311.9 953.4 305.8 954.8 299.9 956.2 294.2 957.6 288.7 958.9 283.4 960.3 278.2 961.7 273.1 963.0 268.2 964.4 263.4 965.8 258.6 967.1 254.0 968.5 249.5 969.9 245.0 971.3 240.6 972.6 236.3 974.0 232.0 975.4 227.9 976.7 223.7 978.1 219.7 979.5 215.7 980.9 211.7 982.2 207.8 983.6 203.9 985.0 200.1 986.3 196.3 987.7 192.6 989.1 188.9 990.4 185.3 991.8 181.6 993.2 178.1 994.6 174.5 995.9 171.0 997.3 167.5 998.7 164.0 1000.0 160.6 1001.4 157.2 1006.0 154.5 1004.6 157.9 1003.3 161.3 1001.9 164.7 1000.5 168.2 999.1 171.7 997.8 175.3 996.4 178.9 995.0 182.5 993.7 186.1 992.3 189.8 990.9 193.5 989.6 197.3 988.2 201.1 986.8 205.0 985.5 208.9 984.1 212.8 982.7 216.8 981.3 220.9 980.0 225.0 978.6 229.2 977.2 233.4 975.9 237.7 974.5 242.1 973.1 246.6 971.8 251.1 970.4 255.8 969.0 260.5 967.6 265.3 966.3 270.3 964.9 275.3 963.5 280.5 962.2 285.9 960.8 291.4 959.4 297.1 958.0 303.0 956.7 309.1 955.3 315.4 953.9 322.1 952.6 329.1 951.2 336.5 949.8 344.5 948.5 353.0 947.1 362.4 945.7 372.8 944.4 384.8 943.0 399.3 941.6 419.1 940.2 483.2 938.9 484.5 937.5 485.8Z'/>
<path fill='url(#s40)' stroke='url(#s40)' d='M937.5 485.8 938.9 484.5 940.2 483.2 941.6 419.1 943.0 399.3 944.4 384.8 945.7 372.8 947.1 362.4 948.5 353.0 949.8 344.5 951.2 336.5 952.6 329.1 953.9 322.1 955.3 315.4 956.7 309.1 958.0 303.0 959.4 297.1 960.8 291.4 962.2 285.9 963.5 280.5 964.9 275.3 966.3 270.3 967.6 265.3 969.0 260.5 970.4 255.8 971.8 251.1 973.1 246.6 974.5 242.1 975.9 237.7 977.2 233.4 978.6 229.2 980.0 225.0 981.3 220.9 982.7 216.8 984.1 212.8 985.5 208.9 986.8 205.0 988.2 201.1 989.6 197.3 990.9 193.5 992.3 189.8 993.7 186.1 995.0 182.5 996.4 178.9 997.8 175.3 999.1 171.7 1000.5 168.2 1001.9 164.7 1003.3 161.3 1004.6 157.9 1006.0 154.5 1010.6 152.5 1009.2 155.9 1007.9 159.3 1006.5 162.7 1005.1 166.2 1003.8 169.7 1002.4 173.2 1001.0 176.8 999.6 180.4 998.3 184.0 996.9 187.7 995.5 191.4 994.2 195.1 992.8 198.9 991.4 202.8 990.1 206.6 988.7 210.6 987.3 214.6 985.9 218.6 984.6 222.7 983.2 226.9 981.8 231.1 980.5 235.4 979.1 239.8 977.7 244.2 976.4 248.7 975.0 253.3 973.6 258.1 972.2 262.9 970.9 267.8 969.5 272.9 968.1 278.0 966.8 283.4 965.4 288.9 964.0 294.5 962.6 300.4 961.3 306.5 959.9 312.9 958.5 319.5 957.2 326.6 955.8 334.0 954.4 341.9 953.1 350.5 951.7 359.8 950.3 370.3 949.0 382.4 947.6 397.0 946.2 417.0 944.8 482.9 943.5 484.2 942.1 485.6Z'/>
<path fill='url(#s41)' stroke='url(#s41)' d='M942.1 485.6 943.5 484.2 944.8 482.9 946.2 417.0 947.6 397.0 949.0 382.4 950.3 370.3 951.7 359.8 953.1 350.5 954.4 341.9 955.8 334.0 957.2 326.6 958.5 319.5 959.9 312.9 961.3 306.5 962.6 300.4 964.0 294.5 965.4 288.9 966.8 283.4 968.1 278.0 969.5 272.9 970.9 267.8 972.2 262.9 973.6 258.1 975.0 253.3 976.4 248.7 977.7 244.2 979.1 239.8 980.5 235.4 981.8 231.1 983.2 226.9 984.6 222.7 985.9 218.6 987.3 214.6 988.7 210.6 990.1 206.6 991.4 202.8 992.8 198.9 994.2 195.1 995.5 191.4 996.9 187.7 998.3 184.0 999.6 180.4 1001.0 176.8 1002.4 173.2 1003.8 169.7 1005.1 166.2 1006.5 162.7 1007.9 159.3 1009.2 155.9 1010.6 152.5 1015.2 150.6 1013.8 153.9 1012.5 157.3 1011.1 160.7 1009.7 164.2 1008.3 167.6 1007.0 171.1 1005.6 174.7 1004.2 178.3 1002.9 181.9 1001.5 185.5 1000.1 189.2 998.8 193.0 997.4 196.7 996.0 200.5 994.7 204.4 993.3 208.3 991.9 212.3 990.5 216.3 989.2 220.4 987.8 224.5 986.4 228.8 985.1 233.0 983.7 237.4 982.3 241.8 981.0 246.3 979.6 250.9 978.2 255.6 976.8 260.4 975.5 265.3 974.1 270.4 972.7 275.6 971.4 280.9 970.0 286.4 968.6 292.0 967.2 297.9 965.9 304.0 964.5 310.3 963.1 317.0 961.8 324.0 960.4 331.4 959.0 339.4 957.7 347.9 956.3 357.3 954.9 367.8 953.6 379.9 952.2 394.7 950.8 414.8 949.4 482.6 948.1 484.0 946.7 485.3Z'/>
<path fill='url(#s42)' stroke='url(#s42)' d='M946.7 485.3 948.1 484.0 949.4 482.6 950.8 414.8 952.2 394.7 953.6 379.9 954.9 367.8 956.3 357.3 957.7 347.9 959.0 339.4 960.4 331.4 961.8 324.0 963.1 317.0 964.5 310.3 965.9 304.0 967.2 297.9 968.6 292.0 970.0 286.4 971.4 280.9 972.7 275.6 974.1 270.4 975.5 265.3 976.8 260.4 978.2 255.6 979.6 250.9 981.0 246.3 982.3 241.8 983.7 237.4 985.1 233.0 986.4 228.8 987.8 224.5 989.2 220.4 990.5 216.3 991.9 212.3 993.3 208.3 994.7 204.4 996.0 200.5 997.4 196.7 998.8 193.0 1000.1 189.2 1001.5 185.5 1002.9 181.9 1004.2 178.3 1005.6 174.7 1007.0 171.1 1008.3 167.6 1009.7 164.2 1011.1 160.7 1012.5 157.3 1013.8 153.9 1015.2 150.6 1019.8 148.6 1018.4 151.9 1017.1 155.3 1015.7 158.7 1014.3 162.1 1013.0 165.6 1011.6 169.1 1010.2 172.6 1008.8 176.2 1007.5 179.8 1006.1 183.4 1004.7 187.1 1003.4 190.8 1002.0 194.5 1000.6 198.3 999.2 202.2 997.9 206.1 996.5 210.0 995.1 214.0 993.8 218.1 992.4 222.2 991.0 226.4 989.7 230.7 988.3 235.0 986.9 239.4 985.5 243.9 984.2 248.5 982.8 253.2 981.4 258.0 980.1 262.9 978.7 267.9 977.3 273.1 976.0 278.4 974.6 283.8 973.2 289.5 971.9 295.3 970.5 301.4 969.1 307.8 967.7 314.4 966.4 321.4 965.0 328.9 963.6 336.8 962.3 345.4 960.9 354.8 959.5 365.3 958.2 377.5 956.8 392.3 955.4 412.7 954.0 482.3 952.7 483.7 951.3 485.0Z'/>
<path fill='url(#s43)' stroke='url(#s43)' d='M951.3 485.0 952.7 483.7 954.0 482.3 955.4 412.7 956.8 392.3 958.2 377.5 959.5 365.3 960.9 354.8 962.3 345.4 963.6 336.8 965.0 328.9 966.4 321.4 967.7 314.4 969.1 307.8 970.5 301.4 971.9 295.3 973.2 289.5 974.6 283.8 976.0 278.4 977.3 273.1 978.7 267.9 980.1 262.9 981.4 258.0 982.8 253.2 984.2 248.5 985.5 243.9 986.9 239.4 988.3 235.0 989.7 230.7 991.0 226.4 992.4 222.2 993.8 218.1 995.1 214.0 996.5 210.0 997.9 206.1 999.2 202.2 1000.6 198.3 1002.0 194.5 1003.4 190.8 1004.7 187.1 1006.1 183.4 1007.5 179.8 1008.8 176.2 1010.2 172.6 1011.6 169.1 1013.0 165.6 1014.3 162.1 1015.7 158.7 1017.1 155.3 1018.4 151.9 1019.8 148.6 1024.4 146.6 1023.0 150.0 1021.7 153.3 1020.3 156.7 1018.9 160.1 1017.5 163.5 1016.2 167.0 1014.8 170.5 1013.4 174.1 1012.1 177.6 1010.7 181.2 1009.3 184.9 1008.0 188.6 1006.6 192.3 1005.2 196.1 1003.9 200.0 1002.5 203.8 1001.1 207.8 999.7 211.8 998.4 215.8 997.0 219.9 995.6 224.1 994.3 228.3 992.9 232.6 991.5 237.0 990.2 241.5 988.8 246.1 987.4 250.8 986.0 255.5 984.7 260.4 983.3 265.4 981.9 270.6 980.6 275.9 979.2 281.3 977.8 287.0 976.5 292.8 975.1 298.9 973.7 305.2 972.3 311.9 971.0 318.9 969.6 326.3 968.2 334.3 966.9 342.9 965.5 352.3 964.1 362.9 962.8 375.1 961.4 390.0 960.0 410.5 958.6 482.1 957.3 483.4 955.9 484.7Z'/>
<path fill='url(#s44)' stroke='url(#s44)' d='M955.9 484.7 957.3 483.4 958.6 482.1 960.0 410.5 961.4 390.0 962.8 375.1 964.1 362.9 965.5 352.3 966.9 342.9 968.2 334.3 969.6 326.3 971.0 318.9 972.3 311.9 973.7 305.2 975.1 298.9 976.5 292.8 977.8 287.0 979.2 281.3 980.6 275.9 981.9 270.6 983.3 265.4 984.7 260.4 986.0 255.5 987.4 250.8 988.8 246.1 990.2 241.5 991.5 237.0 992.9 232.6 994.3 228.3 995.6 224.1 997.0 219.9 998.4 215.8 999.7 211.8 1001.1 207.8 1002.5 203.8 1003.9 200.0 1005.2 196.1 1006.6 192.3 1008.0 188.6 1009.3 184.9 1010.7 181.2 1012.1 177.6 1013.4 174.1 1014.8 170.5 1016.2 167.0 1017.5 163.5 1018.9 160.1 1020.3 156.7 1021.7 153.3 1023.0 150.0 1024.4 146.6 1029.0 144.7 1027.6 148.0 1026.3 151.3 1024.9 154.7 1023.5 158.1 1022.1 161.5 1020.8 164.9 1019.4 168.4 1018.0 171.9 1016.7 175.5 1015.3 179.1 1013.9 182.7 1012.6 186.4 1011.2 190.1 1009.8 193.9 1008.5 197.7 1007.1 201.6 1005.7 205.5 1004.3 209.5 1003.0 213.5 1001.6 217.6 1000.2 221.8 998.9 226.0 997.5 230.3 996.1 234.7 994.8 239.1 993.4 243.7 992.0 248.3 990.6 253.1 989.3 258.0 987.9 263.0 986.5 268.1 985.2 273.4 983.8 278.8 982.4 284.4 981.0 290.3 979.7 296.3 978.3 302.7 976.9 309.3 975.6 316.3 974.2 323.8 972.8 331.7 971.5 340.3 970.1 349.8 968.7 360.4 967.4 372.6 966.0 387.7 964.6 408.4 963.2 481.8 961.9 483.1 960.5 484.4Z'/>
<path fill='url(#s45)' stroke='url(#s45)' d='M960.5 484.4 961.9 483.1 963.2 481.8 964.6 408.4 966.0 387.7 967.4 372.6 968.7 360.4 970.1 349.8 971.5 340.3 972.8 331.7 974.2 323.8 975.6 316.3 976.9 309.3 978.3 302.7 979.7 296.3 981.0 290.3 982.4 284.4 983.8 278.8 985.2 273.4 986.5 268.1 987.9 263.0 989.3 258.0 990.6 253.1 992.0 248.3 993.4 243.7 994.8 239.1 996.1 234.7 997.5 230.3 998.9 226.0 1000.2 221.8 1001.6 217.6 1003.0 213.5 1004.3 209.5 1005.7 205.5 1007.1 201.6 1008.5 197.7 1009.8 193.9 1011.2 190.1 1012.6 186.4 1013.9 182.7 1015.3 179.1 1016.7 175.5 1018.0 171.9 1019.4 168.4 1020.8 164.9 1022.1 161.5 1023.5 158.1 1024.9 154.7 1026.3 151.3 1027.6 148.0 1029.0 144.7 1033.6 142.7 1032.2 146.0 1030.9 149.3 1029.5 152.6 1028.1 156.0 1026.8 159.4 1025.4 162.9 1024.0 166.3 1022.6 169.8 1021.3 173.4 1019.9 177.0 1018.5 180.6 1017.2 184.2 1015.8 187.9 1014.4 191.7 1013.1 195.5 1011.7 199.3 1010.3 203.2 1008.9 207.2 1007.6 211.2 1006.2 215.3 1004.8 219.4 1003.5 223.6 1002.1 227.9 1000.7 232.3 999.4 236.7 998.0 241.3 996.6 245.9 995.2 250.6 993.9 255.5 992.5 260.5 991.1 265.6 989.8 270.9 988.4 276.3 987.0 281.9 985.7 287.7 984.3 293.8 982.9 300.1 981.5 306.8 980.2 313.8 978.8 321.2 977.4 329.2 976.1 337.8 974.7 347.3 973.3 357.9 972.0 370.2 970.6 385.3 969.2 406.2 967.8 481.5 966.5 482.8 965.1 484.1Z'/>
<path fill='url(#s46)' stroke='url(#s46)' d='M965.1 484.1 966.5 482.8 967.8 481.5 969.2 406.2 970.6 385.3 972.0 370.2 973.3 357.9 974.7 347.3 976.1 337.8 977.4 329.2 978.8 321.2 980.2 313.8 981.5 306.8 982.9 300.1 984.3 293.8 985.7 287.7 987.0 281.9 988.4 276.3 989.8 270.9 991.1 265.6 992.5 260.5 993.9 255.5 995.2 250.6 996.6 245.9 998.0 241.3 999.4 236.7 1000.7 232.3 1002.1 227.9 1003.5 223.6 1004.8 219.4 1006.2 215.3 1007.6 211.2 1008.9 207.2 1010.3 203.2 1011.7 199.3 1013.1 195.5 1014.4 191.7 1015.8 187.9 1017.2 184.2 1018.5 180.6 1019.9 177.0 1021.3 173.4 1022.6 169.8 1024.0 166.3 1025.4 162.9 1026.8 159.4 1028.1 156.0 1029.5 152.6 1030.9 149.3 1032.2 146.0 1033.6 142.7 1038.2 140.7 1036.8 144.0 1035.5 147.3 1034.1 150.6 1032.7 154.0 1031.4 157.4 1030.0 160.8 1028.6 164.3 1027.2 167.7 1025.9 171.3 1024.5 174.8 1023.1 178.4 1021.8 182.1 1020.4 185.8 1019.0 189.5 1017.7 193.3 1016.3 197.1 1014.9 201.0 1013.5 204.9 1012.2 208.9 1010.8 213.0 1009.4 217.1 1008.1 221.3 1006.7 225.5 1005.3 229.9 1004.0 234.3 1002.6 238.8 1001.2 243.5 999.8 248.2 998.5 253.0 997.1 258.0 995.7 263.1 994.4 268.4 993.0 273.8 991.6 279.4 990.2 285.2 988.9 291.3 987.5 297.6 986.1 304.2 984.8 311.2 983.4 318.6 982.0 326.6 980.7 335.2 979.3 344.7 977.9 355.4 976.6 367.8 975.2 383.0 973.8 404.1 972.4 481.2 971.1 482.5 969.7 483.8Z'/>
<path fill='url(#s47)' stroke='url(#s47)' d='M969.7 483.8 971.1 482.5 972.4 481.2 973.8 404.1 975.2 383.0 976.6 367.8 977.9 355.4 979.3 344.7 980.7 335.2 982.0 326.6 983.4 318.6 984.8 311.2 986.1 304.2 987.5 297.6 988.9 291.3 990.2 285.2 991.6 279.4 993.0 273.8 994.4 268.4 995.7 263.1 997.1 258.0 998.5 253.0 999.8 248.2 1001.2 243.5 1002.6 238.8 1004.0 234.3 1005.3 229.9 1006.7 225.5 1008.1 221.3 1009.4 217.1 1010.8 213.0 1012.2 208.9 1013.5 204.9 1014.9 201.0 1016.3 197.1 1017.7 193.3 1019.0 189.5 1020.4 185.8 1021.8 182.1 1023.1 178.4 1024.5 174.8 1025.9 171.3 1027.2 167.7 1028.6 164.3 1030.0 160.8 1031.4 157.4 1032.7 154.0 1034.1 150.6 1035.5 147.3 1036.8 144.0 1038.2 140.7 1042.8 138.8 1041.4 142.0 1040.1 145.3 1038.7 148.6 1037.3 152.0 1036.0 155.3 1034.6 158.7 1033.2 162.2 1031.8 165.6 1030.5 169.1 1029.1 172.7 1027.7 176.3 1026.4 179.9 1025.0 183.6 1023.6 187.3 1022.3 191.0 1020.9 194.8 1019.5 198.7 1018.1 202.6 1016.8 206.6 1015.4 210.6 1014.0 214.8 1012.7 218.9 1011.3 223.2 1009.9 227.5 1008.6 231.9 1007.2 236.4 1005.8 241.0 1004.4 245.7 1003.1 250.6 1001.7 255.5 1000.3 260.6 999.0 265.9 997.6 271.3 996.2 276.9 994.9 282.7 993.5 288.7 992.1 295.0 990.7 301.7 989.4 308.7 988.0 316.1 986.6 324.1 985.3 332.7 983.9 342.2 982.5 352.9 981.2 365.4 979.8 380.7 978.4 401.9 977.0 480.9 975.7 482.2 974.3 483.6Z'/>
<path fill='url(#s48)' stroke='url(#s48)' d='M974.3 483.6 975.7 482.2 977.0 480.9 978.4 401.9 979.8 380.7 981.2 365.4 982.5 352.9 983.9 342.2 985.3 332.7 986.6 324.1 988.0 316.1 989.4 308.7 990.7 301.7 992.1 295.0 993.5 288.7 994.9 282.7 996.2 276.9 997.6 271.3 999.0 265.9 1000.3 260.6 1001.7 255.5 1003.1 250.6 1004.4 245.7 1005.8 241.0 1007.2 236.4 1008.6 231.9 1009.9 227.5 1011.3 223.2 1012.7 218.9 1014.0 214.8 1015.4 210.6 1016.8 206.6 1018.1 202.6 1019.5 198.7 1020.9 194.8 1022.3 191.0 1023.6 187.3 1025.0 183.6 1026.4 179.9 1027.7 176.3 1029.1 172.7 1030.5 169.1 1031.8 165.6 1033.2 162.2 1034.6 158.7 1036.0 155.3 1037.3 152.0 1038.7 148.6 1040.1 145.3 1041.4 142.0 1042.8 138.8 1047.4 137.2 1046.0 140.4 1044.7 143.6 1043.3 146.9 1041.9 150.2 1040.6 153.6 1039.2 156.9 1037.8 160.3 1036.4 163.8 1035.1 167.2 1033.7 170.7 1032.3 174.3 1031.0 177.9 1029.6 181.5 1028.2 185.2 1026.9 188.9 1025.5 192.7 1024.1 196.5 1022.7 200.4 1021.4 204.3 1020.0 208.3 1018.6 212.4 1017.3 216.5 1015.9 220.7 1014.5 225.0 1013.2 229.4 1011.8 233.8 1010.4 238.4 1009.0 243.1 1007.7 247.8 1006.3 252.7 1004.9 257.8 1003.6 263.0 1002.2 268.3 1000.8 273.9 999.5 279.6 998.1 285.6 996.7 291.9 995.3 298.5 994.0 305.4 992.6 312.8 991.2 320.7 989.9 329.3 988.5 338.8 987.1 349.5 985.8 361.9 984.4 377.2 983.0 398.5 981.6 479.8 980.3 481.2 978.9 482.5Z'/>
<path fill='url(#s49)' stroke='url(#s49)' d='M978.9 482.5 980.3 481.2 981.6 479.8 983.0 398.5 984.4 377.2 985.8 361.9 987.1 349.5 988.5 338.8 989.9 329.3 991.2 320.7 992.6 312.8 994.0 305.4 995.3 298.5 996.7 291.9 998.1 285.6 999.5 279.6 1000.8 273.9 1002.2 268.3 1003.6 263.0 1004.9 257.8 1006.3 252.7 1007.7 247.8 1009.0 243.1 1010.4 238.4 1011.8 233.8 1013.2 229.4 1014.5 225.0 1015.9 220.7 1017.3 216.5 1018.6 212.4 1020.0 208.3 1021.4 204.3 1022.7 200.4 1024.1 196.5 1025.5 192.7 1026.9 188.9 1028.2 185.2 1029.6 181.5 1031.0 177.9 1032.3 174.3 1033.7 170.7 1035.1 167.2 1036.4 163.8 1037.8 160.3 1039.2 156.9 1040.6 153.6 1041.9 150.2 1043.3 146.9 1044.7 143.6 1046.0 140.4 1047.4 137.2 1052.0 135.6 1050.6 138.8 1049.3 142.0 1047.9 145.2 1046.5 148.5 1045.2 151.8 1043.8 155.1 1042.4 158.5 1041.0 161.9 1039.7 165.3 1038.3 168.8 1036.9 172.3 1035.6 175.8 1034.2 179.4 1032.8 183.1 1031.5 186.7 1030.1 190.5 1028.7 194.3 1027.3 198.1 1026.0 202.0 1024.6 206.0 1023.2 210.0 1021.9 214.1 1020.5 218.2 1019.1 222.5 1017.8 226.8 1016.4 231.2 1015.0 235.7 1013.6 240.4 1012.3 245.1 1010.9 250.0 1009.5 255.0 1008.2 260.1 1006.8 265.4 1005.4 270.9 1004.1 276.6 1002.7 282.6 1001.3 288.8 999.9 295.3 998.6 302.2 997.2 309.6 995.8 317.4 994.5 326.0 993.1 335.4 991.7 346.0 990.4 358.4 989.0 373.7 987.6 395.1 986.2 478.7 984.9 480.1 983.5 481.4Z'/>
<path fill='url(#s50)' stroke='url(#s50)' d='M983.5 481.4 984.9 480.1 986.2 478.7 987.6 395.1 989.0 373.7 990.4 358.4 991.7 346.0 993.1 335.4 994.5 326.0 995.8 317.4 997.2 309.6 998.6 302.2 999.9 295.3 1001.3 288.8 1002.7 282.6 1004.1 276.6 1005.4 270.9 1006.8 265.4 1008.2 260.1 1009.5 255.0 1010.9 250.0 1012.3 245.1 1013.6 240.4 1015.0 235.7 1016.4 231.2 1017.8 226.8 1019.1 222.5 1020.5 218.2 1021.9 214.1 1023.2 210.0 1024.6 206.0 1026.0 202.0 1027.3 198.1 1028.7 194.3 1030.1 190.5 1031.5 186.7 1032.8 183.1 1034.2 179.4 1035.6 175.8 1036.9 172.3 1038.3 168.8 1039.7 165.3 1041.0 161.9 1042.4 158.5 1043.8 155.1 1045.2 151.8 1046.5 148.5 1047.9 145.2 1049.3 142.0 1050.6 138.8 1052.0 135.6 1056.6 134.0 1055.2 137.1 1053.9 140.3 1052.5 143.5 1051.1 146.7 1049.8 150.0 1048.4 153.3 1047.0 156.6 1045.6 160.0 1044.3 163.4 1042.9 166.8 1041.5 170.3 1040.2 173.8 1038.8 177.4 1037.4 181.0 1036.1 184.6 1034.7 188.3 1033.3 192.0 1031.9 195.8 1030.6 199.7 1029.2 203.6 1027.8 207.6 1026.5 211.6 1025.1 215.8 1023.7 220.0 1022.3 224.2 1021.0 228.6 1019.6 233.1 1018.2 237.7 1016.9 242.4 1015.5 247.2 1014.1 252.1 1012.8 257.2 1011.4 262.5 1010.0 267.9 1008.7 273.6 1007.3 279.5 1005.9 285.7 1004.5 292.1 1003.2 299.0 1001.8 306.3 1000.4 314.1 999.1 322.6 997.7 332.0 996.3 342.6 995.0 354.9 993.6 370.2 992.2 391.7 990.8 477.7 989.5 479.0 988.1 480.3Z'/>
<path fill='url(#s51)' stroke='url(#s51)' d='M988.1 480.3 989.5 479.0 990.8 477.7 992.2 391.7 993.6 370.2 995.0 354.9 996.3 342.6 997.7 332.0 999.1 322.6 1000.4 314.1 1001.8 306.3 1003.2 299.0 1004.5 292.1 1005.9 285.7 1007.3 279.5 1008.7 273.6 1010.0 267.9 1011.4 262.5 1012.8 257.2 1014.1 252.1 1015.5 247.2 1016.9 242.4 1018.2 237.7 1019.6 233.1 1021.0 228.6 1022.3 224.2 1023.7 220.0 1025.1 215.8 1026.5 211.6 1027.8 207.6 1029.2 203.6 1030.6 199.7 1031.9 195.8 1033.3 192.0 1034.7 188.3 1036.1 184.6 1037.4 181.0 1038.8 177.4 1040.2 173.8 1041.5 170.3 1042.9 166.8 1044.3 163.4 1045.6 160.0 1047.0 156.6 1048.4 153.3 1049.8 150.0 1051.1 146.7 1052.5 143.5 1053.9 140.3 1055.2 137.1 1056.6 134.0 1061.2 132.4 1059.8 135.5 1058.5 138.6 1057.1 141.8 1055.7 145.0 1054.3 148.2 1053.0 151.5 1051.6 154.8 1050.2 158.1 1048.9 161.5 1047.5 164.9 1046.1 168.3 1044.8 171.8 1043.4 175.3 1042.0 178.8 1040.7 182.4 1039.3 186.1 1037.9 189.8 1036.5 193.6 1035.2 197.4 1033.8 201.3 1032.4 205.2 1031.1 209.2 1029.7 213.3 1028.3 217.4 1027.0 221.7 1025.6 226.0 1024.2 230.4 1022.8 235.0 1021.5 239.6 1020.1 244.4 1018.7 249.3 1017.4 254.3 1016.0 259.6 1014.6 265.0 1013.2 270.6 1011.9 276.4 1010.5 282.5 1009.1 289.0 1007.8 295.8 1006.4 303.0 1005.0 310.8 1003.7 319.3 1002.3 328.6 1000.9 339.1 999.6 351.5 998.2 366.8 996.8 388.3 995.4 476.6 994.1 477.9 992.7 479.2Z'/>
<path fill='url(#s52)' stroke='url(#s52)' d='M992.7 479.2 994.1 477.9 995.4 476.6 996.8 388.3 998.2 366.8 999.6 351.5 1000.9 339.1 1002.3 328.6 1003.7 319.3 1005.0 310.8 1006.4 303.0 1007.8 295.8 1009.1 289.0 1010.5 282.5 1011.9 276.4 1013.2 270.6 1014.6 265.0 1016.0 259.6 1017.4 254.3 1018.7 249.3 1020.1 244.4 1021.5 239.6 1022.8 235.0 1024.2 230.4 1025.6 226.0 1027.0 221.7 1028.3 217.4 1029.7 213.3 1031.1 209.2 1032.4 205.2 1033.8 201.3 1035.2 197.4 1036.5 193.6 1037.9 189.8 1039.3 186.1 1040.7 182.4 1042.0 178.8 1043.4 175.3 1044.8 171.8 1046.1 168.3 1047.5 164.9 1048.9 161.5 1050.2 158.1 1051.6 154.8 1053.0 151.5 1054.3 148.2 1055.7 145.0 1057.1 141.8 1058.5 138.6 1059.8 135.5 1061.2 132.4 1065.8 130.8 1064.4 133.9 1063.1 137.0 1061.7 140.1 1060.3 143.3 1059.0 146.5 1057.6 149.7 1056.2 152.9 1054.8 156.2 1053.5 159.6 1052.1 162.9 1050.7 166.3 1049.4 169.7 1048.0 173.2 1046.6 176.7 1045.2 180.3 1043.9 183.9 1042.5 187.6 1041.1 191.3 1039.8 195.1 1038.4 198.9 1037.0 202.8 1035.7 206.8 1034.3 210.8 1032.9 214.9 1031.5 219.1 1030.2 223.4 1028.8 227.8 1027.4 232.3 1026.1 236.9 1024.7 241.6 1023.3 246.5 1022.0 251.5 1020.6 256.6 1019.2 262.0 1017.9 267.6 1016.5 273.4 1015.1 279.4 1013.7 285.8 1012.4 292.6 1011.0 299.8 1009.6 307.5 1008.3 315.9 1006.9 325.2 1005.5 335.7 1004.2 348.0 1002.8 363.3 1001.4 384.9 1000.0 475.5 998.7 476.8 997.3 478.1Z'/>
<path fill='url(#s53)' stroke='url(#s53)' d='M997.3 478.1 998.7 476.8 1000.0 475.5 1001.4 384.9 1002.8 363.3 1004.2 348.0 1005.5 335.7 1006.9 325.2 1008.3 315.9 1009.6 307.5 1011.0 299.8 1012.4 292.6 1013.7 285.8 1015.1 279.4 1016.5 273.4 1017.9 267.6 1019.2 262.0 1020.6 256.6 1022.0 251.5 1023.3 246.5 1024.7 241.6 1026.1 236.9 1027.4 232.3 1028.8 227.8 1030.2 223.4 1031.5 219.1 1032.9 214.9 1034.3 210.8 1035.7 206.8 1037.0 202.8 1038.4 198.9 1039.8 195.1 1041.1 191.3 1042.5 187.6 1043.9 183.9 1045.2 180.3 1046.6 176.7 1048.0 173.2 1049.4 169.7 1050.7 166.3 1052.1 162.9 1053.5 159.6 1054.8 156.2 1056.2 152.9 1057.6 149.7 1059.0 146.5 1060.3 143.3 1061.7 140.1 1063.1 137.0 1064.4 133.9 1065.8 130.8 1070.4 129.2 1069.0 132.2 1067.7 135.3 1066.3 138.4 1064.9 141.5 1063.5 144.7 1062.2 147.9 1060.8 151.1 1059.4 154.4 1058.1 157.6 1056.7 161.0 1055.3 164.3 1054.0 167.7 1052.6 171.1 1051.2 174.6 1049.8 178.2 1048.5 181.7 1047.1 185.4 1045.7 189.0 1044.4 192.8 1043.0 196.6 1041.6 200.4 1040.3 204.3 1038.9 208.3 1037.5 212.4 1036.1 216.6 1034.8 220.8 1033.4 225.1 1032.0 229.6 1030.7 234.1 1029.3 238.8 1027.9 243.6 1026.6 248.6 1025.2 253.7 1023.8 259.0 1022.5 264.5 1021.1 270.3 1019.7 276.3 1018.3 282.6 1017.0 289.3 1015.6 296.5 1014.2 304.2 1012.9 312.5 1011.5 321.8 1010.1 332.3 1008.8 344.5 1007.4 359.8 1006.0 381.5 1004.6 474.4 1003.3 475.7 1001.9 477.1Z'/>
<path fill='url(#s54)' stroke='url(#s54)' d='M1001.9 477.1 1003.3 475.7 1004.6 474.4 1006.0 381.5 1007.4 359.8 1008.8 344.5 1010.1 332.3 1011.5 321.8 1012.9 312.5 1014.2 304.2 1015.6 296.5 1017.0 289.3 1018.3 282.6 1019.7 276.3 1021.1 270.3 1022.5 264.5 1023.8 259.0 1025.2 253.7 1026.6 248.6 1027.9 243.6 1029.3 238.8 1030.7 234.1 1032.0 229.6 1033.4 225.1 1034.8 220.8 1036.1 216.6 1037.5 212.4 1038.9 208.3 1040.3 204.3 1041.6 200.4 1043.0 196.6 1044.4 192.8 1045.7 189.0 1047.1 185.4 1048.5 181.7 1049.8 178.2 1051.2 174.6 1052.6 171.1 1054.0 167.7 1055.3 164.3 1056.7 161.0 1058.1 157.6 1059.4 154.4 1060.8 151.1 1062.2 147.9 1063.5 144.7 1064.9 141.5 1066.3 138.4 1067.7 135.3 1069.0 132.2 1070.4 129.2 1075.0 127.6 1073.6 130.6 1072.3 133.7 1070.9 136.7 1069.5 139.8 1068.2 142.9 1066.8 146.1 1065.4 149.3 1064.0 152.5 1062.7 155.7 1061.3 159.0 1059.9 162.3 1058.6 165.7 1057.2 169.1 1055.8 172.5 1054.5 176.0 1053.1 179.5 1051.7 183.1 1050.3 186.8 1049.0 190.5 1047.6 194.2 1046.2 198.0 1044.9 201.9 1043.5 205.9 1042.1 209.9 1040.7 214.0 1039.4 218.2 1038.0 222.5 1036.6 226.9 1035.3 231.4 1033.9 236.0 1032.5 240.8 1031.2 245.7 1029.8 250.8 1028.4 256.1 1027.1 261.5 1025.7 267.2 1024.3 273.2 1022.9 279.5 1021.6 286.1 1020.2 293.2 1018.8 300.9 1017.5 309.2 1016.1 318.4 1014.7 328.8 1013.4 341.1 1012.0 356.3 1010.6 378.1 1009.2 473.3 1007.9 474.7 1006.5 476.0Z'/>
<path fill='url(#s55)' stroke='url(#s55)' d='M1006.5 476.0 1007.9 474.7 1009.2 473.3 1010.6 378.1 1012.0 356.3 1013.4 341.1 1014.7 328.8 1016.1 318.4 1017.5 309.2 1018.8 300.9 1020.2 293.2 1021.6 286.1 1022.9 279.5 1024.3 273.2 1025.7 267.2 1027.1 261.5 1028.4 256.1 1029.8 250.8 1031.2 245.7 1032.5 240.8 1033.9 236.0 1035.3 231.4 1036.6 226.9 1038.0 222.5 1039.4 218.2 1040.7 214.0 1042.1 209.9 1043.5 205.9 1044.9 201.9 1046.2 198.0 1047.6 194.2 1049.0 190.5 1050.3 186.8 1051.7 183.1 1053.1 179.5 1054.5 176.0 1055.8 172.5 1057.2 169.1 1058.6 165.7 1059.9 162.3 1061.3 159.0 1062.7 155.7 1064.0 152.5 1065.4 149.3 1066.8 146.1 1068.2 142.9 1069.5 139.8 1070.9 136.7 1072.3 133.7 1073.6 130.6 1075.0 127.6 1079.6 126.0 1078.2 129.0 1076.9 132.0 1075.5 135.0 1074.1 138.1 1072.8 141.2 1071.4 144.3 1070.0 147.4 1068.6 150.6 1067.3 153.8 1065.9 157.0 1064.5 160.3 1063.2 163.6 1061.8 167.0 1060.4 170.4 1059.0 173.9 1057.7 177.4 1056.3 180.9 1054.9 184.5 1053.6 188.2 1052.2 191.9 1050.8 195.6 1049.5 199.5 1048.1 203.4 1046.7 207.4 1045.3 211.4 1044.0 215.6 1042.6 219.8 1041.2 224.2 1039.9 228.7 1038.5 233.3 1037.1 238.0 1035.8 242.8 1034.4 247.9 1033.0 253.1 1031.7 258.5 1030.3 264.1 1028.9 270.1 1027.5 276.3 1026.2 282.9 1024.8 290.0 1023.4 297.5 1022.1 305.8 1020.7 315.0 1019.3 325.4 1018.0 337.6 1016.6 352.9 1015.2 374.7 1013.8 472.3 1012.5 473.6 1011.1 474.9Z'/>
<path fill='url(#s56)' stroke='url(#s56)' d='M1076.9 132.0 1078.2 129.0 1079.6 126.0 1084.2 124.5 1082.8 127.4 1081.5 130.3Z'/>
<path fill='url(#s57)' stroke='url(#s57)' d='M1081.5 130.3 1082.8 127.4 1084.2 124.5 1088.8 122.9 1087.4 125.8 1086.1 128.7Z'/>
<path fill='url(#s58)' stroke='url(#s58)' d='M1086.1 128.7 1087.4 125.8 1088.8 122.9 1093.4 121.4 1092.0 124.2 1090.7 127.0Z'/>
<path fill='url(#s59)' stroke='url(#s59)' d='M1090.7 127.0 1092.0 124.2 1093.4 121.4 1098.0 119.8 1096.6 122.6 1095.3 125.4Z'/>
<path fill='url(#s60)' stroke='url(#s60)' d='M1095.3 125.4 1096.6 122.6 1098.0 119.8 1102.6 118.3 1101.2 121.0 1099.9 123.8Z'/>
<path fill='url(#s61)' stroke='url(#s61)' d='M1099.9 123.8 1101.2 121.0 1102.6 118.3 1107.2 116.7 1105.8 119.4 1104.5 122.1Z'/>
<path fill='url(#s62)' stroke='url(#s62)' d='M1104.5 122.1 1105.8 119.4 1107.2 116.7 1111.8 115.2 1110.4 117.8 1109.1 120.5Z'/>
<path fill='url(#s63)' stroke='url(#s63)' d='M1109.1 120.5 1110.4 117.8 1111.8 115.2 1116.4 113.6 1115.0 116.2 1113.7 118.8Z'/>
<path fill='url(#s64)' stroke='url(#s64)' d='M1113.7 118.8 1115.0 116.2 1116.4 113.6 1121.0 112.0 1119.6 114.5 1118.3 117.0Z'/>
<path fill='url(#s65)' stroke='url(#s65)' d='M1118.3 117.0 1119.6 114.5 1121.0 112.0 1125.6 110.4 1124.2 112.8 1122.9 115.3Z'/>
<path fill='url(#s66)' stroke='url(#s66)' d='M1122.9 115.3 1124.2 112.8 1125.6 110.4 1130.2 108.8 1128.8 111.1 1127.5 113.5Z'/>
<path fill='url(#s67)' stroke='url(#s67)' d='M1127.5 113.5 1128.8 111.1 1130.2 108.8 1134.8 107.2 1133.4 109.5 1132.1 111.7Z'/>
<path fill='url(#s68)' stroke='url(#s68)' d='M1132.1 111.7 1133.4 109.5 1134.8 107.2 1139.4 105.6 1138.0 107.8 1136.7 110.0Z'/>
<path fill='url(#s69)' stroke='url(#s69)' d='M1136.7 110.0 1138.0 107.8 1139.4 105.6 1144.0 104.0 1142.6 106.1 1141.3 108.2Z'/>
<path fill='url(#s70)' stroke='url(#s70)' d='M1141.3 108.2 1142.6 106.1 1144.0 104.0 1148.6 102.4 1147.2 104.4 1145.9 106.4Z'/>
<path fill='url(#s71)' stroke='url(#s71)' d='M1145.9 106.4 1147.2 104.4 1148.6 102.4 1153.2 100.8 1151.8 102.7 1150.5 104.6Z'/>
<path fill='url(#s72)' stroke='url(#s72)' d='M1150.5 104.6 1151.8 102.7 1153.2 100.8 1157.8 99.2 1156.4 101.1 1155.1 102.9Z'/>
<path fill='url(#s73)' stroke='url(#s73)' d='M1155.1 102.9 1156.4 101.1 1157.8 99.2 1162.4 97.6 1161.0 99.4 1159.7 101.2Z'/>
<path fill='url(#s74)' stroke='url(#s74)' d='M1159.7 101.2 1161.0 99.4 1162.4 97.6 1167.0 96.0 1165.6 97.7 1164.3 99.5Z'/>
<path fill='url(#s75)' stroke='url(#s75)' d='M1164.3 99.5 1165.6 97.7 1167.0 96.0 1171.6 94.4 1170.2 96.1 1168.9 97.8Z'/>
<path fill='url(#s76)' stroke='url(#s76)' d='M1168.9 97.8 1170.2 96.1 1171.6 94.4 1176.2 92.8 1174.8 94.4 1173.5 96.1Z'/>
<path fill='url(#s77)' stroke='url(#s77)' d='M1173.5 96.1 1174.8 94.4 1176.2 92.8 1180.8 91.2 1179.4 92.8 1178.1 94.4Z'/>
<path fill='url(#s78)' stroke='url(#s78)' d='M1178.1 94.4 1179.4 92.8 1180.8 91.2 1185.4 89.6 1184.0 91.1 1182.7 92.7Z'/>
<path fill='url(#s79)' stroke='url(#s79)' d='M1182.7 92.7 1184.0 91.1 1185.4 89.6 1190.0 88.0 1188.6 89.5 1187.3 91.0Z'/>
<path fill='url(#s56)' stroke='url(#s56)' d='M1071.4 144.3 1072.8 141.2 1074.1 138.1 1075.5 135.0 1076.9 132.0 1081.5 130.3 1080.1 133.3 1078.7 136.3 1077.3 139.4 1076.0 142.4Z'/>
<path fill='url(#s57)' stroke='url(#s57)' d='M1076.0 142.4 1077.3 139.4 1078.7 136.3 1080.1 133.3 1081.5 130.3 1086.1 128.7 1084.7 131.6 1083.3 134.6 1082.0 137.6 1080.6 140.6Z'/>
<path fill='url(#s58)' stroke='url(#s58)' d='M1080.6 140.6 1082.0 137.6 1083.3 134.6 1084.7 131.6 1086.1 128.7 1090.7 127.0 1089.3 129.9 1087.9 132.8 1086.6 135.8 1085.2 138.7Z'/>
<path fill='url(#s59)' stroke='url(#s59)' d='M1085.2 138.7 1086.6 135.8 1087.9 132.8 1089.3 129.9 1090.7 127.0 1095.3 125.4 1093.9 128.2 1092.5 131.1 1091.2 134.0 1089.8 136.9Z'/>
<path fill='url(#s60)' stroke='url(#s60)' d='M1089.8 136.9 1091.2 134.0 1092.5 131.1 1093.9 128.2 1095.3 125.4 1099.9 123.8 1098.5 126.5 1097.1 129.3 1095.8 132.2 1094.4 135.0Z'/>
<path fill='url(#s61)' stroke='url(#s61)' d='M1094.4 135.0 1095.8 132.2 1097.1 129.3 1098.5 126.5 1099.9 123.8 1104.5 122.1 1103.1 124.8 1101.7 127.6 1100.4 130.4 1099.0 133.2Z'/>
<path fill='url(#s62)' stroke='url(#s62)' d='M1099.0 133.2 1100.4 130.4 1101.7 127.6 1103.1 124.8 1104.5 122.1 1109.1 120.5 1107.7 123.1 1106.3 125.8 1105.0 128.6 1103.6 131.3Z'/>
<path fill='url(#s63)' stroke='url(#s63)' d='M1103.6 131.3 1105.0 128.6 1106.3 125.8 1107.7 123.1 1109.1 120.5 1113.7 118.8 1112.3 121.4 1110.9 124.1 1109.6 126.8 1108.2 129.5Z'/>
<path fill='url(#s64)' stroke='url(#s64)' d='M1108.2 129.5 1109.6 126.8 1110.9 124.1 1112.3 121.4 1113.7 118.8 1118.3 117.0 1116.9 119.6 1115.5 122.2 1114.2 124.7 1112.8 127.4Z'/>
<path fill='url(#s65)' stroke='url(#s65)' d='M1112.8 127.4 1114.2 124.7 1115.5 122.2 1116.9 119.6 1118.3 117.0 1122.9 115.3 1121.5 117.7 1120.1 120.2 1118.8 122.7 1117.4 125.2Z'/>
<path fill='url(#s66)' stroke='url(#s66)' d='M1117.4 125.2 1118.8 122.7 1120.1 120.2 1121.5 117.7 1122.9 115.3 1127.5 113.5 1126.1 115.9 1124.7 118.3 1123.4 120.7 1122.0 123.1Z'/>
<path fill='url(#s67)' stroke='url(#s67)' d='M1122.0 123.1 1123.4 120.7 1124.7 118.3 1126.1 115.9 1127.5 113.5 1132.1 111.7 1130.7 114.0 1129.3 116.3 1128.0 118.6 1126.6 121.0Z'/>
<path fill='url(#s68)' stroke='url(#s68)' d='M1126.6 121.0 1128.0 118.6 1129.3 116.3 1130.7 114.0 1132.1 111.7 1136.7 110.0 1135.3 112.2 1133.9 114.4 1132.6 116.6 1131.2 118.9Z'/>
<path fill='url(#s69)' stroke='url(#s69)' d='M1131.2 118.9 1132.6 116.6 1133.9 114.4 1135.3 112.2 1136.7 110.0 1141.3 108.2 1139.9 110.3 1138.5 112.4 1137.2 114.6 1135.8 116.7Z'/>
<path fill='url(#s70)' stroke='url(#s70)' d='M1135.8 116.7 1137.2 114.6 1138.5 112.4 1139.9 110.3 1141.3 108.2 1145.9 106.4 1144.5 108.4 1143.1 110.5 1141.8 112.5 1140.4 114.6Z'/>
<path fill='url(#s71)' stroke='url(#s71)' d='M1140.4 114.6 1141.8 112.5 1143.1 110.5 1144.5 108.4 1145.9 106.4 1150.5 104.6 1149.1 106.6 1147.7 108.5 1146.4 110.5 1145.0 112.5Z'/>
<path fill='url(#s72)' stroke='url(#s72)' d='M1145.0 112.5 1146.4 110.5 1147.7 108.5 1149.1 106.6 1150.5 104.6 1155.1 102.9 1153.7 104.8 1152.3 106.7 1151.0 108.6 1149.6 110.5Z'/>
<path fill='url(#s73)' stroke='url(#s73)' d='M1149.6 110.5 1151.0 108.6 1152.3 106.7 1153.7 104.8 1155.1 102.9 1159.7 101.2 1158.3 103.1 1156.9 104.9 1155.6 106.7 1154.2 108.6Z'/>
<path fill='url(#s74)' stroke='url(#s74)' d='M1154.2 108.6 1155.6 106.7 1156.9 104.9 1158.3 103.1 1159.7 101.2 1164.3 99.5 1162.9 101.3 1161.5 103.1 1160.2 104.9 1158.8 106.7Z'/>
<path fill='url(#s75)' stroke='url(#s75)' d='M1158.8 106.7 1160.2 104.9 1161.5 103.1 1162.9 101.3 1164.3 99.5 1168.9 97.8 1167.5 99.5 1166.1 101.2 1164.8 103.0 1163.4 104.7Z'/>
<path fill='url(#s76)' stroke='url(#s76)' d='M1163.4 104.7 1164.8 103.0 1166.1 101.2 1167.5 99.5 1168.9 97.8 1173.5 96.1 1172.1 97.8 1170.7 99.4 1169.3 101.1 1168.0 102.8Z'/>
<path fill='url(#s77)' stroke='url(#s77)' d='M1168.0 102.8 1169.3 101.1 1170.7 99.4 1172.1 97.8 1173.5 96.1 1178.1 94.4 1176.7 96.0 1175.3 97.6 1174.0 99.2 1172.6 100.8Z'/>
<path fill='url(#s78)' stroke='url(#s78)' d='M1172.6 100.8 1174.0 99.2 1175.3 97.6 1176.7 96.0 1178.1 94.4 1182.7 92.7 1181.3 94.2 1179.9 95.8 1178.6 97.3 1177.2 98.9Z'/>
<path fill='url(#s79)' stroke='url(#s79)' d='M1177.2 98.9 1178.6 97.3 1179.9 95.8 1181.3 94.2 1182.7 92.7 1187.3 91.0 1185.9 92.5 1184.5 94.0 1183.2 95.5 1181.8 97.0Z'/>
<path fill='url(#s56)' stroke='url(#s56)' d='M1065.9 157.0 1067.3 153.8 1068.6 150.6 1070.0 147.4 1071.4 144.3 1076.0 142.4 1074.6 145.5 1073.2 148.6 1071.9 151.8 1070.5 155.0Z'/>
<path fill='url(#s57)' stroke='url(#s57)' d='M1070.5 155.0 1071.9 151.8 1073.2 148.6 1074.6 145.5 1076.0 142.4 1080.6 140.6 1079.2 143.6 1077.8 146.7 1076.5 149.8 1075.1 152.9Z'/>
<path fill='url(#s58)' stroke='url(#s58)' d='M1075.1 152.9 1076.5 149.8 1077.8 146.7 1079.2 143.6 1080.6 140.6 1085.2 138.7 1083.8 141.7 1082.4 144.7 1081.1 147.8 1079.7 150.9Z'/>
<path fill='url(#s59)' stroke='url(#s59)' d='M1079.7 150.9 1081.1 147.8 1082.4 144.7 1083.8 141.7 1085.2 138.7 1089.8 136.9 1088.4 139.8 1087.0 142.8 1085.7 145.8 1084.3 148.8Z'/>
<path fill='url(#s60)' stroke='url(#s60)' d='M1084.3 148.8 1085.7 145.8 1087.0 142.8 1088.4 139.8 1089.8 136.9 1094.4 135.0 1093.0 137.9 1091.6 140.8 1090.3 143.8 1088.9 146.8Z'/>
<path fill='url(#s61)' stroke='url(#s61)' d='M1088.9 146.8 1090.3 143.8 1091.6 140.8 1093.0 137.9 1094.4 135.0 1099.0 133.2 1097.6 136.0 1096.2 138.9 1094.9 141.8 1093.5 144.7Z'/>
<path fill='url(#s62)' stroke='url(#s62)' d='M1093.5 144.7 1094.9 141.8 1096.2 138.9 1097.6 136.0 1099.0 133.2 1103.6 131.3 1102.2 134.1 1100.8 136.9 1099.5 139.8 1098.1 142.6Z'/>
<path fill='url(#s63)' stroke='url(#s63)' d='M1098.1 142.6 1099.5 139.8 1100.8 136.9 1102.2 134.1 1103.6 131.3 1108.2 129.5 1106.8 132.2 1105.4 135.0 1104.1 137.8 1102.7 140.6Z'/>
<path fill='url(#s64)' stroke='url(#s64)' d='M1102.7 140.6 1104.1 137.8 1105.4 135.0 1106.8 132.2 1108.2 129.5 1112.8 127.4 1111.4 130.0 1110.0 132.7 1108.7 135.4 1107.3 138.1Z'/>
<path fill='url(#s65)' stroke='url(#s65)' d='M1107.3 138.1 1108.7 135.4 1110.0 132.7 1111.4 130.0 1112.8 127.4 1117.4 125.2 1116.0 127.8 1114.6 130.4 1113.3 133.0 1111.9 135.6Z'/>
<path fill='url(#s66)' stroke='url(#s66)' d='M1111.9 135.6 1113.3 133.0 1114.6 130.4 1116.0 127.8 1117.4 125.2 1122.0 123.1 1120.6 125.6 1119.2 128.0 1117.9 130.5 1116.5 133.1Z'/>
<path fill='url(#s67)' stroke='url(#s67)' d='M1116.5 133.1 1117.9 130.5 1119.2 128.0 1120.6 125.6 1122.0 123.1 1126.6 121.0 1125.2 123.4 1123.8 125.7 1122.5 128.1 1121.1 130.6Z'/>
<path fill='url(#s68)' stroke='url(#s68)' d='M1121.1 130.6 1122.5 128.1 1123.8 125.7 1125.2 123.4 1126.6 121.0 1131.2 118.9 1129.8 121.1 1128.4 123.4 1127.1 125.7 1125.7 128.1Z'/>
<path fill='url(#s69)' stroke='url(#s69)' d='M1125.7 128.1 1127.1 125.7 1128.4 123.4 1129.8 121.1 1131.2 118.9 1135.8 116.7 1134.4 118.9 1133.0 121.1 1131.7 123.3 1130.3 125.6Z'/>
<path fill='url(#s70)' stroke='url(#s70)' d='M1130.3 125.6 1131.7 123.3 1133.0 121.1 1134.4 118.9 1135.8 116.7 1140.4 114.6 1139.0 116.7 1137.6 118.8 1136.3 120.9 1134.9 123.1Z'/>
<path fill='url(#s71)' stroke='url(#s71)' d='M1134.9 123.1 1136.3 120.9 1137.6 118.8 1139.0 116.7 1140.4 114.6 1145.0 112.5 1143.6 114.5 1142.2 116.5 1140.9 118.5 1139.5 120.6Z'/>
<path fill='url(#s72)' stroke='url(#s72)' d='M1139.5 120.6 1140.9 118.5 1142.2 116.5 1143.6 114.5 1145.0 112.5 1149.6 110.5 1148.2 112.5 1146.8 114.4 1145.5 116.4 1144.1 118.4Z'/>
<path fill='url(#s73)' stroke='url(#s73)' d='M1144.1 118.4 1145.5 116.4 1146.8 114.4 1148.2 112.5 1149.6 110.5 1154.2 108.6 1152.8 110.5 1151.4 112.4 1150.1 114.3 1148.7 116.2Z'/>
<path fill='url(#s74)' stroke='url(#s74)' d='M1148.7 116.2 1150.1 114.3 1151.4 112.4 1152.8 110.5 1154.2 108.6 1158.8 106.7 1157.4 108.5 1156.0 110.3 1154.7 112.1 1153.3 114.0Z'/>
<path fill='url(#s75)' stroke='url(#s75)' d='M1153.3 114.0 1154.7 112.1 1156.0 110.3 1157.4 108.5 1158.8 106.7 1163.4 104.7 1162.0 106.5 1160.6 108.2 1159.3 110.0 1157.9 111.8Z'/>
<path fill='url(#s76)' stroke='url(#s76)' d='M1157.9 111.8 1159.3 110.0 1160.6 108.2 1162.0 106.5 1163.4 104.7 1168.0 102.8 1166.6 104.5 1165.2 106.2 1163.9 107.9 1162.5 109.6Z'/>
<path fill='url(#s77)' stroke='url(#s77)' d='M1162.5 109.6 1163.9 107.9 1165.2 106.2 1166.6 104.5 1168.0 102.8 1172.6 100.8 1171.2 102.5 1169.8 104.1 1168.5 105.8 1167.1 107.4Z'/>
<path fill='url(#s78)' stroke='url(#s78)' d='M1167.1 107.4 1168.5 105.8 1169.8 104.1 1171.2 102.5 1172.6 100.8 1177.2 98.9 1175.8 100.5 1174.4 102.1 1173.1 103.6 1171.7 105.2Z'/>
<path fill='url(#s79)' stroke='url(#s79)' d='M1171.7 105.2 1173.1 103.6 1174.4 102.1 1175.8 100.5 1177.2 98.9 1181.8 97.0 1180.4 98.5 1179.0 100.0 1177.7 101.5 1176.3 103.0Z'/>
<path fill='url(#s56)' stroke='url(#s56)' d='M1060.4 170.4 1061.8 167.0 1063.2 163.6 1064.5 160.3 1065.9 157.0 1070.5 155.0 1069.1 158.2 1067.8 161.5 1066.4 164.8 1065.0 168.1Z'/>
<path fill='url(#s57)' stroke='url(#s57)' d='M1065.0 168.1 1066.4 164.8 1067.8 161.5 1069.1 158.2 1070.5 155.0 1075.1 152.9 1073.7 156.1 1072.4 159.3 1071.0 162.6 1069.6 165.9Z'/>
<path fill='url(#s58)' stroke='url(#s58)' d='M1069.6 165.9 1071.0 162.6 1072.4 159.3 1073.7 156.1 1075.1 152.9 1079.7 150.9 1078.3 154.0 1077.0 157.1 1075.6 160.3 1074.2 163.6Z'/>
<path fill='url(#s59)' stroke='url(#s59)' d='M1074.2 163.6 1075.6 160.3 1077.0 157.1 1078.3 154.0 1079.7 150.9 1084.3 148.8 1082.9 151.9 1081.6 155.0 1080.2 158.1 1078.8 161.3Z'/>
<path fill='url(#s60)' stroke='url(#s60)' d='M1078.8 161.3 1080.2 158.1 1081.6 155.0 1082.9 151.9 1084.3 148.8 1088.9 146.8 1087.5 149.8 1086.2 152.8 1084.8 155.9 1083.4 159.0Z'/>
<path fill='url(#s61)' stroke='url(#s61)' d='M1083.4 159.0 1084.8 155.9 1086.2 152.8 1087.5 149.8 1088.9 146.8 1093.5 144.7 1092.1 147.7 1090.8 150.6 1089.4 153.7 1088.0 156.7Z'/>
<path fill='url(#s62)' stroke='url(#s62)' d='M1088.0 156.7 1089.4 153.7 1090.8 150.6 1092.1 147.7 1093.5 144.7 1098.1 142.6 1096.7 145.5 1095.4 148.5 1094.0 151.5 1092.6 154.5Z'/>
<path fill='url(#s63)' stroke='url(#s63)' d='M1092.6 154.5 1094.0 151.5 1095.4 148.5 1096.7 145.5 1098.1 142.6 1102.7 140.6 1101.3 143.4 1100.0 146.3 1098.6 149.2 1097.2 152.2Z'/>
<path fill='url(#s64)' stroke='url(#s64)' d='M1097.2 152.2 1098.6 149.2 1100.0 146.3 1101.3 143.4 1102.7 140.6 1107.3 138.1 1105.9 140.8 1104.6 143.6 1103.2 146.4 1101.8 149.3Z'/>
<path fill='url(#s65)' stroke='url(#s65)' d='M1101.8 149.3 1103.2 146.4 1104.6 143.6 1105.9 140.8 1107.3 138.1 1111.9 135.6 1110.5 138.2 1109.2 140.9 1107.8 143.6 1106.4 146.4Z'/>
<path fill='url(#s66)' stroke='url(#s66)' d='M1106.4 146.4 1107.8 143.6 1109.2 140.9 1110.5 138.2 1111.9 135.6 1116.5 133.1 1115.1 135.6 1113.8 138.2 1112.4 140.8 1111.0 143.4Z'/>
<path fill='url(#s67)' stroke='url(#s67)' d='M1111.0 143.4 1112.4 140.8 1113.8 138.2 1115.1 135.6 1116.5 133.1 1121.1 130.6 1119.7 133.0 1118.4 135.5 1117.0 138.0 1115.6 140.5Z'/>
<path fill='url(#s68)' stroke='url(#s68)' d='M1115.6 140.5 1117.0 138.0 1118.4 135.5 1119.7 133.0 1121.1 130.6 1125.7 128.1 1124.3 130.4 1123.0 132.8 1121.6 135.2 1120.2 137.6Z'/>
<path fill='url(#s69)' stroke='url(#s69)' d='M1120.2 137.6 1121.6 135.2 1123.0 132.8 1124.3 130.4 1125.7 128.1 1130.3 125.6 1128.9 127.8 1127.6 130.1 1126.2 132.4 1124.8 134.7Z'/>
<path fill='url(#s70)' stroke='url(#s70)' d='M1124.8 134.7 1126.2 132.4 1127.6 130.1 1128.9 127.8 1130.3 125.6 1134.9 123.1 1133.5 125.2 1132.2 127.4 1130.8 129.6 1129.4 131.8Z'/>
<path fill='url(#s71)' stroke='url(#s71)' d='M1129.4 131.8 1130.8 129.6 1132.2 127.4 1133.5 125.2 1134.9 123.1 1139.5 120.6 1138.1 122.6 1136.8 124.7 1135.4 126.8 1134.0 128.9Z'/>
<path fill='url(#s72)' stroke='url(#s72)' d='M1134.0 128.9 1135.4 126.8 1136.8 124.7 1138.1 122.6 1139.5 120.6 1144.1 118.4 1142.7 120.4 1141.4 122.4 1140.0 124.4 1138.6 126.4Z'/>
<path fill='url(#s73)' stroke='url(#s73)' d='M1138.6 126.4 1140.0 124.4 1141.4 122.4 1142.7 120.4 1144.1 118.4 1148.7 116.2 1147.3 118.1 1146.0 120.0 1144.6 122.0 1143.2 124.0Z'/>
<path fill='url(#s74)' stroke='url(#s74)' d='M1143.2 124.0 1144.6 122.0 1146.0 120.0 1147.3 118.1 1148.7 116.2 1153.3 114.0 1151.9 115.8 1150.6 117.7 1149.2 119.6 1147.8 121.5Z'/>
<path fill='url(#s75)' stroke='url(#s75)' d='M1147.8 121.5 1149.2 119.6 1150.6 117.7 1151.9 115.8 1153.3 114.0 1157.9 111.8 1156.5 113.6 1155.2 115.4 1153.8 117.2 1152.4 119.0Z'/>
<path fill='url(#s76)' stroke='url(#s76)' d='M1152.4 119.0 1153.8 117.2 1155.2 115.4 1156.5 113.6 1157.9 111.8 1162.5 109.6 1161.1 111.3 1159.8 113.1 1158.4 114.8 1157.0 116.6Z'/>
<path fill='url(#s77)' stroke='url(#s77)' d='M1157.0 116.6 1158.4 114.8 1159.8 113.1 1161.1 111.3 1162.5 109.6 1167.1 107.4 1165.7 109.1 1164.4 110.7 1163.0 112.4 1161.6 114.1Z'/>
<path fill='url(#s78)' stroke='url(#s78)' d='M1161.6 114.1 1163.0 112.4 1164.4 110.7 1165.7 109.1 1167.1 107.4 1171.7 105.2 1170.3 106.8 1169.0 108.4 1167.6 110.0 1166.2 111.7Z'/>
<path fill='url(#s79)' stroke='url(#s79)' d='M1166.2 111.7 1167.6 110.0 1169.0 108.4 1170.3 106.8 1171.7 105.2 1176.3 103.0 1174.9 104.6 1173.6 106.1 1172.2 107.6 1170.8 109.2Z'/>
<path fill='url(#s56)' stroke='url(#s56)' d='M1054.9 184.5 1056.3 180.9 1057.7 177.4 1059.0 173.9 1060.4 170.4 1065.0 168.1 1063.6 171.5 1062.3 175.0 1060.9 178.4 1059.5 182.0Z'/>
<path fill='url(#s57)' stroke='url(#s57)' d='M1059.5 182.0 1060.9 178.4 1062.3 175.0 1063.6 171.5 1065.0 168.1 1069.6 165.9 1068.2 169.2 1066.9 172.6 1065.5 176.0 1064.1 179.5Z'/>
<path fill='url(#s58)' stroke='url(#s58)' d='M1064.1 179.5 1065.5 176.0 1066.9 172.6 1068.2 169.2 1069.6 165.9 1074.2 163.6 1072.8 166.9 1071.5 170.2 1070.1 173.5 1068.7 177.0Z'/>
<path fill='url(#s59)' stroke='url(#s59)' d='M1068.7 177.0 1070.1 173.5 1071.5 170.2 1072.8 166.9 1074.2 163.6 1078.8 161.3 1077.5 164.5 1076.1 167.8 1074.7 171.1 1073.3 174.4Z'/>
<path fill='url(#s60)' stroke='url(#s60)' d='M1073.3 174.4 1074.7 171.1 1076.1 167.8 1077.5 164.5 1078.8 161.3 1083.4 159.0 1082.1 162.2 1080.7 165.4 1079.3 168.6 1077.9 171.9Z'/>
<path fill='url(#s61)' stroke='url(#s61)' d='M1077.9 171.9 1079.3 168.6 1080.7 165.4 1082.1 162.2 1083.4 159.0 1088.0 156.7 1086.7 159.8 1085.3 163.0 1083.9 166.2 1082.5 169.4Z'/>
<path fill='url(#s62)' stroke='url(#s62)' d='M1082.5 169.4 1083.9 166.2 1085.3 163.0 1086.7 159.8 1088.0 156.7 1092.6 154.5 1091.2 157.5 1089.9 160.6 1088.5 163.7 1087.1 166.9Z'/>
<path fill='url(#s63)' stroke='url(#s63)' d='M1087.1 166.9 1088.5 163.7 1089.9 160.6 1091.2 157.5 1092.6 154.5 1097.2 152.2 1095.9 155.2 1094.5 158.2 1093.1 161.3 1091.7 164.4Z'/>
<path fill='url(#s64)' stroke='url(#s64)' d='M1091.7 164.4 1093.1 161.3 1094.5 158.2 1095.9 155.2 1097.2 152.2 1101.8 149.3 1100.5 152.1 1099.1 155.1 1097.7 158.0 1096.3 161.0Z'/>
<path fill='url(#s65)' stroke='url(#s65)' d='M1096.3 161.0 1097.7 158.0 1099.1 155.1 1100.5 152.1 1101.8 149.3 1106.4 146.4 1105.1 149.1 1103.7 151.9 1102.3 154.8 1100.9 157.7Z'/>
<path fill='url(#s66)' stroke='url(#s66)' d='M1100.9 157.7 1102.3 154.8 1103.7 151.9 1105.1 149.1 1106.4 146.4 1111.0 143.4 1109.7 146.1 1108.3 148.8 1106.9 151.5 1105.5 154.3Z'/>
<path fill='url(#s67)' stroke='url(#s67)' d='M1105.5 154.3 1106.9 151.5 1108.3 148.8 1109.7 146.1 1111.0 143.4 1115.6 140.5 1114.2 143.1 1112.9 145.7 1111.5 148.3 1110.1 150.9Z'/>
<path fill='url(#s68)' stroke='url(#s68)' d='M1110.1 150.9 1111.5 148.3 1112.9 145.7 1114.2 143.1 1115.6 140.5 1120.2 137.6 1118.8 140.1 1117.5 142.5 1116.1 145.1 1114.7 147.6Z'/>
<path fill='url(#s69)' stroke='url(#s69)' d='M1114.7 147.6 1116.1 145.1 1117.5 142.5 1118.8 140.1 1120.2 137.6 1124.8 134.7 1123.5 137.0 1122.1 139.4 1120.7 141.8 1119.3 144.2Z'/>
<path fill='url(#s70)' stroke='url(#s70)' d='M1119.3 144.2 1120.7 141.8 1122.1 139.4 1123.5 137.0 1124.8 134.7 1129.4 131.8 1128.1 134.0 1126.7 136.3 1125.3 138.6 1123.9 140.9Z'/>
<path fill='url(#s71)' stroke='url(#s71)' d='M1123.9 140.9 1125.3 138.6 1126.7 136.3 1128.1 134.0 1129.4 131.8 1134.0 128.9 1132.7 131.0 1131.3 133.1 1129.9 135.3 1128.5 137.5Z'/>
<path fill='url(#s72)' stroke='url(#s72)' d='M1128.5 137.5 1129.9 135.3 1131.3 133.1 1132.7 131.0 1134.0 128.9 1138.6 126.4 1137.3 128.5 1135.9 130.5 1134.5 132.6 1133.1 134.8Z'/>
<path fill='url(#s73)' stroke='url(#s73)' d='M1133.1 134.8 1134.5 132.6 1135.9 130.5 1137.3 128.5 1138.6 126.4 1143.2 124.0 1141.9 125.9 1140.5 127.9 1139.1 130.0 1137.7 132.0Z'/>
<path fill='url(#s74)' stroke='url(#s74)' d='M1137.7 132.0 1139.1 130.0 1140.5 127.9 1141.9 125.9 1143.2 124.0 1147.8 121.5 1146.5 123.4 1145.1 125.3 1143.7 127.3 1142.3 129.2Z'/>
<path fill='url(#s75)' stroke='url(#s75)' d='M1142.3 129.2 1143.7 127.3 1145.1 125.3 1146.5 123.4 1147.8 121.5 1152.4 119.0 1151.1 120.9 1149.7 122.7 1148.3 124.6 1146.9 126.5Z'/>
<path fill='url(#s76)' stroke='url(#s76)' d='M1146.9 126.5 1148.3 124.6 1149.7 122.7 1151.1 120.9 1152.4 119.0 1157.0 116.6 1155.7 118.3 1154.3 120.1 1152.9 121.9 1151.5 123.7Z'/>
<path fill='url(#s77)' stroke='url(#s77)' d='M1151.5 123.7 1152.9 121.9 1154.3 120.1 1155.7 118.3 1157.0 116.6 1161.6 114.1 1160.2 115.8 1158.9 117.5 1157.5 119.2 1156.1 121.0Z'/>
<path fill='url(#s78)' stroke='url(#s78)' d='M1156.1 121.0 1157.5 119.2 1158.9 117.5 1160.2 115.8 1161.6 114.1 1166.2 111.7 1164.9 113.3 1163.5 114.9 1162.1 116.5 1160.7 118.2Z'/>
<path fill='url(#s79)' stroke='url(#s79)' d='M1160.7 118.2 1162.1 116.5 1163.5 114.9 1164.9 113.3 1166.2 111.7 1170.8 109.2 1169.5 110.7 1168.1 112.3 1166.7 113.9 1165.3 115.4Z'/>
<path fill='url(#s56)' stroke='url(#s56)' d='M1049.5 199.5 1050.8 195.6 1052.2 191.9 1053.6 188.2 1054.9 184.5 1059.5 182.0 1058.2 185.6 1056.8 189.2 1055.4 192.9 1054.1 196.7Z'/>
<path fill='url(#s57)' stroke='url(#s57)' d='M1054.1 196.7 1055.4 192.9 1056.8 189.2 1058.2 185.6 1059.5 182.0 1064.1 179.5 1062.8 183.0 1061.4 186.6 1060.0 190.2 1058.7 193.9Z'/>
<path fill='url(#s58)' stroke='url(#s58)' d='M1058.7 193.9 1060.0 190.2 1061.4 186.6 1062.8 183.0 1064.1 179.5 1068.7 177.0 1067.4 180.4 1066.0 183.9 1064.6 187.5 1063.3 191.2Z'/>
<path fill='url(#s59)' stroke='url(#s59)' d='M1063.3 191.2 1064.6 187.5 1066.0 183.9 1067.4 180.4 1068.7 177.0 1073.3 174.4 1072.0 177.8 1070.6 181.3 1069.2 184.8 1067.9 188.4Z'/>
<path fill='url(#s60)' stroke='url(#s60)' d='M1067.9 188.4 1069.2 184.8 1070.6 181.3 1072.0 177.8 1073.3 174.4 1077.9 171.9 1076.6 175.3 1075.2 178.7 1073.8 182.1 1072.5 185.6Z'/>
<path fill='url(#s61)' stroke='url(#s61)' d='M1072.5 185.6 1073.8 182.1 1075.2 178.7 1076.6 175.3 1077.9 171.9 1082.5 169.4 1081.2 172.7 1079.8 176.0 1078.4 179.4 1077.1 182.9Z'/>
<path fill='url(#s62)' stroke='url(#s62)' d='M1077.1 182.9 1078.4 179.4 1079.8 176.0 1081.2 172.7 1082.5 169.4 1087.1 166.9 1085.8 170.1 1084.4 173.4 1083.0 176.7 1081.7 180.1Z'/>
<path fill='url(#s63)' stroke='url(#s63)' d='M1081.7 180.1 1083.0 176.7 1084.4 173.4 1085.8 170.1 1087.1 166.9 1091.7 164.4 1090.4 167.5 1089.0 170.8 1087.6 174.0 1086.3 177.3Z'/>
<path fill='url(#s64)' stroke='url(#s64)' d='M1086.3 177.3 1087.6 174.0 1089.0 170.8 1090.4 167.5 1091.7 164.4 1096.3 161.0 1095.0 164.1 1093.6 167.2 1092.2 170.3 1090.9 173.5Z'/>
<path fill='url(#s65)' stroke='url(#s65)' d='M1090.9 173.5 1092.2 170.3 1093.6 167.2 1095.0 164.1 1096.3 161.0 1100.9 157.7 1099.6 160.6 1098.2 163.6 1096.8 166.6 1095.5 169.6Z'/>
<path fill='url(#s66)' stroke='url(#s66)' d='M1095.5 169.6 1096.8 166.6 1098.2 163.6 1099.6 160.6 1100.9 157.7 1105.5 154.3 1104.2 157.1 1102.8 160.0 1101.4 162.9 1100.1 165.8Z'/>
<path fill='url(#s67)' stroke='url(#s67)' d='M1100.1 165.8 1101.4 162.9 1102.8 160.0 1104.2 157.1 1105.5 154.3 1110.1 150.9 1108.8 153.6 1107.4 156.4 1106.0 159.1 1104.7 162.0Z'/>
<path fill='url(#s68)' stroke='url(#s68)' d='M1104.7 162.0 1106.0 159.1 1107.4 156.4 1108.8 153.6 1110.1 150.9 1114.7 147.6 1113.4 150.2 1112.0 152.8 1110.6 155.4 1109.3 158.1Z'/>
<path fill='url(#s69)' stroke='url(#s69)' d='M1109.3 158.1 1110.6 155.4 1112.0 152.8 1113.4 150.2 1114.7 147.6 1119.3 144.2 1118.0 146.7 1116.6 149.2 1115.2 151.7 1113.9 154.3Z'/>
<path fill='url(#s70)' stroke='url(#s70)' d='M1113.9 154.3 1115.2 151.7 1116.6 149.2 1118.0 146.7 1119.3 144.2 1123.9 140.9 1122.6 143.2 1121.2 145.6 1119.8 148.0 1118.5 150.4Z'/>
<path fill='url(#s71)' stroke='url(#s71)' d='M1118.5 150.4 1119.8 148.0 1121.2 145.6 1122.6 143.2 1123.9 140.9 1128.5 137.5 1127.2 139.7 1125.8 142.0 1124.4 144.3 1123.1 146.6Z'/>
<path fill='url(#s72)' stroke='url(#s72)' d='M1123.1 146.6 1124.4 144.3 1125.8 142.0 1127.2 139.7 1128.5 137.5 1133.1 134.8 1131.8 136.9 1130.4 139.1 1129.0 141.2 1127.7 143.5Z'/>
<path fill='url(#s73)' stroke='url(#s73)' d='M1127.7 143.5 1129.0 141.2 1130.4 139.1 1131.8 136.9 1133.1 134.8 1137.7 132.0 1136.4 134.1 1135.0 136.1 1133.6 138.2 1132.3 140.4Z'/>
<path fill='url(#s74)' stroke='url(#s74)' d='M1132.3 140.4 1133.6 138.2 1135.0 136.1 1136.4 134.1 1137.7 132.0 1142.3 129.2 1141.0 131.2 1139.6 133.2 1138.2 135.2 1136.9 137.3Z'/>
<path fill='url(#s75)' stroke='url(#s75)' d='M1136.9 137.3 1138.2 135.2 1139.6 133.2 1141.0 131.2 1142.3 129.2 1146.9 126.5 1145.6 128.4 1144.2 130.3 1142.8 132.2 1141.5 134.2Z'/>
<path fill='url(#s76)' stroke='url(#s76)' d='M1141.5 134.2 1142.8 132.2 1144.2 130.3 1145.6 128.4 1146.9 126.5 1151.5 123.7 1150.2 125.5 1148.8 127.4 1147.4 129.2 1146.1 131.1Z'/>
<path fill='url(#s77)' stroke='url(#s77)' d='M1146.1 131.1 1147.4 129.2 1148.8 127.4 1150.2 125.5 1151.5 123.7 1156.1 121.0 1154.8 122.7 1153.4 124.5 1152.0 126.2 1150.7 128.0Z'/>
<path fill='url(#s78)' stroke='url(#s78)' d='M1150.7 128.0 1152.0 126.2 1153.4 124.5 1154.8 122.7 1156.1 121.0 1160.7 118.2 1159.4 119.9 1158.0 121.5 1156.6 123.2 1155.3 124.9Z'/>
<path fill='url(#s79)' stroke='url(#s79)' d='M1155.3 124.9 1156.6 123.2 1158.0 121.5 1159.4 119.9 1160.7 118.2 1165.3 115.4 1164.0 117.0 1162.6 118.6 1161.2 120.2 1159.9 121.8Z'/>
<path fill='url(#s56)' stroke='url(#s56)' d='M1044.0 215.6 1045.3 211.4 1046.7 207.4 1048.1 203.4 1049.5 199.5 1054.1 196.7 1052.7 200.6 1051.3 204.5 1049.9 208.5 1048.6 212.6Z'/>
<path fill='url(#s57)' stroke='url(#s57)' d='M1048.6 212.6 1049.9 208.5 1051.3 204.5 1052.7 200.6 1054.1 196.7 1058.7 193.9 1057.3 197.7 1055.9 201.6 1054.5 205.5 1053.2 209.5Z'/>
<path fill='url(#s58)' stroke='url(#s58)' d='M1053.2 209.5 1054.5 205.5 1055.9 201.6 1057.3 197.7 1058.7 193.9 1063.3 191.2 1061.9 194.9 1060.5 198.7 1059.2 202.5 1057.8 206.5Z'/>
<path fill='url(#s59)' stroke='url(#s59)' d='M1057.8 206.5 1059.2 202.5 1060.5 198.7 1061.9 194.9 1063.3 191.2 1067.9 188.4 1066.5 192.1 1065.1 195.8 1063.8 199.6 1062.4 203.4Z'/>
<path fill='url(#s60)' stroke='url(#s60)' d='M1062.4 203.4 1063.8 199.6 1065.1 195.8 1066.5 192.1 1067.9 188.4 1072.5 185.6 1071.1 189.2 1069.7 192.9 1068.3 196.6 1067.0 200.4Z'/>
<path fill='url(#s61)' stroke='url(#s61)' d='M1067.0 200.4 1068.3 196.6 1069.7 192.9 1071.1 189.2 1072.5 185.6 1077.1 182.9 1075.7 186.4 1074.3 190.0 1073.0 193.6 1071.6 197.4Z'/>
<path fill='url(#s62)' stroke='url(#s62)' d='M1071.6 197.4 1073.0 193.6 1074.3 190.0 1075.7 186.4 1077.1 182.9 1081.7 180.1 1080.3 183.6 1078.9 187.1 1077.6 190.7 1076.2 194.3Z'/>
<path fill='url(#s63)' stroke='url(#s63)' d='M1076.2 194.3 1077.6 190.7 1078.9 187.1 1080.3 183.6 1081.7 180.1 1086.3 177.3 1084.9 180.7 1083.5 184.2 1082.2 187.7 1080.8 191.3Z'/>
<path fill='url(#s64)' stroke='url(#s64)' d='M1080.8 191.3 1082.2 187.7 1083.5 184.2 1084.9 180.7 1086.3 177.3 1090.9 173.5 1089.5 176.7 1088.1 180.1 1086.8 183.4 1085.4 186.9Z'/>
<path fill='url(#s65)' stroke='url(#s65)' d='M1085.4 186.9 1086.8 183.4 1088.1 180.1 1089.5 176.7 1090.9 173.5 1095.5 169.6 1094.1 172.8 1092.7 175.9 1091.4 179.2 1090.0 182.5Z'/>
<path fill='url(#s66)' stroke='url(#s66)' d='M1090.0 182.5 1091.4 179.2 1092.7 175.9 1094.1 172.8 1095.5 169.6 1100.1 165.8 1098.7 168.8 1097.3 171.8 1096.0 174.9 1094.6 178.1Z'/>
<path fill='url(#s67)' stroke='url(#s67)' d='M1094.6 178.1 1096.0 174.9 1097.3 171.8 1098.7 168.8 1100.1 165.8 1104.7 162.0 1103.3 164.8 1101.9 167.7 1100.6 170.7 1099.2 173.7Z'/>
<path fill='url(#s68)' stroke='url(#s68)' d='M1099.2 173.7 1100.6 170.7 1101.9 167.7 1103.3 164.8 1104.7 162.0 1109.3 158.1 1107.9 160.8 1106.5 163.6 1105.2 166.4 1103.8 169.3Z'/>
<path fill='url(#s69)' stroke='url(#s69)' d='M1103.8 169.3 1105.2 166.4 1106.5 163.6 1107.9 160.8 1109.3 158.1 1113.9 154.3 1112.5 156.9 1111.1 159.5 1109.8 162.2 1108.4 164.9Z'/>
<path fill='url(#s70)' stroke='url(#s70)' d='M1108.4 164.9 1109.8 162.2 1111.1 159.5 1112.5 156.9 1113.9 154.3 1118.5 150.4 1117.1 152.9 1115.7 155.4 1114.4 157.9 1113.0 160.5Z'/>
<path fill='url(#s71)' stroke='url(#s71)' d='M1113.0 160.5 1114.4 157.9 1115.7 155.4 1117.1 152.9 1118.5 150.4 1123.1 146.6 1121.7 148.9 1120.3 151.3 1119.0 153.7 1117.6 156.1Z'/>
<path fill='url(#s72)' stroke='url(#s72)' d='M1117.6 156.1 1119.0 153.7 1120.3 151.3 1121.7 148.9 1123.1 146.6 1127.7 143.5 1126.3 145.7 1124.9 148.0 1123.6 150.3 1122.2 152.7Z'/>
<path fill='url(#s73)' stroke='url(#s73)' d='M1122.2 152.7 1123.6 150.3 1124.9 148.0 1126.3 145.7 1127.7 143.5 1132.3 140.4 1130.9 142.5 1129.5 144.7 1128.2 146.9 1126.8 149.2Z'/>
<path fill='url(#s74)' stroke='url(#s74)' d='M1126.8 149.2 1128.2 146.9 1129.5 144.7 1130.9 142.5 1132.3 140.4 1136.9 137.3 1135.5 139.3 1134.1 141.4 1132.8 143.6 1131.4 145.7Z'/>
<path fill='url(#s75)' stroke='url(#s75)' d='M1131.4 145.7 1132.8 143.6 1134.1 141.4 1135.5 139.3 1136.9 137.3 1141.5 134.2 1140.1 136.2 1138.7 138.2 1137.3 140.2 1136.0 142.2Z'/>
<path fill='url(#s76)' stroke='url(#s76)' d='M1136.0 142.2 1137.3 140.2 1138.7 138.2 1140.1 136.2 1141.5 134.2 1146.1 131.1 1144.7 133.0 1143.3 134.9 1142.0 136.8 1140.6 138.8Z'/>
<path fill='url(#s77)' stroke='url(#s77)' d='M1140.6 138.8 1142.0 136.8 1143.3 134.9 1144.7 133.0 1146.1 131.1 1150.7 128.0 1149.3 129.8 1147.9 131.6 1146.5 133.4 1145.2 135.3Z'/>
<path fill='url(#s78)' stroke='url(#s78)' d='M1145.2 135.3 1146.5 133.4 1147.9 131.6 1149.3 129.8 1150.7 128.0 1155.3 124.9 1153.9 126.6 1152.5 128.3 1151.2 130.1 1149.8 131.8Z'/>
<path fill='url(#s79)' stroke='url(#s79)' d='M1149.8 131.8 1151.2 130.1 1152.5 128.3 1153.9 126.6 1155.3 124.9 1159.9 121.8 1158.5 123.4 1157.1 125.1 1155.8 126.7 1154.4 128.3Z'/>
<path fill='url(#s56)' stroke='url(#s56)' d='M1038.5 233.3 1039.9 228.7 1041.2 224.2 1042.6 219.8 1044.0 215.6 1048.6 212.6 1047.2 216.7 1045.8 221.0 1044.5 225.4 1043.1 229.9Z'/>
<path fill='url(#s57)' stroke='url(#s57)' d='M1043.1 229.9 1044.5 225.4 1045.8 221.0 1047.2 216.7 1048.6 212.6 1053.2 209.5 1051.8 213.6 1050.4 217.8 1049.1 222.1 1047.7 226.6Z'/>
<path fill='url(#s58)' stroke='url(#s58)' d='M1047.7 226.6 1049.1 222.1 1050.4 217.8 1051.8 213.6 1053.2 209.5 1057.8 206.5 1056.4 210.5 1055.0 214.7 1053.7 218.9 1052.3 223.2Z'/>
<path fill='url(#s59)' stroke='url(#s59)' d='M1052.3 223.2 1053.7 218.9 1055.0 214.7 1056.4 210.5 1057.8 206.5 1062.4 203.4 1061.0 207.4 1059.6 211.5 1058.3 215.6 1056.9 219.9Z'/>
<path fill='url(#s60)' stroke='url(#s60)' d='M1056.9 219.9 1058.3 215.6 1059.6 211.5 1061.0 207.4 1062.4 203.4 1067.0 200.4 1065.6 204.3 1064.2 208.3 1062.9 212.4 1061.5 216.6Z'/>
<path fill='url(#s61)' stroke='url(#s61)' d='M1061.5 216.6 1062.9 212.4 1064.2 208.3 1065.6 204.3 1067.0 200.4 1071.6 197.4 1070.2 201.2 1068.8 205.1 1067.5 209.1 1066.1 213.2Z'/>
<path fill='url(#s62)' stroke='url(#s62)' d='M1066.1 213.2 1067.5 209.1 1068.8 205.1 1070.2 201.2 1071.6 197.4 1076.2 194.3 1074.8 198.1 1073.4 201.9 1072.1 205.9 1070.7 209.9Z'/>
<path fill='url(#s63)' stroke='url(#s63)' d='M1070.7 209.9 1072.1 205.9 1073.4 201.9 1074.8 198.1 1076.2 194.3 1080.8 191.3 1079.4 195.0 1078.0 198.7 1076.7 202.6 1075.3 206.6Z'/>
<path fill='url(#s64)' stroke='url(#s64)' d='M1075.3 206.6 1076.7 202.6 1078.0 198.7 1079.4 195.0 1080.8 191.3 1085.4 186.9 1084.0 190.4 1082.6 194.0 1081.3 197.7 1079.9 201.5Z'/>
<path fill='url(#s65)' stroke='url(#s65)' d='M1079.9 201.5 1081.3 197.7 1082.6 194.0 1084.0 190.4 1085.4 186.9 1090.0 182.5 1088.6 185.9 1087.2 189.3 1085.9 192.9 1084.5 196.5Z'/>
<path fill='url(#s66)' stroke='url(#s66)' d='M1084.5 196.5 1085.9 192.9 1087.2 189.3 1088.6 185.9 1090.0 182.5 1094.6 178.1 1093.2 181.3 1091.8 184.6 1090.5 188.0 1089.1 191.5Z'/>
<path fill='url(#s67)' stroke='url(#s67)' d='M1089.1 191.5 1090.5 188.0 1091.8 184.6 1093.2 181.3 1094.6 178.1 1099.2 173.7 1097.8 176.8 1096.4 180.0 1095.1 183.2 1093.7 186.5Z'/>
<path fill='url(#s68)' stroke='url(#s68)' d='M1093.7 186.5 1095.1 183.2 1096.4 180.0 1097.8 176.8 1099.2 173.7 1103.8 169.3 1102.4 172.3 1101.0 175.3 1099.7 178.3 1098.3 181.5Z'/>
<path fill='url(#s69)' stroke='url(#s69)' d='M1098.3 181.5 1099.7 178.3 1101.0 175.3 1102.4 172.3 1103.8 169.3 1108.4 164.9 1107.0 167.7 1105.6 170.6 1104.3 173.5 1102.9 176.5Z'/>
<path fill='url(#s70)' stroke='url(#s70)' d='M1102.9 176.5 1104.3 173.5 1105.6 170.6 1107.0 167.7 1108.4 164.9 1113.0 160.5 1111.6 163.2 1110.2 165.9 1108.9 168.6 1107.5 171.4Z'/>
<path fill='url(#s71)' stroke='url(#s71)' d='M1107.5 171.4 1108.9 168.6 1110.2 165.9 1111.6 163.2 1113.0 160.5 1117.6 156.1 1116.2 158.6 1114.8 161.2 1113.5 163.8 1112.1 166.4Z'/>
<path fill='url(#s72)' stroke='url(#s72)' d='M1112.1 166.4 1113.5 163.8 1114.8 161.2 1116.2 158.6 1117.6 156.1 1122.2 152.7 1120.8 155.0 1119.4 157.5 1118.1 160.0 1116.7 162.5Z'/>
<path fill='url(#s73)' stroke='url(#s73)' d='M1116.7 162.5 1118.1 160.0 1119.4 157.5 1120.8 155.0 1122.2 152.7 1126.8 149.2 1125.4 151.5 1124.0 153.8 1122.7 156.2 1121.3 158.6Z'/>
<path fill='url(#s74)' stroke='url(#s74)' d='M1121.3 158.6 1122.7 156.2 1124.0 153.8 1125.4 151.5 1126.8 149.2 1131.4 145.7 1130.0 147.9 1128.6 150.1 1127.3 152.4 1125.9 154.7Z'/>
<path fill='url(#s75)' stroke='url(#s75)' d='M1125.9 154.7 1127.3 152.4 1128.6 150.1 1130.0 147.9 1131.4 145.7 1136.0 142.2 1134.6 144.3 1133.2 146.4 1131.9 148.6 1130.5 150.8Z'/>
<path fill='url(#s76)' stroke='url(#s76)' d='M1130.5 150.8 1131.9 148.6 1133.2 146.4 1134.6 144.3 1136.0 142.2 1140.6 138.8 1139.2 140.7 1137.8 142.7 1136.5 144.8 1135.1 146.8Z'/>
<path fill='url(#s77)' stroke='url(#s77)' d='M1135.1 146.8 1136.5 144.8 1137.8 142.7 1139.2 140.7 1140.6 138.8 1145.2 135.3 1143.8 137.2 1142.4 139.1 1141.1 141.0 1139.7 142.9Z'/>
<path fill='url(#s78)' stroke='url(#s78)' d='M1139.7 142.9 1141.1 141.0 1142.4 139.1 1143.8 137.2 1145.2 135.3 1149.8 131.8 1148.4 133.6 1147.0 135.4 1145.7 137.2 1144.3 139.0Z'/>
<path fill='url(#s79)' stroke='url(#s79)' d='M1144.3 139.0 1145.7 137.2 1147.0 135.4 1148.4 133.6 1149.8 131.8 1154.4 128.3 1153.0 130.0 1151.6 131.7 1150.3 133.4 1148.9 135.1Z'/>
<path fill='url(#c56_16)' stroke='url(#c56_16)' d='M1033.0 253.1 1034.4 247.9 1035.8 242.8 1037.1 238.0 1038.5 233.3 1043.1 229.9 1041.7 234.6 1040.4 239.3 1039.0 244.3 1037.6 249.4Z'/>
<path fill='url(#c57_16)' stroke='url(#c57_16)' d='M1037.6 249.4 1039.0 244.3 1040.4 239.3 1041.7 234.6 1043.1 229.9 1047.7 226.6 1046.3 231.1 1045.0 235.8 1043.6 240.7 1042.2 245.7Z'/>
<path fill='url(#c58_16)' stroke='url(#c58_16)' d='M1042.2 245.7 1043.6 240.7 1045.0 235.8 1046.3 231.1 1047.7 226.6 1052.3 223.2 1050.9 227.7 1049.6 232.3 1048.2 237.1 1046.8 242.1Z'/>
<path fill='url(#c59_16)' stroke='url(#c59_16)' d='M1046.8 242.1 1048.2 237.1 1049.6 232.3 1050.9 227.7 1052.3 223.2 1056.9 219.9 1055.5 224.3 1054.2 228.9 1052.8 233.5 1051.4 238.4Z'/>
<path fill='url(#c60_16)' stroke='url(#c60_16)' d='M1051.4 238.4 1052.8 233.5 1054.2 228.9 1055.5 224.3 1056.9 219.9 1061.5 216.6 1060.1 220.9 1058.8 225.4 1057.4 230.0 1056.0 234.7Z'/>
<path fill='url(#c61_16)' stroke='url(#c61_16)' d='M1056.0 234.7 1057.4 230.0 1058.8 225.4 1060.1 220.9 1061.5 216.6 1066.1 213.2 1064.7 217.5 1063.4 221.9 1062.0 226.4 1060.6 231.1Z'/>
<path fill='url(#c62_16)' stroke='url(#c62_16)' d='M1060.6 231.1 1062.0 226.4 1063.4 221.9 1064.7 217.5 1066.1 213.2 1070.7 209.9 1069.3 214.1 1068.0 218.4 1066.6 222.8 1065.2 227.4Z'/>
<path fill='url(#c63_16)' stroke='url(#c63_16)' d='M1065.2 227.4 1066.6 222.8 1068.0 218.4 1069.3 214.1 1070.7 209.9 1075.3 206.6 1073.9 210.7 1072.6 214.9 1071.2 219.2 1069.8 223.8Z'/>
<path fill='url(#s64)' stroke='url(#s64)' d='M1069.8 223.8 1071.2 219.2 1072.6 214.9 1073.9 210.7 1075.3 206.6 1079.9 201.5 1078.5 205.5 1077.2 209.5 1075.8 213.7 1074.4 218.0Z'/>
<path fill='url(#s65)' stroke='url(#s65)' d='M1074.4 218.0 1075.8 213.7 1077.2 209.5 1078.5 205.5 1079.9 201.5 1084.5 196.5 1083.1 200.3 1081.8 204.1 1080.4 208.1 1079.0 212.3Z'/>
<path fill='url(#s66)' stroke='url(#s66)' d='M1079.0 212.3 1080.4 208.1 1081.8 204.1 1083.1 200.3 1084.5 196.5 1089.1 191.5 1087.7 195.1 1086.4 198.8 1085.0 202.6 1083.6 206.5Z'/>
<path fill='url(#s67)' stroke='url(#s67)' d='M1083.6 206.5 1085.0 202.6 1086.4 198.8 1087.7 195.1 1089.1 191.5 1093.7 186.5 1092.3 189.9 1091.0 193.4 1089.6 197.0 1088.2 200.8Z'/>
<path fill='url(#s68)' stroke='url(#s68)' d='M1088.2 200.8 1089.6 197.0 1091.0 193.4 1092.3 189.9 1093.7 186.5 1098.3 181.5 1096.9 184.7 1095.6 188.0 1094.2 191.5 1092.8 195.0Z'/>
<path fill='url(#s69)' stroke='url(#s69)' d='M1092.8 195.0 1094.2 191.5 1095.6 188.0 1096.9 184.7 1098.3 181.5 1102.9 176.5 1101.5 179.5 1100.2 182.7 1098.8 185.9 1097.4 189.3Z'/>
<path fill='url(#s70)' stroke='url(#s70)' d='M1097.4 189.3 1098.8 185.9 1100.2 182.7 1101.5 179.5 1102.9 176.5 1107.5 171.4 1106.1 174.3 1104.8 177.3 1103.4 180.4 1102.0 183.5Z'/>
<path fill='url(#s71)' stroke='url(#s71)' d='M1102.0 183.5 1103.4 180.4 1104.8 177.3 1106.1 174.3 1107.5 171.4 1112.1 166.4 1110.7 169.1 1109.4 171.9 1108.0 174.8 1106.6 177.8Z'/>
<path fill='url(#s72)' stroke='url(#s72)' d='M1106.6 177.8 1108.0 174.8 1109.4 171.9 1110.7 169.1 1112.1 166.4 1116.7 162.5 1115.3 165.1 1114.0 167.8 1112.6 170.5 1111.2 173.3Z'/>
<path fill='url(#s73)' stroke='url(#s73)' d='M1111.2 173.3 1112.6 170.5 1114.0 167.8 1115.3 165.1 1116.7 162.5 1121.3 158.6 1119.9 161.1 1118.6 163.6 1117.2 166.2 1115.8 168.9Z'/>
<path fill='url(#s74)' stroke='url(#s74)' d='M1115.8 168.9 1117.2 166.2 1118.6 163.6 1119.9 161.1 1121.3 158.6 1125.9 154.7 1124.5 157.0 1123.2 159.4 1121.8 161.9 1120.4 164.4Z'/>
<path fill='url(#s75)' stroke='url(#s75)' d='M1120.4 164.4 1121.8 161.9 1123.2 159.4 1124.5 157.0 1125.9 154.7 1130.5 150.8 1129.1 153.0 1127.8 155.3 1126.4 157.6 1125.0 160.0Z'/>
<path fill='url(#s76)' stroke='url(#s76)' d='M1125.0 160.0 1126.4 157.6 1127.8 155.3 1129.1 153.0 1130.5 150.8 1135.1 146.8 1133.7 149.0 1132.4 151.1 1131.0 153.3 1129.6 155.5Z'/>
<path fill='url(#s77)' stroke='url(#s77)' d='M1129.6 155.5 1131.0 153.3 1132.4 151.1 1133.7 149.0 1135.1 146.8 1139.7 142.9 1138.3 144.9 1137.0 146.9 1135.6 149.0 1134.2 151.1Z'/>
<path fill='url(#s78)' stroke='url(#s78)' d='M1134.2 151.1 1135.6 149.0 1137.0 146.9 1138.3 144.9 1139.7 142.9 1144.3 139.0 1142.9 140.9 1141.6 142.8 1140.2 144.7 1138.8 146.6Z'/>
<path fill='url(#s79)' stroke='url(#s79)' d='M1138.8 146.6 1140.2 144.7 1141.6 142.8 1142.9 140.9 1144.3 139.0 1148.9 135.1 1147.5 136.8 1146.2 138.6 1144.8 140.4 1143.4 142.2Z'/>
<path fill='url(#c56_12)' stroke='url(#c56_12)' d='M1027.5 276.3 1028.9 270.1 1030.3 264.1 1031.7 258.5 1033.0 253.1 1037.6 249.4 1036.3 254.7 1034.9 260.3 1033.5 266.1 1032.1 272.3Z'/>
<path fill='url(#c57_12)' stroke='url(#c57_12)' d='M1032.1 272.3 1033.5 266.1 1034.9 260.3 1036.3 254.7 1037.6 249.4 1042.2 245.7 1040.9 251.0 1039.5 256.5 1038.1 262.2 1036.7 268.2Z'/>
<path fill='url(#c58_12)' stroke='url(#c58_12)' d='M1036.7 268.2 1038.1 262.2 1039.5 256.5 1040.9 251.0 1042.2 245.7 1046.8 242.1 1045.5 247.2 1044.1 252.6 1042.7 258.2 1041.3 264.2Z'/>
<path fill='url(#c59_12)' stroke='url(#c59_12)' d='M1041.3 264.2 1042.7 258.2 1044.1 252.6 1045.5 247.2 1046.8 242.1 1051.4 238.4 1050.1 243.5 1048.7 248.8 1047.3 254.3 1045.9 260.1Z'/>
<path fill='url(#c60_12)' stroke='url(#c60_12)' d='M1045.9 260.1 1047.3 254.3 1048.7 248.8 1050.1 243.5 1051.4 238.4 1056.0 234.7 1054.7 239.7 1053.3 244.9 1051.9 250.4 1050.5 256.1Z'/>
<path fill='url(#c61_12)' stroke='url(#c61_12)' d='M1050.5 256.1 1051.9 250.4 1053.3 244.9 1054.7 239.7 1056.0 234.7 1060.6 231.1 1059.2 236.0 1057.9 241.1 1056.5 246.4 1055.1 252.1Z'/>
<path fill='url(#c62_12)' stroke='url(#c62_12)' d='M1055.1 252.1 1056.5 246.4 1057.9 241.1 1059.2 236.0 1060.6 231.1 1065.2 227.4 1063.9 232.2 1062.5 237.2 1061.1 242.5 1059.7 248.0Z'/>
<path fill='url(#c63_12)' stroke='url(#c63_12)' d='M1059.7 248.0 1061.1 242.5 1062.5 237.2 1063.9 232.2 1065.2 227.4 1069.8 223.8 1068.5 228.5 1067.1 233.4 1065.7 238.5 1064.3 244.0Z'/>
<path fill='url(#c64_12)' stroke='url(#c64_12)' d='M1064.3 244.0 1065.7 238.5 1067.1 233.4 1068.5 228.5 1069.8 223.8 1074.4 218.0 1073.1 222.5 1071.7 227.2 1070.3 232.1 1068.9 237.3Z'/>
<path fill='url(#c65_12)' stroke='url(#c65_12)' d='M1068.9 237.3 1070.3 232.1 1071.7 227.2 1073.1 222.5 1074.4 218.0 1079.0 212.3 1077.7 216.6 1076.3 221.0 1074.9 225.7 1073.5 230.7Z'/>
<path fill='url(#c66_12)' stroke='url(#c66_12)' d='M1073.5 230.7 1074.9 225.7 1076.3 221.0 1077.7 216.6 1079.0 212.3 1083.6 206.5 1082.2 210.6 1080.9 214.9 1079.5 219.3 1078.1 224.0Z'/>
<path fill='url(#c67_12)' stroke='url(#c67_12)' d='M1078.1 224.0 1079.5 219.3 1080.9 214.9 1082.2 210.6 1083.6 206.5 1088.2 200.8 1086.8 204.6 1085.5 208.7 1084.1 212.9 1082.7 217.4Z'/>
<path fill='url(#c68_12)' stroke='url(#c68_12)' d='M1082.7 217.4 1084.1 212.9 1085.5 208.7 1086.8 204.6 1088.2 200.8 1092.8 195.0 1091.5 198.7 1090.1 202.5 1088.7 206.5 1087.3 210.7Z'/>
<path fill='url(#c69_12)' stroke='url(#c69_12)' d='M1087.3 210.7 1088.7 206.5 1090.1 202.5 1091.5 198.7 1092.8 195.0 1097.4 189.3 1096.0 192.7 1094.7 196.4 1093.3 200.1 1091.9 204.1Z'/>
<path fill='url(#c70_12)' stroke='url(#c70_12)' d='M1091.9 204.1 1093.3 200.1 1094.7 196.4 1096.0 192.7 1097.4 189.3 1102.0 183.5 1100.7 186.8 1099.3 190.2 1097.9 193.7 1096.5 197.5Z'/>
<path fill='url(#c71_12)' stroke='url(#c71_12)' d='M1096.5 197.5 1097.9 193.7 1099.3 190.2 1100.7 186.8 1102.0 183.5 1106.6 177.8 1105.2 180.8 1103.9 184.0 1102.5 187.3 1101.1 190.8Z'/>
<path fill='url(#s72)' stroke='url(#s72)' d='M1101.1 190.8 1102.5 187.3 1103.9 184.0 1105.2 180.8 1106.6 177.8 1111.2 173.3 1109.8 176.2 1108.5 179.3 1107.1 182.4 1105.7 185.7Z'/>
<path fill='url(#s73)' stroke='url(#s73)' d='M1105.7 185.7 1107.1 182.4 1108.5 179.3 1109.8 176.2 1111.2 173.3 1115.8 168.9 1114.5 171.6 1113.1 174.5 1111.7 177.5 1110.3 180.6Z'/>
<path fill='url(#s74)' stroke='url(#s74)' d='M1110.3 180.6 1111.7 177.5 1113.1 174.5 1114.5 171.6 1115.8 168.9 1120.4 164.4 1119.0 167.0 1117.7 169.7 1116.3 172.5 1114.9 175.4Z'/>
<path fill='url(#s75)' stroke='url(#s75)' d='M1114.9 175.4 1116.3 172.5 1117.7 169.7 1119.0 167.0 1120.4 164.4 1125.0 160.0 1123.7 162.4 1122.3 165.0 1120.9 167.6 1119.5 170.3Z'/>
<path fill='url(#c76_12)' stroke='url(#c76_12)' d='M1119.5 170.3 1120.9 167.6 1122.3 165.0 1123.7 162.4 1125.0 160.0 1129.6 155.5 1128.2 157.8 1126.9 160.2 1125.5 162.7 1124.1 165.2Z'/>
<path fill='url(#c77_12)' stroke='url(#c77_12)' d='M1124.1 165.2 1125.5 162.7 1126.9 160.2 1128.2 157.8 1129.6 155.5 1134.2 151.1 1132.8 153.2 1131.5 155.4 1130.1 157.7 1128.7 160.1Z'/>
<path fill='url(#c78_12)' stroke='url(#c78_12)' d='M1128.7 160.1 1130.1 157.7 1131.5 155.4 1132.8 153.2 1134.2 151.1 1138.8 146.6 1137.4 148.6 1136.1 150.7 1134.7 152.8 1133.3 155.0Z'/>
<path fill='url(#s56)' stroke='url(#s56)' d='M1026.2 282.9 1027.5 276.3 1032.1 272.3 1030.8 278.8Z'/>
<path fill='url(#c79_12)' stroke='url(#c79_12)' d='M1133.3 155.0 1134.7 152.8 1136.1 150.7 1137.4 148.6 1138.8 146.6 1143.4 142.2 1142.0 144.0 1140.7 145.9 1139.3 147.9 1137.9 149.8Z'/>
<path fill='url(#s57)' stroke='url(#s57)' d='M1030.8 278.8 1032.1 272.3 1036.7 268.2 1035.4 274.6Z'/>
<path fill='url(#s58)' stroke='url(#s58)' d='M1035.4 274.6 1036.7 268.2 1041.3 264.2 1040.0 270.5Z'/>
<path fill='url(#s59)' stroke='url(#s59)' d='M1040.0 270.5 1041.3 264.2 1045.9 260.1 1044.6 266.3Z'/>
<path fill='url(#s60)' stroke='url(#s60)' d='M1044.6 266.3 1045.9 260.1 1050.5 256.1 1049.2 262.2Z'/>
<path fill='url(#s61)' stroke='url(#s61)' d='M1049.2 262.2 1050.5 256.1 1055.1 252.1 1053.8 258.0Z'/>
<path fill='url(#s62)' stroke='url(#s62)' d='M1053.8 258.0 1055.1 252.1 1059.7 248.0 1058.4 253.9Z'/>
<path fill='url(#s63)' stroke='url(#s63)' d='M1058.4 253.9 1059.7 248.0 1064.3 244.0 1063.0 249.7Z'/>
<path fill='url(#s64)' stroke='url(#s64)' d='M1063.0 249.7 1064.3 244.0 1068.9 237.3 1067.6 242.8Z'/>
<path fill='url(#s56)' stroke='url(#s56)' d='M1024.8 290.0 1026.2 282.9 1030.8 278.8 1029.4 285.7Z'/>
<path fill='url(#s65)' stroke='url(#s65)' d='M1067.6 242.8 1068.9 237.3 1073.5 230.7 1072.2 235.9Z'/>
<path fill='url(#s57)' stroke='url(#s57)' d='M1029.4 285.7 1030.8 278.8 1035.4 274.6 1034.0 281.4Z'/>
<path fill='url(#s66)' stroke='url(#s66)' d='M1072.2 235.9 1073.5 230.7 1078.1 224.0 1076.8 229.0Z'/>
<path fill='url(#s58)' stroke='url(#s58)' d='M1034.0 281.4 1035.4 274.6 1040.0 270.5 1038.6 277.2Z'/>
<path fill='url(#s67)' stroke='url(#s67)' d='M1076.8 229.0 1078.1 224.0 1082.7 217.4 1081.4 222.1Z'/>
<path fill='url(#s59)' stroke='url(#s59)' d='M1038.6 277.2 1040.0 270.5 1044.6 266.3 1043.2 272.9Z'/>
<path fill='url(#s68)' stroke='url(#s68)' d='M1081.4 222.1 1082.7 217.4 1087.3 210.7 1086.0 215.2Z'/>
<path fill='url(#s60)' stroke='url(#s60)' d='M1043.2 272.9 1044.6 266.3 1049.2 262.2 1047.8 268.7Z'/>
<path fill='url(#s69)' stroke='url(#s69)' d='M1086.0 215.2 1087.3 210.7 1091.9 204.1 1090.6 208.3Z'/>
<path fill='url(#s61)' stroke='url(#s61)' d='M1047.8 268.7 1049.2 262.2 1053.8 258.0 1052.4 264.4Z'/>
<path fill='url(#s70)' stroke='url(#s70)' d='M1090.6 208.3 1091.9 204.1 1096.5 197.5 1095.2 201.4Z'/>
<path fill='url(#s62)' stroke='url(#s62)' d='M1052.4 264.4 1053.8 258.0 1058.4 253.9 1057.0 260.2Z'/>
<path fill='url(#s71)' stroke='url(#s71)' d='M1095.2 201.4 1096.5 197.5 1101.1 190.8 1099.8 194.5Z'/>
<path fill='url(#s63)' stroke='url(#s63)' d='M1057.0 260.2 1058.4 253.9 1063.0 249.7 1061.6 255.9Z'/>
<path fill='url(#s72)' stroke='url(#s72)' d='M1099.8 194.5 1101.1 190.8 1105.7 185.7 1104.4 189.2Z'/>
<path fill='url(#s64)' stroke='url(#s64)' d='M1061.6 255.9 1063.0 249.7 1067.6 242.8 1066.2 248.7Z'/>
<path fill='url(#s73)' stroke='url(#s73)' d='M1104.4 189.2 1105.7 185.7 1110.3 180.6 1109.0 183.8Z'/>
<path fill='url(#s56)' stroke='url(#s56)' d='M1023.4 297.5 1024.8 290.0 1029.4 285.7 1028.0 293.2Z'/>
<path fill='url(#s65)' stroke='url(#s65)' d='M1066.2 248.7 1067.6 242.8 1072.2 235.9 1070.8 241.5Z'/>
<path fill='url(#s74)' stroke='url(#s74)' d='M1109.0 183.8 1110.3 180.6 1114.9 175.4 1113.6 178.5Z'/>
<path fill='url(#s57)' stroke='url(#s57)' d='M1028.0 293.2 1029.4 285.7 1034.0 281.4 1032.6 288.8Z'/>
<path fill='url(#s66)' stroke='url(#s66)' d='M1070.8 241.5 1072.2 235.9 1076.8 229.0 1075.4 234.3Z'/>
<path fill='url(#s75)' stroke='url(#s75)' d='M1113.6 178.5 1114.9 175.4 1119.5 170.3 1118.2 173.2Z'/>
<path fill='url(#s58)' stroke='url(#s58)' d='M1032.6 288.8 1034.0 281.4 1038.6 277.2 1037.2 284.4Z'/>
<path fill='url(#s67)' stroke='url(#s67)' d='M1075.4 234.3 1076.8 229.0 1081.4 222.1 1080.0 227.2Z'/>
<path fill='url(#s76)' stroke='url(#s76)' d='M1118.2 173.2 1119.5 170.3 1124.1 165.2 1122.8 167.9Z'/>
<path fill='url(#s59)' stroke='url(#s59)' d='M1037.2 284.4 1038.6 277.2 1043.2 272.9 1041.8 280.1Z'/>
<path fill='url(#s68)' stroke='url(#s68)' d='M1080.0 227.2 1081.4 222.1 1086.0 215.2 1084.6 220.0Z'/>
<path fill='url(#s77)' stroke='url(#s77)' d='M1122.8 167.9 1124.1 165.2 1128.7 160.1 1127.4 162.5Z'/>
<path fill='url(#s60)' stroke='url(#s60)' d='M1041.8 280.1 1043.2 272.9 1047.8 268.7 1046.4 275.7Z'/>
<path fill='url(#s69)' stroke='url(#s69)' d='M1084.6 220.0 1086.0 215.2 1090.6 208.3 1089.2 212.8Z'/>
<path fill='url(#s78)' stroke='url(#s78)' d='M1127.4 162.5 1128.7 160.1 1133.3 155.0 1132.0 157.2Z'/>
<path fill='url(#s61)' stroke='url(#s61)' d='M1046.4 275.7 1047.8 268.7 1052.4 264.4 1051.0 271.3Z'/>
<path fill='url(#s70)' stroke='url(#s70)' d='M1089.2 212.8 1090.6 208.3 1095.2 201.4 1093.8 205.6Z'/>
<path fill='url(#s79)' stroke='url(#s79)' d='M1132.0 157.2 1133.3 155.0 1137.9 149.8 1136.6 151.9Z'/>
<path fill='url(#s62)' stroke='url(#s62)' d='M1051.0 271.3 1052.4 264.4 1057.0 260.2 1055.6 267.0Z'/>
<path fill='url(#s71)' stroke='url(#s71)' d='M1093.8 205.6 1095.2 201.4 1099.8 194.5 1098.4 198.4Z'/>
<path fill='url(#s63)' stroke='url(#s63)' d='M1055.6 267.0 1057.0 260.2 1061.6 255.9 1060.2 262.6Z'/>
<path fill='url(#s72)' stroke='url(#s72)' d='M1098.4 198.4 1099.8 194.5 1104.4 189.2 1103.0 192.8Z'/>
<path fill='url(#s64)' stroke='url(#s64)' d='M1060.2 262.6 1061.6 255.9 1066.2 248.7 1064.8 255.1Z'/>
<path fill='url(#s73)' stroke='url(#s73)' d='M1103.0 192.8 1104.4 189.2 1109.0 183.8 1107.6 187.3Z'/>
<path fill='url(#c56_8)' stroke='url(#c56_8)' d='M1022.1 305.8 1023.4 297.5 1028.0 293.2 1026.7 301.3Z'/>
<path fill='url(#s65)' stroke='url(#s65)' d='M1064.8 255.1 1066.2 248.7 1070.8 241.5 1069.4 247.6Z'/>
<path fill='url(#s74)' stroke='url(#s74)' d='M1107.6 187.3 1109.0 183.8 1113.6 178.5 1112.2 181.7Z'/>
<path fill='url(#c57_8)' stroke='url(#c57_8)' d='M1026.7 301.3 1028.0 293.2 1032.6 288.8 1031.3 296.8Z'/>
<path fill='url(#s66)' stroke='url(#s66)' d='M1069.4 247.6 1070.8 241.5 1075.4 234.3 1074.0 240.1Z'/>
<path fill='url(#s75)' stroke='url(#s75)' d='M1112.2 181.7 1113.6 178.5 1118.2 173.2 1116.8 176.2Z'/>
<path fill='url(#c58_8)' stroke='url(#c58_8)' d='M1031.3 296.8 1032.6 288.8 1037.2 284.4 1035.9 292.3Z'/>
<path fill='url(#s67)' stroke='url(#s67)' d='M1074.0 240.1 1075.4 234.3 1080.0 227.2 1078.6 232.6Z'/>
<path fill='url(#s76)' stroke='url(#s76)' d='M1116.8 176.2 1118.2 173.2 1122.8 167.9 1121.4 170.6Z'/>
<path fill='url(#c59_8)' stroke='url(#c59_8)' d='M1035.9 292.3 1037.2 284.4 1041.8 280.1 1040.5 287.9Z'/>
<path fill='url(#s68)' stroke='url(#s68)' d='M1078.6 232.6 1080.0 227.2 1084.6 220.0 1083.2 225.1Z'/>
<path fill='url(#s77)' stroke='url(#s77)' d='M1121.4 170.6 1122.8 167.9 1127.4 162.5 1126.0 165.1Z'/>
<path fill='url(#s60)' stroke='url(#s60)' d='M1040.5 287.9 1041.8 280.1 1046.4 275.7 1045.1 283.4Z'/>
<path fill='url(#s69)' stroke='url(#s69)' d='M1083.2 225.1 1084.6 220.0 1089.2 212.8 1087.8 217.6Z'/>
<path fill='url(#s78)' stroke='url(#s78)' d='M1126.0 165.1 1127.4 162.5 1132.0 157.2 1130.6 159.5Z'/>
<path fill='url(#s61)' stroke='url(#s61)' d='M1045.1 283.4 1046.4 275.7 1051.0 271.3 1049.7 278.9Z'/>
<path fill='url(#s70)' stroke='url(#s70)' d='M1087.8 217.6 1089.2 212.8 1093.8 205.6 1092.4 210.1Z'/>
<path fill='url(#s79)' stroke='url(#s79)' d='M1130.6 159.5 1132.0 157.2 1136.6 151.9 1135.2 154.0Z'/>
<path fill='url(#s62)' stroke='url(#s62)' d='M1049.7 278.9 1051.0 271.3 1055.6 267.0 1054.3 274.4Z'/>
<path fill='url(#s71)' stroke='url(#s71)' d='M1092.4 210.1 1093.8 205.6 1098.4 198.4 1097.0 202.6Z'/>
<path fill='url(#s63)' stroke='url(#s63)' d='M1054.3 274.4 1055.6 267.0 1060.2 262.6 1058.9 269.9Z'/>
<path fill='url(#s72)' stroke='url(#s72)' d='M1097.0 202.6 1098.4 198.4 1103.0 192.8 1101.6 196.8Z'/>
<path fill='url(#s64)' stroke='url(#s64)' d='M1058.9 269.9 1060.2 262.6 1064.8 255.1 1063.5 262.1Z'/>
<path fill='url(#s73)' stroke='url(#s73)' d='M1101.6 196.8 1103.0 192.8 1107.6 187.3 1106.2 191.0Z'/>
<path fill='url(#c56_7)' stroke='url(#c56_7)' d='M1020.7 315.0 1022.1 305.8 1026.7 301.3 1025.3 310.4Z'/>
<path fill='url(#s65)' stroke='url(#s65)' d='M1063.5 262.1 1064.8 255.1 1069.4 247.6 1068.1 254.2Z'/>
<path fill='url(#s74)' stroke='url(#s74)' d='M1106.2 191.0 1107.6 187.3 1112.2 181.7 1110.8 185.2Z'/>
<path fill='url(#c57_7)' stroke='url(#c57_7)' d='M1025.3 310.4 1026.7 301.3 1031.3 296.8 1029.9 305.7Z'/>
<path fill='url(#s66)' stroke='url(#s66)' d='M1068.1 254.2 1069.4 247.6 1074.0 240.1 1072.7 246.4Z'/>
<path fill='url(#s75)' stroke='url(#s75)' d='M1110.8 185.2 1112.2 181.7 1116.8 176.2 1115.4 179.4Z'/>
<path fill='url(#c58_7)' stroke='url(#c58_7)' d='M1029.9 305.7 1031.3 296.8 1035.9 292.3 1034.5 301.1Z'/>
<path fill='url(#s67)' stroke='url(#s67)' d='M1072.7 246.4 1074.0 240.1 1078.6 232.6 1077.3 238.5Z'/>
<path fill='url(#s76)' stroke='url(#s76)' d='M1115.4 179.4 1116.8 176.2 1121.4 170.6 1120.0 173.6Z'/>
<path fill='url(#c59_7)' stroke='url(#c59_7)' d='M1034.5 301.1 1035.9 292.3 1040.5 287.9 1039.1 296.5Z'/>
<path fill='url(#s68)' stroke='url(#s68)' d='M1077.3 238.5 1078.6 232.6 1083.2 225.1 1081.9 230.7Z'/>
<path fill='url(#s77)' stroke='url(#s77)' d='M1120.0 173.6 1121.4 170.6 1126.0 165.1 1124.6 167.8Z'/>
<path fill='url(#c60_7)' stroke='url(#c60_7)' d='M1039.1 296.5 1040.5 287.9 1045.1 283.4 1043.7 291.9Z'/>
<path fill='url(#s69)' stroke='url(#s69)' d='M1081.9 230.7 1083.2 225.1 1087.8 217.6 1086.5 222.8Z'/>
<path fill='url(#s78)' stroke='url(#s78)' d='M1124.6 167.8 1126.0 165.1 1130.6 159.5 1129.2 162.0Z'/>
<path fill='url(#c61_7)' stroke='url(#c61_7)' d='M1043.7 291.9 1045.1 283.4 1049.7 278.9 1048.3 287.3Z'/>
<path fill='url(#s70)' stroke='url(#s70)' d='M1086.5 222.8 1087.8 217.6 1092.4 210.1 1091.1 215.0Z'/>
<path fill='url(#s79)' stroke='url(#s79)' d='M1129.2 162.0 1130.6 159.5 1135.2 154.0 1133.8 156.2Z'/>
<path fill='url(#c62_7)' stroke='url(#c62_7)' d='M1048.3 287.3 1049.7 278.9 1054.3 274.4 1052.9 282.7Z'/>
<path fill='url(#s71)' stroke='url(#s71)' d='M1091.1 215.0 1092.4 210.1 1097.0 202.6 1095.7 207.1Z'/>
<path fill='url(#c63_7)' stroke='url(#c63_7)' d='M1052.9 282.7 1054.3 274.4 1058.9 269.9 1057.5 278.1Z'/>
<path fill='url(#s72)' stroke='url(#s72)' d='M1095.7 207.1 1097.0 202.6 1101.6 196.8 1100.3 201.1Z'/>
<path fill='url(#s64)' stroke='url(#s64)' d='M1057.5 278.1 1058.9 269.9 1063.5 262.1 1062.1 269.8Z'/>
<path fill='url(#s73)' stroke='url(#s73)' d='M1100.3 201.1 1101.6 196.8 1106.2 191.0 1104.9 195.0Z'/>
<path fill='url(#c56_6)' stroke='url(#c56_6)' d='M1019.3 325.4 1020.7 315.0 1025.3 310.4 1023.9 320.6Z'/>
<path fill='url(#s65)' stroke='url(#s65)' d='M1062.1 269.8 1063.5 262.1 1068.1 254.2 1066.7 261.6Z'/>
<path fill='url(#s74)' stroke='url(#s74)' d='M1104.9 195.0 1106.2 191.0 1110.8 185.2 1109.5 188.9Z'/>
<path fill='url(#c57_6)' stroke='url(#c57_6)' d='M1023.9 320.6 1025.3 310.4 1029.9 305.7 1028.5 315.9Z'/>
<path fill='url(#s66)' stroke='url(#s66)' d='M1066.7 261.6 1068.1 254.2 1072.7 246.4 1071.3 253.4Z'/>
<path fill='url(#s75)' stroke='url(#s75)' d='M1109.5 188.9 1110.8 185.2 1115.4 179.4 1114.1 182.9Z'/>
<path fill='url(#c58_6)' stroke='url(#c58_6)' d='M1028.5 315.9 1029.9 305.7 1034.5 301.1 1033.1 311.1Z'/>
<path fill='url(#s67)' stroke='url(#s67)' d='M1071.3 253.4 1072.7 246.4 1077.3 238.5 1075.9 245.1Z'/>
<path fill='url(#s76)' stroke='url(#s76)' d='M1114.1 182.9 1115.4 179.4 1120.0 173.6 1118.7 176.8Z'/>
<path fill='url(#c59_6)' stroke='url(#c59_6)' d='M1033.1 311.1 1034.5 301.1 1039.1 296.5 1037.7 306.4Z'/>
<path fill='url(#s68)' stroke='url(#s68)' d='M1075.9 245.1 1077.3 238.5 1081.9 230.7 1080.5 236.9Z'/>
<path fill='url(#s77)' stroke='url(#s77)' d='M1118.7 176.8 1120.0 173.6 1124.6 167.8 1123.3 170.7Z'/>
<path fill='url(#c60_6)' stroke='url(#c60_6)' d='M1037.7 306.4 1039.1 296.5 1043.7 291.9 1042.3 301.6Z'/>
<path fill='url(#s69)' stroke='url(#s69)' d='M1080.5 236.9 1081.9 230.7 1086.5 222.8 1085.1 228.7Z'/>
<path fill='url(#s78)' stroke='url(#s78)' d='M1123.3 170.7 1124.6 167.8 1129.2 162.0 1127.9 164.6Z'/>
<path fill='url(#c61_6)' stroke='url(#c61_6)' d='M1042.3 301.6 1043.7 291.9 1048.3 287.3 1046.9 296.9Z'/>
<path fill='url(#s70)' stroke='url(#s70)' d='M1085.1 228.7 1086.5 222.8 1091.1 215.0 1089.7 220.4Z'/>
<path fill='url(#s79)' stroke='url(#s79)' d='M1127.9 164.6 1129.2 162.0 1133.8 156.2 1132.5 158.6Z'/>
<path fill='url(#c62_6)' stroke='url(#c62_6)' d='M1046.9 296.9 1048.3 287.3 1052.9 282.7 1051.5 292.1Z'/>
<path fill='url(#s71)' stroke='url(#s71)' d='M1089.7 220.4 1091.1 215.0 1095.7 207.1 1094.3 212.2Z'/>
<path fill='url(#c63_6)' stroke='url(#c63_6)' d='M1051.5 292.1 1052.9 282.7 1057.5 278.1 1056.1 287.4Z'/>
<path fill='url(#s72)' stroke='url(#s72)' d='M1094.3 212.2 1095.7 207.1 1100.3 201.1 1098.9 205.8Z'/>
<path fill='url(#c64_6)' stroke='url(#c64_6)' d='M1056.1 287.4 1057.5 278.1 1062.1 269.8 1060.7 278.7Z'/>
<path fill='url(#s73)' stroke='url(#s73)' d='M1098.9 205.8 1100.3 201.1 1104.9 195.0 1103.5 199.4Z'/>
<path fill='url(#c56_5)' stroke='url(#c56_5)' d='M1018.0 337.6 1019.3 325.4 1023.9 320.6 1022.6 332.7Z'/>
<path fill='url(#c65_6)' stroke='url(#c65_6)' d='M1060.7 278.7 1062.1 269.8 1066.7 261.6 1065.3 270.0Z'/>
<path fill='url(#s74)' stroke='url(#s74)' d='M1103.5 199.4 1104.9 195.0 1109.5 188.9 1108.1 193.0Z'/>
<path fill='url(#c57_5)' stroke='url(#c57_5)' d='M1022.6 332.7 1023.9 320.6 1028.5 315.9 1027.2 327.8Z'/>
<path fill='url(#c66_6)' stroke='url(#c66_6)' d='M1065.3 270.0 1066.7 261.6 1071.3 253.4 1069.9 261.4Z'/>
<path fill='url(#s75)' stroke='url(#s75)' d='M1108.1 193.0 1109.5 188.9 1114.1 182.9 1112.7 186.6Z'/>
<path fill='url(#c58_5)' stroke='url(#c58_5)' d='M1027.2 327.8 1028.5 315.9 1033.1 311.1 1031.8 322.9Z'/>
<path fill='url(#c67_6)' stroke='url(#c67_6)' d='M1069.9 261.4 1071.3 253.4 1075.9 245.1 1074.5 252.7Z'/>
<path fill='url(#s76)' stroke='url(#s76)' d='M1112.7 186.6 1114.1 182.9 1118.7 176.8 1117.3 180.2Z'/>
<path fill='url(#c59_5)' stroke='url(#c59_5)' d='M1031.8 322.9 1033.1 311.1 1037.7 306.4 1036.3 318.0Z'/>
<path fill='url(#c68_6)' stroke='url(#c68_6)' d='M1074.5 252.7 1075.9 245.1 1080.5 236.9 1079.1 244.0Z'/>
<path fill='url(#s77)' stroke='url(#s77)' d='M1117.3 180.2 1118.7 176.8 1123.3 170.7 1121.9 173.9Z'/>
<path fill='url(#c60_5)' stroke='url(#c60_5)' d='M1036.3 318.0 1037.7 306.4 1042.3 301.6 1041.0 313.1Z'/>
<path fill='url(#c69_6)' stroke='url(#c69_6)' d='M1079.1 244.0 1080.5 236.9 1085.1 228.7 1083.7 235.3Z'/>
<path fill='url(#s78)' stroke='url(#s78)' d='M1121.9 173.9 1123.3 170.7 1127.9 164.6 1126.5 167.5Z'/>
<path fill='url(#c61_5)' stroke='url(#c61_5)' d='M1041.0 313.1 1042.3 301.6 1046.9 296.9 1045.5 308.2Z'/>
<path fill='url(#c70_6)' stroke='url(#c70_6)' d='M1083.7 235.3 1085.1 228.7 1089.7 220.4 1088.3 226.7Z'/>
<path fill='url(#s79)' stroke='url(#s79)' d='M1126.5 167.5 1127.9 164.6 1132.5 158.6 1131.1 161.1Z'/>
<path fill='url(#c62_5)' stroke='url(#c62_5)' d='M1045.5 308.2 1046.9 296.9 1051.5 292.1 1050.2 303.3Z'/>
<path fill='url(#c71_6)' stroke='url(#c71_6)' d='M1088.3 226.7 1089.7 220.4 1094.3 212.2 1092.9 218.0Z'/>
<path fill='url(#c63_5)' stroke='url(#c63_5)' d='M1050.2 303.3 1051.5 292.1 1056.1 287.4 1054.8 298.4Z'/>
<path fill='url(#s72)' stroke='url(#s72)' d='M1092.9 218.0 1094.3 212.2 1098.9 205.8 1097.5 211.2Z'/>
<path fill='url(#c64_5)' stroke='url(#c64_5)' d='M1054.8 298.4 1056.1 287.4 1060.7 278.7 1059.3 289.2Z'/>
<path fill='url(#s73)' stroke='url(#s73)' d='M1097.5 211.2 1098.9 205.8 1103.5 199.4 1102.1 204.4Z'/>
<path fill='url(#c56_4)' stroke='url(#c56_4)' d='M1016.6 352.9 1018.0 337.6 1022.6 332.7 1021.2 347.8Z'/>
<path fill='url(#c65_5)' stroke='url(#c65_5)' d='M1059.3 289.2 1060.7 278.7 1065.3 270.0 1064.0 280.0Z'/>
<path fill='url(#s74)' stroke='url(#s74)' d='M1102.1 204.4 1103.5 199.4 1108.1 193.0 1106.7 197.7Z'/>
<path fill='url(#c57_4)' stroke='url(#c57_4)' d='M1021.2 347.8 1022.6 332.7 1027.2 327.8 1025.8 342.8Z'/>
<path fill='url(#c66_5)' stroke='url(#c66_5)' d='M1064.0 280.0 1065.3 270.0 1069.9 261.4 1068.5 270.8Z'/>
<path fill='url(#c75_6)' stroke='url(#c75_6)' d='M1106.7 197.7 1108.1 193.0 1112.7 186.6 1111.3 190.9Z'/>
<path fill='url(#c58_4)' stroke='url(#c58_4)' d='M1025.8 342.8 1027.2 327.8 1031.8 322.9 1030.4 337.7Z'/>
<path fill='url(#c67_5)' stroke='url(#c67_5)' d='M1068.5 270.8 1069.9 261.4 1074.5 252.7 1073.2 261.6Z'/>
<path fill='url(#c76_6)' stroke='url(#c76_6)' d='M1111.3 190.9 1112.7 186.6 1117.3 180.2 1115.9 184.1Z'/>
<path fill='url(#c59_4)' stroke='url(#c59_4)' d='M1030.4 337.7 1031.8 322.9 1036.3 318.0 1035.0 332.7Z'/>
<path fill='url(#c68_5)' stroke='url(#c68_5)' d='M1073.2 261.6 1074.5 252.7 1079.1 244.0 1077.8 252.4Z'/>
<path fill='url(#c77_6)' stroke='url(#c77_6)' d='M1115.9 184.1 1117.3 180.2 1121.9 173.9 1120.5 177.4Z'/>
<path fill='url(#c60_4)' stroke='url(#c60_4)' d='M1035.0 332.7 1036.3 318.0 1041.0 313.1 1039.6 327.6Z'/>
<path fill='url(#c69_5)' stroke='url(#c69_5)' d='M1077.8 252.4 1079.1 244.0 1083.7 235.3 1082.3 243.2Z'/>
<path fill='url(#c78_6)' stroke='url(#c78_6)' d='M1120.5 177.4 1121.9 173.9 1126.5 167.5 1125.1 170.6Z'/>
<path fill='url(#c61_4)' stroke='url(#c61_4)' d='M1039.6 327.6 1041.0 313.1 1045.5 308.2 1044.2 322.6Z'/>
<path fill='url(#c70_5)' stroke='url(#c70_5)' d='M1082.3 243.2 1083.7 235.3 1088.3 226.7 1086.9 234.0Z'/>
<path fill='url(#c79_6)' stroke='url(#c79_6)' d='M1125.1 170.6 1126.5 167.5 1131.1 161.1 1129.7 163.8Z'/>
<path fill='url(#c62_4)' stroke='url(#c62_4)' d='M1044.2 322.6 1045.5 308.2 1050.2 303.3 1048.8 317.5Z'/>
<path fill='url(#c71_5)' stroke='url(#c71_5)' d='M1086.9 234.0 1088.3 226.7 1092.9 218.0 1091.5 224.8Z'/>
<path fill='url(#c63_4)' stroke='url(#c63_4)' d='M1048.8 317.5 1050.2 303.3 1054.8 298.4 1053.4 312.5Z'/>
<path fill='url(#c72_5)' stroke='url(#c72_5)' d='M1091.5 224.8 1092.9 218.0 1097.5 211.2 1096.1 217.6Z'/>
<path fill='url(#c64_4)' stroke='url(#c64_4)' d='M1053.4 312.5 1054.8 298.4 1059.3 289.2 1058.0 302.6Z'/>
<path fill='url(#c73_5)' stroke='url(#c73_5)' d='M1096.1 217.6 1097.5 211.2 1102.1 204.4 1100.8 210.3Z'/>
<path fill='url(#c56_3)' stroke='url(#c56_3)' d='M1015.2 374.7 1016.6 352.9 1021.2 347.8 1019.8 369.5Z'/>
<path fill='url(#c65_4)' stroke='url(#c65_4)' d='M1058.0 302.6 1059.3 289.2 1064.0 280.0 1062.6 292.7Z'/>
<path fill='url(#c74_5)' stroke='url(#c74_5)' d='M1100.8 210.3 1102.1 204.4 1106.7 197.7 1105.3 203.1Z'/>
<path fill='url(#c57_3)' stroke='url(#c57_3)' d='M1019.8 369.5 1021.2 347.8 1025.8 342.8 1024.4 364.3Z'/>
<path fill='url(#c66_4)' stroke='url(#c66_4)' d='M1062.6 292.7 1064.0 280.0 1068.5 270.8 1067.2 282.9Z'/>
<path fill='url(#c75_5)' stroke='url(#c75_5)' d='M1105.3 203.1 1106.7 197.7 1111.3 190.9 1109.9 195.9Z'/>
<path fill='url(#c58_3)' stroke='url(#c58_3)' d='M1024.4 364.3 1025.8 342.8 1030.4 337.7 1029.0 359.1Z'/>
<path fill='url(#c67_4)' stroke='url(#c67_4)' d='M1067.2 282.9 1068.5 270.8 1073.2 261.6 1071.8 273.0Z'/>
<path fill='url(#c76_5)' stroke='url(#c76_5)' d='M1109.9 195.9 1111.3 190.9 1115.9 184.1 1114.5 188.6Z'/>
<path fill='url(#c59_3)' stroke='url(#c59_3)' d='M1029.0 359.1 1030.4 337.7 1035.0 332.7 1033.6 353.9Z'/>
<path fill='url(#c68_4)' stroke='url(#c68_4)' d='M1071.8 273.0 1073.2 261.6 1077.8 252.4 1076.4 263.1Z'/>
<path fill='url(#c77_5)' stroke='url(#c77_5)' d='M1114.5 188.6 1115.9 184.1 1120.5 177.4 1119.1 181.4Z'/>
<path fill='url(#c60_3)' stroke='url(#c60_3)' d='M1033.6 353.9 1035.0 332.7 1039.6 327.6 1038.2 348.7Z'/>
<path fill='url(#c69_4)' stroke='url(#c69_4)' d='M1076.4 263.1 1077.8 252.4 1082.3 243.2 1081.0 253.3Z'/>
<path fill='url(#c78_5)' stroke='url(#c78_5)' d='M1119.1 181.4 1120.5 177.4 1125.1 170.6 1123.7 174.2Z'/>
<path fill='url(#c61_3)' stroke='url(#c61_3)' d='M1038.2 348.7 1039.6 327.6 1044.2 322.6 1042.8 343.5Z'/>
<path fill='url(#c70_4)' stroke='url(#c70_4)' d='M1081.0 253.3 1082.3 243.2 1086.9 234.0 1085.6 243.4Z'/>
<path fill='url(#c79_5)' stroke='url(#c79_5)' d='M1123.7 174.2 1125.1 170.6 1129.7 163.8 1128.3 166.9Z'/>
<path fill='url(#c62_3)' stroke='url(#c62_3)' d='M1042.8 343.5 1044.2 322.6 1048.8 317.5 1047.4 338.3Z'/>
<path fill='url(#c71_4)' stroke='url(#c71_4)' d='M1085.6 243.4 1086.9 234.0 1091.5 224.8 1090.2 233.5Z'/>
<path fill='url(#c63_3)' stroke='url(#c63_3)' d='M1047.4 338.3 1048.8 317.5 1053.4 312.5 1052.0 333.1Z'/>
<path fill='url(#c72_4)' stroke='url(#c72_4)' d='M1090.2 233.5 1091.5 224.8 1096.1 217.6 1094.8 225.7Z'/>
<path fill='url(#c64_3)' stroke='url(#c64_3)' d='M1052.0 333.1 1053.4 312.5 1058.0 302.6 1056.6 322.3Z'/>
<path fill='url(#c73_4)' stroke='url(#c73_4)' d='M1094.8 225.7 1096.1 217.6 1100.8 210.3 1099.4 217.8Z'/>
<path fill='url(#c56_2)' stroke='url(#c56_2)' d='M1013.8 472.3 1015.2 374.7 1019.8 369.5 1018.4 469.7Z'/>
<path fill='url(#c65_3)' stroke='url(#c65_3)' d='M1056.6 322.3 1058.0 302.6 1062.6 292.7 1061.2 311.4Z'/>
<path fill='url(#c74_4)' stroke='url(#c74_4)' d='M1099.4 217.8 1100.8 210.3 1105.3 203.1 1104.0 210.0Z'/>
<path fill='url(#c57_2)' stroke='url(#c57_2)' d='M1018.4 469.7 1019.8 369.5 1024.4 364.3 1023.0 467.1Z'/>
<path fill='url(#c66_3)' stroke='url(#c66_3)' d='M1061.2 311.4 1062.6 292.7 1067.2 282.9 1065.8 300.6Z'/>
<path fill='url(#c75_4)' stroke='url(#c75_4)' d='M1104.0 210.0 1105.3 203.1 1109.9 195.9 1108.6 202.1Z'/>
<path fill='url(#c58_2)' stroke='url(#c58_2)' d='M1023.0 467.1 1024.4 364.3 1029.0 359.1 1027.6 464.5Z'/>
<path fill='url(#c67_3)' stroke='url(#c67_3)' d='M1065.8 300.6 1067.2 282.9 1071.8 273.0 1070.4 289.8Z'/>
<path fill='url(#c76_4)' stroke='url(#c76_4)' d='M1108.6 202.1 1109.9 195.9 1114.5 188.6 1113.2 194.3Z'/>
<path fill='url(#c59_2)' stroke='url(#c59_2)' d='M1027.6 464.5 1029.0 359.1 1033.6 353.9 1032.2 461.9Z'/>
<path fill='url(#c68_3)' stroke='url(#c68_3)' d='M1070.4 289.8 1071.8 273.0 1076.4 263.1 1075.0 278.9Z'/>
<path fill='url(#c77_4)' stroke='url(#c77_4)' d='M1113.2 194.3 1114.5 188.6 1119.1 181.4 1117.8 186.4Z'/>
<path fill='url(#c60_2)' stroke='url(#c60_2)' d='M1032.2 461.9 1033.6 353.9 1038.2 348.7 1036.8 459.3Z'/>
<path fill='url(#c69_3)' stroke='url(#c69_3)' d='M1075.0 278.9 1076.4 263.1 1081.0 253.3 1079.6 268.1Z'/>
<path fill='url(#c78_4)' stroke='url(#c78_4)' d='M1117.8 186.4 1119.1 181.4 1123.7 174.2 1122.4 178.6Z'/>
<path fill='url(#c61_2)' stroke='url(#c61_2)' d='M1036.8 459.3 1038.2 348.7 1042.8 343.5 1041.4 456.7Z'/>
<path fill='url(#c70_3)' stroke='url(#c70_3)' d='M1079.6 268.1 1081.0 253.3 1085.6 243.4 1084.2 257.3Z'/>
<path fill='url(#c79_4)' stroke='url(#c79_4)' d='M1122.4 178.6 1123.7 174.2 1128.3 166.9 1127.0 170.7Z'/>
<path fill='url(#c62_2)' stroke='url(#c62_2)' d='M1041.4 456.7 1042.8 343.5 1047.4 338.3 1046.0 454.1Z'/>
<path fill='url(#c71_3)' stroke='url(#c71_3)' d='M1084.2 257.3 1085.6 243.4 1090.2 233.5 1088.8 246.4Z'/>
<path fill='url(#c63_2)' stroke='url(#c63_2)' d='M1046.0 454.1 1047.4 338.3 1052.0 333.1 1050.6 451.5Z'/>
<path fill='url(#c72_3)' stroke='url(#c72_3)' d='M1088.8 246.4 1090.2 233.5 1094.8 225.7 1093.4 237.6Z'/>
<path fill='url(#c64_2)' stroke='url(#c64_2)' d='M1050.6 451.5 1052.0 333.1 1056.6 322.3 1055.2 439.2Z'/>
<path fill='url(#c73_3)' stroke='url(#c73_3)' d='M1093.4 237.6 1094.8 225.7 1099.4 217.8 1098.0 228.8Z'/>
<path fill='url(#s56)' stroke='url(#s56)' d='M1012.5 473.6 1013.8 472.3 1018.4 469.7 1017.1 471.0Z'/>
<path fill='url(#c65_2)' stroke='url(#c65_2)' d='M1055.2 439.2 1056.6 322.3 1061.2 311.4 1059.8 427.0Z'/>
<path fill='url(#c74_3)' stroke='url(#c74_3)' d='M1098.0 228.8 1099.4 217.8 1104.0 210.0 1102.6 220.0Z'/>
<path fill='url(#s57)' stroke='url(#s57)' d='M1017.1 471.0 1018.4 469.7 1023.0 467.1 1021.7 468.4Z'/>
<path fill='url(#c66_2)' stroke='url(#c66_2)' d='M1059.8 427.0 1061.2 311.4 1065.8 300.6 1064.4 414.8Z'/>
<path fill='url(#c75_3)' stroke='url(#c75_3)' d='M1102.6 220.0 1104.0 210.0 1108.6 202.1 1107.2 211.2Z'/>
<path fill='url(#s58)' stroke='url(#s58)' d='M1021.7 468.4 1023.0 467.1 1027.6 464.5 1026.3 465.8Z'/>
<path fill='url(#c67_2)' stroke='url(#c67_2)' d='M1064.4 414.8 1065.8 300.6 1070.4 289.8 1069.0 402.6Z'/>
<path fill='url(#c76_3)' stroke='url(#c76_3)' d='M1107.2 211.2 1108.6 202.1 1113.2 194.3 1111.8 202.4Z'/>
<path fill='url(#s59)' stroke='url(#s59)' d='M1026.3 465.8 1027.6 464.5 1032.2 461.9 1030.9 463.2Z'/>
<path fill='url(#c68_2)' stroke='url(#c68_2)' d='M1069.0 402.6 1070.4 289.8 1075.0 278.9 1073.6 390.4Z'/>
<path fill='url(#c77_3)' stroke='url(#c77_3)' d='M1111.8 202.4 1113.2 194.3 1117.8 186.4 1116.4 193.6Z'/>
<path fill='url(#s60)' stroke='url(#s60)' d='M1030.9 463.2 1032.2 461.9 1036.8 459.3 1035.5 460.6Z'/>
<path fill='url(#c69_2)' stroke='url(#c69_2)' d='M1073.6 390.4 1075.0 278.9 1079.6 268.1 1078.2 378.2Z'/>
<path fill='url(#c78_3)' stroke='url(#c78_3)' d='M1116.4 193.6 1117.8 186.4 1122.4 178.6 1121.0 184.8Z'/>
<path fill='url(#s61)' stroke='url(#s61)' d='M1035.5 460.6 1036.8 459.3 1041.4 456.7 1040.1 458.0Z'/>
<path fill='url(#c70_2)' stroke='url(#c70_2)' d='M1078.2 378.2 1079.6 268.1 1084.2 257.3 1082.8 366.0Z'/>
<path fill='url(#c79_3)' stroke='url(#c79_3)' d='M1121.0 184.8 1122.4 178.6 1127.0 170.7 1125.6 176.0Z'/>
<path fill='url(#s62)' stroke='url(#s62)' d='M1040.1 458.0 1041.4 456.7 1046.0 454.1 1044.7 455.4Z'/>
<path fill='url(#c71_2)' stroke='url(#c71_2)' d='M1082.8 366.0 1084.2 257.3 1088.8 246.4 1087.4 353.7Z'/>
<path fill='url(#s63)' stroke='url(#s63)' d='M1044.7 455.4 1046.0 454.1 1050.6 451.5 1049.3 452.8Z'/>
<path fill='url(#c72_2)' stroke='url(#c72_2)' d='M1087.4 353.7 1088.8 246.4 1093.4 237.6 1092.0 339.4Z'/>
<path fill='url(#s64)' stroke='url(#s64)' d='M1049.3 452.8 1050.6 451.5 1055.2 439.2 1053.9 440.6Z'/>
<path fill='url(#c73_2)' stroke='url(#c73_2)' d='M1092.0 339.4 1093.4 237.6 1098.0 228.8 1096.6 325.1Z'/>
<path fill='url(#s56)' stroke='url(#s56)' d='M1011.1 474.9 1012.5 473.6 1017.1 471.0 1015.7 472.3Z'/>
<path fill='url(#s65)' stroke='url(#s65)' d='M1053.9 440.6 1055.2 439.2 1059.8 427.0 1058.5 428.4Z'/>
<path fill='url(#c74_2)' stroke='url(#c74_2)' d='M1096.6 325.1 1098.0 228.8 1102.6 220.0 1101.2 310.8Z'/>
<path fill='url(#s57)' stroke='url(#s57)' d='M1015.7 472.3 1017.1 471.0 1021.7 468.4 1020.3 469.7Z'/>
<path fill='url(#s66)' stroke='url(#s66)' d='M1058.5 428.4 1059.8 427.0 1064.4 414.8 1063.1 416.1Z'/>
<path fill='url(#c75_2)' stroke='url(#c75_2)' d='M1101.2 310.8 1102.6 220.0 1107.2 211.2 1105.8 296.5Z'/>
<path fill='url(#s58)' stroke='url(#s58)' d='M1020.3 469.7 1021.7 468.4 1026.3 465.8 1024.9 467.1Z'/>
<path fill='url(#s67)' stroke='url(#s67)' d='M1063.1 416.1 1064.4 414.8 1069.0 402.6 1067.7 403.9Z'/>
<path fill='url(#c76_2)' stroke='url(#c76_2)' d='M1105.8 296.5 1107.2 211.2 1111.8 202.4 1110.4 282.2Z'/>
<path fill='url(#s59)' stroke='url(#s59)' d='M1024.9 467.1 1026.3 465.8 1030.9 463.2 1029.5 464.5Z'/>
<path fill='url(#s68)' stroke='url(#s68)' d='M1067.7 403.9 1069.0 402.6 1073.6 390.4 1072.3 391.7Z'/>
<path fill='url(#c77_2)' stroke='url(#c77_2)' d='M1110.4 282.2 1111.8 202.4 1116.4 193.6 1115.0 267.9Z'/>
<path fill='url(#s60)' stroke='url(#s60)' d='M1029.5 464.5 1030.9 463.2 1035.5 460.6 1034.1 461.9Z'/>
<path fill='url(#s69)' stroke='url(#s69)' d='M1072.3 391.7 1073.6 390.4 1078.2 378.2 1076.9 379.5Z'/>
<path fill='url(#c78_2)' stroke='url(#c78_2)' d='M1115.0 267.9 1116.4 193.6 1121.0 184.8 1119.6 253.6Z'/>
<path fill='url(#s61)' stroke='url(#s61)' d='M1034.1 461.9 1035.5 460.6 1040.1 458.0 1038.7 459.3Z'/>
<path fill='url(#s70)' stroke='url(#s70)' d='M1076.9 379.5 1078.2 378.2 1082.8 366.0 1081.5 367.3Z'/>
<path fill='url(#c79_2)' stroke='url(#c79_2)' d='M1119.6 253.6 1121.0 184.8 1125.6 176.0 1124.2 239.3Z'/>
<path fill='url(#s62)' stroke='url(#s62)' d='M1038.7 459.3 1040.1 458.0 1044.7 455.4 1043.3 456.7Z'/>
<path fill='url(#s71)' stroke='url(#s71)' d='M1081.5 367.3 1082.8 366.0 1087.4 353.7 1086.1 355.1Z'/>
<path fill='url(#s63)' stroke='url(#s63)' d='M1043.3 456.7 1044.7 455.4 1049.3 452.8 1047.9 454.1Z'/>
<path fill='url(#s72)' stroke='url(#s72)' d='M1086.1 355.1 1087.4 353.7 1092.0 339.4 1090.7 340.8Z'/>
<path fill='url(#s64)' stroke='url(#s64)' d='M1047.9 454.1 1049.3 452.8 1053.9 440.6 1052.5 441.9Z'/>
<path fill='url(#s73)' stroke='url(#s73)' d='M1090.7 340.8 1092.0 339.4 1096.6 325.1 1095.3 326.4Z'/>
<path fill='url(#s65)' stroke='url(#s65)' d='M1052.5 441.9 1053.9 440.6 1058.5 428.4 1057.1 429.7Z'/>
<path fill='url(#s74)' stroke='url(#s74)' d='M1095.3 326.4 1096.6 325.1 1101.2 310.8 1099.9 312.1Z'/>
<path fill='url(#s66)' stroke='url(#s66)' d='M1057.1 429.7 1058.5 428.4 1063.1 416.1 1061.7 417.5Z'/>
<path fill='url(#s75)' stroke='url(#s75)' d='M1099.9 312.1 1101.2 310.8 1105.8 296.5 1104.5 297.8Z'/>
<path fill='url(#s67)' stroke='url(#s67)' d='M1061.7 417.5 1063.1 416.1 1067.7 403.9 1066.3 405.3Z'/>
<path fill='url(#s76)' stroke='url(#s76)' d='M1104.5 297.8 1105.8 296.5 1110.4 282.2 1109.1 283.5Z'/>
<path fill='url(#s68)' stroke='url(#s68)' d='M1066.3 405.3 1067.7 403.9 1072.3 391.7 1070.9 393.0Z'/>
<path fill='url(#s77)' stroke='url(#s77)' d='M1109.1 283.5 1110.4 282.2 1115.0 267.9 1113.7 269.2Z'/>
<path fill='url(#s69)' stroke='url(#s69)' d='M1070.9 393.0 1072.3 391.7 1076.9 379.5 1075.5 380.8Z'/>
<path fill='url(#s78)' stroke='url(#s78)' d='M1113.7 269.2 1115.0 267.9 1119.6 253.6 1118.3 254.9Z'/>
<path fill='url(#s70)' stroke='url(#s70)' d='M1075.5 380.8 1076.9 379.5 1081.5 367.3 1080.1 368.6Z'/>
<path fill='url(#s79)' stroke='url(#s79)' d='M1118.3 254.9 1119.6 253.6 1124.2 239.3 1122.9 240.6Z'/>
<path fill='url(#s71)' stroke='url(#s71)' d='M1080.1 368.6 1081.5 367.3 1086.1 355.1 1084.7 356.4Z'/>
<path fill='url(#s72)' stroke='url(#s72)' d='M1084.7 356.4 1086.1 355.1 1090.7 340.8 1089.3 342.1Z'/>
<path fill='url(#s73)' stroke='url(#s73)' d='M1089.3 342.1 1090.7 340.8 1095.3 326.4 1093.9 327.8Z'/>
<path fill='url(#s74)' stroke='url(#s74)' d='M1093.9 327.8 1095.3 326.4 1099.9 312.1 1098.5 313.5Z'/>
<path fill='url(#s75)' stroke='url(#s75)' d='M1098.5 313.5 1099.9 312.1 1104.5 297.8 1103.1 299.1Z'/>
<path fill='url(#s76)' stroke='url(#s76)' d='M1103.1 299.1 1104.5 297.8 1109.1 283.5 1107.7 284.8Z'/>
<path fill='url(#s77)' stroke='url(#s77)' d='M1107.7 284.8 1109.1 283.5 1113.7 269.2 1112.3 270.5Z'/>
<path fill='url(#s78)' stroke='url(#s78)' d='M1112.3 270.5 1113.7 269.2 1118.3 254.9 1116.9 256.2Z'/>
<path fill='url(#s79)' stroke='url(#s79)' d='M1116.9 256.2 1118.3 254.9 1122.9 240.6 1121.5 241.9Z'/>
</g>
<line x1='753.50' y1='489.20' x2='753.50' y2='142.20' stroke='#6e6e6e' stroke-width='0.9'/>
<line x1='753.50' y1='489.20' x2='1121.50' y2='501.00' stroke='#6e6e6e' stroke-width='0.9'/>
<line x1='1121.50' y1='501.00' x2='1190.00' y2='434.80' stroke='#6e6e6e' stroke-width='0.9'/>
<line x1='753.50' y1='489.20' x2='744.10' y2='488.90' stroke='#6e6e6e' stroke-width='0.9'/>
<line x1='753.50' y1='373.53' x2='744.10' y2='373.23' stroke='#6e6e6e' stroke-width='0.9'/>
<line x1='753.50' y1='257.87' x2='744.10' y2='257.57' stroke='#6e6e6e' stroke-width='0.9'/>
<line x1='753.50' y1='142.20' x2='744.10' y2='141.90' stroke='#6e6e6e' stroke-width='0.9'/>
<line x1='753.50' y1='489.20' x2='747.03' y2='495.45' stroke='#6e6e6e' stroke-width='0.9'/>
<line x1='827.10' y1='491.56' x2='820.63' y2='497.81' stroke='#6e6e6e' stroke-width='0.9'/>
<line x1='900.70' y1='493.92' x2='894.23' y2='500.17' stroke='#6e6e6e' stroke-width='0.9'/>
<line x1='974.30' y1='496.28' x2='967.83' y2='502.53' stroke='#6e6e6e' stroke-width='0.9'/>
<line x1='1047.90' y1='498.64' x2='1041.43' y2='504.89' stroke='#6e6e6e' stroke-width='0.9'/>
<line x1='1121.50' y1='501.00' x2='1115.03' y2='507.25' stroke='#6e6e6e' stroke-width='0.9'/>
<line x1='1121.50' y1='501.00' x2='1130.90' y2='501.30' stroke='#6e6e6e' stroke-width='0.9'/>
<line x1='1148.90' y1='474.52' x2='1158.30' y2='474.82' stroke='#6e6e6e' stroke-width='0.9'/>
<line x1='1176.30' y1='448.04' x2='1185.70' y2='448.34' stroke='#6e6e6e' stroke-width='0.9'/>
<defs><linearGradient id='cbg' x1='0' y1='1' x2='0' y2='0'><stop offset='0.0000' stop-color='#3e26a8'/><stop offset='0.0159' stop-color='#402ab4'/><stop offset='0.0317' stop-color='#422ec0'/><stop offset='0.0476' stop-color='#4332cb'/><stop offset='0.0635' stop-color='#4537d5'/><stop offset='0.0794' stop-color='#463cde'/><stop offset='0.0952' stop-color='#4741e5'/><stop offset='0.1111' stop-color='#4747eb'/><stop offset='0.1270' stop-color='#484df0'/><stop offset='0.1429' stop-color='#4852f4'/><stop offset='0.1587' stop-color='#4758f8'/><stop offset='0.1746' stop-color='#465efb'/><stop offset='0.1905' stop-color='#4563fd'/><stop offset='0.2063' stop-color='#4269fe'/><stop offset='0.2222' stop-color='#3e6fff'/><stop offset='0.2381' stop-color='#3875fe'/><stop offset='0.2540' stop-color='#327cfc'/><stop offset='0.2698' stop-color='#2f81fa'/><stop offset='0.2857' stop-color='#2e87f7'/><stop offset='0.3016' stop-color='#2d8cf3'/><stop offset='0.3175' stop-color='#2b91ef'/><stop offset='0.3333' stop-color='#2797eb'/><stop offset='0.3492' stop-color='#259be8'/><stop offset='0.3651' stop-color='#23a0e5'/><stop offset='0.3810' stop-color='#20a5e3'/><stop offset='0.3968' stop-color='#1ca9df'/><stop offset='0.4127' stop-color='#18addb'/><stop offset='0.4286' stop-color='#12b1d6'/><stop offset='0.4444' stop-color='#08b5d0'/><stop offset='0.4603' stop-color='#01b8ca'/><stop offset='0.4762' stop-color='#02bac3'/><stop offset='0.4921' stop-color='#0bbdbd'/><stop offset='0.5079' stop-color='#19bfb6'/><stop offset='0.5238' stop-color='#24c1ae'/><stop offset='0.5397' stop-color='#2cc4a7'/><stop offset='0.5556' stop-color='#31c69f'/><stop offset='0.5714' stop-color='#37c897'/><stop offset='0.5873' stop-color='#3fca8e'/><stop offset='0.6032' stop-color='#4acb84'/><stop offset='0.6190' stop-color='#57cc7a'/><stop offset='0.6349' stop-color='#64cd6f'/><stop offset='0.6508' stop-color='#72cd64'/><stop offset='0.6667' stop-color='#81cc59'/><stop offset='0.6825' stop-color='#8fcb4e'/><stop offset='0.6984' stop-color='#9dc943'/><stop offset='0.7143' stop-color='#abc739'/><stop offset='0.7302' stop-color='#b9c431'/><stop offset='0.7460' stop-color='#c5c22a'/><stop offset='0.7619' stop-color='#d1bf27'/><stop offset='0.7778' stop-color='#dcbd29'/><stop offset='0.7937' stop-color='#e6bb2d'/><stop offset='0.8095' stop-color='#f0ba36'/><stop offset='0.8254' stop-color='#f8ba3d'/><stop offset='0.8413' stop-color='#febe3c'/><stop offset='0.8571' stop-color='#fec338'/><stop offset='0.8730' stop-color='#fec934'/><stop offset='0.8889' stop-color='#fccf30'/><stop offset='0.9048' stop-color='#fad62d'/><stop offset='0.9206' stop-color='#f7dc2a'/><stop offset='0.9365' stop-color='#f5e327'/><stop offset='0.9524' stop-color='#f5e924'/><stop offset='0.9683' stop-color='#f6ef20'/><stop offset='0.9841' stop-color='#f7f51b'/><stop offset='1.0000' stop-color='#f9fb15'/></linearGradient></defs>
<rect x='1245.2' y='68.1' width='15.70' height='458.40' fill='url(#cbg)'/>
<line x1='1260.60' y1='68.10' x2='1260.60' y2='526.50' stroke='#6a6a6a' stroke-width='0.7'/>
<line x1='1257.40' y1='526.50' x2='1260.90' y2='526.50' stroke='#555' stroke-width='0.8'/>
<line x1='1257.40' y1='411.90' x2='1260.90' y2='411.90' stroke='#555' stroke-width='0.8'/>
<line x1='1257.40' y1='297.30' x2='1260.90' y2='297.30' stroke='#555' stroke-width='0.8'/>
<line x1='1257.40' y1='182.70' x2='1260.90' y2='182.70' stroke='#555' stroke-width='0.8'/>
<line x1='1257.40' y1='68.10' x2='1260.90' y2='68.10' stroke='#555' stroke-width='0.8'/>
<line x1='1182.2' y1='0' x2='1182.2' y2='47.6' stroke='#000' stroke-width='1.8'/><line x1='1350' y1='0' x2='1350' y2='47.6' stroke='#000' stroke-width='1.8'/>
<text transform='translate(8.75,73.63) scale(1.0500,1.0325)' font-family='Liberation Serif' font-size='46' font-style='normal' font-weight='normal' fill='#000'>(a)</text>
<text transform='translate(43.45,511.15) scale(0.9239,0.9934)' font-family='Liberation Serif' font-size='45' font-style='normal' font-weight='normal' fill='#000'>0.0</text>
<text transform='translate(44.14,432.17) scale(0.9239,0.9934)' font-family='Liberation Serif' font-size='45' font-style='normal' font-weight='normal' fill='#000'>0.2</text>
<text transform='translate(42.52,353.19) scale(0.9239,0.9934)' font-family='Liberation Serif' font-size='45' font-style='normal' font-weight='normal' fill='#000'>0.4</text>
<text transform='translate(42.99,274.21) scale(0.9239,0.9934)' font-family='Liberation Serif' font-size='45' font-style='normal' font-weight='normal' fill='#000'>0.6</text>
<text transform='translate(43.45,195.23) scale(0.9239,0.9934)' font-family='Liberation Serif' font-size='45' font-style='normal' font-weight='normal' fill='#000'>0.8</text>
<text transform='translate(43.45,116.25) scale(0.9239,0.9934)' font-family='Liberation Serif' font-size='45' font-style='normal' font-weight='normal' fill='#000'>1.0</text>
<text transform='translate(95.91,549.21) scale(0.9056,0.9738)' font-family='Liberation Serif' font-size='45' font-style='normal' font-weight='normal' fill='#000'>0</text>
<text transform='translate(193.79,549.70) scale(0.9284,0.9983)' font-family='Liberation Serif' font-size='45' font-style='normal' font-weight='normal' fill='#000'>2</text>
<text transform='translate(291.25,549.70) scale(0.9363,1.0068)' font-family='Liberation Serif' font-size='45' font-style='normal' font-weight='normal' fill='#000'>4</text>
<text transform='translate(389.19,549.21) scale(0.9131,0.9818)' font-family='Liberation Serif' font-size='45' font-style='normal' font-weight='normal' fill='#000'>6</text>
<text transform='translate(487.51,549.21) scale(0.9056,0.9738)' font-family='Liberation Serif' font-size='45' font-style='normal' font-weight='normal' fill='#000'>8</text>
<text transform='translate(574.21,549.21) scale(0.9056,0.9738)' font-family='Liberation Serif' font-size='45' font-style='normal' font-weight='normal' fill='#000'>10</text>
<text transform='translate(30.40,318.24) rotate(-90) scale(1.0577,1.0400)' font-family='Liberation Serif' font-size='44' font-style='italic' font-weight='normal' fill='#000'>P</text>
<text transform='translate(109.10,493.43) scale(0.9837,1.0857)' font-family='Liberation Serif' font-size='33' font-style='normal' font-weight='normal' fill='#000'>vacuum</text>
<text transform='translate(484.56,216.39) scale(0.9887,1.0170)' font-family='Liberation Serif' font-size='34.5' font-style='normal' font-weight='bold' fill='#E41A1C'>α=1.0</text>
<text transform='translate(456.36,300.01) scale(0.9943,0.9702)' font-family='Liberation Serif' font-size='34.5' font-style='normal' font-weight='bold' fill='#377EB8'>α=0.95</text>
<text transform='translate(406.96,348.35) scale(0.9950,0.9064)' font-family='Liberation Serif' font-size='34.5' font-style='normal' font-weight='bold' fill='#4DAF4A'>α=0.9</text>
<text transform='translate(350.06,393.42) scale(0.9956,0.9617)' font-family='Liberation Serif' font-size='34.5' font-style='normal' font-weight='bold' fill='#984EA3'>α=0.8</text>
<text transform='translate(294.25,454.20) scale(1.0013,0.9915)' font-family='Liberation Serif' font-size='34.5' font-style='normal' font-weight='bold' fill='#FF7F00'>α=0.5</text>
<text transform='translate(672.96,73.96) scale(1.0207,1.0296)' font-family='Liberation Serif' font-size='47' font-style='normal' font-weight='normal' fill='#000'>(b)</text>
<text transform='translate(716.48,155.70) scale(0.8074,1.0800)' font-family='Liberation Serif' font-size='38' font-style='normal' font-weight='normal' fill='#000'>1</text>
<text transform='translate(685.46,270.59) scale(1.0292,1.0252)' font-family='Liberation Serif' font-size='38' font-style='normal' font-weight='normal' fill='#000'>0.8</text>
<text transform='translate(685.44,387.16) scale(1.0369,1.0757)' font-family='Liberation Serif' font-size='38' font-style='normal' font-weight='normal' fill='#000'>0.6</text>
<text transform='translate(685.26,502.37) scale(1.0242,1.0524)' font-family='Liberation Serif' font-size='38' font-style='normal' font-weight='normal' fill='#000'>0.4</text>
<text transform='translate(667.23,381.98) rotate(-90) scale(1.0228,1.0079)' font-family='Liberation Serif' font-size='42' font-style='normal' font-weight='normal' fill='#000'>Fidelity</text>
<text transform='translate(731.38,538.20) scale(0.8370,1.0520)' font-family='Liberation Serif' font-size='38' font-style='normal' font-weight='normal' fill='#000'>1</text>
<text transform='translate(788.81,540.76) scale(1.0584,1.0874)' font-family='Liberation Serif' font-size='38' font-style='normal' font-weight='normal' fill='#000'>0.9</text>
<text transform='translate(862.96,542.28) scale(1.0247,1.0447)' font-family='Liberation Serif' font-size='38' font-style='normal' font-weight='normal' fill='#000'>0.8</text>
<text transform='translate(936.77,545.07) scale(1.0178,1.0602)' font-family='Liberation Serif' font-size='38' font-style='normal' font-weight='normal' fill='#000'>0.7</text>
<text transform='translate(1010.32,547.47) scale(1.0525,1.0680)' font-family='Liberation Serif' font-size='38' font-style='normal' font-weight='normal' fill='#000'>0.6</text>
<text transform='translate(1084.48,550.07) scale(1.0112,1.0680)' font-family='Liberation Serif' font-size='38' font-style='normal' font-weight='normal' fill='#000'>0.5</text>
<text transform='translate(1141.26,537.53) scale(1.0938,1.0667)' font-family='Liberation Serif' font-size='38' font-style='normal' font-weight='normal' fill='#000'>0</text>
<text transform='translate(1167.00,511.50) scale(1.1410,1.0693)' font-family='Liberation Serif' font-size='38' font-style='normal' font-weight='normal' fill='#000'>2</text>
<text transform='translate(1195.46,485.20) scale(0.9803,1.0560)' font-family='Liberation Serif' font-size='38' font-style='normal' font-weight='normal' fill='#000'>4</text>
<text transform='translate(1269.06,81.40) scale(1.0241,0.9959)' font-family='Liberation Serif' font-size='36' font-style='normal' font-weight='normal' fill='#000'>0.2</text>
<text transform='translate(1269.13,196.39) scale(0.9817,1.0204)' font-family='Liberation Serif' font-size='36' font-style='normal' font-weight='normal' fill='#000'>0.15</text>
<text transform='translate(1269.17,310.31) scale(0.9527,0.9796)' font-family='Liberation Serif' font-size='36' font-style='normal' font-weight='normal' fill='#000'>0.1</text>
<text transform='translate(1269.13,425.29) scale(0.9817,1.0163)' font-family='Liberation Serif' font-size='36' font-style='normal' font-weight='normal' fill='#000'>0.05</text>
<text transform='translate(1269.27,539.44) scale(1.0867,1.0268)' font-family='Liberation Serif' font-size='36' font-style='normal' font-weight='normal' fill='#000'>0</text>
<text transform='translate(1186.37,34.20) scale(1.0713,1.0210)' font-family='Liberation Serif' font-size='40' font-style='italic' font-weight='normal' fill='#000'>N</text>
<text transform='translate(1211.83,43.25) scale(1.0667,0.9935)' font-family='Liberation Serif' font-size='23' font-style='normal' font-weight='normal' fill='#000'>6</text>
<text transform='translate(1230.17,38.21) scale(1.0649,1.0649)' font-family='Liberation Serif' font-size='40' font-style='normal' font-weight='normal' fill='#000'>−</text>
<text transform='translate(1257.37,34.20) scale(1.0713,1.0210)' font-family='Liberation Serif' font-size='40' font-style='italic' font-weight='normal' fill='#000'>N</text>
<text transform='translate(1282.87,43.25) scale(1.0256,0.9935)' font-family='Liberation Serif' font-size='23' font-style='normal' font-weight='normal' fill='#000'>6</text>
<text transform='translate(1296.77,33.18) scale(1.0439,0.9793)' font-family='Liberation Serif' font-size='40' font-style='normal' font-weight='normal' fill='#000'>(</text>
<text transform='translate(1308.27,33.94) scale(0.9910,1.0250)' font-family='Liberation Serif' font-size='40' font-style='italic' font-weight='normal' fill='#000'>th</text>
<text transform='translate(1335.58,33.18) scale(0.9756,0.9793)' font-family='Liberation Serif' font-size='40' font-style='normal' font-weight='normal' fill='#000'>)</text>
<g fill='none' stroke='#000' stroke-linecap='round' stroke-linejoin='round'>
<path d='M338.8,573.9 C339.6,571.2 341.2,568.6 343.4,568.2 C345.6,567.9 346.3,570 346,573 C345.7,577 344.8,581.5 343.6,585.6' stroke-width='2.1'/>
<path d='M359.6,567.6 C354,574 348.5,580 344.2,585.4' stroke-width='1.1'/>
<path d='M344.2,585.4 C342,589 339.8,592.8 337.9,596.4' stroke-width='2.6'/>
<path d='M362.2,563.6 L355.2,585 C354.8,587 356,587.4 357.5,586.3 C358.8,585.3 359.8,584.5 360.6,583.8' stroke-width='2.3'/>
<path d='M355.4,569.4 H364.6' stroke-width='1.1'/>
</g>
<g fill='none' stroke='#000' stroke-linecap='round' stroke-linejoin='round'>
<path d='M1196.4,524.4 C1197.6,519.6 1200.3,516.6 1203.2,516.5 C1207.6,516.5 1210.9,521.2 1211.9,528.6' stroke-width='1.7'/>
<path d='M1218,516.9 C1215.2,521.5 1212.4,528 1210.9,533.5 C1210,537 1209.2,540.5 1208.5,543.6' stroke-width='1.35'/>
<path d='M1229.9,509.2 L1224.7,530.5 C1224.2,533.6 1225.6,535.4 1227.6,534.4 C1229.8,533.3 1231.9,531.2 1233.3,529.3' stroke-width='1.7'/>
<path d='M1221.4,517.4 H1233.7' stroke-width='1.1'/>
</g>
<g fill='none' stroke='#000' stroke-linecap='round' stroke-linejoin='round'>
<path d='M931.9,584.2 C931,577.2 928.4,571.8 924.6,571.7 C918.6,571.6 913.7,577.5 913.7,583.6 C913.7,588 916.4,590.4 920.2,590.4 C925.4,590.4 929.6,585.6 932.1,581.6 L936.8,573.9' stroke-width='1.75'/>
<path d='M931.9,584.2 C932.3,588 932.9,590.4 934.6,590.4 C935.6,590.4 936.4,589.2 936.9,587.8' stroke-width='1.3'/>
</g>
</svg></body></html>
